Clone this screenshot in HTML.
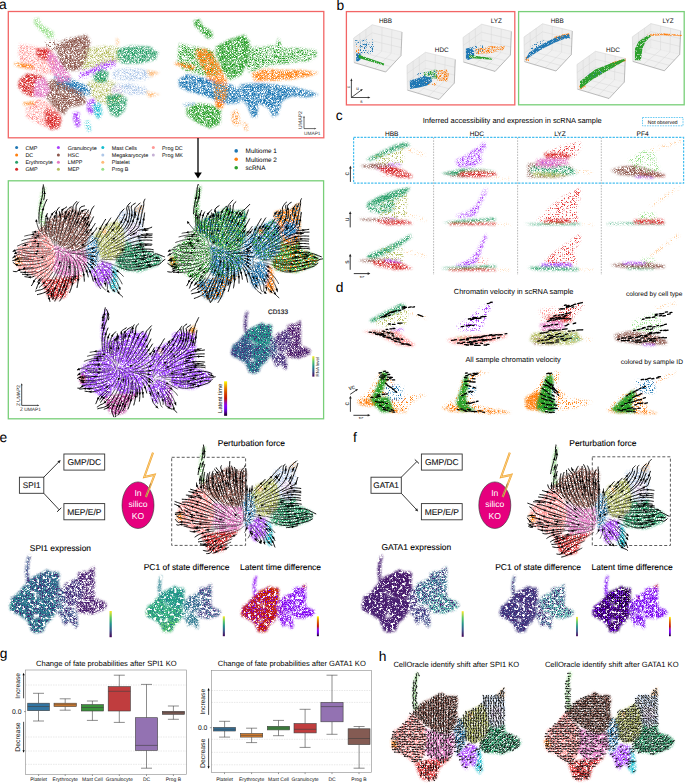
<!DOCTYPE html>
<html><head><meta charset="utf-8"><style>
html,body{margin:0;padding:0;background:#fff;width:685px;height:783px;overflow:hidden}
svg{display:block}
text{font-family:"Liberation Sans",sans-serif;text-rendering:geometricPrecision}
</style></head><body>
<svg width="685" height="783" viewBox="0 0 685 783">
<defs>
<filter id="nz" x="0" y="0" width="685" height="783" filterUnits="userSpaceOnUse">
<feTurbulence type="fractalNoise" baseFrequency="1.5" numOctaves="2" seed="4"/>
<feColorMatrix type="matrix" values="0 0 0 0 1  0 0 0 0 1  0 0 0 0 1  4 0 0 0 -1.38"/>
</filter>
<filter id="nz0" x="0" y="0" width="685" height="783" filterUnits="userSpaceOnUse">
<feTurbulence type="fractalNoise" baseFrequency="1.5" numOctaves="2" seed="21"/>
<feColorMatrix type="matrix" values="0 0 0 0 1  0 0 0 0 1  0 0 0 0 1  4 0 0 0 -0.9"/>
</filter>
<mask id="spk0" maskUnits="userSpaceOnUse" x="0" y="0" width="685" height="783">
<rect x="0" y="0" width="685" height="783" fill="#fff" filter="url(#nz0)"/>
</mask>
<filter id="nzh" x="0" y="0" width="685" height="783" filterUnits="userSpaceOnUse">
<feTurbulence type="fractalNoise" baseFrequency="0.35" numOctaves="2" seed="31"/>
<feColorMatrix type="matrix" values="0 0 0 0 1  0 0 0 0 1  0 0 0 0 1  9 0 0 0 -2.8"/>
</filter>
<mask id="holes" maskUnits="userSpaceOnUse" x="0" y="0" width="685" height="783">
<rect x="0" y="0" width="685" height="783" fill="#fff" filter="url(#nzh)"/>
</mask>
<filter id="nz2" x="0" y="0" width="685" height="783" filterUnits="userSpaceOnUse">
<feTurbulence type="fractalNoise" baseFrequency="1.5" numOctaves="2" seed="9"/>
<feColorMatrix type="matrix" values="0 0 0 0 1  0 0 0 0 1  0 0 0 0 1  4 0 0 0 -1.65"/>
</filter>
<filter id="nz3" x="0" y="0" width="685" height="783" filterUnits="userSpaceOnUse">
<feTurbulence type="fractalNoise" baseFrequency="1.5" numOctaves="2" seed="13"/>
<feColorMatrix type="matrix" values="0 0 0 0 1  0 0 0 0 1  0 0 0 0 1  6 0 0 0 -3.0"/>
</filter>
<mask id="spk2" maskUnits="userSpaceOnUse" x="0" y="0" width="685" height="783">
<rect x="0" y="0" width="685" height="783" fill="#fff" filter="url(#nz2)"/>
</mask>
<mask id="spk3" maskUnits="userSpaceOnUse" x="0" y="0" width="685" height="783">
<rect x="0" y="0" width="685" height="783" fill="#fff" filter="url(#nz3)"/>
</mask>
<filter id="bl" x="-10%" y="-10%" width="120%" height="120%"><feGaussianBlur stdDeviation="1.3"/></filter>
<mask id="spk" maskUnits="userSpaceOnUse" x="0" y="0" width="685" height="783">
<rect x="0" y="0" width="685" height="783" fill="#fff" filter="url(#nz)"/>
</mask>
</defs>
<defs><clipPath id="cpa"><rect x="9" y="184" width="314" height="234"/></clipPath></defs><g clip-path="url(#cpa)">
<g mask="url(#spk)"><g filter="url(#bl)"><path d="M18.2,246.8 L22.8,245.2 L29.8,239.6 L34.4,233.2 L39.1,229.1 L46.0,235.9 L53.4,245.0 L55.8,255.9 L53.4,269.5 L48.8,279.0 L41.4,281.3 L34.4,276.8 L27.5,272.2 L18.2,268.8 L14.7,263.2 L15.9,255.9Z" fill="#ff9896" /><path d="M14.7,257.0 L21.0,256.3 L22.4,264.5 L15.9,266.1Z" fill="#ff7f0e" /><path d="M41.4,225.3 L49.5,218.5 L57.6,215.1 L66.9,210.5 L71.5,207.8 L78.5,211.7 L87.8,211.0 L90.6,215.1 L88.9,226.4 L90.6,235.0 L85.9,246.8 L78.5,251.8 L66.9,249.5 L55.3,242.7 L46.0,235.9 L39.1,229.1Z" fill="#8c564b" /><path d="M43.7,186.7 L46.0,187.8 L43.7,199.2 L43.2,215.1 L44.9,225.3 L40.2,225.3 L38.6,210.5 L40.4,194.6Z" fill="#98df8a" /><path d="M53.4,245.0 L66.9,249.5 L78.5,251.8 L85.9,249.1 L88.2,262.7 L83.6,272.2 L74.3,276.8 L59.9,276.8 L53.0,270.0 L55.8,255.9Z" fill="#e377c2" /><path d="M48.8,279.0 L59.9,276.8 L74.3,276.8 L83.6,273.6 L78.5,279.0 L69.7,285.8 L65.7,297.2 L55.3,299.5 L48.3,297.2 L44.2,288.1 L41.4,281.3Z" fill="#d62728" /><path d="M93.6,235.9 L97.5,232.1 L98.9,227.5 L104.0,226.4 L111.0,223.0 L117.9,219.6 L123.0,226.4 L125.3,240.0 L123.0,251.8 L115.6,258.6 L106.3,260.9 L99.4,256.3 L97.0,244.6Z" fill="#b5bd61" /><path d="M134.2,210.5 L138.8,206.0 L142.7,203.3 L143.4,210.5 L140.2,214.2Z" fill="#ffbb78" /><path d="M102.2,229.1 L105.9,228.2 L106.8,233.7 L102.8,234.6Z" fill="#ffbb78" /><path d="M125.3,240.5 L134.2,245.0 L142.7,240.5 L143.9,249.1 L150.9,251.4 L159.7,255.4 L162.0,259.3 L157.8,265.4 L148.5,268.8 L139.3,272.2 L131.8,271.1 L120.2,270.0 L115.6,265.4 L116.1,258.6 L123.0,251.8Z" fill="#279e68" /><path d="M88.2,272.2 L95.2,267.7 L101.7,260.9 L111.0,263.2 L114.4,268.4 L113.3,276.3 L109.1,285.8 L104.5,281.3 L99.8,288.1 L95.9,284.7 L92.4,274.5Z" fill="#aa40fc" /><path d="M111.0,264.5 L116.1,268.4 L117.2,276.3 L118.4,288.1 L114.9,292.6 L109.1,285.8 L112.6,276.3Z" fill="#17becf" /></g></g>
<g mask="url(#spk2)"><g filter="url(#bl)"><path d="M85.9,246.8 L90.6,235.0 L93.6,235.9 L97.5,238.2 L99.8,255.9 L95.2,267.7 L88.2,272.2 L87.1,260.4Z" fill="#1f77b4" /><path d="M117.9,219.6 L117.9,212.8 L124.9,210.5 L134.2,210.5 L138.8,206.4 L142.7,204.8 L143.4,226.4 L142.7,240.5 L134.2,245.0 L125.3,240.5 L123.0,226.4Z" fill="#aec7e8" /><path d="M127.7,224.1 L138.3,222.3 L141.1,233.7 L131.8,238.2 L126.3,233.7Z" fill="#c5b0d5" /></g></g>
<path d="M53.2 249.4l0 0 0 0 0 0 0 0 0 0 0 0 0 0 0 0 0 0 0 0 0 0 .2-.1 .1-.1 0-.1 1.4 .1 1.4 0 1.3-.2 1.3-.6 1.2-.7 1.1-.9 1-1 .9-1.1 .8-1.1 .8-1.2 .7-1.1 .8-1.2 .7-1.3M100.8 261.4l1.3 .2 1.4 .3 1.4 .3 1.3 .3 1.4 .4 1.3 .4 1.4 .4 1.3 .4 1.3 .5 1.3 .5 1.3 .5 1.4 .5M52.2 246.2l-1-1-1.2-.7-1.2-.7-1.3-.6-1.3-.5-1.3-.4-1.4-.4-1.4-.2-1.3-.2-1.4-.1-1.4 0-1.4 0M98.6 261.2l0 .1-.1 .6-1-1-.7-1.2-.2-1.4 .1-1.4 .3-1.4 .5-1.3 .6-1.2 .7-1.2 .8-1.2 .8-1.1 .9-1.1 .9-1.1 .9-1.1M101.1 252l1-1 1-1 1.1-.9 1-.9 1.1-.9M58.6 250.1l1.3 .6 1.2 .6 1.2 .7 1.1 .9 .9 1 .9 1.2 .6 1.2 .5 1.3 .4 1.4 .2 1.3M97.3 263.9l.4 1.3 .6 1.3 .6 1.2 .7 1.3 .7 1.2 .7 1.2 .7 1.2 .7 1.2 .7 1.2 .7 1.2M63.3 251.1l1.3 .4 1.4 .3 1.4 .3 1.3 .3 1.4 .3 1.4 .3M65.5 249.3l1.3-.5 1.3-.6 1.2-.6 1.2-.8 1.1-.8M54.7 246.1l0-1.4-.1-1.4-.1-1.4-.1-1.4-.1-1.4-.1-1.4 0-1.4 .1-1.4 .1-1.4M67.8 251.2l1.4 0 1.4-.1 1.4-.2M67.7 255.9l.7 1.2 .6 1.2M61.5 254l.4 1.3 .3 1.4 0 1.4 0 1.4-.2 1.4-.2 1.4-.3 1.3M50.6 248.9l-1.3-.2-1.4-.2-1.4-.2-1.4-.1-1.4-.1-1.4-.1-1.4 0-1.4 0-1.4 0-1.4 0-1.4 0-1.4 0M55.5 252.2l-.4 1.3-.6 1.3-.8 1.2-.8 1.1-1 1-1.1 .9-1.1 .7-1.3 .7-1.2 .6-1.3 .5-1.4 .5-1.3 .4M96.1 250.8l.5-1.4 .5-1.3 .6-1.2 .7-1.3M58 251.9l.3 1.4 0 1.4-.1 1.4-.3 1.3-.4 1.4-.5 1.3-.6 1.2-.6 1.3-.7 1.2-.7 1.3M99.4 260.4l1.3-.4 1.4-.2 1.4-.2 1.4-.1 1.4 0 1.4 0 1.4 0 1.4 0 1.4 .1 1.4 .1 1.4 .1 1.4 0 1.4 .1M53 250.5l-1.4 .4-1.4 .1-1.4 .1-1.4 0-1.4 .1-1.4 0-1.4 0-1.4 0-1.4 .1-1.4 0-1.4 0-1.4 0-1.4 0-1.4 .1M67.7 246.4l1-.9 1.1-.9 1-1M103.7 252.8l1.1-.7 1.2-.8 1.2-.7 1.2-.7 1.2-.7M65.6 245.5l1-1 .9-1 .9-1.1 .8-1.1M101.9 258.5l1.3-.4 1.4-.4 1.3-.3 1.4-.3 1.4-.2 1.4-.2 1.4-.2 1.4-.2 1.3-.2 1.4-.1M53 261.7l-.9 1.1-1 1-1 1M113.4 257.7l1.4-.1 1.4 0M55.9 246.1l.3-1.4 .2-1.3 .2-1.4 .1-1.4 .2-1.4 .2-1.4 .2-1.4 .2-1.4 .3-1.3M101.5 266.4l.9 1 1 1.1 .9 1 1 1 .9 1.1 .9 1.1 .8 1.1 .8 1.1M58.9 246.2l.8-1.2 .7-1.2 .6-1.3 .6-1.2 .5-1.3 .6-1.3 .5-1.3 .5-1.3M101.9 263.8l1.2 .7 1.2 .7 1.2 .7 1.2 .8 1.1 .8 1.2 .8 1.1 .9 1.1 .8 1 1 1.1 .9M53.1 243.7l-.5-1.3-.5-1.3-.5-1.3-.6-1.3-.5-1.3-.5-1.3-.5-1.3-.3-1.4M49 241.7l-1.2-.8-1.2-.7-1.2-.7-1.3-.6-1.3-.4-1.4-.4-1.4-.2M63.9 256.5l.3 1.3 .2 1.4 0 1.4-.1 1.4M53 252.7l-1.1 .8-1.3 .6-1.4 .4-1.3 .3-1.4 .3-1.4 .3-1.3 .2-1.4 .2-1.4 .1-1.4 .2-1.4 .1-1.4 .1-1.4 0M48 236.6l-.7-1.2-.6-1.3M43.3 244l-1.3-.2-1.4-.1-1.4 0-1.4-.1-1.4 .1-1.4 0M50.4 252.5l-1.4 .2-1.4 .2-1.4 .2-1.4 .1-1.4 .1-1.4 .1-1.4 .1-1.4 0-1.4 .1-1.4 0-1.4 .1M96 272.8l.4 1.3 .5 1.3 .5 1.3 .5 1.3M116.1 261.1l1.3 .2M102.5 256l1.2-.6 1.3-.6 1.3-.6 1.3-.5 1.3-.5 1.3-.5 1.3-.5 1.3-.5M45.6 259.1l-1.4 .4-1.4 .3-1.3 .3-1.4 .3M111 266.9l1.2 .7 1.2 .7 1.1 .8M58 244.1l.4-1.3 .4-1.3 .4-1.4 .3-1.3 .4-1.4 .4-1.3 .3-1.4M45.6 236.5l-1.1-.9-1-1M45.1 246.6l-1.4-.2-1.4-.1-1.4-.1-1.4 0-1.4 0-1.4 0-1.4 0-1.4 .1M47.3 256.5l-1.3 .3-1.4 .3-1.4 .2-1.4 .2-1.3 .2-1.4 .2-1.4 .2M42.9 236.3l-1.3-.3M52.2 236.8l-.2-1.4-.1-1.4 0-1.4M60.2 260.4l-.3 1.3-.4 1.3-.5 1.4" fill="none" stroke="#000" stroke-width="0.45" stroke-linejoin="round"/><path d="M66.9 238.8l.6-1.2 .7-1.2 .6-1.3 .7-1.2 .6-1.3 .6-1.2 .6-1.3 .6-1.3 .6-1.2 .6-1.3 .5-1.3 .6-1.3M116.9 266.1l1.3 .5 1.2 .5 1.3 .5 1.4 .6 1.3 .4 1.3 .5 1.3 .4 1.4 .3 1.4 .2 1.4 .1 1.4 .1 1.4-.1 1.4-.1M36.6 241.4l-1.4 0-1.4 .1-1.4 .1-1.4 .2-1.4 .2-1.4 .2-1.4 .3-1.3 .4-1.4 .4-1.3 .4-1.3 .5-1.3 .6-1.2 .6-1.3 .5-.7 .3M103.1 246.2l1-1 1-1 1-1 .9-1 1-1 1-.9 1.1-1 1-1 1-.9 1-1 1-1 1-1 .9-1M106.3 247.3l1.1-.9 1.1-.9 1.1-.8 1.1-.9 1.1-.8 1.2-.8 1.1-.9 1.1-.8 1.1-.8 1.2-.9 1.1-.8 1.1-.9 1.1-.8M66.9 260.3l.1 1.4 .1 1.4-.1 1.4-.1 1.4-.2 1.4-.2 1.4-.2 1.4-.4 1.3-.3 1.4-.4 1.3-.4 1.4-.4 1.3-.4 1.3-.5 1.4M103.8 276.2l.6 1.3 .7 1.2 .6 1.3 .5 1.3 .5 1.3 .4 1.3 .3 1.4 .1 1.4-.1 1.4-.2 1.4 .4 1.3 1 1M71.5 253l1.3 .3 1.4 .2 1.4 .3 1.4 .2 1.4 .2 1.3 .3 1.4 .2 1.4 .2 1.4 .2 1.4 .2 1.4 .2 1.4 .1 1.3 .2M71.6 246l1.1-.8 1.1-.9 1.1-1 1-.9 .9-1 1-1.1 .9-1 1-1.1 .9-1 .8-1.1 .9-1.1 .8-1.1 .9-1.2 .8-1.1M54.4 233.5l.2-1.4 .1-1.3 .2-1.4 .3-1.4 .2-1.4 .3-1.4 .2-1.3 .3-1.4 .2-1.4 .2-1.4 .2-1.4M72 250.9l1.4-.2 1.4-.3 1.3-.3 1.4-.5 1.3-.4 1.3-.6 1.2-.5 1.3-.7 1.2-.6 1.3-.7 1.2-.7 1.1-.8 1.2-.8 1.1-.8M96 237.6l.6-1.3 .5-1.3 .6-1.3 .6-1.2 .6-1.3 .7-1.3M114.9 243.5l1.2-.8 1.2-.7 1.2-.8 1.2-.7 1.2-.7 1.2-.8 1.1-.7M69 258.3l.5 1.3 .4 1.4 .3 1.4 .2 1.3 .2 1.4 0 1.4 0 1.4 0 1.4-.1 1.4-.2 1.4-.2 1.4-.2 1.4-.3 1.4-.3 1.3M61.5 263.6l-.4 1.4-.4 1.3-.5 1.3-.5 1.4-.5 1.3-.5 1.2-.6 1.3-.6 1.3-.6 1.3-.6 1.2-.6 1.3-.7 1.2-.6 1.3M33.9 248l-1.4 .1-1.4 0-1.4 0-1.4 .1-1.4 .1-1.4 0-1.4 .1-1.4 .3-1.3 .4-1.4 0-1.4 .2-1.3 .3-1.4 .5M70.1 254.9l1.1 .9 1 .9 1 1.1 .9 1 .7 1.2 .7 1.2 .6 1.3 .6 1.3 .4 1.3 .4 1.4 .2 1.3 .3 1.4 .2 1.4 .1 1.4M43.2 262.4l-1.3 .4-1.4 .3-1.4 .3-1.3 .3-1.4 .3-1.4 .2-1.4 .1-1.4 .2-1.4 .1-1.4 .1-1.4 .1-1.4 0-1.4 .1-1.4 .1-1.4 .1-1.3 .1M77.6 253.2l1.4 .1 1.4 0 1.4 0 1.4 0 1.4-.1 1.4 0 1.4-.1 1.4-.2 1.4-.1M98.4 245.6l.6-1.2 .7-1.2 .8-1.2 .7-1.2 .8-1.1 .8-1.2 .8-1.1 .9-1.1 .8-1.2 .8-1.1 .9-1.1 .8-1.1M54.4 265.1l-.7 1.2-.7 1.1-.8 1.2-.9 1.1-.8 1.1-1 1.1-.9 1-1 1-1 1-1 1-1 1-1 .9-1 1M80.9 251.5l1.4-.3 1.4-.3 1.3-.3 1.4-.4 1.3-.3 1.3-.5 1.4-.4M117.5 259.9l1.4 .1 1.4 0 1.4 .1 1.4 0 1.4-.1 1.4 0 1.4-.1 1.4-.1 1.4-.1 1.4-.1 1.4-.2 1.4-.1 1.3-.2M33.4 251.4l-1.4-.1-1.4 0-1.4 0-1.4-.1-1.4-.2-1.3-.2-1.4-.3-1.3-.6-.5-.5M70.8 243.6l.9-1 1-1.1 .9-1.1 .9-1 .8-1.1 .9-1.2 .8-1.1 .8-1.1 .8-1.2 .8-1.2 .7-1.1 .8-1.2 .7-1.2M68.2 231.7l.5-1.3 .6-1.2 .5-1.3 .5-1.3 .5-1.3 .5-1.3 .5-1.4M39.2 223.8l-.1-1.4-.1-1.4-.1-1.4M76.9 256.6l1.2 .8 1.2 .7 1.1 .9 1.1 .8 1 1 1 1 1 1 .9 1.1M109.6 249.2l1.3-.7 1.2-.6 1.2-.7 1.3-.7 1.2-.6 1.3-.6 1.2-.7 1.2-.6 1.3-.7 1.2-.6 1.3-.6 1.3-.6 1.2-.6M69.2 241.3l.9-1.2 .8-1.1 .7-1.2 .8-1.1 .8-1.2 .7-1.2 .7-1.2 .7-1.2 .7-1.2 .7-1.3 .7-1.2 .6-1.2 .7-1.2M80.5 246.5l1.2-.7 1.2-.8 1.1-.8 1.2-.8 1.1-.9 0 0M115.6 256l1.4-.2 1.4-.2 1.4-.2 1.4-.2 1.4-.2 1.4-.2 1.3-.2 1.4-.2 1.4-.2 1.4-.3 1.4-.2 1.3-.2 1.4-.2 1.4-.3M72.9 261.4l.5 1.4 .3 1.3 .3 1.4 .1 1.4 .1 1.4 .1 1.4 0 1.4 0 1.4-.1 1.4-.2 1.4M50.1 264.8l-1 .9-1.1 .9-1.2 .8-1.2 .7-1.1 .8-1.3 .7-1.2 .7-1.2 .6-1.3 .6-1.2 .7-1.3 .6-1.3 .5-1.3 .5-1.3 .4-1.4 .3M116.2 257.6l1.4-.1 1.4-.1 1.4-.1 1.4-.1 1.4-.1 1.4-.2 1.4-.1 1.4-.1 1.3-.2 1.4-.2 1.4-.2 1.4-.2 1.4-.2 1.4-.2M28.2 244.3l-1.4 .3-1.4 .3-1.3 .4-1.3 .5-.7 .3M57.8 233.7l.3-1.4 .2-1.4 .3-1.4 .3-1.3 .3-1.4 .3-1.4 .2-1.3 .3-1.4 .2-1.4 .1-1.4 .1-1.4M108.7 274.9l.8 1.2 .8 1.2 .7 1.2 .7 1.2 .6 1.2 .6 1.3 .6 1.3 .6 1.2 .6 1.3 .7 1.2 .7 1.3M63.7 236.1l.5-1.3 .5-1.3 .5-1.3 .5-1.3 .5-1.3 .5-1.4 .4-1.3 .5-1.3 .4-1.3 .4-1.4 .4-1.3 .5-1.3M113.3 271.9l1 1 .9 1 1 1 .9 1.1 .9 1.1 .8 1.1 .8 1.2 .7 1.1 .7 1.3 .7 1.2 .6 1.3 0 0M49.2 233.2l-.3-1.4-.2-1.4-.1-1.4 0-1.4 0-1.4 .1-1.3 .2-1.4 .2-1.4 .3-1.4 .3-1.4 .4-1.3M40 237.9l-1.3-.1-1.4 0-1.4 0-1.4 .1-1.4 .2-1.4 .2-1.4 .2-1.4 .2-1.4 .3-1.3 .4-1.4 .3-1.3 .4-1.3 .5-.7 .2M64.3 262l-.1 1.4-.2 1.4-.3 1.4-.3 1.3-.4 1.4-.4 1.3-.4 1.4-.5 1.3-.5 1.3-.5 1.3-.5 1.3-.6 1.3-.5 1.3M35.4 256.3l-1.4 .1-1.4 0-1.4 0-1.4-.1-1.4-.1-1.4-.1-1.4-.2-1.4-.2-1.3-.3-1.4-.4-1.3-.5-1.2-.5-1.2 .6-1.2 .7M47.1 263.8l-1.2 .6-1.3 .6-1.3 .5-1.3 .5-1.3 .5-1.4 .4-1.3 .4-1.4 .4-1.3 .3-1.4 .3-1.4 .3-1.3 .2-1.4 .1-1.4 .1-1.4 .1-1.4 .1-1.4 .1M46.7 234.1l-.6-1.2-.4-1.4-.2-1.4-.2-1.3-.1-1.4-.1-1.4 0-1.4 .1-1.4 .1-1.4 .2-1.4 .2-1.4M35 243.7l-1.4 .1-1.4 .1 0 0M35 253.7l-1.4 0-1.4 0-1.4-.1-1.4 0-1.4-.2-1.3-.2-1.4-.2-1.4-.4-1.2-.6-.6-.4M97.9 278l.6 1.3 .5 1.3 .6 1.3 .7 1.2 .6 1.2 .7 1.3 .7 1.2 .9 1.1 1.1 .8 .9 1.1 .4 .6M117.4 261.3l1.4 .2 1.4 .1 1.4 .1 1.4 .1 1.4 .1 1.4 0 1.4 .1 1.4-.1 1.4 0 1.4-.1 1.4-.1 1.4-.2 1.4-.1M84.5 241.7l1.1-1 1-.9 1-1 1-1M57.6 268.7l-.6 1.2-.6 1.3-.6 1.3-.7 1.2-.6 1.2-.7 1.2-.7 1.3-.7 1.2-.7 1.2M48.8 268.5l-1.1 .9-1.1 .9-1.1 .9-1.1 .8-1.2 .8-1.1 .8-1.1 .8-1.2 .8-1.1 .9-1.1 .9-1 .9M118.4 263.5l1.4 .3 1.4 .3 1.3 .2 1.4 .2 1.4 .2 1.4 .1 1.4 0 1.4 .1 1.4-.1 1.4-.1 1.4-.1 1.4-.1M74.9 266l.2 1.4 .2 1.4 .1 1.4 0 1.4 0 1.4 0 1.4M82.9 263.7l.7 1.2 .7 1.2M112.8 251.7l1.3-.4 1.4-.5 1.3-.5 1.3-.4 1.3-.4 1.4-.5 1.3-.4 1.3-.5 1.4-.4 1.3-.4 1.4-.4 1.3-.4 1.4-.3M40.1 260.4l-1.4 .2-1.4 .2-1.4 .2-1.3 .1-1.4 .1-1.4 .1-1.4 .1-1.4 0-1.4 0-1.4 0-1.4 0-1.4 0-1.4 .1-1.4 0-1.4 0M95.9 243.8l.6-1.3 .5-1.3 .6-1.3 .6-1.2 .7-1.3 .6-1.2 .7-1.2 .7-1.3 .7-1.2 .7-1.2 .8-1.2M114.5 269.1l1.2 .7 1.2 .9 1.1 .8 1.1 .8 1.1 .9 1 1 1 .9 1 1.1 .4 .5M117 253.9l1.4-.3 1.3-.3 1.4-.3 1.4-.3 1.4-.2 1.3-.3 1.4-.3 1.4-.3 1.3-.3 1.4-.3 1.4-.2 1.4-.3M75.1 246.2l1.1-.9 1.1-.8 1.1-.9 1.1-.9 1-1 1-.9 1-1 1-1 .9-1 1-1.1 .9-1.1M60.6 234.7l.4-1.3 .4-1.4 .4-1.3 .3-1.4 .4-1.3 .3-1.4 .4-1.4 .3-1.3 .3-1.4 .2-1.4 .3-1.3M33.5 267.3l-1.4 .2-1.4 .2-1.4 .1-1.4 .1-1.4 .1-1.4 .1-1.3 .1M111.2 273.6l.9 1.1 .8 1.1 .8 1.1 .8 1.2 .7 1.2 .7 1.2 .7 1.2 .7 1.2 .6 1.3 .6 1.3 .6 1.2 .5 1.3M43.5 234.6l-1.1-.9-.3-1.3-.2-1.4-.2-1.4-.1-1.4-.2-1.4-.1-1.4 0-1.4 0-1.4 0-1.4 0-1.4M77.1 259.4l.9 1.1 .8 1.1 .8 1.2 .7 1.2 .7 1.2 .5 1.3 .5 1.3 .5 1.3M33.9 246.3l-1.4 0-1.4 .1-1.4 .1 0 0M53 271.6l-.8 1.2-.8 1.1-.8 1.2-.8 1.1-.9 1.1-.9 1.1-.9 1M115.9 248.5l1.3-.6 1.2-.5 1.3-.5 1.3-.6 1.3-.5 1.3-.5 1.3-.5 1.3-.5 1.4-.5 1.3-.5M130.4 248.7l1.4-.3M33.8 259.3l-1.4 .1-1.4 0-1.4 0-1.4-.1-1.4 0-1.4-.1-1.4 0-1.4-.1-1.4 0-1.4 0-1.3 .2-1.4 .2M37.7 258.1l-.7 0M40.9 234l-1.4-.1-1.4 0-1.4 .1-1.4 .1-1.4 .2-1.4 .1-1.4 .3-1.3 .2-1.4 .3-1.4 .3-1.3 .3-1.4 .4 0 0M123.3 266.4l1.4 .3 1.4 .2 1.4 .2 1.4 .1 1.4 .1 1.4-.1 1.4-.1 1.4-.1M96 281.4l.6 1.2 .7 1.3 .7 1.2 .8 1.2 .8 1.1 .9 1.1 .5 .5M41.6 236l-1.4-.1-1.4-.1-1.4 .1-1.4 0-1.4 .1-1.4 .2-1.4 .2 0 0M51.9 232.6l.1-1.4 .1-1.4 .1-1.3 .2-1.4 .2-1.4 .3-1.4 .3-1.4 .3-1.3 .3-1.4 .4-1.3 .3-1.4M69 261.3l.2 1.3 .1 1.4 0 1.4 0 1.4-.1 1.4-.1 1.4-.2 1.4-.2 1.4-.1 .7M65.2 222l.3-1.4 .3-1.4M82.7 256.4l1.4 .5 1.3 .4 1.3 .5 1.3 .5 1.3 .5M40.6 232l-.8-1.1-.7-1.2-.6-1.3-.5-1.3-.4-1.3-.4-1.4-.3-1.3-.3-1.4-.3-1.4M21.4 253.2l-1-.9-1.3-.4-1.4 .3-1.3 .5-1.2 .7M46.8 229.8l-.1-1.4-.1-1.4 0-1.4 .1-1.4 .1-1.4 .2-1.4 .2-1.3 .3-1.4M36.1 271l-1.3 .4-1.4 .3-1.3 .3-1.4 .2-1.4 .1-1.4 .1M59 264.4l-.5 1.3 0 0M106.4 275.6l.7 1.2 .6 1.2 .7 1.3 .5 1.3 .6 1.3 .4 1.3 .4 1.3 .3 1.4 .3 1.3 .5 1.4 1 1 1.1 .9M74.9 227.3l.6-1.3 .6-1.2M35.3 275.6l-1.2 .6M106 238.2l.9-1.1 .9-1.1 .9-1.1 .9-1 .9-1.1 .9-1.1M28.9 258.2l-1.4-.1-1.4-.1-1.4-.2-1.4-.1-1.4-.1-1.4 .1-1.3 .2-1.4 .4M43.1 276.2l-1 1-1.1 .9M67.4 275.7l-.4 1.3-.4 1.4M120.5 250.6l1.3-.4 1.4-.3 1.3-.4 1.4-.4 0 0M85 234.4l.9-1.1M104.1 280.8l.6 1.3 .4 1.3 .4 1.4 .3 1.3 0 .7M38.1 231.9l-1.4-.1-1.4 .1-1.4 .1-1.3 .1-.7 .1M111.1 241l1.1-.9 1-.9 1.1-.9 1.1-1 1-.9 1.1-.9 0 0" fill="none" stroke="#000" stroke-width="0.7" stroke-linejoin="round"/><path d="M74.2 223.7l.6-1.2 .5-1.3 .6-1.3 .5-1.3 .6-1.3 .5-1.3 .5-1.3 .5-1.3 .5-1.3 .4-1.4 .2-1.3 .3-1.4 1-1 1.3-.5 1.3-.4 1.4-.3 0 0M134.4 270l1.4-.2 1.3-.2 1.4-.2 1.4-.3 1.4-.2 1.3-.3 1.4-.4 1.4-.3 1.3-.3 1.4-.4 1.3-.3 1.4-.4 1.3-.4 1.4-.3 1.3-.4 1.4-.3 1.4-.3 1.2-.3 1.2-.8 1-.9 1-1 1-.9 1.1-1 1.2-.6 0 0M116 233.4l1-1 .9-1.1 1-1 .8-1.1 .9-1.1 .8-1.1 .8-1.2 .8-1.1 .7-1.2 .7-1.3 .6-1.2 .6-1.3 .5-1.3 .4-1.4 .3-1.3 .3-1.4 .2-1.4-.1-1.4-.2-1.4-.3-1.3 .1-1.4 .6-1.3 .8-1.1 .9-1.1 1-.9 .6-.5M120.8 236.3l1.1-.9 1.1-.9 1-.9 1.1-.9 1-1 1-1 1-1 .9-1 .8-1.2 .8-1.1 .7-1.2 .6-1.3 .6-1.3 .4-1.3 .4-1.3 .4-1.4 .3-1.4 .2-1.3 .2-1.4 .1-1.4 .1-1.4 .1-1.4 .1-1.4 .4-1.3 1-1 1-1 1-1 1.1-.9 1.1-.8 0 0M63.5 279.5l-.5 1.3-.4 1.3-.5 1.3-.6 1.3-.5 1.3-.5 1.3-.5 1.3-.5 1.3-.5 1.3-.5 1.3-.5 1.3-.5 1.4-.5 1.3-.5 1.3-.6 1.3-.8 1.1-.3 1.3 0 0M108.6 291.8l.6 .3M89.4 255.8l1.4 .2 1.4 .2 1.4 .2 1.4 .2 .7 .1M84.8 231.6l.8-1.2 .8-1.1 .7-1.2 .8-1.2 .7-1.1 .8-1.2 .7-1.2 .7-1.3 .7-1.2 .6-1.2 .6-1.3 .6-1.2 .3-.7M56.8 218.3l0-1.4-.1-1.4-.4-1.3-.2-1.4 .4-1.3 .6-1.3 .7-1.2 .9-1.1 1-1 0 0M89.7 243l1.2-.8 1.1-.9 1.1-.8 1.1-.9 1-.9 .8-1.1M99.6 229.9l.6-1.2 .7-1.2 .6-1.3 .7-1.2 .7-1.2 .7-1.2 .7-1.2 .7-1.2 .8-1.2 0 0M123.2 238.3l1.2-.8 1.2-.8 1.2-.7 1.1-.8 1.2-.7 1.2-.8 1.2-.8 1.1-.8 1.2-.7 1.1-.8 1.2-.9 1-.9 1-1 .7-1.2 .4-1.3 .4-1.4 .4-1.3 .3-1.4 .3-1.4 .3-1.3 .2-1.4 .3-1.4 .3-1.3 .3-1.4 .3-1.4 .3-1.3 .3-1.4 .4-1.4 .3-1.3 .2-1.4 0-1.4-.1-1.4 .5-1.3 .6-1.3 .3-.6M69.3 277.6l-.3 1.4-.4 1.3-.3 1.4-.5 1.3-.4 1.4-.4 1.3-.5 1.3-.5 1.3-.5 1.3-.5 1.3-.5 1.3-.6 1.3-.6 1.3-.6 1.2-.6 1.3-.7 1.2-.8 1.2-.8 1.1-.4 .6M54.4 280.4l-.6 1.2-.7 1.2-.7 1.3-.7 1.2-.7 1.2-.8 1.1-.8 1.1-1 1.1-1 1-1.1 .8-1.2 .7-1.3 .5-1.3 .5-1.4 .4-1.3 .3-1.4 .4-1.4 .3 0 0M15.9 250.1l-1.3 .5-1.3 .6-.6 .2M78.3 272l.1 1.4 0 1.4 0 1.4 0 1.4-.1 1.4-.1 1.4-.2 1.4-.2 1.4-.2 1.3-.3 1.4-.2 1.4-.2 .7M21.1 265.2l-1.4 .1-1.4 0-1.4-.3-1.2-.7-1.2-.8-1.1-.8-.6-.4M90.2 252.8l1.4-.1 1.4-.2 1.4-.2 1.3-.2 .4-1.3M107.8 231.8l.8-1.2 .9-1.1 .8-1.1 .8-1.2 .8-1.1 .8-1.1 .8-1.2 .8-1.1 .8-1.2 .8-1.2 .7-1.2 .8-1.1 .7-1.2 .8-1.2 .7-1.2 .8-1.1 .8-1.2 .9-1.1 .9-1 1.1-.9 .5-.5M118.5 234.6l1-1 1-1 1-1 .9-1 .9-1.1 .9-1.1 .8-1.1 .7-1.2 .7-1.2 .7-1.3 .5-1.2 .6-1.3 .4-1.4 .4-1.3 .2-1.4 .2-1.4 .2-1.4 0-1.4-.1-1.4-.3-1.3-.3-1.4-.2-1.4 .3-1.4 0 0M42.6 278.8l-.9 1-1 1-.9 1.1-.8 1.1-.8 1.2-.6 1.3-.5 1.3-.4 1.3-.7 1.2 0 0M90.4 249l1.3-.5 1.3-.5 1.3-.5 1.3-.5 .6-.3M135.6 259.1l1.4-.2 1.4-.2 1.4-.2 1.4-.2 1.4-.3 1.3-.2 1.4-.3 1.4-.2 1.4-.3 1.3-.3 1.4-.4 1.3-.4 1.2-.7 1-1.1 1.3-.3 1.3 .2 1.4 .4 1.3 .5 1.3 .6 1.3 .5 1.3 .5 1.3 .5 0 0M81.6 229l.8-1.2 .7-1.2 .7-1.2 .7-1.2 .7-1.2 .7-1.2 .7-1.2 .7-1.2 .7-1.3 .6-1.2 .7-1.3 .6-1.2 .5-1.3 .4-1.4 .5-1.3 .5-1.3 .8-1.2 .8-1.1 .9-1.1 0 0M137.3 230.9l1.3-.5 1.3-.4 1.4-.3 1.3-.2 1.4-.2 1.4-.2 1.4-.3 1.4-.3 1.3-.4 1.3-.5 1.3-.6 0 0M71.8 222.6l.5-1.3 .5-1.3 .5-1.3 .5-1.3 .5-1.3 .5-1.3 .4-1.3 .4-1.4 .2-1.4 .2-1.4 0-1.4 .1-1.4 .3-1.3 .7-1.3 .8-1.1 1-1 0 0M38.9 219.6l0-1.4 0-1.4 .1-1.4 0-1.4 .1-1.4 .2-1.4 .1-1.4 .2-1.3 .2-1.4 .3-1.4 .3-1.4 .3-1.3 .3-1.4 .4-1.4 .3-1.3 .3-1.4 .3-1.4 .1-1.3 .1-1.4 .1-1.4 .1-1.4 0-1.4 .1-1.4 .4-1.4 .2-1.3-.1-.7M85.4 263.9l.8 1.1 .9 1.1 .7 1.2 .7 1.2 .7 1.2 .7 1.3 .5 1.2 .6 1.3 .5 1.3 .4 1.3 .5 1.4 .3 1.3 .4 1.4 .3 1.3 0 0M125.8 240.9l1.3-.6 1.3-.6 1.3-.6 1.2-.5 1.4-.5 1.3-.5 1.3-.4 1.3-.4 1.4-.3 1.4-.3 1.4-.3 1.3-.2 1.4-.1 1.4-.1 1.4-.1 1.4-.1 1.4 0 1.4 0 1.4 .1 .7 0M78.7 225.8l.7-1.3 .6-1.2 .7-1.3 .6-1.2 .7-1.2 .7-1.2 .7-1.2 .8-1.2 .8-1.2 .8-1.1 .9-1.1 .9-1.1 .6-1.2 .6-.3M135 253l1.4-.2 1.4-.2 1.4-.2 1.4-.2 1.3-.1 1.4-.2 1.4-.1 1.4-.1 1.4-.1 1.4 0 1.4 0 1.4 .1 1.4 .2 .7 .2M74 275.3l-.2 1.3-.2 1.4-.2 1.4-.3 1.4-.3 1.4-.3 1.3-.3 1.4-.4 1.3-.4 1.4-.4 1.3-.5 1.3-.5 1.3-.5 1.4 0 0M31.7 274.5l-1.4 .2-1.4 .1-1.4 0-1.4-.1-1.4-.1-1.4-.2-1.3-.2 0 0M139.4 256.2l1.3-.2 1.4-.2 1.4-.2 1.4-.2 1.4-.2 1.4-.2 1.3-.2 0 0M135.7 255.5l1.4-.2 0 0M129.9 232.1l1.1-1 1-.9 1-1 .9-1.1 .8-1.2 .6-1.2 .6-1.2 .5-1.3 .5-1.4 .3-1.3 .4-1.4 .3-1.4 .3-1.3 .3-1.4 .2-1.4 .4-1.3 .3-1.4 .5-1.3 .5-1.3 .5-1.3 .6-1.3 .3-.6M60.4 218.5l0-1.4-.1-1.4-.3-1.4-.3-1.3-.4-1.4-.1-.7M146 265.8l1.4-.3 1.3-.4 1.4-.3 1.4-.3 0 0M116.1 288.5l.7 1.1 .8 1.2 .6 1.3 .6 1.1 1 1 1 1 1 1 1 .9 0 0M69.3 220.3l.4-1.4 .4-1.3 .5-1.3 .5-1.4 .4-1.3 .5-1.3 .4-1.3 .4-1.4 .1-1.4 0-1.4 .5-1.3 .7-1.1 .9-1.1 1-1.1 1-1 0 0M134.7 218.2l.3-1.4 .2-1.4 .2-1.4 .2-1.3 .2-1.4 0 0M116.1 229.5l.9-1.1 .8-1.1 .9-1.1 .7-1.2 .8-1.2 .7-1.2 .7-1.2 .6-1.3 .7-1.2 .6-1.3 .5-1.3 .5-1.3 .5-1.3 0 0M50.1 218l.6-1.3 .6-1.2 .7-1.2 .9-1.1 1-1 1-1 .4-.5M59.1 279.4l-.6 1.3-.5 1.2-.6 1.3-.6 1.3-.6 1.3-.5 1.3-.6 1.2-.5 1.3-.5 1.3-.4 1.4-.3 1.4-.2 1.3 .1 1.4 .2 1.4 .5 1.3 0 0M16.6 255.3l-1.2 .8-1.2 .7-1.2 .8-.6 .4M24.2 269.3l-1.4 .1-1.4 .2-1.4 .2-1.3 .5-1.2 .7-1.2 .7-1.4-.1-1.4-.2-.6-.2M45.7 219l.3-1.4 .3-1.3 .5-1.4 .5-1.3 .3-.6M43.6 200.2l.4-1.3 .3-1.4 .2-1.3 .1-1.4 0-1.4-.1-1.4-.2-1.4-.1-1.4-.3-1.4-.2-1.4 0 0M87 262.1l1.1 .9 1 1 1 1 1 1 .9 1.1 .8 1 .9 1.2 .8 1.1 .8 1.2 .7 1.2M135.6 261.4l1.4-.2 0 0M88.6 237.8l1-1 1-1 .9-1 .9-1.1 .9-1 .9-1.1 .9-1.1 .9-1.1 .5-1.3 .3-.6M51.7 279.8l-.8 1.1-.8 1.2-.8 1.1-.9 1.1-1 1-1 1-1 1-1.1 .8-1.2 .7-1.3 .6-1.3 .5-1.4 .2-1.4 .3-1.3 .4-1.3 .5 0 0M36.6 277.9l-1 1-.9 1.1-.8 1.1-.6 1.3-.6 1.3-.6 1.2-.9 1.1 0 0M142.5 227.1l.2-1.4 .2-1.4 .2-1.3 .2-1.4 .2-1.4 .2-1.4 .3-1.4 .2-1.4 .2-1.3 .2-1.4 .1-.7M135.1 264.5l1.4-.2 1.4-.2 1.3-.3 1.4-.2 1.4-.2 1.4-.3 1.3-.3 1.4-.3 1.4-.3 1.3-.3 1.4-.3 1.4-.3 1.3-.3 1.4-.2 1.4-.2 1.4 0 1.4 .1 1.4-.1 .7-.2M75.4 274.4l-.1 1.4-.2 1.4-.1 1.4-.2 1.4 0 0M84.3 266.1l.7 1.2 .6 1.3 .6 1.3 .5 1.3 .4 1.3 .4 1.4 .4 1.3 .3 1.4 .1 .7M130.2 246.2l1.3-.4 1.4-.3 1.3-.3 1.4-.3 1.4-.2 1.4-.3 1.4-.2 1.3-.1 1.4-.1 1.4-.1 1.4-.1 1.4 .1 1.4 0 1.4 .1 1.4 .1 1.4 .2 0 0M19.2 261.5l-1.4-.1 0 0M103.1 230.1l.7-1.2 .7-1.2 .8-1.1 .7-1.2 .8-1.2 .7-1.2 .8-1.2 .8-1.1 .7-1.2 .8-1.2 .4-.6M133.5 250.5l1.3-.2 1.4-.2 1.4-.2 1.4-.2 1.4-.2 1.4-.2 1.4-.1 1.4-.1 1.4 0 1.4 0 1.4 0 1.4 .1 1.3 .2 1.4 .2 .7 .2M152.6 258.6l1.3-.4 1.4-.4 1.4 .1 1.3 .3 1.4 .3 .7 .2M86.3 235.6l.9-1 .9-1.1 .8-1.1 .9-1.1 .8-1.1 .9-1.2 .8-1.1 .7-1.2 .8-1.1 .8-1.2 .7-1.2 0 0M64.3 219.8l.2-1.4 .2-1.4 .2-1.4 .3-1.4 .3-1.3 .6-1.3 .8-1.1 1-1.1 1-1 1-.9 1.3-.6 .6-.3M23.8 268.2l0 0M125.9 229.4l.9-1.1 .8-1.1 .7-1.2 .7-1.2 .6-1.3 .5-1.3 .5-1.3 .4-1.4 .3-1.3 .3-1.4 .2-1.4 .1-1.4 .1-1.4-.1-1.4-.2-1.4-.3-1.3-.2-1.4 .5-1.3 1-1 1.2-.7 1.2-.7 .6-.4M119.6 288l.4 1.4 0 0M41.3 219.8l.1-1.4 .2-1.4 .1-1.4 .3-1.4 .2-1.3 .3-1.4 .3-1.4 .4-1.3 .4-1.4 .4-1.3 .5-1.3 .6-1.3 .5-1.3 .6-1.2 .7-1.3 .3-.6M82.5 269.1l.4 1.4 .3 1.3 .3 1.4 .2 1.4 .2 1.4 .2 1.4 .1 1.4 .1 1.4 0 1.4 0 0M139.5 260l1.4-.2 1.4-.3 1.4-.2 1.3-.3 1.4-.2 0 0M79.6 215.2l.6-1.2 .7-1.3 .7-1.1 1.1-.9 1.3-.6 1.3-.4 1.4-.3 0 0M47.1 279.4l-.9 1.1-1 1-.9 1.1-1 1-1 1-1 .9-1 1-1 .9 0 0M128.9 243.3l1.3-.4 1.3-.5 1.4-.4 1.3-.3 1.4-.4 1.3-.3 1.4-.2 1.4-.3 1.4-.2 1.4-.1 1.4-.1 1.4 0 1.4-.1 1.4 .1 1.4 0 1.4 .1 1.4 .1 0 0M131.8 248.4l1.3-.3 1.4-.2 1.4-.3 1.4-.2 1.4-.2 1.4-.1 1.4-.2 1.3-.1 1.4-.1 0 0M17.1 259.5l-1.4 .3-1.3 .4-1.3 .3-.7 0M140.7 234.7l1.4-.2 1.4-.2 1.4-.1 1.4-.1 1.4 0 1.4-.1 1.4 0 1.4 0 .7 0M137.7 238.2l1.4-.3 1.4-.2 1.4-.2 1.4-.1 1.4-.1 1.4 0 1.4-.1 1.4 0 1.4 .1 1.4 .1 .7 0M50.3 290.3l-.9 1.2-.9 1-1.2 .8-1.2 .7 0 0M134.5 267l1.4-.1 1.3-.2 1.4-.3 1.4-.2 1.4-.2 1.4-.3 1.3-.3 0 0M62.4 215.1l-.2-1.4-.3-1.4-.2-1.4 .6-1.1 1.2-.8 1.2-.7 1.2-.8 1.1-.8 0 0M53.1 289l-.6 1.3-.5 1.3-.3 1.4-.2 1.4 .1 1.4 .3 1.3 .4 1.3 .6 1.3 0 0M94.2 276.1l.5 1.3 .4 1.3 .4 1.4 .5 1.3M54.5 217.5l.4-1.3 .4-1.4 0 0M65.8 219.2l.3-1.3 .3-1.4 .2-.7M89.3 258.8l1.3 .5 1.3 .6 1.3 .5 1.2 .6 1.3 .7 0 0M36.3 220.3l0 0M15.2 253.4l-.6 .3M47.5 218.7l.2-.7M27.9 272.4l-1.4 0-1.4 0-1.4 0-1.4-.1-1.4-.1-.7 0M72.3 276.2l-.3 1.4-.3 1.4-.3 1.3-.3 1.4-.2 .7M113.5 290.5l1.1 .8 .6 .4M76.1 224.8l.6-1.3 .6-1.3 .6-1.2 .6-1.3 .7-1.2 0 0M34.1 276.2l-1.3 .6-1.3 .4-1.4 .1-1.4-.1-1.4-.2-1.4-.2-1.4-.2 0 0M130 235.7l1.3-.6 1.2-.7 1.3-.6 1.2-.6 1.3-.6 .7-.2M111.4 231.7l.9-1.1 .9-1.1 .8-1.1 .9-1.1 .4-.5M17.8 258.3l-.7 .2M41 278.1l-1 1-.9 1.1-.9 1-.8 1.2 0 0M85.3 227l.8-1.2 .7-1.2 .7-1.2 .7-1.2 .7-1.2 0 0M66.6 278.4l-.4 1.3-.4 1.3-.5 1.4-.4 1.3-.5 1.3-.5 1.3-.5 1.3-.5 1.3-.5 1.3-.6 1.3-.5 1.3-.6 1.3 0 0M85.9 233.3l.8-1.1 .8-1.1 .9-1.2 0 0M90.1 261.4l1.2 .8 1.1 .8 1.1 .9 1.1 .9 1.1 .9 .5 .4M83.5 222.1l.7-1.2 .7-1.2 .7-1.3 .7-1.2 .3-.6M48.2 295l.3 1.4 .4 1.3 .4 1.4 .4 1.3 .3 1.4 0 0M139.6 245.4l1.4-.1 1.4-.1 1.4-.1 1.4-.1 1.4 0 1.4 .1 1.4 .1 1.4 .1 .7 .1M142.1 230.7l1.4-.2 1.4-.2 1.4-.1 1.4-.2 .7-.1M67.6 217.2l.4-1.3 .5-1.3 .5-1.3 .6-1.3 0 0" fill="none" stroke="#000" stroke-width="0.95" stroke-linejoin="round"/><path d="M79 212.1l.2 3.1-2.3-.9zM152.1 266.1l-2.3 2-.7-2.5zM33.1 241.5l2.7-1.4 .1 2.5zM126.3 217.7l.2 3.1-2.4-1zM133.6 219.3l.3 3-2.4-.7zM58.7 291.9l-.1-3.1 2.3 .9zM109.6 292.7l-2.9-1 1.8-1.8zM94.3 256.5l-2.9 .9 .3-2.5zM90.1 223.4l-.4 3-2.1-1.3zM56.5 210.8l.9 2.9-2.5-.3zM101.2 226.9l-.2 3-2.2-1.2zM140.4 220.6l.6 2.9-2.4-.6zM65 290.9l-.2-3 2.4 .9zM47 291.3l1-2.9 1.8 1.8zM12.7 251.4l2.1-2.2 1 2.3zM78 281.8l-1-2.9 2.5 .2zM15 264.1l3-.1-.9 2.4zM115.1 221.5l-.5 3-2.1-1.4zM128.6 219.8l.2 3-2.3-.9zM37.8 284.7l.5-2.9 2.1 1.4zM94.3 247.5l-2.1 2.2-.9-2.4zM152.1 256l-2.3 1.9-.7-2.4zM35.6 251.3l2.7-1.3 0 2.6zM89 216.3l-.2 3-2.2-1.2zM146.8 228.8l-2.6 1.7-.3-2.5zM75.9 210.8l.5 3-2.4-.7zM41.2 200.9l.5 3-2.4-.6zM91 273.5l-2.3-2 2.3-1.1zM140.3 235.9l-2.4 1.8-.5-2.5zM83.8 216.6l-.3 3-2.2-1.3zM84.6 243.8l-1.5 2.6-1.5-2.1zM145.4 251.7l-2.6 1.5-.3-2.5zM72 285.5l-.6-2.9 2.5 .6zM25.5 274.7l2.8-1.2-.1 2.5zM146.3 255.2l-2.6 1.7-.4-2.5zM137.7 255.2l-2.5 1.7-.4-2.5zM23.4 245.5l2.4-2 .6 2.5zM138.1 217.1l.6 3-2.5-.6zM59.8 213l1.7 2.5-2.5 .4zM150.8 264.7l-2.4 1.8-.6-2.4zM119.5 294.4l-2.4-1.8 2.2-1.2zM73 209l.4 3-2.4-.7zM114.8 273.3l-2.9-.9 1.7-1.9zM135.6 212.7l.9 2.9-2.5-.4zM122.3 220.2l-.3 3-2.2-1.2zM53.2 212.6l-.5 3-2.1-1.5zM33.8 238l2.7-1.4 .1 2.5zM54.3 290.3l-.1-3.1 2.4 1zM13 257.6l1.7-2.6 1.3 2.2zM17.4 270.7l2.2-2.1 .8 2.4zM46.9 214.3l.5 3-2.5-.7zM36.4 243.6l2.8-1.2-.1 2.5zM34.4 253.7l2.7-1.3 .1 2.5zM44.5 191.3l1.4 2.7-2.6 .1zM93.3 268.7l-2.7-1.4 1.9-1.6zM137.7 261.1l-2.6 1.6-.3-2.5zM93.8 232.1l-.9 3-1.9-1.7zM43.8 288.6l1.3-2.8 1.6 2zM33 283l.2-3.1 2.2 1.3zM144 217.4l.8 3-2.5-.4zM149.5 261.8l-2.4 1.8-.6-2.5zM75 278.6l-1-2.9 2.5 .2zM87.4 273.2l-2.2-2.2 2.4-.9zM142.5 243.9l-2.6 1.6-.3-2.5zM17.1 261.4l2.8-1.2-.1 2.5zM107.5 223l-.4 3-2.1-1.3zM119.1 272.3l-3-.6 1.5-2.1zM144.5 249.1l-2.6 1.5-.2-2.5zM158.7 258.3l-2.9 .8 .4-2.5zM91.9 228.5l-.6 3-2.1-1.5zM66.7 210.4l0 3-2.3-1.1zM22.4 268.4l2.6-1.5 .2 2.5zM132 213.4l1 2.8-2.5-.2zM120.3 290l-2.1-2.2 2.3-.8zM43.5 207.4l.5 3-2.4-.6zM84.1 276.6l-1.7-2.5 2.5-.4zM145 259.1l-2.5 1.7-.4-2.5zM36 246.2l2.8-1.3 0 2.6zM83.7 209.8l-1.2 2.7-1.7-1.9zM42.4 284.6l1-2.9 1.8 1.7zM141.8 240.2l-2.6 1.7-.4-2.5zM139.3 247.1l-2.5 1.7-.4-2.5zM13.7 260.3l2.4-1.9 .6 2.4zM149 234l-2.7 1.4-.1-2.5zM40.5 257.8l2.5-1.7 .4 2.5zM147.5 237.2l-2.8 1.4-.1-2.6zM31.2 234.6l2.5-1.6 .4 2.5zM46.9 293.8l1.2-2.7 1.7 1.9zM140.7 266.1l-2.5 1.7-.5-2.5zM64 208.5l-1.3 2.7-1.6-1.9zM51.4 296.4l-1.1-2.8 2.5 .1zM95.8 280.7l-2.1-2.2 2.4-.8zM36 235.9l2.7-1.3 .1 2.5zM55.3 214.8l.5 3-2.5-.6zM69.2 268.9l-1.1-2.8 2.5 .1zM66.4 216.5l.6 3-2.4-.5zM93.8 260.7l-3 0 1-2.3zM36.1 219l1.7 2.4-2.5 .5zM14 254l1.8-2.4 1.2 2.3zM48 216.7l.6 3-2.5-.7zM23 272.4l2.8-1.3-.1 2.6zM71.1 281.7l-.6-3 2.5 .6zM59.1 264.4l-.4-3 2.4 .7zM115.1 291.8l-2.9-.8 1.5-2zM78.2 220.4l0 3-2.3-1.1zM28 277.2l2.8-1.2-.1 2.5zM135.6 232.9l-1.9 2.3-1.1-2.2zM114 228.5l-.7 2.9-2-1.6zM15.8 258.9l2.3-2 .7 2.4zM38.2 281.2l.9-2.9 1.9 1.7zM88.2 222.2l-.3 3-2.2-1.2zM63.4 287.6l-.2-3 2.4 .9zM124.5 249.5l-2.3 1.9-.7-2.4zM88 230.5l-.7 3-2-1.5zM94.6 264.7l-2.9-.7 1.5-2zM86.2 217.3l-.2 3-2.2-1.3zM105.8 285.4l-2.1-2.2 2.4-.8zM33.3 232l2.6-1.4 .2 2.5zM49.7 300.4l-2-2.3 2.4-.7zM115.3 237.4l-1.2 2.7-1.7-1.9zM148 245l-2.8 1.3 0-2.5zM147.7 230l-2.6 1.6-.3-2.5zM69.3 212.7l.1 3-2.3-.9z" fill="#000"/>
<g mask="url(#spk)"><g filter="url(#bl)"><path d="M169.7,257.2 L176.0,256.5 L177.5,264.8 L170.9,266.5Z" fill="#ff7f0e" /><path d="M196.7,224.8 L205.0,217.9 L213.2,214.4 L222.6,209.8 L227.3,207.0 L234.4,210.9 L243.8,210.3 L246.6,214.4 L244.9,226.0 L246.6,234.8 L241.9,246.8 L234.4,251.9 L222.6,249.6 L210.8,242.6 L201.4,235.7 L194.4,228.8Z" fill="#2ca02c" /><path d="M199.1,185.5 L201.4,186.7 L199.1,198.2 L198.6,214.4 L200.3,224.8 L195.6,224.8 L193.9,209.8 L195.8,193.6Z" fill="#2ca02c" /><path d="M209.0,244.9 L222.6,249.6 L234.4,251.9 L241.9,249.1 L244.2,263.0 L239.5,272.7 L230.1,277.3 L215.5,277.3 L208.5,270.4 L211.3,256.1Z" fill="#1f77b4" /><path d="M204.3,279.6 L215.5,277.3 L230.1,277.3 L239.5,274.1 L234.4,279.6 L225.4,286.6 L221.4,298.1 L210.8,300.5 L203.8,298.1 L199.6,288.9 L196.7,282.0Z" fill="#1f77b4" /><path d="M249.6,235.7 L253.6,231.8 L255.0,227.1 L260.2,226.0 L267.3,222.5 L274.3,219.0 L279.5,226.0 L281.9,239.9 L279.5,251.9 L272.0,258.8 L262.6,261.1 L255.5,256.5 L253.2,244.5Z" fill="#1f77b4" /><path d="M274.3,219.0 L274.3,212.1 L281.4,209.8 L290.8,209.8 L295.5,205.6 L299.5,204.0 L300.2,226.0 L299.5,240.3 L290.8,244.9 L281.9,240.3 L279.5,226.0Z" fill="#ff7f0e" /><path d="M284.2,223.7 L295.0,221.8 L297.8,233.4 L288.4,238.0 L282.8,233.4Z" fill="#1f77b4" /><path d="M290.8,209.8 L295.5,205.2 L299.5,202.4 L300.2,209.8 L296.9,213.5Z" fill="#ff7f0e" /><path d="M258.3,228.8 L262.1,227.8 L263.0,233.4 L259.0,234.3Z" fill="#ff7f0e" /><path d="M281.9,240.3 L290.8,244.9 L299.5,240.3 L300.7,249.1 L307.7,251.4 L316.6,255.6 L319.0,259.5 L314.8,265.8 L305.4,269.2 L296.0,272.7 L288.4,271.5 L276.7,270.4 L272.0,265.8 L272.4,258.8 L279.5,251.9Z" fill="#2ca02c" /><path d="M244.2,272.7 L251.3,268.1 L257.9,261.1 L267.3,263.5 L270.8,268.8 L269.6,276.9 L265.4,286.6 L260.7,282.0 L256.0,288.9 L252.0,285.4 L248.5,275.0Z" fill="#1f77b4" /><path d="M267.3,264.8 L272.4,268.8 L273.6,276.9 L274.8,288.9 L271.3,293.5 L265.4,286.6 L268.9,276.9Z" fill="#ff7f0e" /></g></g>
<g mask="url(#spk2)"><g filter="url(#bl)"><path d="M173.2,246.8 L177.9,245.2 L185.0,239.4 L189.7,232.9 L194.4,228.8 L201.4,235.7 L209.0,244.9 L211.3,256.1 L209.0,269.9 L204.3,279.6 L196.7,282.0 L189.7,277.3 L182.6,272.7 L173.2,269.2 L169.7,263.5 L170.9,256.1Z" fill="#2ca02c" /><path d="M241.9,246.8 L246.6,234.8 L249.6,235.7 L253.6,238.0 L256.0,256.1 L251.3,268.1 L244.2,272.7 L243.1,260.7Z" fill="#1f77b4" /></g></g>
<g mask="url(#spk3)"><g filter="url(#bl)"><path d="M196.7,224.8 L205.0,217.9 L213.2,214.4 L222.6,209.8 L227.3,207.0 L234.4,210.9 L243.8,210.3 L246.6,214.4 L244.9,226.0 L246.6,234.8 L241.9,246.8 L234.4,251.9 L222.6,249.6 L210.8,242.6 L201.4,235.7 L194.4,228.8Z" fill="#1f77b4" /><path d="M209.0,244.9 L222.6,249.6 L234.4,251.9 L241.9,249.1 L244.2,263.0 L239.5,272.7 L230.1,277.3 L215.5,277.3 L208.5,270.4 L211.3,256.1Z" fill="#2ca02c" /><path d="M204.3,279.6 L215.5,277.3 L230.1,277.3 L239.5,274.1 L234.4,279.6 L225.4,286.6 L221.4,298.1 L210.8,300.5 L203.8,298.1 L199.6,288.9 L196.7,282.0Z" fill="#ff7f0e" /><path d="M249.6,235.7 L253.6,231.8 L255.0,227.1 L260.2,226.0 L267.3,222.5 L274.3,219.0 L279.5,226.0 L281.9,239.9 L279.5,251.9 L272.0,258.8 L262.6,261.1 L255.5,256.5 L253.2,244.5Z" fill="#2ca02c" /><path d="M274.3,219.0 L274.3,212.1 L281.4,209.8 L290.8,209.8 L295.5,205.6 L299.5,204.0 L300.2,226.0 L299.5,240.3 L290.8,244.9 L281.9,240.3 L279.5,226.0Z" fill="#1f77b4" /><path d="M281.9,240.3 L290.8,244.9 L299.5,240.3 L300.7,249.1 L307.7,251.4 L316.6,255.6 L319.0,259.5 L314.8,265.8 L305.4,269.2 L296.0,272.7 L288.4,271.5 L276.7,270.4 L272.0,265.8 L272.4,258.8 L279.5,251.9Z" fill="#ff7f0e" /></g></g>
<path d="M208.5 249.4l0 0 0 0 0 0 0 0 0 0 0 0 0 0 0 0 0 0 0 0 0 0 0 0 0 0 0 0 0 0 .7 .2-.6 1.2-1.2 .6-1.4 .2-1.4 .2-1.4 .1-1.4 .1-1.4 0-1.4 .1-1.4 0-1.4 .1-1.4 0-1.4 0-1.4 .1-1.4 0-1.4 0M210 252.7l-.7 1.2-.9 1.2-1 .9-1.2 .8-1.2 .6-1.3 .5-1.3 .5-1.4 .4-1.3 .3-1.4 .3-1.4 .3-1.4 .2-1.4 .2M216.7 251.2l1.2 .7 1.1 .8 1.1 .9 .9 1.1 .7 1.1 .7 1.3 .4 1.3 .4 1.4M209.4 247.3l-.2-1.4-.3-1.4-.4-1.3-.4-1.3-.5-1.3-.6-1.3-.5-1.3-.5-1.3-.4-1.4-.4-1.3-.3-1.4M219.2 255.3l.4 1.3 .3 1.4 .1 1.4 .1 1.4-.1 1.4M196 257.8l-1.4 .2-1.4 .1M211 249.2l1.3-.2 1.4-.5 1.1-.7 1.1-.9 .9-1.1 .9-1.1 .8-1.1 .7-1.2 .7-1.2 .7-1.3 .7-1.2 .6-1.2M211 247.6l.6-1.3 .3-1.3 .3-1.4 .2-1.4 .2-1.4 .2-1.4 .2-1.3 .2-1.4 .2-1.4 .3-1.4M254.2 262.1l0 0 0 0 0 0-.4-.1 0-.6-.5 1.2 .1 1.4 .4 1.3 .6 1.3 .6 1.3 .7 1.2 .6 1.2 .7 1.3 .8 1.2 .7 1.2 .7 1.2 .7 1.2 .6 1.2M255.1 259.6l1.1-.8 1.3-.7 1.2-.6 1.3-.5 1.3-.5 1.4-.4 1.3-.4 1.4-.3 1.3-.4 1.4-.3 1.4-.3 1.3-.4M261 259.6l1.4-.1 1.4 0 1.4 0 1.4 0 1.4 0 1.4 0 1.4 .1 1.4 0 1.4 .1M220.2 251.7l1.4 .4 1.3 .4 1.3 .4 1.4 .5 1.3 .4M212.4 250.7l.5 1.3 .2 1.4-.2 1.4-.3 1.4-.4 1.3-.5 1.3-.7 1.3-.6 1.2-.8 1.2-.7 1.1-.9 1.2M256.5 265.7l.9 1 1 1 1 1 .9 1 1 1.1 .9 1.1 .9 1 .8 1.1 .8 1.2M253.2 259.6l.2-1.4 .4-1.3 .7-1.3 .7-1.1 .9-1.2 .9-1 .9-1 1-1 1.1-1 1-.9 1.1-.9M252.5 252.6l.5-1.3 .5-1.3 .5-1.3 .7-1.2 .6-1.3M215.9 250l1.4 0 1.4 0 1.4-.2 1.4-.4 1.3-.4 1.3-.5 1.2-.7 1.2-.7 1.2-.8M224.1 255.5l.9 1.1M215.5 252.8l.5 1.3 .2 1.4 .1 1.3-.1 1.4-.2 1.4-.3 1.4-.4 1.3-.4 1.4-.5 1.3M205.6 240.9l-1-1-1-.9-1-1-1.1-.9-1.1-.9-1.2-.8M207.6 247.1l-1.2-.8-1.3-.6-1.3-.5-1.3-.4-1.4-.4-1.3-.3-1.4-.2-1.4-.1-1.4-.1-1.4-.1-1.4 0-1.4 0-1.4 .1M252 265.2l.2 1.4 .3 1.3 .4 1.4 .5 1.3 .5 1.3 .5 1.3 .6 1.3 .5 1.3 .6 1.2 .6 1.3M207.7 253.3l-1.3 .6-1.3 .4-1.4 .3-1.3 .3-1.4 .2-1.4 .2-1.4 .2-1.4 .1-1.4 .2-1.4 .1-1.4 .1-1.4 0M209.7 240.2l-.1-1.4-.1-1.4 0-1.4 0-1.4 .1-1.4M225.3 249.8l1.4-.4 1.3-.5M203 241.7l-1.3-.6-1.3-.6-1.3-.5-1.3-.3-1.4-.3-1.4-.2-1.4-.1M263 262.3l1.4 .3 1.4 .3 1.3 .4 1.4 .4 1.3 .4 1.4 .4 1.3 .4 1.3 .4M258.7 254l1.1-.8 1.2-.7 1.2-.8 1.2-.7 1.2-.7 1.2-.7 1.3-.6M225.3 251.7l1.4 0 1.4-.1M203.2 247l-1.4-.3-1.4-.2-1.4-.2-1.4-.1-1.4-.1-1.4 0-1.4-.1-1.4 0-1.4 .1-1.4 0M268.5 257l1.4-.2 1.4-.2 1.4-.1M215.8 242.7l.5-1.3 .5-1.3 .5-1.3 .5-1.3 .5-1.3 .4-1.3M218.1 247.6l1.1-.9 1-.9 1-1 .9-1.1 .9-1.1 .8-1.1 .8-1.1M220.4 258l.2 1.4 .1 1.4 0 1.4M255.4 262.6l1.3 .6 1.2 .7 1.2 .7 1.2 .7 1.2 .7 1.2 .8 1.2 .7 1.1 .8 1.1 .9 1.1 .8 1.1 .9 1.1 .9M210.3 256.6l-.7 1.2-.8 1.1-.9 1.1-.9 1-1.1 .9-1.2 .8-1.1 .8-1.3 .7M199.9 252.7l-1.4 .1-1.4 .1-1.4 0-1.4 .1-1.4 0-1.4 0-1.4 .1M207.6 235.7l-.1-1.3-.1-1.4M256.1 249.1l.8-1.1 .9-1.1 .9-1.1M207.7 258.3l-1.1 .9-1.1 .8-1.2 .7-1.3 .6-1.2 .6-1.4 .5-1.3 .4M214.6 255.8l-.2 1.3-.3 1.4-.4 1.4-.5 1.3-.5 1.3-.6 1.2-.6 1.3M203.1 234.6l-.5-1.3M263.4 260.5l1.4 0 1.4 .2 1.4 .1 1.4 .1 1.4 .2 1.4 .2 1.4 .1M200.7 241.8l-1.4-.3-1.4-.3-1.3-.3-1.4-.1-.7-.1M268.3 252.5l1.3-.4M207.9 249.3l-1.4-.2-1.4-.2-1.4-.1-1.4-.2-1.4-.1-1.4-.1-1.4-.1-1.4 0-1.4-.1-1.4 0-1.4 0-1.4 0-1.4 0M213 245.1l.4-1.3 .4-1.4 .3-1.3 .4-1.4 .3-1.3 0 0M252.7 256.3l.1-.7M211.3 238.1l.1-1.4 .2-1.4 .1-1.4 .2-1.4M216 235.5l.4-1.4M198.5 236.9l-1.4-.3M252.1 274.2l.4 1.3 .5 1.3 .5 1.3M264.2 264.8l1.3 .6 1.2 .6 1.3 .6 1.2 .6 1.3 .7 1.2 .7M193.4 242.7l-1.4 .1-1.4 0M225.4 244.6l1-1" fill="none" stroke="#000" stroke-width="0.45" stroke-linejoin="round"/><path d="M189.2 252.3l-1.4 0-1.4-.1-1.4 0-1.4-.1-1.4-.2-1.4-.2-1.3-.3-1.3-.5-1.2-.8-1.1-.8-1.4 0-1.4 .2-1.3 .4-1.4 .4M194.1 260.1l-1.3 .2-1.4 .1-1.4 .1-1.4 .1-1.4 .1-1.4 0-1.4 0-1.4 0-1.4 0-1.4 0-1.4 0-1.4 0-1.4 0-1.4 0-1.4 0M223.2 259.8l.2 1.3 .2 1.4 0 1.4 0 1.4-.1 1.4-.2 1.4-.2 1.4-.2 1.4-.3 1.4-.3 1.3-.4 1.4-.4 1.3-.4 1.4-.4 1.3M204.9 232.6l-.3-1.4-.1-1.4-.1-1.4 0-1.4 .1-1.4 .1-1.3 .2-1.4 .2-1.4 .3-1.4 .4-1.3 .4-1.4M220 262.2l-.2 1.4-.2 1.4-.2 1.4-.4 1.3-.3 1.4-.4 1.3-.5 1.3-.4 1.4-.5 1.3-.5 1.3-.5 1.3-.6 1.3-.5 1.3-.6 1.2M193.2 258.1l-1.4 .1-1.4 .1-1.4 0-1.4 0-1.4 0-1.4 0-1.4-.1-1.4-.1-1.4-.1-1.4-.1-1.4-.2-1.4 0-1.4 .2-1.3 .2-1.4 .3M221.9 237.5l.6-1.3 .6-1.3 .6-1.2 .6-1.3 .6-1.3 .5-1.3 .6-1.2 .5-1.3 .6-1.3 .5-1.3 .5-1.3 .6-1.3M213.7 233.9l.2-1.4 .3-1.3 .3-1.4 .3-1.4 .3-1.3 .3-1.4 .3-1.4 .2-1.4 .2-1.3 .2-1.4 .1-1.4 0-1.4M260.5 277.6l.7 1.3 .6 1.2 .6 1.3 .5 1.3 .4 1.3 .4 1.4 .2 1.4 0 1.4-.2 1.4 0 1.4 .7 1.1M270.8 254l1.4-.3 1.4-.3 1.3-.3 1.4-.3 1.3-.3 1.4-.3 1.4-.3 1.3-.3 1.4-.3 1.4-.3 1.3-.3 1.4-.3 1.4-.3 1.4-.3M273.6 259.7l1.4 0 1.4 0 1.4 0 1.4 0 1.4 0 1.4-.1 1.4 0 1.4-.1 1.4-.2 1.4-.1 1.4-.2 1.4-.2 1.4-.1M226.9 253.8l1.3 .5 1.3 .6 1.3 .5 1.2 .6 1.3 .7 1.2 .6 1.2 .8 1.2 .7 1.1 .9 1.1 .8 1.1 1 1 .9 .9 1M252.2 283.2l.6 1.3 .6 1.2 .8 1.2 .8 1.2 .8 1.1 1 1 1 .9 1.1 .9 1.1 .8M208 264.8l-.8 1.1-1 1-1 1-1 .9-1.1 .9-1.1 .9-1.1 .9-1.1 .8-1.1 .8-1.2 .8-1.1 .8-1.2 .8-1.1 .8-1.1 .9-1.1 .9M264.7 275.2l.8 1.1 .8 1.2 .7 1.2 .7 1.2 .7 1.2 .6 1.3 .6 1.3 .6 1.2 .6 1.3 .6 1.3 .7 1.2 .7 1.2M262.1 247.5l1.1-.9 1.1-.9 1.1-.8 1.1-.9 1.1-.8 1.1-.9 1.1-.8 1.1-.9 1.2-.8 1.1-.8 1.1-.9 1.1-.8 1.1-.9M274.1 267.6l1.3 .5 1.3 .6 1.3 .6 1.2 .6 1.3 .5 1.3 .6 1.3 .4 1.4 .4 1.4 .2 1.4 .1 1.4 0 1.4 0M230.2 253.1l1.4 .1 1.4 .1 1.4 .1 1.4 .1 1.4 0 1.4 0 1.4 0 1.4 0 1.4-.1 1.4 0 1.4-.1M255.3 246.2l.8-1.2 .7-1.1 .8-1.2 .8-1.2 .8-1.1 .9-1.1 .8-1.1 .9-1.1 .8-1.1 .9-1.1 .9-1.1 .9-1.1 .8-1.1M227.7 246.3l1.1-.8 1.1-.9 1.1-.9 1-.9 1-1 1-1 1-1 .9-1.1 .9-1 .9-1.1 .9-1.1 .9-1.1 .9-1.1 .8-1.1M225 256.6l.8 1.1 .6 1.3 .6 1.2 .4 1.4 .4 1.3 .3 1.4 .1 1.4 .1 1.4 .1 1.4 0 1.4-.1 1.4-.1 1.4-.1 1.4-.2 1.4-.2 1.3M214.4 265l-.5 1.3-.6 1.3-.6 1.2-.6 1.3-.6 1.3-.6 1.2-.7 1.2-.7 1.3-.7 1.2-.7 1.2-.7 1.2-.7 1.2-.8 1.2M268.6 245l1.2-.7 1.2-.8 1.1-.8 1.2-.7 1.2-.8 1.2-.7 1.2-.8 1.1-.7 1.2-.8M199.2 235.4l-1.2-.5-1.4-.3-1.4-.1-1.4 0-1.4 .1-1.4 .1-1.4 .1-1.4 .2-1.4 .2-1.4 .2-1.3 .3-1.4 .3-1.4 .3-1.3 .4-1.4 .3 0 0M190 243.7l-1.4 .1-1.4 .1-1.4 .1-1.4 .2-1.3 .3-1.4 .2-1.4 .4-1.3 .3-1.3 .5-1.3 .6-1.3 .6-1.3 .5-.6 .3M232.3 257.9l1.1 1 1 .9 .9 1.1 .9 1.1 .8 1.1 .7 1.2 .7 1.3 .6 1.2 .6 1.3M256.7 278.3l.6 1.3 .6 1.2 .6 1.3 .5 1.3 .6 1.3 .5 1.3 .4 1.3 .2 1.4 .3 1.2 .8 1.2 .9 1 0 0M191.2 256l-1.4 .1-1.4 0-1.4 0-1.4 0-1.4-.1-1.4-.1-1.4-.2-1.3-.2-1.4-.4-1.3-.4-1.3-.5-1.1-.9-1.3-.5-1.3 .2-1.3 .7M209.6 233.2l.2-1.4 .2-1.4 .2-1.3 .2-1.4 .3-1.4 .2-1.4 .3-1.3 .2-1.4 .3-1.4 .2-1.4 .2-1.4M228 248.9l1.3-.6 1.2-.7 1.2-.6 1.2-.8 1.2-.8 1.1-.8 1.1-.8 1.1-.9 1.1-.9 1-1 1.1-.9 1-1 1-1 .9-1M193.6 239.1l-1.4 0-1.4 .1-1.4 .1-1.4 .1-1.4 .2-1.3 .2-1.4 .2-1.4 .3-1.3 .4-1.4 .3-1.3 .5-1.4 .4-1.3 .5-.6 .3M273.8 265.3l1.4 .4 1.3 .4 1.4 .4 1.3 .4 1.4 .3 1.3 .3 1.4 .2 1.4 .2 1.4 .1 1.4 .1 1.4-.1 1.4 0 1.4-.2M267.1 249l1.2-.7 1.2-.6 1.3-.7 1.2-.6 1.3-.6 1.2-.7 1.3-.6 1.2-.6 1.3-.6 1.3-.6 1.2-.6 1.3-.6 1.3-.6M228.1 251.6l1.4-.1 1.3-.1 1.4-.2 1.4-.3 1.4-.3 1.3-.4 1.4-.4 1.3-.5 1.3-.5 1.3-.5 1.2-.6 1.3-.6 1.3-.6 1.2-.7M252.2 241.9l.6-1.3 .5-1.3 .6-1.2 .7-1.3 .6-1.2 .7-1.3 .6-1.2 .7-1.2 .7-1.3M212.8 277.8l-.6 1.3-.6 1.3M189.2 246.1l-1.4 .1-1.4 0-1.4 .1-1.4 .2-1.4 .1-1.3 .2-1.4 .3 0 0M272.7 256.5l1.4-.2 1.3-.1 1.4-.2 1.4-.2 1.4-.1 1.4-.2 1.4-.2 1.4-.2 1.4-.3 1.3-.2 1.4-.2 1.4-.2 1.4-.2M218.7 234.9l.5-1.4 .5-1.3 .4-1.3 .5-1.3 .4-1.4 .4-1.3 .4-1.3 .4-1.4 .4-1.3 .4-1.4 .3-1.3M224.6 240.4l.8-1.2 .8-1.2 .7-1.2 .8-1.1 .7-1.2 .7-1.3 .7-1.2 .7-1.2 .6-1.2 .7-1.3 .6-1.2 .7-1.2 .6-1.3M280.3 264.8l1.4 .2 1.4 .1 1.4 .1 1.4 0 1.4 0 1.4-.1 1.4-.1 1.4-.2M220.7 262.2l-.1 1.3-.2 1.4-.2 1.4 0 0M269.4 271.8l1 1 1 1 1 1 .9 1.1 .9 1 .9 1.1 .8 1.2 .8 1.1 .7 1.2 .7 1.2 .6 1.3 0 0M239.3 257.9l1.3 .6 1.3 .6 1.2 .7 1.2 .7M202.3 264.2l-1.2 .6-1.3 .6-1.3 .5-1.3 .5-1.3 .5-1.3 .4-1.4 .4-1.3 .3-1.4 .3-1.4 .3-1.4 .2-1.4 .2-1.3 .2-1.4 .1-1.4 .1-1.4 .1-1.4 .1M190.1 253.1l-1.4 0-1.4-.1-1.4 0-1.4-.1-1.4-.1-.7-.1M207.4 233l0-1.4 .1-1.4 .1-1.4 .2-1.4 .2-1.4 .3-1.4 .3-1.3 .3-1.4 .3-1.4 .4-1.3 .3-1.4M258.7 245.8l.9-1.1 .9-1 1-1.1 .9-1 1-1 1-1 .9-1 1-1 1-1 1-1 .9-1 1-1.1M205.6 277.6l-.9 1.1-.8 1.1-.9 1.1M271.1 249.5l1.3-.5 1.3-.6 1.3-.5 1.3-.5 1.3-.5 1.3-.5 1.3-.5 1.3-.5 1.3-.4 1.3-.5 1.4-.5M199.1 262.8l-1.3 .5-1.4 .3-1.3 .4-1.4 .3-1.4 .2-1.3 .3-1.4 .2-1.4 .1-1.4 .2-1.4 .1-1.4 .1-1.4 .1-1.4 .1-1.4 .1-1.4 0-1.4 .2M211.5 265l-.7 1.2-.7 1.2-.7 1.2-.8 1.2-.7 1.2-.8 1.1-.9 1.1-.8 1.1-.9 1.1-1 1.1-.9 1-.9 1.1-1 1M236.1 247.8l1.2-.6 1.3-.7 1.2-.7 1.1-.8 1.2-.8 1.1-.8 1.2-.8 1.1-.9M252.6 235.1l.6-1.3 .5-1.2 .6-1.3 .6-1.3M202.6 233.3l-.4-1.3-.3-1.4-.2-1.4-.2-1.4 0-1.4 0-1.4 0-1.4 .1-1.4 .2-1.4 .2-1.3 .3-1.4M273.2 261.4l1.3 .2 1.4 .1 1.4 .2 1.4 .1 1.4 0 1.4 .1 1.4 0 1.4 0 1.4-.1 1.4-.1 1.4-.1 1.4-.1 1.4-.2 1.4-.1M196 273l-1.2 .7-1.2 .7-1.2 .7-1.2 .7-1.3 .7M194.8 269.6l-1.3 .5-1.3 .5-1.3 .4-1.4 .4-1.4 .3-1.3 .2-1.4 .2-1.4 .1-1.4 .1M217.7 222.1l.2-1.3 .2-1.4 .1-1.4M200.4 233.4l-.4-1.3-.3-1.4-.3-1.4-.1-1.4-.1-1.4-.1-1.4 0-1.4 0-1.4 .1-1.4 .1-1.4 .2-1.3M273 262.7l1.4 .3 1.4 .2 1.4 .2 1.4 .2 1.4 .2 1.4 .1 1.4 .1 1.4 .1 1.4 0 1.4-.1 1.4 0 1.3-.1 1.4-.2 .7 0M230.5 240.2l.9-1.1 .9-1 .8-1.2 .9-1.1 .8-1.1 .8-1.2 .8-1.1 .8-1.2 .7-1.2 .8-1.1M198.1 233.3l-1.1-.6-.4-1.4-.2-1.4-.2-1.4-.2-1.3-.1-1.4-.1-1.4-.1-1.4-.1-1.4 0-1.4 .1-1.4M269.6 252.1l1.4-.5 1.3-.4 1.3-.4 1.4-.4 1.3-.5 1.3-.4 1.4-.4 1.3-.4 1.3-.4 1.4-.4 1.3-.4 1.4-.4 1.3-.3M178.4 267.1l-1.4 .2M189.7 248.2l-1.4 .1-1.4 0-1.4 0-1.4 .1-1.4 0-1.4 .1-1.4 0 0 0M224.3 274.4l-.3 1.3-.3 1.4-.4 1.3M265.8 285l.3 1.3 .2 1.4 .2 1.4-.1 1.4 .5 .5M226.8 262.8l.2 1.4 .2 1.4 0 1.4 .1 1.4-.1 1.4-.1 1.4-.1 1.4-.2 1.4-.2 1.3-.1 .7M197.5 225.9l-.1-1.4 0-1.4 0-1.4 .1-1.4 .1-1.3M217 265.1l-.4 1.3-.5 1.4-.5 1.3-.5 1.3-.5 1.3-.6 1.3-.5 1.2-.6 1.3-.3 .6M237.8 252.7l1.4-.2 1.4-.1 1.4-.2 1.4-.2 1.4-.3 1.4-.2M190.7 263.3l-1.4 .2-1.4 .1-1.4 .1-1.4 .1-1.4 .1-1.4 0-1.4 .1-1.4 .1-1.4 0-1.4 .1-1.4 0M227.4 256.1l1 1 1 1 .9 1.1 .7 1.1 .7 1.2 .6 1.3 .6 1.3 .4 1.3 .4 1.4 .3 1.3 .3 1.4 .1 1.4 .2 1.4M261.6 233.4l.9-1.1 .8-1.1M239.5 255.1l1.4 .2 1.3 .2 1.4 .2 1.4 .2M230.1 262.4l.4 1.3 .4 1.4 .3 1.3 .2 1.4 .1 1.4 .1 1.4 0 1.4 0 1.4-.1 1.4M211.9 232.5l.3-1.4 .2-1.4 .1-.6M216.4 234.1l.4-1.3 .3-1.4 .4-1.3 .4-1.4 .3-1.3 .4-1.4 .3-1.3 .2-.7M202.5 267.3l-1.2 .7-1.2 .8-1.2 .6-1.2 .7-1.3 .6 0 0M268.2 288.1l.6 1.2 .9 1.2M197.1 236.6l-1.4-.2-1.4-.1-1.4 0-1.4 0-1.4 .1-1.3 .1-1.4 .2-1.4 .2-1.4 .3 0 0M253.5 278.1l.6 1.3 .6 1.3 .6 1.3 .6 1.2 0 0M252.6 245.3l.5-1.3 .3-.7M265.1 242.8l1-1 1.1-.9 1.1-.9 1-.9 1.1-.9 1-.9 1.1-1 1-.9 1.1-.9M212.9 224.8l.3-1.4 .2-1.4 .2-1.4 .2-1.4 .1-1.4M244.2 250.1l1.3-.4 1.3-.4M266 274l.9 1.1 .8 1.1 .8 1.1 .8 1.2 0 0M257.1 240.4l.8-1.2 .7-1.2 .8-1.1 .8-1.2 .4-.5M263.4 278.2l.6 1.2 .6 1.3 .5 1.3 .5 1.3 0 0M271.7 268.6l.6 .3M285.3 270.7l1.4 .2 1.4 0 1.4 0 1.3-.1M219.8 272l-.4 1.4-.4 1.3-.5 1.3-.5 1.4-.2 .6M225.4 223.8l.4-1.3 .5-1.3M202.9 275l-1 1-1 1-1 1-1 1 0 0M230 236.9l.8-1.1 .7-1.2 .8-1.2 .7-1.2 .8-1.2 .7-1.2 .7-1.2 .7-1.2M234.7 243l1-.9 1-1 1-1 1-1 1-1 .9-1 .9-1.1 0 0M225.2 235.5l.7-1.3 .6-1.2 .6-1.3 .7-1.2 .6-1.3 .6-1.3 .6-1.2 .6-1.3 .6-1.3M190.6 242.8l-1.4 .1-1.4 .1-.7 .1M255.2 283.9l.7 1.2 .7 1.2 .7 1.2 .9 1.1 0 0M196.9 277l-1.1 .9-1 1M195.8 231.6l-1-1-.9-1-.9-1.1-.9-1-.9-1.1-.9-1.1-.9-1.1-.8-1.1-.9-1.1M226.4 243.6l1-1 .9-1 1-1.1 0 0M270.8 277.6l.7 1.2 .8 1.1 .7 1.3 .7 1.2 .6 1.2 .7 1.3 .6 1.2 .5 1.3M193.4 231.9l-1.4 0-1.4 .1-1.3 .1-1.4 .2-1.4 .2-1.4 .2-1.4 .2-1.4 .3-.6 .2M205.6 270.3l-1 1-1 1-1 1-1 .9 0 0" fill="none" stroke="#000" stroke-width="0.7" stroke-linejoin="round"/><path d="M170.4 250.3l-1.3 .6-1.2 .6 0 0M173.2 260.7l-1.4 .1-1.4 0-1.3-.5-1.3 .4 0 0M220.7 279l-.4 1.3-.5 1.3-.5 1.4-.5 1.3-.5 1.3-.5 1.3-.5 1.3-.5 1.3-.5 1.3-.5 1.3-.6 1.3-.5 1.3-.5 1.3-.5 1.3-.6 1.3-.7 1.2-.8 1.1-.8 1.1-.3 .7M206.1 217.4l.5-1.3 .6-1.2 .8-1.2 .9-1.1 1-.9 1-1.1 .8-1.1 0 0M214.2 280.8l-.6 1.3-.5 1.3-.6 1.3-.6 1.3-.6 1.2-.5 1.3-.6 1.3-.5 1.3-.4 1.3-.4 1.4-.2 1.4-.1 1.4 .1 1.3 .4 1.4 .5 1.3 .6 1.3 0 .7M172.3 258.4l-1.3 .5-1.3 .6-.6 .4M228.7 222.1l.5-1.3 .5-1.3 .5-1.3 .5-1.3 .5-1.3 .5-1.3 .5-1.4 .3-1.3 .3-1.4 .2-1.4 .1-1.4 .1-1.4 .3-1.3 .7-1.2 .9-1.1 1.1-.9 0 0M216.4 217.4l-.1-1.4-.2-1.4-.4-1.4-.4-1.3-.3-1.4 .2-1.3 .8-1.2 1-.9 1.2-.8 1.2-.8 0 0M264.4 292.1l1.1 .8 .7 .3M290 249.8l1.3-.2 1.4-.3 1.4-.2 1.4-.2 1.4-.2 1.4-.1 1.4-.1 1.4-.1 1.4-.1 1.4 0 1.4 .1 1.4 .1 1.3 .1 1.4 .3 .7 .1M291.8 258.7l1.4-.2 1.3-.2 1.4-.2 1.4-.3 1.4-.2 1.4-.2 1.4-.2 1.3-.3 1.4-.2 1.4-.3 1.3-.3 1.4-.4 1.3-.6 1-.9 1.2-.5 1.4 .1 1.4 .4 1.3 .5 1.3 .5 1.3 .5 1.3 .5 1.3 .5 .6 .2M242.1 263.4l1 1.1 .8 1.1 .9 1.1 .8 1.2 .7 1.1 .8 1.2 .6 1.3 .7 1.2 .6 1.3 .5 1.2 .6 1.3 .4 1.4 .5 1.3 .4 1.3 .4 1.4 .4 1.3M260 292.8l1.2 .8 .5 .5M191.9 278.1l-1 .9-1 1.1-.7 1.1-.7 1.3-.6 1.3-.6 1.2-.8 1.1 0 0M272.8 289.9l.7 1.2 .8 1.2 .4 1.3 1 1 .9 1 1 1 1 .9 .6 .5M276.5 236.4l1.1-.9 1.1-.9 1.1-.9 1-.9 1.1-.9 1-1 1-1 .9-1 .9-1.1 .8-1.1 .7-1.2 .7-1.2 .6-1.3 .5-1.3 .5-1.3 .3-1.4 .4-1.4 .2-1.3 .2-1.4 .1-.7M290.1 272.1l1.4-.2 1.3-.2 1.4-.2 1.4-.2 1.4-.3 1.4-.3 1.3-.3 1.4-.3 1.3-.4 1.4-.3 1.3-.4 1.4-.4 1.3-.4 1.4-.4 1.3-.4 1.3-.5 1.3-.4 1.3-.6 1.1-.9 1.2-.7 1.1-.9 .5-.5M245.6 253.3l1.4-.1 1.4-.1 1.4-.2 1.3-.1 1.4-.2M266.1 231.6l.9-1.1 .8-1.1 .9-1.1 .8-1.1 .9-1.2 .8-1.1 .8-1.2 .8-1.1 .7-1.2 .8-1.2 .7-1.2 .4-.6M241.2 232.2l.8-1.1 .8-1.2 .8-1.1 .8-1.2 .8-1.1 .7-1.2 .8-1.2 .7-1.2 .7-1.2 .7-1.3 .6-1.2 .3-.6M227.7 276.8l-.3 1.4-.3 1.4-.3 1.4-.3 1.3-.4 1.4-.3 1.3-.4 1.4-.5 1.3-.4 1.3-.5 1.3-.5 1.3-.5 1.3-.5 1.3-.6 1.3-.6 1.3-.6 1.2-.7 1.3-.7 1.2-.7 1.2-.8 1.1 0 0M205.9 281.1l-.8 1.1-.8 1.1-.9 1.1-.9 1.1-1 1-1.1 .9-1.1 .9-1.1 .7-1.3 .7 0 0M279.2 238.2l1.2-.7 1.2-.8 1.2-.7 1.1-.8 1.2-.8 1.2-.8 1.1-.7 1.2-.8 1.1-.8 1.2-.8 1.1-.9 1.1-.8 1.1-.9 .9-1.1 .6-1.2 .5-1.3 .4-1.4 .3-1.4 .3-1.3 .3-1.4 .3-1.4 .3-1.3 .2-1.4 .3-1.4 .3-1.4 .3-1.3 .3-1.4 .3-1.3 .3-1.4 .3-1.4 .2-1.4 0-1.4-.1-1.4 .5-1.3 .6-1.2 0 0M239.6 268.1l.5 1.3 .4 1.3 .5 1.3 .3 1.4 .3 1.4 .3 1.3 .2 1.4 .2 1.4 .1 .7M171.1 253.7l-1.2 .7-1.2 .7-1.2 .7 0 0M212.1 218l.1-1.4 0-1.4-.3-1.3-.4-1.4 0 0M243.5 237.1l1-1 .9-1 1-1.1 .9-1 .8-1.1 .9-1.1 .9-1.1 .8-1.2 .8-1.1 .8-1.1 0 0M290.7 247.9l1.4-.3 1.4-.2 1.3-.2 1.4-.2 1.4-.2 1.4-.1 1.4-.1 1.4 0 1.4-.1 1.4 .1 1.4 .1 1.4 .1 1.4 .2 .7 .1M291.7 267.8l1.4-.1 1.4-.2 1.4-.2 1.3-.3 1.4-.2 1.4-.3 1.3-.3 1.4-.3 1.4-.3 1.3-.4 1.4-.3 1.4-.3 1.3-.3 1.4-.3 1.4-.2 1.4 0 1.3 .4 .7 .3M283.4 240.9l1.3-.5 1.3-.6 1.3-.5 1.3-.5 1.3-.4 1.3-.4 1.4-.4 1.3-.4 1.4-.3 1.4-.2 1.4-.3 1.4-.1 1.3-.1 1.4-.1 1.4-.1 1.4 0 1.4 0 1.4 .1 1.4 0 0 0M246.6 245.8l1.2-.7 1.2-.7 1.2-.7 1.2-.8 .8-1M257.9 230.6l.7-1.2 .7-1.2 .7-1.2 .8-1.2 .7-1.2 .7-1.1 .8-1.2 .7-1.2 .8-1.2 .7-1.2 .8-1.1 0 0M211.6 280.4l-.6 1.2-.6 1.3-.7 1.2-.6 1.3-.7 1.2-.7 1.2-.6 1.2-.8 1.2-.7 1.2-.8 1.2-.9 1.1-1.1 .8-1.2 .7-1.2 .6-1.3 .7-1.3 .6-1.3 .5-1.3 .5-1.3 .5 0 0M290.7 254l1.4-.2 1.4-.2 1.3-.3 1.4-.1 1.4-.2 1.4-.2 1.4-.2 1.4-.1 1.4-.1 1.4-.1 1.4-.1 1.4 0 1.4 .1 1.3 .3 0 0M223.3 220.2l.4-1.4 .4-1.3 .4-1.4 .5-1.3 .5-1.3 .5-1.3 .6-1.3 .5-1.3 .4-1.3 .3-1.4 .4-1.2 .8-1.2 .9-1.1 .9-1.1 .9-1 1-1 .5-.4M233.7 224.6l.7-1.2 .6-1.3 .7-1.2 .6-1.3 .6-1.2 .7-1.2 .7-1.3 .7-1.1 .8-1.2 .9-1.1 1-1 1.1-.9 1.2-.7 1.1-.8 .9-1 1-1 1-1 1-1 1-1 0 0M291.5 264.8l1.4-.2 1.4-.2 1.4-.2 1.4-.2 1.3-.3 1.4-.2 1.4-.3 1.4-.3 1.3-.3 1.4-.3 1.3-.3 1.4-.3 1.4-.3 1.4-.3 1.4-.1 1.3-.1 1.4 .1 1.4 .1 1.4-.5 1.2-.7 1.2-.6 1.4-.2 1.4-.3 0 0M193.5 214.2l.1-1.4 .1-1.4 .1-1.4 .1-1.4 .2-1.3 .2-1.4 .2-1.4 .3-1.4 .3-1.3 .3-1.4 .3-1.4 .3-1.4 .3-1.3 .2-1.4 .2-1.4 .1-1.4 .1-1.4 .2-1.4 .1-1.4 .3-1.3 .4-1.4 .5-1.3 .1-.7M244.3 260.5l1.2 .7 1.2 .8 1.1 .8 1.2 .8 1.1 .8 1.1 .9 0 0M179.4 269.6l-1.4 .1-1.4 .2-1.4 .2-1.3 .4-1.2 .8-1.1 .8-1.4 0-1.4-.2-1.4-.3 0 0M301.9 254.8l1.4-.1 1.4-.2 1.4-.2 1.4-.2 1.4-.3 0 0M302.2 259l1.4-.3 1.3-.3 1.4-.3 1.3-.4 0 0M209.9 217.8l.3-1.3 .2-.7M270.2 233.5l.9-1 1-1 .9-1.1 .9-1.1 .8-1.1 .9-1.1 .8-1.1 .8-1.2 .8-1.1 .7-1.2 .7-1.3 .6-1.2 .6-1.3 .5-1.3 .5-1.3 .5-1.3 .3-1.4 .3-1.3 0-1.4-.2-1.4-.1-1.4 .5-1.3 .7-1.2 .8-1.1 .9-1.1 1-1 .5-.4M290.3 228.3l.8-1.1 .7-1.2 .6-1.3 .5-1.3 .4-1.3 .4-1.4 .4-1.3 .3-1.4 .2-1.4 .3-1.3 .3-1.4 .3-1.4 .3-1.3 .4-1.4 .4-1.3 .6-1.3 .5-1.3 .6-1.2 .7-1.3 .3-.6M203 280.9l-.9 1.1-1 1-.9 1.1-1 .9-1 1-1.1 .9-1.1 .9-1.1 .8-1.4 .4-1 1-1.1 .8-.6 .3M196.1 207.2l.3-1.4 .4-1.4 .3-1.3 .4-1.3 .5-1.4 .4-1.3 .4-1.4 .3-1.3 .3-1.4 .1-1.4 .1-1.4-.1-1.4-.1-1.4-.1-1.4 0 0M285.5 244l1.3-.4 1.3-.4 1.4-.4 1.3-.3 1.4-.4 1.4-.3 1.3-.2 1.4-.2 1.4-.2 1.4-.1 1.4-.1 1.4-.1 1.4 0 1.4 0 1.4 .1 1.4 .1 1.4 .1 0 0M177 266l-1.4 .1-1.4 .2-1.4 .1-1.2-.3-1.2-.8-1.2-.8-1.1-.8-.6-.4M200.7 279.6l-1 1-.4 .5M245.5 241.7l1.1-.8 1.1-.9 1-.9 1.1-.9 1-1 1-.9 .8-1.2M254.9 230l.7-1.2 .6-1.3 .6-1.2 .7-1.2 .7-1.3 .7-1.2 .7-1.2 .7-1.2 .7-1.2 .3-.6M202.3 218.1l.3-1.4 .5-1.3 .5-1.3 .6-1.3 .7-1.2 0 0M292.7 261.4l1.4-.2 1.4-.2 1.4-.3 1.3-.2 1.4-.2 1.4-.3 0 0M189.9 276.5l0 0M276.1 233l1-.9 1-1.1 .9-1 .9-1 .9-1.1 .8-1.2 .8-1.1 .7-1.2 .7-1.3 .6-1.2 .5-1.3 .5-1.3 .4-1.4 .3-1.3 .3-1.4 .1-1.4 .1-1.4-.1-1.4-.3-1.4-.3-1.3-.2-1.4 .1-1.4 .2-.7M182.6 272.3l-1.4 0-1.4 0-1.4 0-1.4 0-1.4 0-1.4 0-1.4 0 0 0M218.2 218l.1-1.4 0-1.4-.2-1.4-.2-1.4-.1-.7M292.1 257.4l1.4-.2 1.3-.2 1.4-.2 1.4-.2 1.4-.2 0 0M199.5 218.2l.3-1.4 .3-1.4 .3-1.4 .4-1.3 .5-1.3 .5-1.3 0 0M247 236l.9-1.1 .9-1 1-1.1 .9-1 .9-1.1 .7-1.2 .2-.6M238.7 228.9l.7-1.2 .8-1.2 .7-1.2 .7-1.2 .7-1.2 .7-1.2 .7-1.3 .7-1.2 .6-1.2 .6-1.3 .7-1.2 .5-1.3 .5-1.3 .5-1.3 .4-1.4 .3-.6M195.7 218.8l0-1.4 .1-1.4 .2-1.4 .1-1.4 .3-1.4 .2-1.4 .1-.7M287 246.8l1.4-.4 .7-.1M177 267.3l-1.4 .2-1.3 .5-1.3 .6-1.1 .8 0 0M239.5 217.9l.7-1.2 .8-1.2 .7-1.1 .8-1.2 .8-1.2 0 0M223.3 278.4l-.4 1.4-.4 1.3-.4 1.4-.4 1.3-.5 1.3-.5 1.3-.4 1.4 0 0M287.6 218.9l.3-1.4 .2-1.3 .1-1.4 .1-1.4 0-1.4-.1-1.4-.2-1.4-.3-1.4-.2-1.4 .3-1.3 .9-1.1 1.1-.8 1.2-.7 .6-.3M292.1 214.9l.2-1.3 .2-1.4 .3-1.4 .3-1.4 .4-1.3 .7-1.2 .8-1.2 .8-1.1 1-1 0 0M197.6 219l.1-1.4 .2-1.4 .2-1.4 0 0M276.1 230.7l.9-1 .9-1.1 .9-1.1 .8-1.1 .4-.6M235.2 216.3l.6-1.3 .7-1.2 .7-1.2 .9-1.1 1.1-.8 0 0M285.2 237.5l1.3-.6 1.2-.6 1.3-.6 1.3-.5 1.3-.5 1.3-.5 1.4-.4 1.3-.4 1.4-.3 1.4-.3 1.3-.2 1.4-.1 1.4-.1 1.4-.1 1.4-.1 1.4 0 1.4-.1 1.4 0 0 0M220.4 288.8l-.5 1.3-.5 1.3-.5 1.2-.6 1.3-.6 1.3-.6 1.3-.6 1.2-.7 1.2-.4 .6M246.2 251.5l1.3-.3 1.4-.3 1.4-.3 .6-.2M175.3 264.2l-1.4 0-1.3-.2 0 0M234.6 272.3l.1 1.4 0 1.4 .1 1.4-.1 1.4 0 1.4-.1 1.4-.2 1.4-.2 1.4-.2 1.4-.2 1.3-.3 1.4-.1 .7M241.8 234.3l.9-1.1 .9-1.1 .8-1.1 .8-1.2 .4-.5M285.5 230.7l1-1 .9-1 .9-1.1 .8-1.1 0 0M263.3 231.2l.8-1.2 .8-1.1 .8-1.2 .8-1.1 .8-1.1 .4-.6M245 255.9l1.4 .2 1.4 .2 1.4 .2 1.4 .2 1.4 .2 .7-.6M231.5 274.8l-.1 1.4-.1 1.4-.2 1.4-.2 1.4-.2 1.4-.3 1.3-.3 1.4-.3 1.4-.3 1.3-.4 1.4-.4 1.3-.4 1.4-.2 .6M311.7 256.9l1.1-.3 1.3 .5 1.4 .5 1.3 .4 1.3 .4 0 0M198.1 280.9l-1 1.1-.9 1-.9 1.1-.8 1.1-.4 .6M217.3 279.5l-.6 1.3-.5 1.3-.5 1.3-.5 1.3-.6 1.2-.5 1.3-.6 1.3-.5 1.3-.5 1.3-.5 1.4-.4 1.3-.4 1.3-.3 1.4-.2 1.4 0 0M244.3 258.1l1.4 .5 1.3 .4 1.3 .5 1.3 .6 1.3 .5 0 0M269.7 290.5l1 .9 1.1 .9 .5 .4M251.5 272.9l.6 1.3M249.1 247.4l1.3-.6 1.3-.6 .9-.9M274.6 234.5l.5-.5M213.9 217.8l-.1-1.4-.1-1.4-.4-1.3-.2-.7M246.8 249.3l1.4-.5 1.3-.4 .6-.3M244.6 262.9l1.1 1 1 .9 .9 1 1 1.1 .9 1 .9 1.1 .8 1.1 0 0M207.6 291.5l-.4 1.3-.3 1.4 0 1.4 .2 1.4 .3 1.3 .5 1.3 0 0M277.8 216.2l.7-1.2 .6-1.3 .6-1.2 .7-1.3 .6-1.2 0 0M220.1 219.3l.3-1.4 .2-1.4 .2-1.4 .3-1.4 .3-1.3 .6-1.3 .8-1.1 .9-1.1 .9-1 1.1-1 1.2-.7 0 0M273.5 216.6l.7-1.2 .8-1.1 .8-1.2 .8-1.1 .9-1.1 0 0M292.2 252.6l1.4-.2 1.4-.2 1.4-.2 1.3-.2 1.4-.1 0 0M292.6 240.1l1.4-.3 1.4-.3 1.4-.2 1.4-.2 1.3-.1 1.4-.1 1.4 0 1.4-.1 1.4 .1 1.4 0 1.4 .1 1.4 .1 0 0M237.7 269.7l.3 1.4 .3 1.4 .2 1.3 .2 1.4 .2 1.4 .1 1.4 0 1.4 0 1.4 0 1.4 0 1.4 0 0M290.8 270.8l.7 0M226.3 221.2l.5-1.3 .4-1.3 .5-1.4 .5-1.3 .5-1.3 .4-1.3 .4-1.4 .4-1.3 .2-1.4 .1-1.4 0-1.4 .1-1.4 0 0M235.9 227.4l.7-1.2 .7-1.2 .7-1.2 .7-1.3 .6-1.2 .7-1.2 .4-.6M230.8 224.1l.5-1.2 .6-1.3 .6-1.3 .6-1.3 .6-1.2 .5-1.3 0 0M289.7 245.1l1.4-.3 1.4-.3 1.4-.2 1.3-.2 1.4-.2 1.4-.2 1.4-.1 1.4 0 1.4-.1 1.4 0 1.4 .1 1.4 .1 1.4 .1 1.4 .2 0 0M297.5 234.1l1.3-.2 1.4-.2 1.4-.1 1.4-.1 .7 0M242.6 267.3l.6 1.2 .6 1.3 .6 1.3 .5 1.2 .5 1.4 .5 1.3 .4 1.3 .4 1.4 .3 1.3 .3 1.4 .3 1.4 .1 .7M296.7 231l1.4-.3 1.4-.2 1.4-.2 1.4-.1 1.4-.2 1.3-.1 1.4-.2 1.4-.2 1.4-.2 0 0M297 227.9l1.3-.3 1-.9 .2-1.4 .1-1.4 .2-1.4 .2-1.4 .2-1.4 .3-1.3 .2-1.4 .2-1.4 .2-1.4 .3-1.4 .1-.7M194.8 278.9l-.9 1.1-.9 1-.8 1.2-.8 1.2-.6 1.2-.5 1.3-.4 1.3-.6 1.3 0 0M187.7 222l0 0M205.2 286.8l-.9 1.1-.9 1-1.1 .9-1.1 .8-1.2 .8-1.3 .6-1.3 .4-1.3 .4-1.4 .3-1.4 .3-1.3 .3-.7 .2M276.1 287.4l.5 1.3 .4 1.4 .3 1.3 .2 .7M229.3 279.7l-.3 1.4-.3 1.3-.3 1.4-.4 1.4-.1 .6M233.9 271.9l.1 1.4 0 1.4 0 1.4 0 1.4-.1 1.4 0 0M261.2 229.6l.8-1.2 .7-1.2 .8-1.2 .8-1.1 .4-.6" fill="none" stroke="#000" stroke-width="0.95" stroke-linejoin="round"/><path d="M167.9 251.4l2-2.2 1 2.3zM169 260.8l2.8-1.3 0 2.5zM215.5 292.7l-.1-3 2.3 .9zM209.3 212l-.7 3-2-1.5zM209.2 292.4l-.2-3 2.4 .9zM169.1 259.7l2.1-2.2 .9 2.3zM232.9 210.2l.5 3-2.5-.6zM214.7 209.2l1.9 2.4-2.5 .5zM266.7 293.7l-3-.5 1.4-2.1zM301 248.4l-2.6 1.4-.2-2.5zM309 255.5l-2.4 1.9-.6-2.4zM249.6 275.2l-2.4-1.9 2.3-1.1zM188.1 283l.3-3 2.2 1.3zM275.9 295.2l-2.5-1.8 2.2-1.2zM287.3 225.6l-.6 2.9-2-1.5zM306.5 268.6l-2.3 2-.7-2.4zM269.5 227.2l-.6 2.9-2-1.5zM246.3 224.7l-.4 3-2.2-1.4zM223.5 291.6l-.2-3 2.4 .9zM201 287l1-2.9 1.8 1.7zM297.1 220.9l.5 3-2.4-.7zM191.7 234.6l2.7-1.4 .1 2.6zM188.6 243.7l2.7-1.4 .1 2.6zM241.7 274.7l-2-2.3 2.5-.7zM257.6 280.2l-2.3-2 2.3-1.1zM168.1 255.5l1.7-2.5 1.3 2.1zM212.1 213.9l1.4 2.7-2.6 0zM249 230.8l-.8 2.9-1.9-1.6zM302.5 246.5l-2.7 1.4-.1-2.5zM187.3 239.4l2.7-1.4 .2 2.5zM304.7 265.4l-2.4 1.9-.5-2.5zM297.3 236.5l-2.4 1.8-.5-2.5zM260.8 225.9l-.4 3-2.1-1.3zM204.5 293.2l.4-3 2.1 1.3zM189.9 246l2.8-1.2 0 2.5zM301.8 252.5l-2.6 1.6-.3-2.6zM227.8 207.7l.2 3-2.3-.9zM241.1 211.9l-.6 3-2.1-1.5zM308.7 261.5l-2.4 1.9-.6-2.5zM220.7 263.5l-1.3-2.7 2.6 0zM196.3 196.3l.7 3-2.5-.6zM269.9 272.3l-2.9-.8 1.6-2zM249 263.5l-3-.5 1.4-2.1zM172 271.4l2-2.3 1 2.4zM189.4 253.1l2.7-1.3 .1 2.5zM307.5 254.1l-2.6 1.6-.4-2.5zM307 257.9l-2.5 1.9-.5-2.5zM210.6 215.1l.5 3-2.4-.6zM281.4 216.8l.1 3.1-2.4-1.1zM295.3 213.2l.7 3-2.5-.5zM196.6 287.4l1.2-2.8 1.7 1.9zM199.4 195.7l.4 3-2.4-.6zM298.4 241.1l-2.6 1.6-.3-2.5zM170.2 265.7l3-.5-.7 2.5zM198.8 281.6l1-2.9 1.8 1.8zM256.2 227.5l-.1 3.1-2.3-1.2zM203.8 213.4l.2 3.1-2.3-.9zM298.2 260.5l-2.5 1.7-.4-2.5zM188.7 277.2l1.8-2.5 1.3 2.2zM285.9 218l.2 3-2.4-.9zM176.3 272.3l2.8-1.3-.1 2.6zM218.2 213.8l1.3 2.7-2.5 .1zM297.6 256.6l-2.6 1.7-.3-2.5zM200.8 212.7l.5 3-2.5-.6zM293.2 263.5l-2.6 1.6-.3-2.6zM251.6 230.7l-.9 2.9-1.9-1.6zM244.7 218.6l-.3 3-2.2-1.2zM196.1 213.2l1 2.9-2.5-.3zM195.9 240.8l2.9-.7-.4 2.4zM289.7 246.1l-2.3 1.9-.7-2.5zM173 268.4l2.2-2.1 .8 2.5zM192.6 248.2l2.7-1.3 0 2.6zM242.5 213.2l-.5 3-2.1-1.4zM221.5 284.4l-.4-3 2.4 .8zM266.6 289.8l-1.6-2.6 2.5-.3zM227.1 271.2l-1.1-2.9 2.5 .1zM287.5 207.2l1.8 2.4-2.5 .5zM294 206.8l.3 3-2.4-.8zM198 215.5l.9 2.9-2.5-.3zM279.6 226.4l-.7 3-2-1.6zM237.9 211.4l-.4 3-2.1-1.3zM299 232.7l-2.4 1.8-.5-2.5zM217.1 296.5l0-3.1 2.3 1.1zM214.4 272.3l-.2-3 2.4 .9zM250.2 250.6l-2.4 1.8-.5-2.4zM172.6 264.2l2.8-1.2-.1 2.5zM234.5 281.4l-1.1-2.9 2.6 .2zM245.2 229.9l-.6 2.9-2-1.5zM214.3 240.4l.5 3-2.4-.6zM288.8 227.1l-.8 2.9-2-1.6zM266.5 226.6l-.6 3-2-1.5zM249.9 256.6l-3 .8 .4-2.5zM230.2 284.5l-.8-2.9 2.5 .4zM316.8 258l-3 .3 .8-2.4zM212 231.8l.9 2.9-2.5-.3zM194.4 285.2l.8-3 2 1.6zM218.1 228.1l.5 3-2.5-.7zM212.8 290.5l-.2-3.1 2.4 1zM249.6 260l-3.1 .2 .9-2.3zM198.3 269.8l1.8-2.5 1.2 2.2zM272.3 292.8l-3-.9 1.7-1.9zM190.2 236.3l2.7-1.3 .1 2.5zM254.1 279.4l-2.2-2.1 2.3-.9zM252.3 246l-2 2.2-1-2.3zM275.6 233.5l-1.2 2.8-1.7-1.8zM213.5 213.7l1.6 2.6-2.5 .3zM249.5 248.4l-2.2 2.1-.8-2.4zM249.5 267.9l-2.8-1.2 1.9-1.7zM207.1 297.6l-1.5-2.6 2.5-.2zM280.3 211.2l-.1 3.1-2.2-1.2zM268.5 277.3l-2.6-1.4 2-1.6zM259.8 236.3l-.5 3-2.1-1.4zM222.6 209.9l0 3-2.3-1zM265.2 282l-2.3-2 2.3-1.1zM276.6 212l-.5 3-2.1-1.5zM297.7 251.8l-2.5 1.6-.4-2.5zM303 238.8l-2.7 1.4-.1-2.5zM269.8 267.5l-3-.1 1.1-2.2zM239 278.7l-1.5-2.6 2.5-.3zM292.2 270.8l-2.7 1.4-.1-2.5zM218.3 276.7l-.3-3 2.4 .8zM229.5 212l.4 3-2.4-.8zM199.9 278l1.1-2.9 1.7 1.8zM239 221.9l-.2 3.1-2.3-1.3zM239.2 238.6l-1.1 2.9-1.8-1.8zM233.1 219.1l0 3-2.3-1zM301.5 243.5l-2.7 1.4-.1-2.5zM303 233.5l-2.6 1.5-.3-2.5zM246.5 277l-2-2.3 2.4-.8zM188.5 242.9l2.7-1.4 .1 2.5zM257.3 287.5l-2.5-1.7 2.2-1.3zM305 229.9l-2.6 1.5-.2-2.5zM300.5 218.4l.8 2.9-2.5-.4zM190.7 284.6l.4-3.1 2.1 1.3zM186.9 220.9l2.6 1.4-2 1.6zM228.3 241.6l-1 2.9-1.8-1.8zM196.8 292.7l2.1-2.2 .9 2.3zM277.4 291.4l-2-2.3 2.4-.7zM185.8 232.5l2.6-1.6 .3 2.5zM228.1 285.1l-.6-2.9 2.4 .6zM234 277.5l-1.2-2.8 2.5 .1zM264.3 224.9l-.5 3-2.1-1.4zM202.7 273.3l1-2.9 1.8 1.8z" fill="#000"/>
<g mask="url(#spk)"><g filter="url(#bl)"><path d="M82.4,365.6 L86.6,364.1 L92.9,358.8 L97.1,352.9 L101.3,349.0 L107.6,355.4 L114.3,363.9 L116.4,374.1 L114.3,386.9 L110.1,395.8 L103.4,397.9 L97.1,393.7 L90.8,389.4 L82.4,386.2 L79.3,380.9 L80.3,374.1Z" fill="#9d3cff" /><path d="M79.3,375.2 L85.0,374.5 L86.2,382.2 L80.3,383.7Z" fill="#c03030" /><path d="M103.4,345.4 L110.8,339.1 L118.1,335.9 L126.5,331.6 L130.7,329.1 L137.0,332.7 L145.4,332.0 L147.9,335.9 L146.4,346.5 L147.9,354.6 L143.7,365.6 L137.0,370.3 L126.5,368.2 L116.0,361.8 L107.6,355.4 L101.3,349.0Z" fill="#9d3cff" /><path d="M105.5,309.3 L107.6,310.4 L105.5,321.0 L105.1,335.9 L106.6,345.4 L102.4,345.4 L100.9,331.6 L102.6,316.7Z" fill="#9d3cff" /><path d="M114.3,363.9 L126.5,368.2 L137.0,370.3 L143.7,367.7 L145.8,380.5 L141.6,389.4 L133.2,393.7 L120.2,393.7 L113.9,387.3 L116.4,374.1Z" fill="#9d3cff" /><path d="M110.1,395.8 L120.2,393.7 L133.2,393.7 L141.6,390.7 L137.0,395.8 L129.0,402.2 L125.4,412.8 L116.0,414.9 L109.7,412.8 L105.9,404.3 L103.4,397.9Z" fill="#b03090" /><path d="M150.6,355.4 L154.2,351.8 L155.4,347.6 L160.1,346.5 L166.4,343.3 L172.6,340.1 L177.3,346.5 L179.4,359.2 L177.3,370.3 L170.5,376.7 L162.2,378.8 L155.9,374.5 L153.8,363.5Z" fill="#9d3cff" /><path d="M172.6,340.1 L172.6,333.7 L178.9,331.6 L187.3,331.6 L191.5,327.8 L195.1,326.3 L195.7,346.5 L195.1,359.7 L187.3,363.9 L179.4,359.7 L177.3,346.5Z" fill="#9d3cff" /><path d="M181.5,344.4 L191.1,342.7 L193.6,353.3 L185.2,357.5 L180.2,353.3Z" fill="#9d3cff" /><path d="M187.3,331.6 L191.5,327.4 L195.1,324.8 L195.7,331.6 L192.8,335.0Z" fill="#e08000" /><path d="M158.4,349.0 L161.7,348.2 L162.6,353.3 L159.0,354.1Z" fill="#e08000" /><path d="M179.4,359.7 L187.3,363.9 L195.1,359.7 L196.1,367.7 L202.4,369.9 L210.4,373.7 L212.5,377.3 L208.7,383.0 L200.3,386.2 L191.9,389.4 L185.2,388.4 L174.7,387.3 L170.5,383.0 L171.0,376.7 L177.3,370.3Z" fill="#9d3cff" /><path d="M145.8,389.4 L152.1,385.2 L158.0,378.8 L166.4,380.9 L169.5,385.8 L168.4,393.2 L164.7,402.2 L160.5,397.9 L156.3,404.3 L152.7,401.1 L149.6,391.5Z" fill="#9d3cff" /><path d="M166.4,382.2 L171.0,385.8 L172.0,393.2 L173.1,404.3 L169.9,408.5 L164.7,402.2 L167.8,393.2Z" fill="#a030c0" /></g></g>
<g mask="url(#spk2)"><g filter="url(#bl)"><path d="M143.7,365.6 L147.9,354.6 L150.6,355.4 L154.2,357.5 L156.3,374.1 L152.1,385.2 L145.8,389.4 L144.7,378.4Z" fill="#9d3cff" /></g></g>
<path d="M114.1 368l0 0 0 0 0 0 0 0 0 0 0 0 0 0 0 0 0 0 .2 0 .1-.1 0-.2 1.4 .1 1.4 .3 1.4 .3 1.3 .4 1.4 .4 1.3 .5 1.2 .6 1.3 .6 1.2 .8 1.1 .8 1 .9 1 1.1M114.1 369.4l-1.2 .7-1.4 .3-1.4 .2-1.4 .1-1.3 .1-1.4 .1-1.4 .1-1.4 .1-1.4 0-1.4 .1-1.4 0-1.4 0M153.9 377l.4-1.3 .7-1.3 .8-1.1 .8-1.1 1-1 1-1 1.1-.9 1-.9 1.1-.9 1.1-.8M122.7 366.9l1.2-.7 1.1-.8 1.1-1 1-1 .9-1 .9-1.1M156.4 377.6l1.3-.5 1.4-.4 1.3-.3 1.4-.3 1.4-.2 1.4-.2 1.4-.2 1.4-.1 1.4-.1 1.4-.2 1.3-.1M116.5 366.8l.8-1.2 .5-1.3 .5-1.3 .3-1.4 .3-1.3 .3-1.4 .3-1.4 .3-1.3 .4-1.4M127.9 370.8l1.3 .3 1.4 .4M152.8 382.1l.1 1.4 .2 1.4 .3 1.3 .5 1.4 .4 1.3 .6 1.3 .5 1.3 .6 1.3 .6 1.2M116.6 369.5l0 1.4-.3 1.4-.6 1.2-.7 1.3-.8 1.1-.8 1.1-1.1 1-1.1 .8-1.2 .8-1.2 .6-1.3 .6M125.6 361.6l.8-1.2 .7-1.2M153.7 378.1l-.6-1.3-.2-1.3 .2-1.4 .3-1.4 .4-1.3 .5-1.3 .6-1.3 .7-1.2 .7-1.2 .8-1.2M114.6 366.7l-.2-1.3-.5-1.4-.6-1.2-.7-1.2-.9-1.1-.9-1.1-1-1-1-.9-1.1-.9-1.1-.9-1.1-.8M154.6 379l0 0 0 0 0 0 0 0 0 0 .3 1.3 .9 1.1 1 1 1 .9 1 1 1 1 1 1 1 1 1 1 .9 1 .9 1.1 .8 1.1M117.4 376.6l-.5 1.3-.7 1.3-.7 1.2-.7 1.2-.8 1.1M158.9 373.7l1.3-.7 1.2-.6 1.3-.7 1.2-.5 1.3-.6 1.3-.5 1.3-.6M123.4 371.7l.8 1.2 .6 1.2 .4 1.4 .3 1.3 .1 1.4M121.4 371.9l.4 1.3 .2 1.4 0 1.4-.1 1.4-.2 1.4-.3 1.4M167.7 374.1l1.4-.3 1.4-.2M114.2 371.9l-1 1-1.2 .7-1.3 .6-1.4 .4-1.3 .4-1.4 .3-1.3 .3-1.4 .2-1.4 .2-1.4 .2-1.4 .1M159.3 388.9l.8 1.1 .7 1.2 .7 1.2M161.6 377.4l1.4 0 1.4-.1 1.4 0 1.4 .1 1.4 0 1.4 0 1.4 .1M112.6 366.3l-1.3-.5-1.3-.4-1.4-.3-1.4-.3-1.3-.2-1.4-.2-1.4-.1-1.4-.1-1.4 0-1.4 0-1.4 0M111.2 356.7l-.5-1.3-.5-1.3M112.4 368.9l-1.4 0-1.4 0-1.4 0-1.4 0-1.4 0-1.4 0-1.4 0-1.4 0-1.4 0-1.4 0-1.4 0M164.4 378.9l1.4 .2 1.4 .2 1.4 .2 1.4 .3 1.3 .2 1.4 .2M110.1 361.2l-1.2-.8-1.2-.6-1.3-.5-1.3-.4-1.4-.4-1.4-.2-1.4-.1M153.6 369.6l0 0M115.8 363.8l0-1.4 0-1.4-.1-1.4 0-1.4 0-1.4 0-1.4 .1-1.4 .2-1.3M156.5 379.6l1.4 .4 1.3 .3 1.3 .5 1.4 .4 1.3 .5 1.3 .6 1.3 .5 1.2 .6 1.3 .6 1.3 .6 1.2 .6M161.2 384.6l1.1 .9 1.1 .8 1 1 1.1 .9 1 1 .9 1M110.3 376.7l-1.3 .5-1.3 .5-1.3 .5-1.4 .4-1.3 .3M109.3 371.8l-1.4 .2-1.4 .1-1.4 .1-1.3 .1-1.4 .1-1.4 .1-1.4 .1-1.4 0M120.3 362.5l.6-1.3 .5-1.3 .5-1.3 .4-1.4 .5-1.3M125 368.4l1.3-.3 1.3-.5 1.3-.5 1.3-.7 1.2-.7M168.9 381.3l1.4 .4 1.3 .4M105.4 360.8l-1.4-.2-1.4-.2-1.4-.1-1.4 0M123.5 376.8l0 1.4-.1 1.4M114.4 362l-.3-1.4-.3-1.3-.3-1.4-.2-1.4-.2-1.4-.2-1.4M103 365.2l-1.4-.1-1.4 0-1.4 0-1.4 0M118.4 369.4l.8 1.2 .4 1.3 .1 1.4 0 1.4-.2 1.4-.3 1.4-.4 1.3-.5 1.3-.5 1.3M104.9 357.1l-1.4-.3M164 369.1l1.2-.7M111.6 354.4l-.3-1.4M156.3 389.4l.6 1.3 .7 1.2 .6 1.3M163.9 383.8l1.2 .7 1.2 .8 1.2 .8 1.1 .8 1.2 .8" fill="none" stroke="#000" stroke-width="0.45" stroke-linejoin="round"/><path d="M129.4 374.5l.8 1.1 .7 1.2 .6 1.3 .4 1.3 .4 1.4 .2 1.4 .2 1.3 .1 1.4 .1 1.4 0 1.4 0 1.4-.1 1.4-.2 1.4M97.6 371.2l-1.4 0-1.4 0-1.4-.1-1.4-.1-1.4-.2-1.4-.3-1.4-.3-1.2-.6-1.1-.8-1.2-.8-1.4 0-1.4 .3-1.3 .4M162.9 366.7l1.2-.9 1.1-.8 1.2-.8 1.1-.8 1.2-.8 1.1-.8 1.2-.8 1.1-.7 1.2-.8 1.2-.8 1.1-.8 1.2-.8M128.9 361.3l.9-1.1 .8-1.1 .8-1.1 .8-1.2 .8-1.2 .7-1.2 .7-1.1 .8-1.3 .7-1.2 .7-1.2 .6-1.2 .7-1.2M171.5 375l1.4-.1 1.4-.2 1.4-.1 1.4-.2 1.4-.2 1.4-.1 1.4-.2 1.4-.2 1.3-.2 1.4-.2 1.4-.3 1.4-.2M120.2 354.8l.3-1.4 .3-1.3 .4-1.4 .3-1.3 .4-1.4 .3-1.3 .3-1.4 .3-1.4 .3-1.4 .2-1.3 .2-1.4M171.1 364.1l1.2-.7 1.3-.7 1.2-.6 1.2-.7 1.3-.6 1.2-.7 1.3-.6M130.6 371.5l1.3 .4 1.4 .4 1.3 .4 1.4 .4 1.3 .5 1.3 .4 1.3 .5 1.3 .5 1.3 .6 1.3 .5 1.3 .6 1.2 .7M156.6 394l.5 1.3 .6 1.3 .6 1.3 .6 1.2 .5 1.3 .5 1.3 .5 1.4 0 1.3 .6 1.3 .9 1.1M107.5 380.8l-1.3 .6-1.3 .5-1.3 .4-1.3 .4-1.4 .4-1.3 .3-1.4 .2-1.4 .3-1.4 .2-1.4 .1-1.4 .2-1.4 .1-1.4 .1-1.4 .1-1.3 .2M127.1 359.2l.7-1.2 .7-1.2 .7-1.2 .7-1.2 .6-1.3 .7-1.2 .6-1.3 .6-1.2 .6-1.3 .6-1.3 .6-1.2M140.4 376.7l1.2 .8 1.1 .9 1 .9 1 1M153.1 394.7l.6 1.3 .5 1.3 .6 1.2 .7 1.3 .6 1.2 .7 1.2 .8 1.2 .5 .5M157.1 365.2l.8-1.1 .8-1.1 .9-1.2 .9-1 .9-1.1 .9-1.1 .9-1 .9-1.1 1-1 .9-1.1 .9-1M132.5 374.8l1 1 .9 1.1 .9 1.1 .8 1.1 .7 1.3 .6 1.2 .5 1.3 .5 1.3 .4 1.4 .3 1.3M106.9 383.9l-1.3 .6-1.2 .6-1.3 .5-1.3 .5-1.4 .5-1.3 .4-1.3 .4-1.4 .3-1.4 .2-1.4 .2-1.4 .1-1.4 .1M105.5 354.9l-1.3-.6-1.4-.2-1.4 0-1.4 0-1.4 .1-1.4 .1-1.4 .2-1.3 .2-1.4 .2-1.4 .3-1.4 .3-1.3 .3-1.4 .4-.6 .2M165.4 391.5l.8 1.2 .8 1.1 .7 1.2 .7 1.2 .7 1.3 .6 1.2 .6 1.3 .6 1.2 .6 1.3 .6 1.3M132.6 369.4l1.4-.2 1.4-.3 1.3-.4 1.3-.4 1.4-.5 1.3-.5 1.2-.6 1.3-.6 1.2-.7 1.2-.7 1.2-.7 1.2-.8M153.4 358.7l.5-1.3 .6-1.3 .6-1.2 .7-1.3 .6-1.2 .7-1.3M132.4 361.2l1-1 .9-1.1 .8-1.1 .9-1.1 .8-1.1 .8-1.2 .8-1.1 .8-1.2 .8-1.2 .7-1.1M114 382.7l-.8 1.2-.9 1-1 1.1-1 .9-1 1-1 .9-1.1 .9-1.1 .9-1.1 .8-1.1 .9-1.1 .9-1.1 .9M167.8 369.5l1.3-.5 1.3-.5 1.3-.5 1.3-.5 1.3-.5 1.3-.5 1.4-.5 1.3-.4 1.3-.5 1.3-.4 1.4-.4 1.3-.5M125.6 378.2l.1 1.4-.1 1.4-.2 1.4-.2 1.4-.2 1.4-.4 1.3-.3 1.4-.4 1.3-.4 1.4-.5 1.3-.4 1.3-.5 1.3-.5 1.3M121.4 380.2l-.3 1.3-.5 1.4-.4 1.3-.5 1.3-.6 1.3-.6 1.2-.5 1.3-.7 1.3-.6 1.2-.6 1.3-.7 1.2-.6 1.2M127.8 376.8l.4 1.4 .2 1.4 .1 1.4 0 1.4 0 1.4-.1 1.4-.2 1.4-.2 1.3-.3 1.4-.3 1.4-.3 1.3-.3 1.4M115 389.3l-.7 1.2-.8 1.2-.7 1.2-.8 1.2-.8 1.1-.9 1.1M170.5 373.6l1.4-.2 1.4-.2 1.3-.3 1.4-.2 1.4-.2 0 0M99.7 376.3l-1.4 .1-1.4 .1-1.4 0-1.4 0-1.4 0-1.4-.1-1.4-.1-1.4-.1-1.4-.1-1.4 0-1.4 .1-1.4 .1-1.3 .4M161.5 392.4l.7 1.2 .7 1.3 .6 1.2 .5 1.3 .6 1.3 .4 1.4 .4 1.3 .2 1.4 .2 1.4 0 1.4 1.1 .8M97.7 376.5l-1.4 .1-1.4 0-1.4 0-1.4-.1-.7 0M171.4 377.5l1.4 0 1.4 0 1.4 0 1.4 0 1.4 0 1.4-.1 1.4 0 1.4-.1 1.3-.2 1.4-.1 1.4-.2 1.4-.2M97.5 364.2l-1.4 .1-1.4 .1-1.4 .1-1.4 .1-1.4 .2-1.4 .2-1.3 .3-1.4 .5-1.2 .6-.7 .3M110.2 354.1l-.3-1.4-.3-1.3-.1-1.4-.1-1.4 0-1.4 .1-1.4 .2-1.4 .2-1.4 .2-1.4 .4-1.3 .4-1.4M125.8 357.2l.6-1.3 .6-1.3 .5-1.3 .6-1.2 .6-1.3 .5-1.3 .5-1.3 .6-1.3 .5-1.3 .5-1.3 .5-1.3M97 368.9l-1.4 0-1.4 0-1.4 0-1.4-.1-1.4-.1-1.4-.2-1.3-.3-.7-.1M134.6 366.7l1.3-.7 1.2-.7 1.2-.7 1.1-.8 1.2-.8 1.1-.9 1.1-.9 1-.9 1.1-.9 1-1M172.7 380.2l1.4 .2 1.4 .2 1.4 .2 1.4 .1 1.4 .1 1.4 0 1.4 0 1.4 0 1.4-.1 1.4-.1 1.4-.1 1.4-.2M100.9 358.2l-1.4 0-1.4 0-1.4 .1-1.4 .1-1.4 .2-1.3 .3-1.4 .2-1.4 .4-1.3 .3-1.4 .4-1.3 .5-1.3 .5-.6 .2M137.8 362l1-.9 1.1-.9 1-1 .9-1 1-1.1 .9-1 .9-1.1M156.9 362l.7-1.2 .8-1.1 .8-1.2 .9-1.1 .8-1.1 .8-1.1 .9-1.2 .8-1.1 .9-1.1M110 391.4l-.9 1-1 1.1-1 1-.9 1M171.7 371.6l1.4-.3 1.4-.3 1.3-.4 1.4-.3 1.4-.3 1.3-.3 1.4-.3 1.3-.3 1.4-.3 1.4-.3 1.4-.3M107.9 353.2l-.4-1.4-.2-1.3-.2-1.4-.1-1.4 0-1.4 0-1.4 .1-1.4 .1-1.4 .2-1.4 .3-1.4M163.4 364.2l1-.9 1.1-.8 1.1-.9 1.1-.9 0 0M122 386.2l-.4 1.3-.5 1.3-.5 1.3-.6 1.3-.5 1.3-.6 1.3-.5 1.3M105.1 352.3l-.2-1.4-.2-1.4-.1-1.4-.1-1.3-.1-1.4 0-1.4 0-1.4 .1-1.4 .1-1.4M134.5 371.2l1.4 .1 1.4 .1 1.4 0 1.4 0 1.4 0 1.4-.1 1.4 0 1.4-.2 1.4-.1M116 352.7l.2-1.4 .2-1.4 .2-1.4 .3-1.4 .2-1.4 .3-1.3 .2-1.4 .2-1.4 .2-1.4 .1-1.4M170.8 385.2l1.2 .7 1.3 .6 1.2 .7 1.2 .7 1.2 .7 .6 .4M167.4 390.2l.9 1.1 .9 1.1 .9 1.1 .8 1.1 .7 1.2 .8 1.2 .7 1.2 .6 1.3 .6 1.2 .6 1.3M142.2 381.8l.7 1.2M103.7 378.9l-1.4 .3-1.4 .3-1.3 .2-1.4 .2-1.4 .2-1.4 .1-1.4 .1-1.4 .1-1.4 .1-1.4 0-1.4 0-1.4 .1-1.4 0-1.4 0M98.2 372.6l-1.4 .1-1.4-.1-1.4 0-1.4-.1-1.4-.1-1.4-.2-1.4-.3-.7-.2M122.8 355.9l.5-1.3 .4-1.3 .5-1.4 .4-1.3 .5-1.3 .4-1.3 .4-1.4 .4-1.3 .4-1.4 .4-1.3 .4-1.4M131.4 365.7l1.2-.7 1.1-.8 1.1-.9 1.1-.9 .5-.4M171.6 382.1l1.4 .3 1.3 .4 1.4 .3 1.3 .4 1.4 .2 1.4 .2 1.4 .2 1.4 .1 1.4 0 1.4-.1 1.4-.1 1.4-.1M116.2 342.7l.3-1.4 .2-1.3M159.4 354.6l.7-1.1 .8-1.2 .8-1.1M180.7 375.1l1.4-.2 1.4-.2 1.4-.1 1.4-.2 .7-.1M166.4 396.1l.6 1.3 .5 1.2 .6 1.3 .5 1.3 .6 1.3 .6 1.2 .4 .7M102.1 388.7l-1.2 .6-1.3 .6-1.3 .5-1.3 .5-1.3 .4M95.7 381.6l-1.4 .1-1.4 .2-1.4 0-1.4 .1-1.4 .1-1.3 .1-1.4 .1-1.4 0M108 391.1l-1.1 1-1 .9-1 1-1 .9M182.7 371.3l1.4-.3 1.3-.2 1.4-.3M167.5 359.4l1.1-.9 1-1 1.1-.9 1-.9 1.1-.9M135 381.9l.3 1.4 .3 1.3 .2 1.4 .1 1.4 .1 1.4M99.8 360.3l-1.4 0-1.4 0-1.4 .1-1.4 .2-1.4 .2-1.3 .3-1.4 .3-.7 .1M123.4 379.6l-.2 1.4-.3 1.4-.1 .7M117.7 351.8l.3-1.4 .3-1.4 .2-1.4 .3-1.3 .3-1.4 .2-1.4 0 0M112.9 353.7l0-1.4 0-1.4 .2-1.3 .1-1.4 .2-1.4 .2-1.4 .3-1.4 .3-1.3 .3-1.4 .4-1.4M103.2 352.2l-.3-1.4-.3-1.3-.2-1.4-.1-1.4-.1-1.4-.1-1.4 0-1.4-.1-1.4M170.7 358.9l1.1-.9 1.1-.9 1.1-.8M161.4 396.1l.5 1.3 .5 1.4 .4 1.3 .3 1.4 .1 1.4-.1 1.4-.1 .6M91.2 377.7l-1.4 0-1.4-.1-1.4 0-1.4 0-1.4 0-1.4 .1M137.2 359.6l.9-1.1 .9-1.1 .9-1 .9-1.1 .8-1.1 .9-1.2M177.8 386.8l1.3 .5 1.3 .4 1.4 .4 1.4 .1 1.4 .1 1.4 0 1.4-.1M97.4 365.1l-1.4 .1-1.4 0-.7 .1M131.1 381.8l.1 1.4 .1 1.4-.1 1.4 0 1.4-.2 1.4-.1 1.4-.2 1.4-.2 1.4M117.8 381.4l-.6 1.3-.6 1.2-.7 1.3-.7 1.2-.7 1.2-.3 .6M139.5 372.9l1.3 .2 1.4 .2 1.4 .3 1.4 .2 1.4 .2M121.1 345l.3-1.3 .2-1.4 .2-1.4 .1-1.4M153.2 402.5l.7 1.2 .9 1.1 .9 1.1 .9 1 1.1 .9M180.5 382.1l1.4 0 1.4 0 1.4-.1 1.4-.1 1.4-.1 1.4-.1M103.5 356.8l-1.3-.3-1.4-.1-1.4 0-1.4 .1-1.4 .1-1.4 .1-1.4 .2 0 0M165.2 368.4l1.2-.6 1.3-.7 1.2-.6 1.3-.6 1.2-.7 1.3-.6 0 0M111.3 353l-.2-1.4-.1-1.3 0-1.4 0-1.4 .1-1.4 .2-1.4 .2-1.4 .3-1.4 .3-1.4 0 0M86.2 373.2l-1.3-.7-1.1-.7-1.4 .4-1.2 .7-1.2 .7M141.8 369.1l1.4-.4 1.3-.4 1.4-.4 1.3-.5 1.3-.5M153.2 364.3l.5-1.3 .6-1.3 .6-1.3 .3-.6M158.2 393.2l.6 1.2 .6 1.3 .6 1.3 .3 .6M110.1 384.6l-1.1 .9-1.2 .8-1.1 .8-1.2 .7-1.2 .8-.6 .3M153 354.2l.6-1.3 .5-1.3M169.8 387.7l1.1 .8 1.1 .9 1 .9 1 1 1 1 1 1 .8 1.1 .8 1.2 0 0M100.8 351.5l-1.3-.2-1.4 0-1.4 0-1.4 .2-1.4 .1-1.4 .2-1.4 .3-1.4 .2 0 0M93 388.5l-1.3 .1M163.6 359.8l1-1 1-1 .9-1 1-1 1-1 1-1" fill="none" stroke="#000" stroke-width="0.7" stroke-linejoin="round"/><path d="M132.6 391.9l-.2 1.4-.2 1.4-.2 1.4-.3 1.3-.3 1.4-.4 1.4-.4 1.3-.4 1.4-.4 1.3-.5 1.3-.4 1.3-.5 1.3-.6 1.3 0 0M80.2 368.7l-1.3 .6-1.3 .5-.6 .3M176.8 357.1l1.1-.7 1.2-.8 1.1-.8 1.2-.9 1.1-.8 1.1-.8 1.2-.9 1-.9 1.1-.9 .9-1 .9-1.1 .7-1.2 .6-1.3 .5-1.3 .4-1.4 .3-1.3 .3-1.4 .3-1.4 .2-1.3 .3-1.4 .3-1.4 .3-1.3 .3-1.4 .4-1.3 .5-1.4 .4-1.3 .5-1.3 .4-1.4 .3-1.2 .7-1.2 .6-1.3 .6-1.2 .6-1.3 .6-1.2 0 0M137.9 347.2l.7-1.3 .7-1.2 .6-1.2 .7-1.3 .6-1.2 .7-1.2 .7-1.2 .7-1.3 .7-1.2 .7-1.2 .7-1.2 .6-1.2 .5-1.4 .9-1 1-1 .9-1 1-1.1 .9-1 .5-.5M188.2 372.8l1.4-.2 1.4-.2 1.4-.2 1.3-.2 1.4-.2 1.4-.1 1.4-.2 1.4-.1 1.4-.1 1.4-.1 1.4 0 1.4 .3 1.3 .3 1.4 .2 1.4 .4 1.3 .5 1.3 .5 .6 .2M123.5 339.8l.2-1.4 .1-1.4 .1-1.4 .1-1.4 .3-1.4 .8-1.1 1-1 1-1 1.1-.9 1.2-.7 1.2-.6 1.2-.8 0 0M176 354.5l1.1-.9 1-.9 1-1 1-1 .9-1.1 .9-1.1 .8-1.1 .7-1.2 .7-1.3 .5-1.2 .5-1.4 .4-1.3 .4-1.3 .3-1.4 .2-1.4 .1-1.4 .1-1.4 0-1.4 0-1.4-.2-1.4-.3-1.3 .8-1.1 1.2-.8 1.2-.8 1.1-.8 .5-.4M179.8 359.5l1.2-.6 1.3-.6 1.3-.6 1.3-.5 1.3-.6 1.3-.5 1.3-.4 1.3-.4 1.4-.4 1.4-.3 1.3-.2 1.4-.2 1.4-.1 1.4-.1 1.4 0 1.4-.1 1.4 0 1.4 0 .7 0M146.3 377.4l1.2 .6 1.3 .7 1.2 .7 1.1 .8 1.2 .8 .5 1.1M161.9 406.8l.4 .5M87.1 384.9l-1.4 .2-1.4 .4-1.3 .4-1.2 .7-1 1-1.3 .6-1.4 0-.7-.1M134.2 345.6l.6-1.3 .6-1.3 .6-1.2 .6-1.3 .6-1.3 .6-1.2 .6-1.3 .6-1.2 .7-1.3 .8-1.1 1.1-.9 1.2-.7 .7-.2M144.7 380.3l1 1 .9 1.1 .8 1.1 .8 1.2 .8 1.1 .7 1.2 .7 1.3 .6 1.2 .6 1.3 .5 1.3 .5 1.3 .5 1.3M166.9 353.4l.9-1.1 .9-1.1 .9-1.1 .9-1 .8-1.2 .9-1.1 .8-1.1 .7-1.2 .8-1.2 .7-1.2 .7-1.2 .6-1.3 .6-1.2 .6-1.3 .5-1.3 .2-.7M139.1 386.9l.2 1.4 .2 1.4 .2 1.4 .1 1.4 0 1.4 0 1.4 0 1.4-.1 1.4-.1 1.4-.2 1.4-.1 .7M90.8 388.3l-1.4 .1-1.4 .1-1.4 0-1.4 0-1.4 .1-1.3 .2-1.3 .2-1.4 0-.7-.1M172.1 403.8l.6 1.2 .6 1.3 .3 1.4 .2 1.4 .8 1.1 1 1.1 .9 1 .6 .4M148 363l1.2-.8 1.1-.8 1.1-.8 1.2-.8 .8-1.1M157.1 351.1l.6-1.2 .7-1.2 .7-1.2 .7-1.2 .7-1.2 .8-1.2 .7-1.2 .7-1.2 .7-1.2 .8-1.2 .4-.6M140.7 350l.8-1.2 .7-1.2 .7-1.2 .7-1.2 .7-1.2 .7-1.3 .7-1.2 .6-1.2 .7-1.3 .6-1.2 .6-1.3 .5-1.3 .5-1.3 .4-1.4 .5-1.3 .5-1.2 .7-1.3 0 0M101.7 394.1l-1 1-.9 1-.9 1.1-.8 1.2-.6 1.2-.5 1.3-.5 1.3-.6 1.3-.4 .6M183.6 363.8l1.4-.3 1.3-.4 1.4-.3 1.3-.3 1.4-.2 1.4-.2 1.4-.2 1.4-.1 1.4-.1 1.4-.1 1.4 0 1.4 0 1.4 .1 1.4 .2 1.4 .1 .7 .1M121.6 395.8l-.6 1.3-.5 1.3-.5 1.3-.6 1.3-.5 1.3-.6 1.3-.5 1.3-.5 1.3-.5 1.3-.4 1.3-.4 1.4-.2 1.4-.2 1.4 0 1.3 .2 1.4-.3 1.4 0 0M114.8 395.5l-.7 1.3-.7 1.2-.7 1.2-.8 1.2-.8 1.1-.8 1.1-.9 1.1-1 1-1.1 .9-1.2 .7-1.3 .6-1.3 .5-1.3 .3-1.4 .3-1.4 .3-1.3 .4-.7 .2M126.8 393.4l-.4 1.3-.4 1.4-.5 1.3-.4 1.3-.5 1.4-.4 1.3-.5 1.3-.6 1.3-.5 1.3-.5 1.3-.5 1.3-.6 1.3-.5 1.3-.6 1.2-.6 1.3-.7 1.2-.8 1.2 0 0M110.3 396.3l-.8 1.1-1 1.1-.9 1-.9 1.1-1 .9-1.1 1-1.1 .9-1.1 .7-1.4 .4-1.2 .7-1.1 .8-1.2 .8-.6 .3M81.6 376.7l-1.4 .4-1.2 .6-1.3 .6-.7 .1M166.9 406.4l1.2 .7 1.2 .8 1.2 .7 1.3 .5 .7 .2M125 338.8l.2-1.4 .3-1.4 .3-1.3 .5-1.3 0 0M188.1 376.6l1.4-.2 1.4-.2 1.4-.2 1.4-.2 1.3-.2 1.4-.2 1.4-.3 1.4-.3 1.3-.2 1.4-.4 1.3-.4 .7-.3M110.9 338.9l.5-1.3 .5-1.3 .8-1.2 .8-1.1 1-1 1-1 .4-.5M131.8 343l.5-1.3 .5-1.3 .5-1.3 .5-1.3 .5-1.3 .4-1.4 .5-1.3 .3-1.4 .2-1.4 0-1.4 .1-1.4 .3-1.3 .7-1.3 .9-1 1.1-.9 0 0M145.9 358.4l1-.9 1-1 1-1.1 .9-1 .9-1 .9-1.1 .9-1.1 .7-1.2 .6-1.3 .6-1.2 0 0M189.5 380.5l1.3-.2 1.4-.2 1.4-.2 1.4-.3 1.4-.3 1.3-.2 1.4-.3 1.4-.3 1.3-.3 1.4-.4 1.3-.3 1.4-.3 1.4-.2 1.4 0 1.4 .2 1.4 .1 1.4 0 1.4-.3 1.3-.3 0 0M144.6 355l.9-1 .9-1.1 .9-1.1 .8-1.2 .8-1.1 .8-1.1 .8-1.2 .8-1.2 .7-1.2 .8-1.1 0 0M164.3 351.8l.8-1.1 .8-1.1 .9-1.2 .8-1.1 .8-1.1 .8-1.2 .8-1.2 .7-1.1 .8-1.2 .7-1.2 .7-1.2 .8-1.2 .7-1.2 .7-1.2 .7-1.2 .7-1.2 .8-1.2 1-1 1.1-.9 .7-1.2 .7-1.2 .8-1.1 .4-.6M106.2 395.5l-1 1-.9 1-1 1.1-.9 1-.8 1.2-.8 1.2-.3 .6M186.8 368.2l1.3-.2 1.4-.2 1.4-.2 1.4-.2 1.4-.2 1.4-.1 1.4 0 1.4-.1 1.4 0 1.4 .1 1.4 .1 1.4 .2 1.3 .2 .7 .2M107.7 339.3l.3-1.3 .4-1.4 .5-1.3 .6-1.3 .3-.6M118.4 395.3l-.6 1.2-.6 1.3-.6 1.3-.6 1.2-.7 1.3-.6 1.2-.6 1.3-.6 1.2-.6 1.3-.6 1.3-.4 1.3-.2 1.4 .3 1.4 .4 1.3 .5 1.3 .6 1.3 .5 1.3 0 0M104.6 339.8l.2-1.4 .2-1.4 .3-1.4 .4-1.3 .4-1.4 .4-1.3 .5-1.3 .6-1.3 .6-1.3 0 0M147.1 371l1.4-.1 1.4-.2 1.4-.2 1.4-.2 .9-.7M118.1 338.8l0-1.4-.2-1.4-.4-1.3-.3-1.3 0 0M174.9 402l.5 1.3 .4 1.4 .2 .6M142.9 383l.6 1.2 .7 1.3 .5 1.2 .5 1.4 .5 1.3 .4 1.3 .4 1.4 .3 1.3 0 0M166.9 345.2l.8-1.2 .8-1.2 .7-1.2 .8-1.1 .4-.6M84.2 380.6l-1.4 0-1.4-.2-1.3-.5-1.2-.6 0 0M127.5 341.2l.3-1.3 .4-1.4 .4-1.3 .5-1.3 .5-1.3 .5-1.3 .5-1.3 .4-1.4 .3-1.3 0-.7M188.2 383.9l1.4-.2 1.3-.2 1.4-.2 1.4-.2 1.4-.3 1.4-.3 1.3-.3 1.4-.3 1.4-.3 1.3-.3 1.4-.3 1.4-.3 1.3-.1 1.4-.1 1.4 .3 1.3 .4 1.2-.8 1-1 .5-.5M116.7 340l.2-1.4 .1-1.4-.2-1.4 0 0M161.7 351.2l.8-1.2 .8-1.2 .8-1.1 .7-1.2 .8-1.1 0 0M95.7 391.3l-1.4 .3-1.4 .2-1.4 0-1.4 0-1.4-.1-1.4-.2-1.4-.2-1.3-.2 0 0M183.5 349.6l.9-1.1 .8-1.1 .7-1.2 .6-1.3 .5-1.3 .4-1.3 .4-1.4 .3-1.3 .3-1.4 .2-1.4 .2-1.4 .1-1.4 .2-1.4 .3-1.3 .4-1.4 .7-1.2 .8-1.2 .4-.5M84.6 382.3l-1.4 0-1.4-.3-1.3-.5 0 0M103.9 394.9l-1 1-1 1.1-.8 1.1-.8 1.1-.7 1.2 0 0M186.8 370.5l1.4-.2 1.4-.2 1.4-.2 1.4-.2 1.4-.2 .6 0M172.8 354.8l1-1 1-1 1-1 .9-1 1-1 .9-1.1 .8-1.1 .8-1.2 .7-1.2 .7-1.2 .6-1.3 .5-1.3 .4-1.3 .4-1.4 .2-1.3 .2-1.4 .1-1.4 0-1.4-.2-1.4-.3-1.4-.3-1.3 0-1.4 .6-1.3 1-1 1.1-.8 1.2-.7 0 0M136 388.8l0 1.4 0 1.4-.1 1.4-.1 1.4-.1 1.4-.2 1.4-.2 1.4-.3 1.4-.2 1.3-.4 1.4-.3 1.3-.4 1.4 0 0M126.9 400.8l-.5 1.3-.5 1.3-.5 1.3-.5 1.3-.5 1.3-.6 1.3-.5 1.3-.6 1.2 0 0M114.9 339.9l.3-1.3 0 0M185.4 354.3l1.3-.6 1.2-.6 1.3-.6 1.3-.4 1.4-.4 1.4-.3 1.3-.2 1.4-.2 1.4-.2 1.4-.1 1.4-.2 1.4-.1 1.4-.2 1.4-.2 .6-.2M102 341.1l.1-1.4 0-1.4 .2-1.4 .1-1.4 .2-1.4 .2-1.4 .3-1.3 .3-1.4 .4-1.4 .3-1.3 .5-1.3 .4-1.4 .5-1.3 .5-1.3 .5-1.3 .5-1.3 .3-1.4 .1-1.4-.1-1.4-.1-.7M129.6 394.1l-.3 1.4-.3 1.4-.4 1.3-.4 1.3-.5 1.4-.2 .6M176.5 347.2l.8-1.2 .7-1.2 .6-1.3 .6-1.2 .6-1.3 .5-1.3 .4-1.3 .4-1.4 .3-1.4 .1-1.4 0-1.4-.2-1.3-.4-1.4 0-1.4 0 0M174 356.3l1.1-.9 0 0M82.8 377.7l-.7 .1M142.5 353l.8-1.1 .8-1.2 .8-1.1 .7-1.2 .8-1.2 .7-1.2 .7-1.2 .7-1.2 .7-1.2 .7-1.2 .6-1.3 .6-1.2 0 0M187.4 388.2l1.4-.2 1.3-.2 1.4-.2 1.4-.3 1.4-.3 1.3-.3 1.4-.3 1.4-.4 1.3-.3 1.4-.4 1.3-.4 1.3-.4 1.4-.4 1.3-.4 1.3-.5 1.2-.7 1.3-.7 .5-.4M192.5 357.1l1.4-.2 1.4-.2 1.4-.1 1.4-.1 1.4 0 1.4 0 1.4 0 1.4 .1 .7 0M130.5 393l0 0M193.9 350l1.4-.2 1.4-.2 1.4-.2 1.3-.3 1.4-.3 .7-.2M185.4 366.8l1.4-.3 1.3-.3 1.4-.2 1.4-.2 1.4-.2 1.4-.2 1.4-.1 1.4-.1 1.4 0 1.4 0 1.4 .1 1.4 .1 1.3 .2 1.4 .2 .7 .2M149.6 391l.5 1.3 .4 1.3 .4 1.4 .3 1.3 0 0M146.4 374l1.3 .3 1.4 .2 1.4 .3 .7 .1M121.9 339.5l.1-1.4 0-1.4-.1-1.4-.3-1.4-.3-1.3 .2-1.4 1-.9 1.2-.8 1.1-.7 1.2-.8 .6-.4M152.2 398.5l.2 1.3 .3 1.4 .5 1.3M157.7 407.8l.5 .5M188.9 381.7l.7-.1M192.3 346.1l.3-1.4 .3-1.4 .3-1.3 .3-1.4 .2-1.4 .2-.7M185.2 359.2l1.3-.4 1.4-.4 1.3-.4 1.4-.3 1.4-.3 .7-.1M80 373.6l-1.2 .8-1.1 .7-.6 .4M101.8 328.5l.3-1.4 .3-1.4 .3-1.3 .4-1.4 .2-.7M137.2 389l.1 1.4 0 1.4 0 1.4-.1 1.4-.1 1.4-.2 1.4 0 0M148.5 366.9l1.3-.5 1.3-.6 1.2-.6 .9-.9M112.1 403.3l-.8 1.2-.9 1.1-1 .9-1.2 .8-1.2 .8-1.2 .5-1.3 .5-.7 .3M208.2 374.1l1.3 .5 1.3 .5 1.3 .5 1.3 .6 .7 .2M132.1 333.1l.4-1.4 .2-1.4 0-1.4 0-1.4 .5-1.3 .8-1.1 .4-.6M146.5 379.3l1.1 .8 1.1 .9 1 1 1 1 .5 .5M183.4 361.9l1.3-.4 1.4-.4 1.3-.3 1.4-.4 .7-.1M103.5 321.2l.3-1.3 .2-1.4 .2-1.4 .1-1.4 .1-1.4 .1-1.4 .1-1.4 .1-1.4 .4-1.3 .2-1.4 0 0M151.5 356.5l1-1 .5-1.3M154.1 351.6l.6-1.3 0 0M192.6 364.1l1.4-.2 1.4-.1 1.4-.1 1.4 0 1.4 0 1.4 .1 1.4 .2 1.3 .1 0 0M190.2 378.7l1.4-.2 1.4-.2 1.4-.3 1.4-.2 .6-.1M189.7 385.4l1.4-.2 1.4-.2 1.4-.3 1.3-.3 1.4-.3 0 0M121.7 400.9l-.5 1.3-.5 1.3-.5 1.3-.5 1.3-.6 1.3-.4 1.3-.5 1.3 0 0M108.2 320.3l.5-1.3 .1-1.4-.2-1.4-.3-1.4-.3-1.3-.4-1.4-.5-1.3-.6-1.2-.4-.6M141.7 387.4l.4 1.4 .3 1.4 .2 1.3 .2 1.4 .1 1.4 .1 1.4 .1 1.4 0 .7M194.6 345.8l.1-1.3 .2-1.4 .3-1.4 .2-1.4 .2-1.4 .2-1.4 .2-1.3 .2-1.4 .3-1.4 .2-1.4 .2-1.4 .1-.7M102.3 321l.3-1.3 .2-1.4 .2-1.4 .2-1.4 .1-.7M91.7 388.6l-1.4 .1-1.4 .1-1.4 0-.7 0M169.5 353.8l.9-1 1-1.1 .9-1 .9-1.1 .9-1.1 .4-.5" fill="none" stroke="#000" stroke-width="0.95" stroke-linejoin="round"/><path d="M130.5 402.2l-.5-3 2.4 .6zM77 370.1l2-2.3 1 2.4zM191.8 338.3l.6 2.9-2.4-.5zM144.7 335l-.3 3-2.2-1.3zM201.4 371.2l-2.7 1.5-.2-2.5zM125.9 330.5l-.5 3-2.1-1.4zM186.3 337.6l.6 3-2.4-.6zM192.8 354.6l-2.3 1.9-.7-2.5zM151.1 380.2l-3-.4 1.3-2.1zM80.6 387.4l1.7-2.6 1.3 2.2zM138.7 336.1l-.1 3-2.3-1.1zM150.1 387.6l-2.5-1.7 2.1-1.3zM174.5 343.3l-.5 3-2.1-1.3zM139.8 395.3l-1.3-2.7 2.5-.1zM83.2 388.7l2.7-1.4 .1 2.5zM102.2 353.9l3-.6-.6 2.5zM174 410.4l-1.6-2.5 2.5-.4zM159.8 346.3l-.3 3-2.2-1.2zM147.3 338.4l-.2 3.1-2.2-1.2zM97.1 400.2l.3-3 2.2 1.2zM195.3 361.7l-2.6 1.5-.3-2.5zM116.8 407.5l-.2-3.1 2.4 1zM106.8 406.1l1.2-2.8 1.7 1.9zM122.4 405.9l-.2-3 2.4 .9zM103.6 403.4l1.2-2.8 1.7 1.9zM173.9 373.1l-2.5 1.7-.4-2.5zM78.3 377.9l2.1-2.2 .9 2.3zM170.5 408.6l-3-.4 1.3-2.1zM125.9 334l.7 3-2.5-.6zM92.9 376.6l2.7-1.3 0 2.5zM197.8 375.1l-2.5 1.7-.5-2.5zM96.8 364.2l2.8-1.3 0 2.5zM113.4 333.9l-.4 3.1-2.1-1.3zM135.7 331.8l.5 3-2.5-.7zM97.7 368.9l2.8-1.3 0 2.6zM151.6 352.3l-.8 2.9-1.9-1.6zM203.8 377.7l-2.3 1.8-.6-2.4zM95.4 358.4l2.6-1.5 .2 2.6zM149.7 348.4l-.5 3-2.1-1.5zM173.7 337.9l-.4 3-2.2-1.3zM102.4 399.6l.9-2.9 1.9 1.7zM197.2 367l-2.7 1.4-.2-2.5zM108.8 335.3l.4 3-2.4-.7zM166.6 361.6l-1.3 2.7-1.6-2zM112.6 407.2l0-3 2.3 1.1zM106.2 332.3l.5 2.9-2.4-.6zM151.3 370.5l-2.6 1.6-.3-2.5zM117.8 334.7l1.6 2.5-2.5 .4zM168.9 384.2l-3 0 1-2.3zM176 405.3l-2.1-2.2 2.4-.8zM145.8 389.3l-2.2-2.1 2.3-.9zM170 340.5l-.5 3-2.1-1.4zM80.1 380.1l2.9-.8-.4 2.5zM96.8 372.7l2.7-1.4 .1 2.6zM129.8 333.9l.3 3-2.4-.8zM132.6 365.1l-1.8 2.4-1.2-2.2zM202.6 381.1l-2.4 1.9-.6-2.5zM117.1 336.5l1 2.9-2.6-.3zM164.4 347.1l-.5 3-2.1-1.4zM185.6 374.5l-2.6 1.6-.3-2.5zM170.8 405.6l-2.4-1.8 2.2-1.3zM88.7 391.7l2.8-1.1 0 2.5zM188.7 336.1l.8 3-2.5-.5zM81.1 382l2.9-.9-.3 2.5zM100.6 398.6l.8-3 2 1.7zM192.3 369.7l-2.5 1.7-.4-2.6zM183.5 338.8l.4 3-2.4-.8zM135.3 398.6l-.9-2.9 2.5 .3zM124.1 407.9l-.1-3 2.3 1zM95.6 360.4l2.7-1.4 .1 2.5zM123.2 381.7l-1-2.9 2.5 .2zM118.8 346.3l.7 2.9-2.5-.5zM115.4 337.9l.5 3-2.4-.6zM197.4 350.8l-2.6 1.6-.3-2.5zM104.3 326.6l.5 3-2.4-.6zM128 400.2l-.5-3 2.5 .7zM181.3 336.4l.5 3-2.5-.8zM175.6 355l-1.3 2.7-1.6-2zM163.3 402.1l-1.9-2.3 2.4-.7zM80.8 377.9l2.6-1.5 .2 2.5zM147.8 344.9l-.3 3-2.2-1.4zM200.4 385.5l-2.4 1.9-.6-2.4zM200.8 356.5l-2.7 1.3 0-2.5zM96.7 365.1l2.7-1.3 .1 2.5zM130.2 394.3l-.8-2.9 2.5 .4zM118.1 380.8l-.3-3 2.4 .8zM200.1 349l-2.5 1.7-.4-2.5zM197.8 365.2l-2.6 1.4-.2-2.6zM151.1 395.6l-2-2.3 2.4-.7zM150.5 374.8l-3 .7 .5-2.5zM120.9 331.2l1.9 2.4-2.4 .6zM158.2 408.3l-2.9-1 1.7-1.8zM190.3 381.5l-2.6 1.6-.3-2.6zM193.6 339.9l.7 3-2.5-.5zM98 356.4l2.8-1.2-.1 2.5zM169.5 366.2l-1.8 2.4-1.2-2.3zM191.3 357.5l-2.4 1.9-.6-2.4zM111.1 346.1l1.1 2.8-2.5-.1zM77.7 375.1l1.6-2.5 1.4 2.1zM103.1 323l.5 3-2.4-.6zM137.2 395.3l-1.2-2.8 2.5 .1zM151.7 365.6l-2.1 2.2-1-2.3zM106.5 408.5l1.6-2.6 1.4 2.1zM213.4 376.1l-3 .2 .9-2.3zM159.1 395l-2.3-1.9 2.2-1.1zM132.7 326.2l1.3 2.8-2.6-.1zM150.7 382.9l-2.9-.9 1.8-1.9zM188.8 360.4l-2.4 1.9-.6-2.4zM104.5 312.2l1.1 2.8-2.5-.1zM105.5 387.9l1.6-2.6 1.4 2.1zM155 349.7l0 3.1-2.3-1.1zM200.2 363.7l-2.7 1.3 0-2.5zM195.7 377.8l-2.5 1.7-.4-2.5zM195.2 384.4l-2.5 1.8-.4-2.5zM119.1 407.4l-.1-3 2.3 .9zM172.5 389.8l-2.9-.7 1.5-2zM107.6 312.1l2 2.4-2.5 .6zM143 395l-1.5-2.6 2.5-.3zM196.1 335.5l.8 2.9-2.5-.4zM103.3 315.5l.8 3-2.5-.4zM93.9 351.6l2.6-1.5 .2 2.5zM87.5 388.8l2.7-1.4 .1 2.6zM172.7 350.2l-.9 2.9-1.8-1.7z" fill="#000"/>
</g>
<g mask="url(#spk0)"><g filter="url(#bl)"><path d="M233.0,344.4 L235.5,343.5 L239.3,340.4 L241.8,336.9 L244.3,334.6 L248.1,338.4 L252.1,343.4 L253.3,349.4 L252.1,357.0 L249.6,362.2 L245.6,363.5 L241.8,361.0 L238.0,358.5 L233.0,356.6 L231.1,353.4 L231.7,349.4Z" fill="#31688e" /><path d="M231.1,350.1 L234.5,349.7 L235.2,354.2 L231.7,355.1Z" fill="#39558b" /><path d="M245.6,332.5 L250.0,328.7 L254.3,326.8 L259.4,324.3 L261.9,322.8 L265.7,324.9 L270.7,324.5 L272.2,326.8 L271.3,333.1 L272.2,337.9 L269.7,344.4 L265.7,347.2 L259.4,345.9 L253.1,342.1 L248.1,338.4 L244.3,334.6Z" fill="#22938b" /><path d="M246.8,311.1 L248.1,311.7 L246.8,318.0 L246.6,326.8 L247.4,332.5 L244.9,332.5 L244.0,324.3 L245.0,315.5Z" fill="#462e7b" /><path d="M252.1,343.4 L259.4,345.9 L265.7,347.2 L269.7,345.7 L270.9,353.2 L268.4,358.5 L263.4,361.0 L255.6,361.0 L251.8,357.2 L253.3,349.4Z" fill="#26828e" /><path d="M249.6,362.2 L255.6,361.0 L263.4,361.0 L268.4,359.2 L265.7,362.2 L260.9,366.0 L258.7,372.3 L253.1,373.6 L249.3,372.3 L247.1,367.3 L245.6,363.5Z" fill="#287e8e" /></g></g>
<g mask="url(#spk)"><g filter="url(#bl)"><path d="M269.7,344.4 L272.2,337.9 L273.8,338.4 L276.0,339.6 L277.2,349.4 L274.7,356.0 L270.9,358.5 L270.3,351.9Z" fill="#34618d" /><path d="M273.8,338.4 L276.0,336.2 L276.7,333.7 L279.5,333.1 L283.3,331.2 L287.0,329.3 L289.8,333.1 L291.0,340.6 L289.8,347.2 L285.8,350.9 L280.7,352.2 L277.0,349.7 L275.7,343.1Z" fill="#462e7b" /><path d="M287.0,329.3 L287.0,325.6 L290.8,324.3 L295.8,324.3 L298.3,322.0 L300.5,321.2 L300.8,333.1 L300.5,340.9 L295.8,343.4 L291.0,340.9 L289.8,333.1Z" fill="#461062" /><path d="M292.3,331.8 L298.1,330.8 L299.6,337.1 L294.6,339.6 L291.5,337.1Z" fill="#461062" /><path d="M295.8,324.3 L298.3,321.8 L300.5,320.3 L300.8,324.3 L299.1,326.3Z" fill="#450d5f" /><path d="M278.5,334.6 L280.5,334.1 L281.0,337.1 L278.9,337.6Z" fill="#450d5f" /><path d="M291.0,340.9 L295.8,343.4 L300.5,340.9 L301.1,345.7 L304.9,346.9 L309.6,349.2 L310.9,351.3 L308.6,354.7 L303.6,356.6 L298.6,358.5 L294.6,357.8 L288.3,357.2 L285.8,354.7 L286.0,350.9 L289.8,347.2Z" fill="#450d5f" /><path d="M270.9,358.5 L274.7,356.0 L278.2,352.2 L283.3,353.4 L285.1,356.3 L284.5,360.7 L282.2,366.0 L279.7,363.5 L277.2,367.3 L275.1,365.4 L273.2,359.7Z" fill="#44367f" /><path d="M283.3,354.2 L286.0,356.3 L286.6,360.7 L287.3,367.3 L285.4,369.8 L282.2,366.0 L284.1,360.7Z" fill="#462e7b" /></g></g>
<g mask="url(#spk3)"><g filter="url(#bl)"><path d="M233.0,344.4 L235.5,343.5 L239.3,340.4 L241.8,336.9 L244.3,334.6 L248.1,338.4 L252.1,343.4 L253.3,349.4 L252.1,357.0 L249.6,362.2 L245.6,363.5 L241.8,361.0 L238.0,358.5 L233.0,356.6 L231.1,353.4 L231.7,349.4Z" fill="#482575" /><path d="M231.1,350.1 L234.5,349.7 L235.2,354.2 L231.7,355.1Z" fill="#482575" /><path d="M245.6,332.5 L250.0,328.7 L254.3,326.8 L259.4,324.3 L261.9,322.8 L265.7,324.9 L270.7,324.5 L272.2,326.8 L271.3,333.1 L272.2,337.9 L269.7,344.4 L265.7,347.2 L259.4,345.9 L253.1,342.1 L248.1,338.4 L244.3,334.6Z" fill="#482575" /><path d="M246.8,311.1 L248.1,311.7 L246.8,318.0 L246.6,326.8 L247.4,332.5 L244.9,332.5 L244.0,324.3 L245.0,315.5Z" fill="#482575" /><path d="M252.1,343.4 L259.4,345.9 L265.7,347.2 L269.7,345.7 L270.9,353.2 L268.4,358.5 L263.4,361.0 L255.6,361.0 L251.8,357.2 L253.3,349.4Z" fill="#482575" /><path d="M249.6,362.2 L255.6,361.0 L263.4,361.0 L268.4,359.2 L265.7,362.2 L260.9,366.0 L258.7,372.3 L253.1,373.6 L249.3,372.3 L247.1,367.3 L245.6,363.5Z" fill="#482575" /><path d="M269.7,344.4 L272.2,337.9 L273.8,338.4 L276.0,339.6 L277.2,349.4 L274.7,356.0 L270.9,358.5 L270.3,351.9Z" fill="#482575" /><path d="M273.8,338.4 L276.0,336.2 L276.7,333.7 L279.5,333.1 L283.3,331.2 L287.0,329.3 L289.8,333.1 L291.0,340.6 L289.8,347.2 L285.8,350.9 L280.7,352.2 L277.0,349.7 L275.7,343.1Z" fill="#482575" /><path d="M287.0,329.3 L287.0,325.6 L290.8,324.3 L295.8,324.3 L298.3,322.0 L300.5,321.2 L300.8,333.1 L300.5,340.9 L295.8,343.4 L291.0,340.9 L289.8,333.1Z" fill="#482575" /><path d="M292.3,331.8 L298.1,330.8 L299.6,337.1 L294.6,339.6 L291.5,337.1Z" fill="#482575" /><path d="M295.8,324.3 L298.3,321.8 L300.5,320.3 L300.8,324.3 L299.1,326.3Z" fill="#482575" /><path d="M278.5,334.6 L280.5,334.1 L281.0,337.1 L278.9,337.6Z" fill="#482575" /><path d="M291.0,340.9 L295.8,343.4 L300.5,340.9 L301.1,345.7 L304.9,346.9 L309.6,349.2 L310.9,351.3 L308.6,354.7 L303.6,356.6 L298.6,358.5 L294.6,357.8 L288.3,357.2 L285.8,354.7 L286.0,350.9 L289.8,347.2Z" fill="#482575" /><path d="M270.9,358.5 L274.7,356.0 L278.2,352.2 L283.3,353.4 L285.1,356.3 L284.5,360.7 L282.2,366.0 L279.7,363.5 L277.2,367.3 L275.1,365.4 L273.2,359.7Z" fill="#482575" /><path d="M283.3,354.2 L286.0,356.3 L286.6,360.7 L287.3,367.3 L285.4,369.8 L282.2,366.0 L284.1,360.7Z" fill="#482575" /></g></g>
<g mask="url(#holes)">
<g mask="url(#spk0)"><g filter="url(#bl)"><path d="M11.9,596.7 L15.0,595.6 L19.6,591.6 L22.6,587.2 L25.7,584.4 L30.3,589.1 L35.2,595.4 L36.7,603.0 L35.2,612.4 L32.1,619.0 L27.2,620.6 L22.6,617.5 L18.0,614.3 L11.9,611.9 L9.6,608.0 L10.4,603.0Z" fill="#297c8e" /><path d="M9.6,603.7 L13.7,603.3 L14.7,608.9 L10.4,610.1Z" fill="#238d8c" /><path d="M27.2,581.7 L32.6,577.0 L37.9,574.6 L44.1,571.4 L47.1,569.6 L51.7,572.2 L57.9,571.8 L59.7,574.6 L58.6,582.5 L59.7,588.5 L56.6,596.7 L51.7,600.1 L44.1,598.5 L36.4,593.8 L30.3,589.1 L25.7,584.4Z" fill="#2d718e" /><path d="M28.8,554.9 L30.3,555.7 L28.8,563.6 L28.4,574.6 L29.5,581.7 L26.5,581.7 L25.4,571.4 L26.6,560.4Z" fill="#39558b" /><path d="M35.2,595.4 L44.1,598.5 L51.7,600.1 L56.6,598.2 L58.2,607.7 L55.1,614.3 L49.0,617.5 L39.5,617.5 L34.9,612.7 L36.7,603.0Z" fill="#2b778e" /><path d="M32.1,619.0 L39.5,617.5 L49.0,617.5 L55.1,615.3 L51.7,619.0 L45.9,623.8 L43.3,631.6 L36.4,633.2 L31.8,631.6 L29.1,625.3 L27.2,620.6Z" fill="#297c8e" /></g></g>
<g mask="url(#spk)"><g filter="url(#bl)"><path d="M56.6,596.7 L59.7,588.5 L61.7,589.1 L64.3,590.7 L65.8,603.0 L62.8,611.2 L58.2,614.3 L57.4,606.1Z" fill="#31688e" /><path d="M61.7,589.1 L64.3,586.4 L65.2,583.3 L68.6,582.5 L73.2,580.1 L77.8,577.7 L81.2,582.5 L82.7,591.9 L81.2,600.1 L76.3,604.9 L70.1,606.4 L65.5,603.3 L64.0,595.1Z" fill="#423b82" /><path d="M77.8,577.7 L77.8,573.0 L82.4,571.4 L88.5,571.4 L91.6,568.6 L94.2,567.5 L94.6,582.5 L94.2,592.2 L88.5,595.4 L82.7,592.2 L81.2,582.5Z" fill="#471f70" /><path d="M84.2,580.9 L91.3,579.6 L93.1,587.5 L87.0,590.7 L83.3,587.5Z" fill="#471f70" /><path d="M88.5,571.4 L91.6,568.3 L94.2,566.4 L94.6,571.4 L92.5,574.0Z" fill="#46196a" /><path d="M67.4,584.4 L69.8,583.7 L70.4,587.5 L67.8,588.1Z" fill="#46196a" /><path d="M82.7,592.2 L88.5,595.4 L94.2,592.2 L94.9,598.2 L99.5,599.8 L105.4,602.6 L106.9,605.3 L104.1,609.6 L98.0,611.9 L91.9,614.3 L87.0,613.5 L79.3,612.7 L76.3,609.6 L76.6,604.9 L81.2,600.1Z" fill="#46196a" /><path d="M58.2,614.3 L62.8,611.2 L67.1,606.4 L73.2,608.0 L75.5,611.6 L74.7,617.1 L72.0,623.8 L68.9,620.6 L65.8,625.3 L63.2,623.0 L60.9,615.9Z" fill="#39558b" /><path d="M73.2,608.9 L76.6,611.6 L77.3,617.1 L78.1,625.3 L75.8,628.5 L72.0,623.8 L74.3,617.1Z" fill="#39558b" /></g></g>
<g mask="url(#spk3)"><g filter="url(#bl)"><path d="M11.9,596.7 L15.0,595.6 L19.6,591.6 L22.6,587.2 L25.7,584.4 L30.3,589.1 L35.2,595.4 L36.7,603.0 L35.2,612.4 L32.1,619.0 L27.2,620.6 L22.6,617.5 L18.0,614.3 L11.9,611.9 L9.6,608.0 L10.4,603.0Z" fill="#471f70" /><path d="M9.6,603.7 L13.7,603.3 L14.7,608.9 L10.4,610.1Z" fill="#471f70" /><path d="M27.2,581.7 L32.6,577.0 L37.9,574.6 L44.1,571.4 L47.1,569.6 L51.7,572.2 L57.9,571.8 L59.7,574.6 L58.6,582.5 L59.7,588.5 L56.6,596.7 L51.7,600.1 L44.1,598.5 L36.4,593.8 L30.3,589.1 L25.7,584.4Z" fill="#471f70" /><path d="M28.8,554.9 L30.3,555.7 L28.8,563.6 L28.4,574.6 L29.5,581.7 L26.5,581.7 L25.4,571.4 L26.6,560.4Z" fill="#471f70" /><path d="M35.2,595.4 L44.1,598.5 L51.7,600.1 L56.6,598.2 L58.2,607.7 L55.1,614.3 L49.0,617.5 L39.5,617.5 L34.9,612.7 L36.7,603.0Z" fill="#471f70" /><path d="M32.1,619.0 L39.5,617.5 L49.0,617.5 L55.1,615.3 L51.7,619.0 L45.9,623.8 L43.3,631.6 L36.4,633.2 L31.8,631.6 L29.1,625.3 L27.2,620.6Z" fill="#471f70" /><path d="M56.6,596.7 L59.7,588.5 L61.7,589.1 L64.3,590.7 L65.8,603.0 L62.8,611.2 L58.2,614.3 L57.4,606.1Z" fill="#471f70" /><path d="M61.7,589.1 L64.3,586.4 L65.2,583.3 L68.6,582.5 L73.2,580.1 L77.8,577.7 L81.2,582.5 L82.7,591.9 L81.2,600.1 L76.3,604.9 L70.1,606.4 L65.5,603.3 L64.0,595.1Z" fill="#471f70" /><path d="M77.8,577.7 L77.8,573.0 L82.4,571.4 L88.5,571.4 L91.6,568.6 L94.2,567.5 L94.6,582.5 L94.2,592.2 L88.5,595.4 L82.7,592.2 L81.2,582.5Z" fill="#471f70" /><path d="M84.2,580.9 L91.3,579.6 L93.1,587.5 L87.0,590.7 L83.3,587.5Z" fill="#471f70" /><path d="M88.5,571.4 L91.6,568.3 L94.2,566.4 L94.6,571.4 L92.5,574.0Z" fill="#471f70" /><path d="M67.4,584.4 L69.8,583.7 L70.4,587.5 L67.8,588.1Z" fill="#471f70" /><path d="M82.7,592.2 L88.5,595.4 L94.2,592.2 L94.9,598.2 L99.5,599.8 L105.4,602.6 L106.9,605.3 L104.1,609.6 L98.0,611.9 L91.9,614.3 L87.0,613.5 L79.3,612.7 L76.3,609.6 L76.6,604.9 L81.2,600.1Z" fill="#471f70" /><path d="M58.2,614.3 L62.8,611.2 L67.1,606.4 L73.2,608.0 L75.5,611.6 L74.7,617.1 L72.0,623.8 L68.9,620.6 L65.8,625.3 L63.2,623.0 L60.9,615.9Z" fill="#471f70" /><path d="M73.2,608.9 L76.6,611.6 L77.3,617.1 L78.1,625.3 L75.8,628.5 L72.0,623.8 L74.3,617.1Z" fill="#471f70" /></g></g>
</g>
<g mask="url(#holes)">
<g mask="url(#spk0)"><g filter="url(#bl)"><path d="M147.8,605.9 L150.1,605.1 L153.7,602.2 L156.0,599.0 L158.4,596.9 L161.9,600.4 L165.7,605.0 L166.9,610.5 L165.7,617.4 L163.4,622.3 L159.6,623.4 L156.0,621.1 L152.5,618.8 L147.8,617.1 L146.0,614.2 L146.6,610.5Z" fill="#30b17d" /><path d="M146.0,611.1 L149.2,610.8 L149.9,614.9 L146.6,615.7Z" fill="#4bc06c" /><path d="M159.6,595.0 L163.7,591.5 L167.9,589.8 L172.6,587.5 L174.9,586.1 L178.5,588.1 L183.2,587.7 L184.6,589.8 L183.8,595.6 L184.6,599.9 L182.3,605.9 L178.5,608.4 L172.6,607.3 L166.7,603.8 L161.9,600.4 L158.4,596.9Z" fill="#21a088" /><path d="M160.8,575.4 L161.9,576.0 L160.8,581.7 L160.5,589.8 L161.4,595.0 L159.0,595.0 L158.2,587.5 L159.1,579.4Z" fill="#26828e" /><path d="M165.7,605.0 L172.6,607.3 L178.5,608.4 L182.3,607.1 L183.4,614.0 L181.1,618.8 L176.4,621.1 L169.0,621.1 L165.5,617.7 L166.9,610.5Z" fill="#30b17d" /><path d="M163.4,622.3 L169.0,621.1 L176.4,621.1 L181.1,619.5 L178.5,622.3 L174.0,625.7 L172.0,631.5 L166.7,632.6 L163.1,631.5 L161.0,626.9 L159.6,623.4Z" fill="#4bc06c" /></g></g>
<g mask="url(#spk)"><g filter="url(#bl)"><path d="M182.3,605.9 L184.6,599.9 L186.2,600.4 L188.2,601.5 L189.3,610.5 L187.0,616.5 L183.4,618.8 L182.9,612.8Z" fill="#26828e" /><path d="M186.2,600.4 L188.2,598.4 L188.9,596.1 L191.5,595.6 L195.0,593.8 L198.6,592.1 L201.2,595.6 L202.3,602.5 L201.2,608.4 L197.4,611.9 L192.7,613.1 L189.1,610.8 L187.9,604.8Z" fill="#34618d" /><path d="M198.6,592.1 L198.6,588.6 L202.1,587.5 L206.8,587.5 L209.2,585.4 L211.2,584.6 L211.6,595.6 L211.2,602.7 L206.8,605.0 L202.3,602.7 L201.2,595.6Z" fill="#423b82" /><path d="M203.5,594.4 L209.0,593.5 L210.4,599.2 L205.6,601.5 L202.8,599.2Z" fill="#423b82" /><path d="M206.8,587.5 L209.2,585.2 L211.2,583.8 L211.6,587.5 L209.9,589.3Z" fill="#462e7b" /><path d="M190.5,596.9 L192.4,596.5 L192.9,599.2 L190.9,599.7Z" fill="#462e7b" /><path d="M202.3,602.7 L206.8,605.0 L211.2,602.7 L211.8,607.1 L215.3,608.2 L219.8,610.3 L221.0,612.2 L218.9,615.4 L214.1,617.1 L209.4,618.8 L205.6,618.2 L199.7,617.7 L197.4,615.4 L197.6,611.9 L201.2,608.4Z" fill="#423b82" /><path d="M183.4,618.8 L187.0,616.5 L190.3,613.1 L195.0,614.2 L196.8,616.9 L196.2,620.9 L194.1,625.7 L191.7,623.4 L189.3,626.9 L187.3,625.1 L185.6,620.0Z" fill="#2b778e" /><path d="M195.0,614.9 L197.6,616.9 L198.2,620.9 L198.8,626.9 L197.0,629.2 L194.1,625.7 L195.8,620.9Z" fill="#2b778e" /></g></g>
<g mask="url(#spk3)"><g filter="url(#bl)"><path d="M147.8,605.9 L150.1,605.1 L153.7,602.2 L156.0,599.0 L158.4,596.9 L161.9,600.4 L165.7,605.0 L166.9,610.5 L165.7,617.4 L163.4,622.3 L159.6,623.4 L156.0,621.1 L152.5,618.8 L147.8,617.1 L146.0,614.2 L146.6,610.5Z" fill="#2b778e" /><path d="M146.0,611.1 L149.2,610.8 L149.9,614.9 L146.6,615.7Z" fill="#2b778e" /><path d="M159.6,595.0 L163.7,591.5 L167.9,589.8 L172.6,587.5 L174.9,586.1 L178.5,588.1 L183.2,587.7 L184.6,589.8 L183.8,595.6 L184.6,599.9 L182.3,605.9 L178.5,608.4 L172.6,607.3 L166.7,603.8 L161.9,600.4 L158.4,596.9Z" fill="#2b778e" /><path d="M160.8,575.4 L161.9,576.0 L160.8,581.7 L160.5,589.8 L161.4,595.0 L159.0,595.0 L158.2,587.5 L159.1,579.4Z" fill="#2b778e" /><path d="M165.7,605.0 L172.6,607.3 L178.5,608.4 L182.3,607.1 L183.4,614.0 L181.1,618.8 L176.4,621.1 L169.0,621.1 L165.5,617.7 L166.9,610.5Z" fill="#2b778e" /><path d="M163.4,622.3 L169.0,621.1 L176.4,621.1 L181.1,619.5 L178.5,622.3 L174.0,625.7 L172.0,631.5 L166.7,632.6 L163.1,631.5 L161.0,626.9 L159.6,623.4Z" fill="#2b778e" /><path d="M182.3,605.9 L184.6,599.9 L186.2,600.4 L188.2,601.5 L189.3,610.5 L187.0,616.5 L183.4,618.8 L182.9,612.8Z" fill="#2b778e" /><path d="M186.2,600.4 L188.2,598.4 L188.9,596.1 L191.5,595.6 L195.0,593.8 L198.6,592.1 L201.2,595.6 L202.3,602.5 L201.2,608.4 L197.4,611.9 L192.7,613.1 L189.1,610.8 L187.9,604.8Z" fill="#2b778e" /><path d="M198.6,592.1 L198.6,588.6 L202.1,587.5 L206.8,587.5 L209.2,585.4 L211.2,584.6 L211.6,595.6 L211.2,602.7 L206.8,605.0 L202.3,602.7 L201.2,595.6Z" fill="#2b778e" /><path d="M203.5,594.4 L209.0,593.5 L210.4,599.2 L205.6,601.5 L202.8,599.2Z" fill="#2b778e" /><path d="M206.8,587.5 L209.2,585.2 L211.2,583.8 L211.6,587.5 L209.9,589.3Z" fill="#2b778e" /><path d="M190.5,596.9 L192.4,596.5 L192.9,599.2 L190.9,599.7Z" fill="#2b778e" /><path d="M202.3,602.7 L206.8,605.0 L211.2,602.7 L211.8,607.1 L215.3,608.2 L219.8,610.3 L221.0,612.2 L218.9,615.4 L214.1,617.1 L209.4,618.8 L205.6,618.2 L199.7,617.7 L197.4,615.4 L197.6,611.9 L201.2,608.4Z" fill="#2b778e" /><path d="M183.4,618.8 L187.0,616.5 L190.3,613.1 L195.0,614.2 L196.8,616.9 L196.2,620.9 L194.1,625.7 L191.7,623.4 L189.3,626.9 L187.3,625.1 L185.6,620.0Z" fill="#2b778e" /><path d="M195.0,614.9 L197.6,616.9 L198.2,620.9 L198.8,626.9 L197.0,629.2 L194.1,625.7 L195.8,620.9Z" fill="#2b778e" /></g></g>
</g>
<g mask="url(#holes)">
<g mask="url(#spk0)"><g filter="url(#bl)"><path d="M242.8,605.9 L245.1,605.1 L248.6,602.2 L251.0,599.0 L253.3,596.9 L256.8,600.4 L260.6,605.0 L261.7,610.5 L260.6,617.4 L258.2,622.3 L254.5,623.4 L251.0,621.1 L247.4,618.8 L242.8,617.1 L241.0,614.2 L241.6,610.5Z" fill="#ba1624" /><path d="M241.0,611.1 L244.2,610.8 L244.9,614.9 L241.6,615.7Z" fill="#c01808" /><path d="M254.5,595.0 L258.6,591.5 L262.7,589.8 L267.4,587.5 L269.7,586.1 L273.2,588.1 L277.9,587.7 L279.3,589.8 L278.5,595.6 L279.3,599.9 L277.0,605.9 L273.2,608.4 L267.4,607.3 L261.5,603.8 L256.8,600.4 L253.3,596.9Z" fill="#c31d06" /><path d="M255.6,575.4 L256.8,576.0 L255.6,581.7 L255.4,589.8 L256.2,595.0 L253.9,595.0 L253.1,587.5 L254.0,579.4Z" fill="#8b06f2" /><path d="M260.6,605.0 L267.4,607.3 L273.2,608.4 L277.0,607.1 L278.1,614.0 L275.8,618.8 L271.1,621.1 L263.8,621.1 L260.3,617.7 L261.7,610.5Z" fill="#c01808" /><path d="M258.2,622.3 L263.8,621.1 L271.1,621.1 L275.8,619.5 L273.2,622.3 L268.8,625.7 L266.8,631.5 L261.5,632.6 L258.0,631.5 L255.9,626.9 L254.5,623.4Z" fill="#c01808" /></g></g>
<g mask="url(#spk)"><g filter="url(#bl)"><path d="M277.0,605.9 L279.3,599.9 L280.8,600.4 L282.8,601.5 L284.0,610.5 L281.7,616.5 L278.1,618.8 L277.6,612.8Z" fill="#960bc4" /><path d="M280.8,600.4 L282.8,598.4 L283.5,596.1 L286.1,595.6 L289.6,593.8 L293.1,592.1 L295.7,595.6 L296.9,602.5 L295.7,608.4 L292.0,611.9 L287.3,613.1 L283.8,610.8 L282.6,604.8Z" fill="#8104f2" /><path d="M293.1,592.1 L293.1,588.6 L296.7,587.5 L301.3,587.5 L303.7,585.4 L305.7,584.6 L306.0,595.6 L305.7,602.7 L301.3,605.0 L296.9,602.7 L295.7,595.6Z" fill="#7c04f2" /><path d="M298.1,594.4 L303.4,593.5 L304.9,599.2 L300.2,601.5 L297.4,599.2Z" fill="#7c04f2" /><path d="M301.3,587.5 L303.7,585.2 L305.7,583.8 L306.0,587.5 L304.4,589.3Z" fill="#c01808" /><path d="M285.2,596.9 L287.0,596.5 L287.5,599.2 L285.5,599.7Z" fill="#c01808" /><path d="M296.9,602.7 L301.3,605.0 L305.7,602.7 L306.3,607.1 L309.8,608.2 L314.2,610.3 L315.4,612.2 L313.3,615.4 L308.6,617.1 L303.9,618.8 L300.2,618.2 L294.3,617.7 L292.0,615.4 L292.2,611.9 L295.7,608.4Z" fill="#8104f2" /><path d="M278.1,618.8 L281.7,616.5 L284.9,613.1 L289.6,614.2 L291.4,616.9 L290.8,620.9 L288.7,625.7 L286.3,623.4 L284.0,626.9 L282.0,625.1 L280.3,620.0Z" fill="#8605f2" /><path d="M289.6,614.9 L292.2,616.9 L292.8,620.9 L293.4,626.9 L291.6,629.2 L288.7,625.7 L290.4,620.9Z" fill="#8605f2" /></g></g>
<g mask="url(#spk3)"><g filter="url(#bl)"><path d="M242.8,605.9 L245.1,605.1 L248.6,602.2 L251.0,599.0 L253.3,596.9 L256.8,600.4 L260.6,605.0 L261.7,610.5 L260.6,617.4 L258.2,622.3 L254.5,623.4 L251.0,621.1 L247.4,618.8 L242.8,617.1 L241.0,614.2 L241.6,610.5Z" fill="#7e04f2" /><path d="M241.0,611.1 L244.2,610.8 L244.9,614.9 L241.6,615.7Z" fill="#7e04f2" /><path d="M254.5,595.0 L258.6,591.5 L262.7,589.8 L267.4,587.5 L269.7,586.1 L273.2,588.1 L277.9,587.7 L279.3,589.8 L278.5,595.6 L279.3,599.9 L277.0,605.9 L273.2,608.4 L267.4,607.3 L261.5,603.8 L256.8,600.4 L253.3,596.9Z" fill="#7e04f2" /><path d="M255.6,575.4 L256.8,576.0 L255.6,581.7 L255.4,589.8 L256.2,595.0 L253.9,595.0 L253.1,587.5 L254.0,579.4Z" fill="#7e04f2" /><path d="M260.6,605.0 L267.4,607.3 L273.2,608.4 L277.0,607.1 L278.1,614.0 L275.8,618.8 L271.1,621.1 L263.8,621.1 L260.3,617.7 L261.7,610.5Z" fill="#7e04f2" /><path d="M258.2,622.3 L263.8,621.1 L271.1,621.1 L275.8,619.5 L273.2,622.3 L268.8,625.7 L266.8,631.5 L261.5,632.6 L258.0,631.5 L255.9,626.9 L254.5,623.4Z" fill="#7e04f2" /><path d="M277.0,605.9 L279.3,599.9 L280.8,600.4 L282.8,601.5 L284.0,610.5 L281.7,616.5 L278.1,618.8 L277.6,612.8Z" fill="#7e04f2" /><path d="M280.8,600.4 L282.8,598.4 L283.5,596.1 L286.1,595.6 L289.6,593.8 L293.1,592.1 L295.7,595.6 L296.9,602.5 L295.7,608.4 L292.0,611.9 L287.3,613.1 L283.8,610.8 L282.6,604.8Z" fill="#7e04f2" /><path d="M293.1,592.1 L293.1,588.6 L296.7,587.5 L301.3,587.5 L303.7,585.4 L305.7,584.6 L306.0,595.6 L305.7,602.7 L301.3,605.0 L296.9,602.7 L295.7,595.6Z" fill="#7e04f2" /><path d="M298.1,594.4 L303.4,593.5 L304.9,599.2 L300.2,601.5 L297.4,599.2Z" fill="#7e04f2" /><path d="M301.3,587.5 L303.7,585.2 L305.7,583.8 L306.0,587.5 L304.4,589.3Z" fill="#7e04f2" /><path d="M285.2,596.9 L287.0,596.5 L287.5,599.2 L285.5,599.7Z" fill="#7e04f2" /><path d="M296.9,602.7 L301.3,605.0 L305.7,602.7 L306.3,607.1 L309.8,608.2 L314.2,610.3 L315.4,612.2 L313.3,615.4 L308.6,617.1 L303.9,618.8 L300.2,618.2 L294.3,617.7 L292.0,615.4 L292.2,611.9 L295.7,608.4Z" fill="#7e04f2" /><path d="M278.1,618.8 L281.7,616.5 L284.9,613.1 L289.6,614.2 L291.4,616.9 L290.8,620.9 L288.7,625.7 L286.3,623.4 L284.0,626.9 L282.0,625.1 L280.3,620.0Z" fill="#7e04f2" /><path d="M289.6,614.9 L292.2,616.9 L292.8,620.9 L293.4,626.9 L291.6,629.2 L288.7,625.7 L290.4,620.9Z" fill="#7e04f2" /></g></g>
</g>
<g mask="url(#holes)">
<g mask="url(#spk0)"><g filter="url(#bl)"><path d="M364.2,596.3 L367.3,595.2 L371.9,591.3 L374.9,587.0 L378.0,584.1 L382.6,588.8 L387.5,595.1 L389.0,602.6 L387.5,612.0 L384.4,618.5 L379.5,620.1 L374.9,617.0 L370.3,613.8 L364.2,611.5 L361.9,607.6 L362.7,602.6Z" fill="#471f70" /><path d="M361.9,603.4 L366.0,602.9 L367.0,608.5 L362.7,609.6Z" fill="#471f70" /><path d="M379.5,581.5 L384.9,576.8 L390.2,574.4 L396.4,571.3 L399.4,569.4 L404.0,572.1 L410.2,571.6 L412.0,574.4 L410.9,582.3 L412.0,588.2 L408.9,596.3 L404.0,599.8 L396.4,598.2 L388.7,593.5 L382.6,588.8 L378.0,584.1Z" fill="#46196a" /><path d="M381.1,554.9 L382.6,555.7 L381.1,563.5 L380.7,574.4 L381.8,581.5 L378.8,581.5 L377.7,571.3 L378.9,560.4Z" fill="#471f70" /><path d="M387.5,595.1 L396.4,598.2 L404.0,599.8 L408.9,597.9 L410.5,607.3 L407.4,613.8 L401.3,617.0 L391.8,617.0 L387.2,612.3 L389.0,602.6Z" fill="#471f70" /><path d="M384.4,618.5 L391.8,617.0 L401.3,617.0 L407.4,614.8 L404.0,618.5 L398.2,623.2 L395.6,631.0 L388.7,632.6 L384.1,631.0 L381.4,624.8 L379.5,620.1Z" fill="#471f70" /></g></g>
<g mask="url(#spk)"><g filter="url(#bl)"><path d="M408.9,596.3 L412.0,588.2 L414.0,588.8 L416.6,590.4 L418.1,602.6 L415.1,610.7 L410.5,613.8 L409.7,605.7Z" fill="#423b82" /><path d="M414.0,588.8 L416.6,586.2 L417.5,583.0 L420.9,582.3 L425.5,579.9 L430.1,577.6 L433.5,582.3 L435.0,591.6 L433.5,599.8 L428.6,604.5 L422.4,606.0 L417.8,602.9 L416.3,594.8Z" fill="#2b778e" /><path d="M430.1,577.6 L430.1,572.9 L434.7,571.3 L440.8,571.3 L443.9,568.5 L446.5,567.4 L446.9,582.3 L446.5,592.0 L440.8,595.1 L435.0,592.0 L433.5,582.3Z" fill="#2d718e" /><path d="M436.5,580.7 L443.6,579.4 L445.4,587.3 L439.3,590.4 L435.6,587.3Z" fill="#2d718e" /><path d="M440.8,571.3 L443.9,568.2 L446.5,566.3 L446.9,571.3 L444.8,573.8Z" fill="#2f6c8e" /><path d="M419.7,584.1 L422.1,583.5 L422.7,587.3 L420.1,587.9Z" fill="#2f6c8e" /><path d="M435.0,592.0 L440.8,595.1 L446.5,592.0 L447.2,597.9 L451.8,599.5 L457.7,602.3 L459.2,604.9 L456.4,609.2 L450.3,611.5 L444.2,613.8 L439.3,613.1 L431.6,612.3 L428.6,609.2 L428.9,604.5 L433.5,599.8Z" fill="#238d8c" /><path d="M410.5,613.8 L415.1,610.7 L419.4,606.0 L425.5,607.6 L427.8,611.2 L427.0,616.7 L424.3,623.2 L421.2,620.1 L418.1,624.8 L415.5,622.4 L413.2,615.4Z" fill="#3e4989" /><path d="M425.5,608.5 L428.9,611.2 L429.6,616.7 L430.4,624.8 L428.1,627.9 L424.3,623.2 L426.6,616.7Z" fill="#39558b" /></g></g>
<g mask="url(#spk3)"><g filter="url(#bl)"><path d="M364.2,596.3 L367.3,595.2 L371.9,591.3 L374.9,587.0 L378.0,584.1 L382.6,588.8 L387.5,595.1 L389.0,602.6 L387.5,612.0 L384.4,618.5 L379.5,620.1 L374.9,617.0 L370.3,613.8 L364.2,611.5 L361.9,607.6 L362.7,602.6Z" fill="#482575" /><path d="M361.9,603.4 L366.0,602.9 L367.0,608.5 L362.7,609.6Z" fill="#482575" /><path d="M379.5,581.5 L384.9,576.8 L390.2,574.4 L396.4,571.3 L399.4,569.4 L404.0,572.1 L410.2,571.6 L412.0,574.4 L410.9,582.3 L412.0,588.2 L408.9,596.3 L404.0,599.8 L396.4,598.2 L388.7,593.5 L382.6,588.8 L378.0,584.1Z" fill="#482575" /><path d="M381.1,554.9 L382.6,555.7 L381.1,563.5 L380.7,574.4 L381.8,581.5 L378.8,581.5 L377.7,571.3 L378.9,560.4Z" fill="#482575" /><path d="M387.5,595.1 L396.4,598.2 L404.0,599.8 L408.9,597.9 L410.5,607.3 L407.4,613.8 L401.3,617.0 L391.8,617.0 L387.2,612.3 L389.0,602.6Z" fill="#482575" /><path d="M384.4,618.5 L391.8,617.0 L401.3,617.0 L407.4,614.8 L404.0,618.5 L398.2,623.2 L395.6,631.0 L388.7,632.6 L384.1,631.0 L381.4,624.8 L379.5,620.1Z" fill="#482575" /><path d="M408.9,596.3 L412.0,588.2 L414.0,588.8 L416.6,590.4 L418.1,602.6 L415.1,610.7 L410.5,613.8 L409.7,605.7Z" fill="#482575" /><path d="M414.0,588.8 L416.6,586.2 L417.5,583.0 L420.9,582.3 L425.5,579.9 L430.1,577.6 L433.5,582.3 L435.0,591.6 L433.5,599.8 L428.6,604.5 L422.4,606.0 L417.8,602.9 L416.3,594.8Z" fill="#482575" /><path d="M430.1,577.6 L430.1,572.9 L434.7,571.3 L440.8,571.3 L443.9,568.5 L446.5,567.4 L446.9,582.3 L446.5,592.0 L440.8,595.1 L435.0,592.0 L433.5,582.3Z" fill="#482575" /><path d="M436.5,580.7 L443.6,579.4 L445.4,587.3 L439.3,590.4 L435.6,587.3Z" fill="#482575" /><path d="M440.8,571.3 L443.9,568.2 L446.5,566.3 L446.9,571.3 L444.8,573.8Z" fill="#482575" /><path d="M419.7,584.1 L422.1,583.5 L422.7,587.3 L420.1,587.9Z" fill="#482575" /><path d="M435.0,592.0 L440.8,595.1 L446.5,592.0 L447.2,597.9 L451.8,599.5 L457.7,602.3 L459.2,604.9 L456.4,609.2 L450.3,611.5 L444.2,613.8 L439.3,613.1 L431.6,612.3 L428.6,609.2 L428.9,604.5 L433.5,599.8Z" fill="#482575" /><path d="M410.5,613.8 L415.1,610.7 L419.4,606.0 L425.5,607.6 L427.8,611.2 L427.0,616.7 L424.3,623.2 L421.2,620.1 L418.1,624.8 L415.5,622.4 L413.2,615.4Z" fill="#482575" /><path d="M425.5,608.5 L428.9,611.2 L429.6,616.7 L430.4,624.8 L428.1,627.9 L424.3,623.2 L426.6,616.7Z" fill="#482575" /></g></g>
</g>
<g mask="url(#holes)">
<g mask="url(#spk0)"><g filter="url(#bl)"><path d="M501.4,605.9 L503.7,605.1 L507.2,602.2 L509.6,599.0 L511.9,596.9 L515.4,600.4 L519.2,605.0 L520.3,610.5 L519.2,617.4 L516.8,622.3 L513.1,623.4 L509.6,621.1 L506.0,618.8 L501.4,617.1 L499.6,614.2 L500.2,610.5Z" fill="#404185" /><path d="M499.6,611.1 L502.8,610.8 L503.5,614.9 L500.2,615.7Z" fill="#404185" /><path d="M513.1,595.0 L517.2,591.5 L521.3,589.8 L526.0,587.5 L528.3,586.1 L531.8,588.1 L536.5,587.7 L537.9,589.8 L537.1,595.6 L537.9,599.9 L535.6,605.9 L531.8,608.4 L526.0,607.3 L520.1,603.8 L515.4,600.4 L511.9,596.9Z" fill="#423b82" /><path d="M514.2,575.4 L515.4,576.0 L514.2,581.7 L514.0,589.8 L514.8,595.0 L512.5,595.0 L511.7,587.5 L512.6,579.4Z" fill="#39558b" /><path d="M519.2,605.0 L526.0,607.3 L531.8,608.4 L535.6,607.1 L536.7,614.0 L534.4,618.8 L529.7,621.1 L522.4,621.1 L518.9,617.7 L520.3,610.5Z" fill="#423b82" /><path d="M516.8,622.3 L522.4,621.1 L529.7,621.1 L534.4,619.5 L531.8,622.3 L527.4,625.7 L525.4,631.5 L520.1,632.6 L516.6,631.5 L514.5,626.9 L513.1,623.4Z" fill="#404185" /></g></g>
<g mask="url(#spk)"><g filter="url(#bl)"><path d="M535.6,605.9 L537.9,599.9 L539.4,600.4 L541.4,601.5 L542.6,610.5 L540.3,616.5 L536.7,618.8 L536.2,612.8Z" fill="#39558b" /><path d="M539.4,600.4 L541.4,598.4 L542.1,596.1 L544.7,595.6 L548.2,593.8 L551.7,592.1 L554.3,595.6 L555.5,602.5 L554.3,608.4 L550.6,611.9 L545.9,613.1 L542.4,610.8 L541.2,604.8Z" fill="#26828e" /><path d="M551.7,592.1 L551.7,588.6 L555.3,587.5 L559.9,587.5 L562.3,585.4 L564.3,584.6 L564.6,595.6 L564.3,602.7 L559.9,605.0 L555.5,602.7 L554.3,595.6Z" fill="#2b778e" /><path d="M556.7,594.4 L562.0,593.5 L563.5,599.2 L558.8,601.5 L556.0,599.2Z" fill="#2b778e" /><path d="M559.9,587.5 L562.3,585.2 L564.3,583.8 L564.6,587.5 L563.0,589.3Z" fill="#2f6c8e" /><path d="M543.8,596.9 L545.6,596.5 L546.1,599.2 L544.1,599.7Z" fill="#2f6c8e" /><path d="M555.5,602.7 L559.9,605.0 L564.3,602.7 L564.9,607.1 L568.4,608.2 L572.8,610.3 L574.0,612.2 L571.9,615.4 L567.2,617.1 L562.5,618.8 L558.8,618.2 L552.9,617.7 L550.6,615.4 L550.8,611.9 L554.3,608.4Z" fill="#238d8c" /><path d="M536.7,618.8 L540.3,616.5 L543.5,613.1 L548.2,614.2 L550.0,616.9 L549.4,620.9 L547.3,625.7 L544.9,623.4 L542.6,626.9 L540.6,625.1 L538.9,620.0Z" fill="#34618d" /><path d="M548.2,614.9 L550.8,616.9 L551.4,620.9 L552.0,626.9 L550.2,629.2 L547.3,625.7 L549.0,620.9Z" fill="#2f6c8e" /></g></g>
<g mask="url(#spk3)"><g filter="url(#bl)"><path d="M501.4,605.9 L503.7,605.1 L507.2,602.2 L509.6,599.0 L511.9,596.9 L515.4,600.4 L519.2,605.0 L520.3,610.5 L519.2,617.4 L516.8,622.3 L513.1,623.4 L509.6,621.1 L506.0,618.8 L501.4,617.1 L499.6,614.2 L500.2,610.5Z" fill="#46196a" /><path d="M499.6,611.1 L502.8,610.8 L503.5,614.9 L500.2,615.7Z" fill="#46196a" /><path d="M513.1,595.0 L517.2,591.5 L521.3,589.8 L526.0,587.5 L528.3,586.1 L531.8,588.1 L536.5,587.7 L537.9,589.8 L537.1,595.6 L537.9,599.9 L535.6,605.9 L531.8,608.4 L526.0,607.3 L520.1,603.8 L515.4,600.4 L511.9,596.9Z" fill="#46196a" /><path d="M514.2,575.4 L515.4,576.0 L514.2,581.7 L514.0,589.8 L514.8,595.0 L512.5,595.0 L511.7,587.5 L512.6,579.4Z" fill="#46196a" /><path d="M519.2,605.0 L526.0,607.3 L531.8,608.4 L535.6,607.1 L536.7,614.0 L534.4,618.8 L529.7,621.1 L522.4,621.1 L518.9,617.7 L520.3,610.5Z" fill="#46196a" /><path d="M516.8,622.3 L522.4,621.1 L529.7,621.1 L534.4,619.5 L531.8,622.3 L527.4,625.7 L525.4,631.5 L520.1,632.6 L516.6,631.5 L514.5,626.9 L513.1,623.4Z" fill="#46196a" /><path d="M535.6,605.9 L537.9,599.9 L539.4,600.4 L541.4,601.5 L542.6,610.5 L540.3,616.5 L536.7,618.8 L536.2,612.8Z" fill="#46196a" /><path d="M539.4,600.4 L541.4,598.4 L542.1,596.1 L544.7,595.6 L548.2,593.8 L551.7,592.1 L554.3,595.6 L555.5,602.5 L554.3,608.4 L550.6,611.9 L545.9,613.1 L542.4,610.8 L541.2,604.8Z" fill="#46196a" /><path d="M551.7,592.1 L551.7,588.6 L555.3,587.5 L559.9,587.5 L562.3,585.4 L564.3,584.6 L564.6,595.6 L564.3,602.7 L559.9,605.0 L555.5,602.7 L554.3,595.6Z" fill="#46196a" /><path d="M556.7,594.4 L562.0,593.5 L563.5,599.2 L558.8,601.5 L556.0,599.2Z" fill="#46196a" /><path d="M559.9,587.5 L562.3,585.2 L564.3,583.8 L564.6,587.5 L563.0,589.3Z" fill="#46196a" /><path d="M543.8,596.9 L545.6,596.5 L546.1,599.2 L544.1,599.7Z" fill="#46196a" /><path d="M555.5,602.7 L559.9,605.0 L564.3,602.7 L564.9,607.1 L568.4,608.2 L572.8,610.3 L574.0,612.2 L571.9,615.4 L567.2,617.1 L562.5,618.8 L558.8,618.2 L552.9,617.7 L550.6,615.4 L550.8,611.9 L554.3,608.4Z" fill="#46196a" /><path d="M536.7,618.8 L540.3,616.5 L543.5,613.1 L548.2,614.2 L550.0,616.9 L549.4,620.9 L547.3,625.7 L544.9,623.4 L542.6,626.9 L540.6,625.1 L538.9,620.0Z" fill="#46196a" /><path d="M548.2,614.9 L550.8,616.9 L551.4,620.9 L552.0,626.9 L550.2,629.2 L547.3,625.7 L549.0,620.9Z" fill="#46196a" /></g></g>
</g>
<g mask="url(#holes)">
<g mask="url(#spk0)"><g filter="url(#bl)"><path d="M594.2,605.9 L596.5,605.1 L600.1,602.2 L602.5,599.0 L604.8,596.9 L608.4,600.4 L612.2,605.0 L613.3,610.5 L612.2,617.4 L609.8,622.3 L606.0,623.4 L602.5,621.1 L598.9,618.8 L594.2,617.1 L592.4,614.2 L593.0,610.5Z" fill="#360063" /><path d="M592.4,611.1 L595.6,610.8 L596.3,614.9 L593.0,615.7Z" fill="#43007c" /><path d="M606.0,595.0 L610.1,591.5 L614.3,589.8 L619.0,587.5 L621.4,586.1 L624.9,588.1 L629.7,587.7 L631.1,589.8 L630.2,595.6 L631.1,599.9 L628.7,605.9 L624.9,608.4 L619.0,607.3 L613.1,603.8 L608.4,600.4 L604.8,596.9Z" fill="#23003e" /><path d="M607.2,575.4 L608.4,576.0 L607.2,581.7 L606.9,589.8 L607.8,595.0 L605.4,595.0 L604.6,587.5 L605.5,579.4Z" fill="#7202f2" /><path d="M612.2,605.0 L619.0,607.3 L624.9,608.4 L628.7,607.1 L629.9,614.0 L627.5,618.8 L622.8,621.1 L615.5,621.1 L611.9,617.7 L613.3,610.5Z" fill="#300056" /><path d="M609.8,622.3 L615.5,621.1 L622.8,621.1 L627.5,619.5 L624.9,622.3 L620.4,625.7 L618.4,631.5 L613.1,632.6 L609.5,631.5 L607.4,626.9 L606.0,623.4Z" fill="#300056" /></g></g>
<g mask="url(#spk)"><g filter="url(#bl)"><path d="M628.7,605.9 L631.1,599.9 L632.6,600.4 L634.6,601.5 L635.8,610.5 L633.4,616.5 L629.9,618.8 L629.3,612.8Z" fill="#6101c4" /><path d="M632.6,600.4 L634.6,598.4 L635.3,596.1 L637.9,595.6 L641.5,593.8 L645.0,592.1 L647.6,595.6 L648.8,602.5 L647.6,608.4 L643.8,611.9 L639.1,613.1 L635.6,610.8 L634.4,604.8Z" fill="#7703f2" /><path d="M645.0,592.1 L645.0,588.6 L648.6,587.5 L653.3,587.5 L655.7,585.4 L657.7,584.6 L658.0,595.6 L657.7,602.7 L653.3,605.0 L648.8,602.7 L647.6,595.6Z" fill="#7e04f2" /><path d="M650.0,594.4 L655.4,593.5 L656.9,599.2 L652.1,601.5 L649.3,599.2Z" fill="#7e04f2" /><path d="M653.3,587.5 L655.7,585.2 L657.7,583.8 L658.0,587.5 L656.4,589.3Z" fill="#c01808" /><path d="M637.0,596.9 L638.9,596.5 L639.4,599.2 L637.3,599.7Z" fill="#c01808" /><path d="M648.8,602.7 L653.3,605.0 L657.7,602.7 L658.3,607.1 L661.8,608.2 L666.3,610.3 L667.5,612.2 L665.4,615.4 L660.6,617.1 L655.9,618.8 L652.1,618.2 L646.2,617.7 L643.8,615.4 L644.1,611.9 L647.6,608.4Z" fill="#7c04f2" /><path d="M629.9,618.8 L633.4,616.5 L636.8,613.1 L641.5,614.2 L643.3,616.9 L642.7,620.9 L640.5,625.7 L638.2,623.4 L635.8,626.9 L633.8,625.1 L632.0,620.0Z" fill="#7703f2" /><path d="M641.5,614.9 L644.1,616.9 L644.7,620.9 L645.3,626.9 L643.5,629.2 L640.5,625.7 L642.3,620.9Z" fill="#7703f2" /></g></g>
<g mask="url(#spk3)"><g filter="url(#bl)"><path d="M594.2,605.9 L596.5,605.1 L600.1,602.2 L602.5,599.0 L604.8,596.9 L608.4,600.4 L612.2,605.0 L613.3,610.5 L612.2,617.4 L609.8,622.3 L606.0,623.4 L602.5,621.1 L598.9,618.8 L594.2,617.1 L592.4,614.2 L593.0,610.5Z" fill="#7202f2" /><path d="M592.4,611.1 L595.6,610.8 L596.3,614.9 L593.0,615.7Z" fill="#7202f2" /><path d="M606.0,595.0 L610.1,591.5 L614.3,589.8 L619.0,587.5 L621.4,586.1 L624.9,588.1 L629.7,587.7 L631.1,589.8 L630.2,595.6 L631.1,599.9 L628.7,605.9 L624.9,608.4 L619.0,607.3 L613.1,603.8 L608.4,600.4 L604.8,596.9Z" fill="#7202f2" /><path d="M607.2,575.4 L608.4,576.0 L607.2,581.7 L606.9,589.8 L607.8,595.0 L605.4,595.0 L604.6,587.5 L605.5,579.4Z" fill="#7202f2" /><path d="M612.2,605.0 L619.0,607.3 L624.9,608.4 L628.7,607.1 L629.9,614.0 L627.5,618.8 L622.8,621.1 L615.5,621.1 L611.9,617.7 L613.3,610.5Z" fill="#7202f2" /><path d="M609.8,622.3 L615.5,621.1 L622.8,621.1 L627.5,619.5 L624.9,622.3 L620.4,625.7 L618.4,631.5 L613.1,632.6 L609.5,631.5 L607.4,626.9 L606.0,623.4Z" fill="#7202f2" /><path d="M628.7,605.9 L631.1,599.9 L632.6,600.4 L634.6,601.5 L635.8,610.5 L633.4,616.5 L629.9,618.8 L629.3,612.8Z" fill="#7202f2" /><path d="M632.6,600.4 L634.6,598.4 L635.3,596.1 L637.9,595.6 L641.5,593.8 L645.0,592.1 L647.6,595.6 L648.8,602.5 L647.6,608.4 L643.8,611.9 L639.1,613.1 L635.6,610.8 L634.4,604.8Z" fill="#7202f2" /><path d="M645.0,592.1 L645.0,588.6 L648.6,587.5 L653.3,587.5 L655.7,585.4 L657.7,584.6 L658.0,595.6 L657.7,602.7 L653.3,605.0 L648.8,602.7 L647.6,595.6Z" fill="#7202f2" /><path d="M650.0,594.4 L655.4,593.5 L656.9,599.2 L652.1,601.5 L649.3,599.2Z" fill="#7202f2" /><path d="M653.3,587.5 L655.7,585.2 L657.7,583.8 L658.0,587.5 L656.4,589.3Z" fill="#7202f2" /><path d="M637.0,596.9 L638.9,596.5 L639.4,599.2 L637.3,599.7Z" fill="#7202f2" /><path d="M648.8,602.7 L653.3,605.0 L657.7,602.7 L658.3,607.1 L661.8,608.2 L666.3,610.3 L667.5,612.2 L665.4,615.4 L660.6,617.1 L655.9,618.8 L652.1,618.2 L646.2,617.7 L643.8,615.4 L644.1,611.9 L647.6,608.4Z" fill="#7202f2" /><path d="M629.9,618.8 L633.4,616.5 L636.8,613.1 L641.5,614.2 L643.3,616.9 L642.7,620.9 L640.5,625.7 L638.2,623.4 L635.8,626.9 L633.8,625.1 L632.0,620.0Z" fill="#7202f2" /><path d="M641.5,614.9 L644.1,616.9 L644.7,620.9 L645.3,626.9 L643.5,629.2 L640.5,625.7 L642.3,620.9Z" fill="#7202f2" /></g></g>
</g>
<g mask="url(#spk)"><g filter="url(#bl)"><path d="M179.9,503.2 L184.2,501.7 L190.7,496.3 L195.0,490.3 L199.3,486.4 L205.8,492.9 L212.7,501.4 L214.9,511.7 L212.7,524.6 L208.4,533.6 L201.5,535.8 L195.0,531.5 L188.6,527.2 L179.9,524.0 L176.7,518.6 L177.8,511.7Z" fill="#ff9896" /><path d="M176.7,512.8 L182.5,512.2 L183.8,519.9 L177.8,521.4Z" fill="#ff7f0e" /><path d="M201.5,482.8 L209.0,476.3 L216.6,473.1 L225.2,468.8 L229.5,466.3 L236.0,469.9 L244.6,469.3 L247.2,473.1 L245.7,483.8 L247.2,492.0 L242.9,503.2 L236.0,507.9 L225.2,505.7 L214.4,499.3 L205.8,492.9 L199.3,486.4Z" fill="#8c564b" /><path d="M203.6,446.3 L205.8,447.4 L203.6,458.1 L203.2,473.1 L204.7,482.8 L200.4,482.8 L198.9,468.8 L200.6,453.8Z" fill="#98df8a" /><path d="M212.7,501.4 L225.2,505.7 L236.0,507.9 L242.9,505.3 L245.0,518.2 L240.7,527.2 L232.1,531.5 L218.7,531.5 L212.3,525.0 L214.9,511.7Z" fill="#e377c2" /><path d="M208.4,533.6 L218.7,531.5 L232.1,531.5 L240.7,528.5 L236.0,533.6 L227.8,540.1 L224.1,550.8 L214.4,552.9 L208.0,550.8 L204.1,542.2 L201.5,535.8Z" fill="#d62728" /><path d="M250.0,492.9 L253.7,489.2 L255.0,484.9 L259.7,483.8 L266.2,480.6 L272.6,477.4 L277.4,483.8 L279.5,496.7 L277.4,507.9 L270.5,514.3 L261.9,516.5 L255.4,512.2 L253.2,501.0Z" fill="#b5bd61" /><path d="M287.7,468.8 L292.0,464.5 L295.7,462.0 L296.4,468.8 L293.3,472.3Z" fill="#ffbb78" /><path d="M258.0,486.4 L261.4,485.6 L262.3,490.7 L258.6,491.6Z" fill="#ffbb78" /><path d="M279.5,497.1 L287.7,501.4 L295.7,497.1 L296.8,505.3 L303.3,507.4 L311.4,511.3 L313.6,515.0 L309.7,520.7 L301.1,524.0 L292.5,527.2 L285.6,526.1 L274.8,525.0 L270.5,520.7 L270.9,514.3 L277.4,507.9Z" fill="#279e68" /><path d="M245.0,527.2 L251.5,522.9 L257.5,516.5 L266.2,518.6 L269.4,523.5 L268.3,531.0 L264.4,540.1 L260.1,535.8 L255.8,542.2 L252.2,539.0 L248.9,529.3Z" fill="#aa40fc" /><path d="M266.2,519.9 L270.9,523.5 L272.0,531.0 L273.1,542.2 L269.8,546.5 L264.4,540.1 L267.7,531.0Z" fill="#17becf" /></g></g>
<g mask="url(#spk2)"><g filter="url(#bl)"><path d="M242.9,503.2 L247.2,492.0 L250.0,492.9 L253.7,495.0 L255.8,511.7 L251.5,522.9 L245.0,527.2 L244.0,516.0Z" fill="#1f77b4" /><path d="M272.6,477.4 L272.6,471.0 L279.1,468.8 L287.7,468.8 L292.0,465.0 L295.7,463.5 L296.4,483.8 L295.7,497.1 L287.7,501.4 L279.5,497.1 L277.4,483.8Z" fill="#aec7e8" /><path d="M281.7,481.7 L291.6,480.0 L294.2,490.7 L285.6,495.0 L280.4,490.7Z" fill="#c5b0d5" /></g></g>
<path d="M242.5 521.6l0 0 0 0 0 0 0 0 0 0 .1 0 0 0 .2 0 .1-.3 .6-1.2 .2-1.4 .1-1.4-.1-1.4 0-1.4-.2-1.4-.1-1.4-.2-1.4-.2-1.4-.2-1.3-.2-1.4M225.7 522.8l-1.4-.2M251.7 511.9l1.3-.5 1.4-.3 1.4-.2 1.4-.2 1.4-.2 1.4-.1 1.3-.2 1.4 0 1.4-.1 1.4-.1M256 511.8l1.4-.1 1.4-.1 1.4 0 1.4-.1 1.4 0 1.4 .1 1.4 0M252.5 504l1-.9 1.2-.8 1.1-.8M265.6 516.2l1.4 .3M241.1 519.2l-.8-1.2-.8-1.1-.8-1.2-.8-1.1-.8-1.2-.8-1.1-.8-1.2-.7-1.1-.8-1.2M238.5 510.6l-.5-1.3-.6-1.3-.6-1.3M244.5 521l1.4-.2 1.3-.3 1.4-.3 1.4-.4 1.3-.4 1.2 .3 1.1 .8 1.1 .9 1.2 .8 1.1 .9 1.1 .8 1.1 .9 1 .9M238 519.2l-1.1-.8-1.2-.8-1.1-.9-1.1-.8-1.1-.8-1.1-.9-1.1-.9-1.1-.9M242.4 523.4l-1.3 .7-1.3 .4-1.4 .3-1.4 .2-1.4 .1-1.4 .1-1.4 0-1.4 0-1.4-.1-1.3 0-1.4-.1-1.4 0M246.7 521.3l1.3 .4 1.2 .7 1.1 .9 .8 1.1 .6 1.3 .5 1.3 .8 1.2 .8 1.1M256 518.9l1.3 .6 1.2 .7 1.3 .6 1.2 .7 1.2 .7 1.2 .7M253.6 506l1.2-.7 1.2-.7 1.3-.6 1.2-.6 1.3-.6M247.4 517.9l.8-1.2 .7-1.2 .7-1.2 .6-1.3 .5-1.3 .5-1.3 .5-1.3M249.3 518l1.1-.9 .9-1 1.2-.4 1.3 .4 1.4 .4 1.3 .4 1.4 .4 1.3 .4 1.3 .5 1.3 .5 1.3 .5 1.3 .5 1.3 .6M243.8 525.9l-.9 1.1-1 .9-1.1 .8-1.2 .8-1.3 .7-1.2 .6-1.3 .5-1.3 .5-1.3 .5-1.3 .5M256.7 508.6l1.4-.4 1.3-.3 1.4-.3 1.3-.3 1.4-.3M241.2 522.4l-1.4 0-1.4-.2-1.4-.3-1.3-.3-1.4-.4-1.3-.4-1.3-.4-1.4-.4-1.3-.5-1.3-.5-1.3-.4-1.4-.5M244.2 520l.7-1.2 .4-1.3 .4-1.4 .3-1.4 .2-1.3 .2-1.4 .1-1.4 .1-1.4 .1-1.4 0-1.4M238.6 525.6l-1.4 .2-1.3 .3-1.4 .1-1.4 .2-1.4 0-1.4 .1-1.4 .1-1.4 0-1.4 0M245.9 510.7l0-1.4 .1-1.4 0-1.4M230.9 518l-1.2-.6-1.3-.6-1.2-.6-1.3-.7M236.3 529.1l-1.3 .4-1.4 .4-1.3 .3-1.4 .4-1.3 .3M227.5 527.9l-1.4 .1M253.6 524.9l.9 1 1 1.1 .9 1M250.5 525.7l.3 1.3 .2 1.4 0 1.4-.2 1.4-.3 1.4-.4 1.3-.5 1.3M238.8 518l-1-1-1-1-1-1-.9-1-1-1-.9-1-.5-.5M259.2 506.2l1.4-.4 1.3-.4M241.5 509.9l-.3-1.4-.4-1.3M252 532.1l.2 1.3M253.7 514.5l1.4 .2 1.4 .1 1.4 .3 1.3 .2 1.4 .3 1.4 .3 1.3 .3 1.4 .3 .7 .2M237.1 534.1l-1.2 .7M247 523.3l.3 1.4 0 1.4-.3 1.4-.4 1.3-.6 1.3-.7 1.2-.8 1.2-.4 .5" fill="none" stroke="#000" stroke-width="0.45" stroke-linejoin="round"/><path d="M242.6 506.2l-.2-1.4-.2-1.4-.2-1.4-.2-1.4-.2-1.4-.2-1.3-.1-1.4-.2-1.4-.2-1.4-.1-1.4M224.3 522.6l-1.4-.3-1.3-.2-1.4-.2-1.4-.2-1.4-.2-1.4-.2-1.4-.2-1.4-.2-1.3-.2-1.4-.1-1.4-.2-1.4-.2M265.5 510l1.4 0 1.4-.1 1.4 0 1.4-.1 1.4 0 1.4-.1 1.4 0 1.4-.1 1.4-.1 1.4 0 1.4-.1 1.4-.1 1.4-.1M265.8 511.6l1.4 0 1.4 .1 1.4 0 1.4 0 1.4 .1 1.4 0 1.4 0 1.4 0 1.4 0 1.4 0 1.4 0 1.4-.1 1.4 0M250 507.8l.3-1.4 .2-1.3 .3-1.4 .2-1.4 .2-1.4 .2-1.4 .2-1.4 .1-1.4 .9-1 .9-1.1 1-1 .9-1.1 1-1 1-1 1-.9 1-1 1-1M251.1 507.9l.4-1.3 .3-1.4 .7-1.2M255.8 501.5l1.2-.8 1.1-.8 1.2-.7 1.2-.7 1.2-.7 1.2-.7 1.3-.7 1.2-.7 1.2-.7 1.2-.7 1.2-.7 1.2-.7 1.2-.7M242.9 496.5l-.1-1.4-.1-1.4-.1-1.4M267 513.5l1.4 .2 1.4 .1 1.4 .1 1.4 .2 1.3 .1 1.4 .1 1.4 .1 1.4 .1 1.4 .1 1.4 0 1.4 0 1.4 0M209.9 522.7l-1.4-.1-1.4-.1M267 516.5l1.3 .4 1.4 .3 1.4 .3 1.3 .3 1.4 .3 1.4 .3 1.3 .3 1.4 .2 1.4 .2 1.4 .2 1.4 .1 1.4 0M234 508.8l-.8-1.2-.7-1.2-.7-1.2-.7-1.2-.7-1.2-.7-1.3-.6-1.2-.6-1.3-.6-1.2-.6-1.3-.5-1.3M236.8 506.7l-.5-1.2-.5-1.3-.6-1.3-.4-1.4-.5-1.3-.5-1.3-.4-1.3-.4-1.4-.4-1.3-.4-1.4M260.2 525.7l1.1 1 1 .9 1 1 .9 1 1 1.1 .8 1.1 .9 1.1 .8 1.1 .8 1.2 .7 1.2 .8 1.1M238.8 506.1l-.5-1.3-.4-1.3-.4-1.4-.4-1.3-.3-1.4-.4-1.3-.3-1.4-.3-1.3-.3-1.4-.3-1.4M232.2 538.7l-1.2 .6-1.3 .6-1.3 .6-1.2 .6-1.3 .5-1.3 .6-1.3 .6-1.2 .6-1.3 .6M229.1 512.4l-1.1-.9-1-.9-1.1-.9-1-.9-1.1-1-1-.9-1-1-1-.9-1-1-1-1-1-1.1-.9-1M214.5 530.8l-1.4 .3-1.4 .2-1.4 .2M227.3 508.7l-.9-1-1-1.1-1-1-.9-1-.9-1.1-.9-1-.9-1.1-.9-1.1-.8-1.1M225.9 525l-1.4-.1-1.4-.1-1.4 0-1.4-.1-1.4-.1-1.4 0-1.4-.1-1.4 0-1.4-.1-1.4 0-1.4-.1-1.4 0-1.4 0M253.8 529.3l.9 1.1 .8 1.2 .8 1.1 .8 1.1 .8 1.2 .8 1.1 .7 1.2 .7 1.3 .6 1.2 .3 1.4 .1 .7M265.6 497.9l1.3-.6 1.3-.6 1.2-.6 1.3-.6 1.3-.6 1.2-.6M261.4 530.6l.9 1.1 .8 1.1 .8 1.2 .7 1.2 .7 1.2 .6 1.3 .6 1.2 .6 1.3M263.4 522.9l1.2 .8 1.1 .8 1.2 .8 1.1 .8 1.1 .9 1.1 .9 1 .9 1 1 1 1 1 1 .9 1.1 0 0M228.8 505.8l-.9-1.1-.8-1.1-.8-1.2-.7-1.2-.7-1.2-.8-1.2-.6-1.2M259.2 496.3l1.2-.8 1.1-.8 1.2-.8 1.1-.8 1.2-.8 1.1-.8 1.2-.8M259.8 502.8l1.3-.6 1.3-.5 1.3-.5 1.3-.6 1.3-.5 1.3-.5 1.3-.5 1.3-.5 1.3-.5 1.3-.5 1.3-.5 1.3-.5M251.7 509.1l0 0M217.3 504.7l-1.1-.9-1-.9M265.7 520.3l1.3 .5 1.3 .6 1.2 .6 1.3 .6 1.2 .6 .7 .4M231.9 532.8l-1.4 .4-1.3 .4-1.4 .4-1.3 .4-1.3 .4-1.4 .4-1.3 .4-1.4 .4-1.3 .4-1.3 .5-1.4 .4-1.3 .4-1.3 .5M263.5 507l1.4-.2 1.4-.3 1.4-.2 1.3-.2 1.4-.2 1.4-.3 1.4-.2 1.4-.2 1.4-.2 1.3-.2 1.4-.2 1.4-.2 1.4-.1M263.7 503.5l1.3-.4 1.4-.4 1.3-.4 1.4-.4 1.3-.4 1.4-.4 1.3-.3 1.4-.4 1.3-.4 1.4-.3 1.3-.3M225 518.1l-1.3-.5-1.3-.5-1.3-.5-1.3-.4-1.3-.5-1.3-.5-1.4-.5-1.3-.5-1.3-.5-1.3-.4-1.3-.5-1.3-.5M246.7 506.4l.1-1.4 0-1.4 .1-1.4 0-1.4 0-1.4 0-1.4 0-1.4 .1-1.4 0-1.4 0-1.4M263.5 526.1l1 .9 1.1 1 1 1 .9 1 1 1 .9 1.1 .4 .5M251.5 493.9l.1-1.4M226.1 526.6l-1.4 .1-1.4 0-1.4 0-1.4 .1-1.4 0-1.4 0-1.4 .1-1.4 0-1.4 .1-1.4 .1-1.4 0-1.4 .1-1.4 .1M246 506.5l0-1.4 0-1.4 0-1.4 0-1.4-.1-1.4 0-1.4 0-1.4 0-1.4 0-1.4-.1-1.4M225.9 515.5l-1.2-.6-1.2-.7-1.3-.6-1.2-.7-1.2-.7-1.3-.6-1.2-.7-1.2-.7-1.3-.6-1.2-.7-1.2-.7-1.3-.6M229.6 530.9l-1.4 .3-1.4 .2-1.4 .3-1.3 .3-1.4 .3-1.4 .3-1.3 .3-1.4 .3-1.4 .3-1.3 .3-1.4 .3-1.4 .3-1.3 .4M231.1 542l-1.2 .6-1.3 .6-1.2 .7-1.3 .6-1.3 .6-1.2 .6M226.1 528l-1.4 .1-1.4 .1-1.4 .2-1.4 .1-1.4 .1-1.4 .1-1.4 .1-1.4 .2-1.4 .1-1.4 .2-1.4 .1-1.4 .2M217.2 512.9l-1.3-.6-1.3-.6-1.3-.6-1.2-.6-1.3-.5M273.2 522.1l1.3 .6 1.3 .5 1.3 .5 1.3 .5 1.3 .5 1.4 .3M225.3 513.1l-1.2-.7-1.2-.8-1.1-.7-1.2-.8-1.2-.8-1.1-.8-1.2-.8-1.1-.7-1.2-.8-1.2-.8M256.4 528l.9 1.1 .9 1.1 .9 1.1 .8 1.1 .8 1.1 .8 1.2 .7 1.2 .7 1.2 .5 1.3 .5 1.4 .3 1.3M278 521.7l1.3 .3 1.4 .2 1.4 .2M249.6 535.2l-.6 1.3-.7 1.2-.4 .6M261.7 491.5l1.1-.9 1.1-.9 1.1-.9M217 517.8l-1.3-.3-1.4-.4-1.3-.4-1.4-.3-1.3-.4-1.4-.3M268.4 508.2l1.4-.1 1.4-.2 1.4-.1 1.4-.1 1.4-.1 1.4-.2 1.4-.1 1.4-.1 1.4-.1 1.4-.2M261.9 505.4l1.3-.4 1.4-.4 .7-.2M253.9 491.4l.9-1.1 1-1 .9-1.1 .9-1M240.8 507.2l-.3-1.4-.3-1.4-.3-1.3-.3-1.4-.3-1.3-.3-1.4-.3-1.4-.2-1.4-.3-1.3-.2-1.4-.2-1.4M252.2 530.7l-.2 1.4M252.2 533.4l-.3 1.3-.5 1.4-.2 .6M224.2 520.4l-1.3-.3-1.4-.3-1.4-.4-1.3-.3-1.4-.3-1.3-.4 0 0M273.1 503.8l1.4-.3 1.4-.3 1.4-.2 1.3-.2 1.4-.3M253.8 534.1l.8 1.2 .8 1.1 .9 1.1 .8 1.2 .8 1.1 .9 1.1 .9 1.1 .8 .9M233 503.7l-.6-1.3-.6-1.3-.5-1.2-.6-1.3-.5-1.3-.5-1.3 0 0M235.9 534.8l-1.2 .6-1.3 .6-1.3 .6-1.3 .6-.6 .2M254.4 537.8l.9 1.1 .9 1 .9 1.1 1 .9 0 0M229.1 535.9l-1.3 .5-1.3 .4-1.3 .5-1.4 .5-1.3 .5-1.3 .5-1.3 .5-1.3 .5-1.3 .5-1.3 .6M249.1 501l.1-1.4 .1-1.4 .1-1.4 .1-1.4 0-1.4 .1-1.4M275.1 516.5l1.4 .2 1.4 .1 1.4 .1 1.4 .1 1.4 .1 1.4 0M270.6 533.7l.8 1.1 .8 1.2M254.1 498.7l1-.9 1-.9 1.1-1 1.1-.8 0 0M268.2 528.2l1 .9 1 1 .9 1 1 1.1 0 0M229.1 547l-1.3 .6" fill="none" stroke="#000" stroke-width="0.7" stroke-linejoin="round"/><path d="M240.8 492.3l-.1-1.4-.1-1.4-.1-1.4-.1-1.4-.1-1.4 0-1.4-.1-1.4 0-1.4 0-1.4 0-1.4 .1-1.4 .1-1.4 .2-1.4 .2-1.4 .4-1.3 .6-1.3 .8-1.1 1-1 1-.9 .5-1.3 .1-.7M207.7 520.2l-1.4-.2-1.4-.2-1.4-.2-1.3-.3-1.4-.2-1.4-.3-1.4-.3-1.3-.3-1.4-.3-1.4-.3-1.3-.4-1.4-.3-1.3-.4-1.3-.4-1.4-.4-1.3-.4-1.4-.4-1.3-.4-1.4-.2-1.4-.2-1.4 0-1.4 .1-1.4 .2-1.3 .2 0 0M283.7 509.2l1.4 0 1.4-.1 1.4-.1 1.4-.1 1.4 0 1.4-.1 1.4 0 1.4-.1 1.4 0 1.4 0 1.4 0 1.4 0 1.4 0 1.4 .1 1.4 .1 1.3 .5 1.4 .4 1.3 .4 1.2 .6 1.3 .7 1.2 .6 1.3 .7 1.2 .6 1.3 .6 0 0M284 511.7l1.4-.1 1.4-.1 1.4-.1 1.4 0 1.4-.1 1.4-.1 1.4-.1 0 0M260.4 487.6l1-1 1-.9 1-1 1-1 1.1-.9 1-1 .9-1 1-1 1-1 1-1 .9-1 1-1.1 .9-1 .9-1.1 1-1 .9-1.1 .9-1 1-1 1-1 1.1-.8 .9-1.1 1-1 0 0M271.4 492.2l1.2-.7 1.2-.8 1.2-.7 1.2-.8 1.1-.8 1.1-.9 1.1-.8 1.1-1 .9-1 1-1 .9-1.1 .8-1.2 .7-1.2 .7-1.2 .6-1.2 .6-1.3 .5-1.3 .4-1.3 .5-1.4 .3-1.3 .4-1.4 .4-1.3 .6-1.3 .8-1.1 1-1 1-1 1-.9 1.1-.9 1.2-.7 1-1 0 0M242.6 492.3l0-1.4-.1-1.4-.1-1.4 0-1.4-.1-1.4 0-1.4 0-1.4 0-1.4 .1-1.4 0-1.4 .1-1.4 .2-1.4 .1-1.3 .2-1.4 .3-1.4 .2-.7M283.7 514.6l1.4 0 1.4-.1 1.4 0 1.4-.1 1.4-.1 1.4-.1 1.4-.1 1.4-.2 1.4-.1 1.4-.2 1.4-.1 1.4-.2 1.4-.2 1.3-.3 1.4-.4 1.2-.6 .6-.4M207.1 522.5l-1.4-.1-1.4-.1-1.4-.1-1.4-.1-1.4-.2-1.4-.2-1.4-.2-1.4-.2-1.3-.3-1.4-.3-1.4-.2-1.4-.3-1.3-.4-1.4-.3-1.3-.3-1.4-.3-1.4-.3-1.3-.3-1.4-.4-1.3-.4-1.3-.5-1.3-.6-.6-.4M283.5 519.4l1.4 0 1.4 0 1.4-.1 1.4-.1 1.4-.1 1.4-.2 1.4-.1 1.3-.2 1.4-.2 1.4-.2 1.4-.3 1.4-.2 1.4-.2 1.3-.3 1.4-.2 1.4-.2 1.4-.1 1.4 0 1.4 .2 1.4 .2 1.1-.8 .6-.4M226.8 495.2l-.5-1.3-.4-1.3-.5-1.4-.4-1.3-.4-1.4-.4-1.3-.3-1.4-.4-1.3-.3-1.4-.3-1.3-.3-1.4-.4-1.4-.3-1.3-.4-1.4-.5-1.3-.5-1.3-.6-1.2-.8-1.2-.9-1-1-1.1-.8-1.1-.3-.7M232.2 493.5l-.3-1.3-.4-1.4-.3-1.3-.2-1.4-.3-1.4-.2-1.4-.3-1.3-.2-1.4-.2-1.4-.2-1.4-.2-1.4-.1-1.4-.2-1.4-.1-1.4-.1-1.4 0-1.4 0-1.4 .1-1.4 .1-1.4 .4-1.3 .1-1.4 .1-1.4 .1-1.4 0-.7M270 537.5l.7 1.2 .8 1.2 .7 1.2 .7 1.2 .7 1.3 .5 1.3 .4 1.3 .6 1.2 0 0M185.2 513.5l-1.4-.5-1.3-.5-1.4-.2-1.4 0-1.4 .2-1.3 .3-1.4 .2-.7 .1M235.2 492.6l-.3-1.4-.2-1.3-.2-1.4-.2-1.4-.2-1.4-.2-1.4-.2-1.4-.1-1.4-.1-1.4-.1-1.4-.1-1.4-.1-1.4-.1-1.4-.1-1.3-.1-1.4-.2-1.4-.2-1.4-.4-1.4-.5-1.3-.3-.6M220.8 544l-1.2 .6-1.3 .7-1.2 .7-1.2 .7-1.1 .8-1.1 .9-.9 1.1-.8 1.1-.7 1.3-.9 1-1.3 .5-1.4 .2-1.4 0 0 0M216.9 500.9l-.9-1-.9-1.1-.9-1.1-.8-1.1-.8-1.2-.8-1.2-.6-1.2-.6-1.3-.5-1.3-.4-1.3-.4-1.4-.2-1.4-.2-1.3-.2-1.4-.1-1.4-.1-1.4 .1-1.4 0-1.4 .1-1.4 .2-1.4 .3-1.4 .4-1.3 .2-.7M210.3 531.5l-1.3 .3-1.4 .2-1.4 .3-1.4 .3-1.3 .4-1.4 .3-1.3 .5-1.3 .5-1.3 .6-1.2 .7-1.1 .8-1.2 .8 0 0M227 478l-.2-1.4-.1-1.4-.2-1.4 0-1.4 0-1.4 .2-1.4 .3-1.4 0 0M219.1 499.2l-.8-1.2-.8-1.2-.7-1.1-.7-1.3-.7-1.2-.6-1.3-.5-1.3-.5-1.3-.4-1.3-.4-1.4-.3-1.3-.3-1.4-.2-1.4-.1-1.4-.2-1.4 0-1.4 0-1.4 0-1.4 .2-1.4 .3-1.3 .5-1.3 .2-.7M207.7 524.3l-1.4-.1-1.4 0-1.4 0-1.4-.1-1.4 0-1.4-.1-1.4-.1-1.4-.1-1.4-.2-1.4-.2-1.4-.3 0 0M273.2 494.3l1.3-.6 1.2-.7 1.3-.6 1.2-.6 1.3-.7 1.2-.7 1.2-.6 1.2-.7 1.2-.8 1.2-.7 1.1-.8 1.1-.9 1-1 .9-1.1 .8-1.1 .6-1.3 .6-1.2 .6-1.3 .5-1.3 .5-1.3 .5-1.3 .5-1.3 .5-1.4 .5-1.3 .5-1.3 .5-1.3 .5-1.3 .5-1.3 .4-1.4 .3-1.3 0 0M267.1 540.2l.7 1.2 .9 1.1 1 1 1 .9 1.1 .9 .5 .5M288.7 481.7l.6-1.2 .6-1.3 .6-1.2 .6-1.3 .5-1.3 .2-.7M223.5 497.6l-.7-1.2-.6-1.3-.6-1.2-.6-1.3-.5-1.3-.5-1.3-.4-1.4-.4-1.3-.4-1.4-.4-1.3-.3-1.4-.4-1.3-.3-1.4-.3-1.3-.3-1.4-.4-1.4-.4-1.3-.5-1.3-.3-.6M267.3 490.7l1.1-.8 1.1-.8 1.2-.8 1.1-.9 1.1-.9 1-.9 1-1 1-.9 1-1.1 .9-1 .9-1.1 .8-1.2 .7-1.2 .7-1.2 .6-1.2 .5-1.3 .5-1.4 .3-1.3 .3-1.4 0-1.4 .1-1.4 .2-1.4 .8-1.1 1.2-.7 0 0M275.4 496.6l1.3-.4 1.4-.5 1.3-.5 1.3-.4 1.3-.5 1.4-.4 1.3-.4 1.4-.4 1.3-.3 1.4-.3 1.4-.2 1.4-.1 1.4-.1 1.4 0 1.4 0 1.4 .2 1.3 .1 1.4 .2 1.4 .2 0 0M215.2 502.9l-1.1-1-1-.9-1-.9-1.1-1-1-.9-1-1-1-1-1-.9-1-1-1-1-1-1-1-1-1.2-.7-.7-1.1 0-1.4 0-1.4 0-1.4 .1-1.4 .1-1.4 .1-1.4 .1-1.4 .1-1.4 .2-1.4 .2-1.3 .2-1.4 .3-1.4 .3-1.4 .3-1.3 .3-1.4 .4-1.3 .4-1.4 .4-1.3 .2-.7M282.3 496.1l1.4-.3 1.4-.3 1.3-.3 1.4-.2 1.4-.1 1.4-.2 1.4 0 1.4-.1 1.4 .1 1.4 .1 1.4 .1 1.4 .2 1.4 .2 .7 .1M214.5 538.2l-1.3 .4-1.4 .5-1.3 .4-1.3 .4-1.4 .4-1.4 .3-1.3 .3-1.4 .2-1.4 .2-1.4 .2-1.4 .2-1.4 .2 0 0M213.8 484.3l-.2-1.3-.2-1.4-.2-1.4-.2-1.4-.1-1.4 0-1.4 0-1.4 .3-1.4 0 0M224 494.3l-.5-1.4-.5-1.3-.5-1.3-.4-1.3-.4-1.4-.4-1.3-.4-1.3-.3-1.4-.4-1.4-.1-.6M281.5 504.3l1.4-.2 1.4-.1 1.4-.2 1.4-.1 1.4-.1 1.4 0 1.4-.1 1.4 0 1.4 0 1.4 0 1.4 .1 1.4 .1 1.4 .2 1.3 .2 .7 .1M236.1 486.6l-.1-1.4-.2-1.4-.1-1.4 0-1.4-.1-1.4 0-1.4-.1-1.4 0-1.4 0-1.4 0-1.4-.1-1.4-.2-1.4-.3-1.3-.5-1.4 0 0M299.3 515.5l1.4-.3 1.4-.2 1.3-.3 1.4-.3 1.4-.4 1.3-.2 1.4 .1 1.4 .3 1.4 .3 1.3 .3 0 0M190.9 523.3l-1.4-.3-1.3-.2-1.4-.3-1.4-.2-1.4-.2-1.4-.1-1.4-.1-1.4 .2-1.3 .4-1.2-.7-.9-1.1-.9-1.1-.4-.5M278.5 499.4l1.4-.4 1.4-.3 1.3-.2 1.4-.3 1.4-.2 1.4-.2 1.4-.2 1.4-.1 1.4-.1 1.4 0 1.4 0 1.4 .1 1.4 .1 1.4 .1 1.3 .2 1.4 .2 0 0M282.3 491.5l1.3-.5 1.3-.6 1.3-.5 1.3-.5 1.3-.5 1.3-.4 1.4-.4 1.4-.2 1.4-.1 1.4 .1 1.4 .1 1.4 .2 1.4 .1 1.3 .2 0 0M209.3 512.3l-1.4-.5-1.3-.4-1.3-.5-1.3-.4-1.3-.5-1.4-.4-1.3-.5-1.3-.4-1.4-.4-1.3-.5-1.3-.4-1.4-.4-1.3-.5-1.3-.4-1.4-.4-1.3-.4-1.3-.4-1.4-.3-1.4-.1-1.4-.2-1.3-.5-1.3-.5-1.3-.5-1.3-.4-1.4-.5-1.3-.5 0 0M247 492.4l0-1.4 0-1.4 0-1.4 0-1.4 .1-1.4 0 0M217.3 543.2l-1.2 .7-1.2 .7-1.2 .8-1.1 .9-1 1-.9 1.1-.7 1.2-1 1-1.3 .5-1.4 0-1.3-.3-1.4-.3-.7-.2M251.6 492.5l.2-1.4 .1-1.4 .1-1.4 .1-1.4 .1-1.4 0 0M207.9 527.3l-1.4 .1-1.4 .1-1.4 .2-1.4 .1-1.4 .2-1.4 .1-1.4 .1-1.4 .1-1.4 0-1.4-.1-1.3-.1-1.4-.2-1.4-.3-1.4-.4-1.3-.3-1.4-.4-1.3-.3-.7-.1M245.8 492.5l0-1.4 0-1.4 0-1.4 0-1.4 0-1.4 0-1.4 0-1.4 .1-1.4 0-1.4 0-1.4 .1-1.4 0-1.4 .1-1.4 0-1.4 0-1.4-.1-1.4-.2-1.4-.2-.7M212.3 543.7l-1.3 .6-1.2 .6-1.4 .4-1.3 .3-1.4 0-1.4-.1-1.4-.1-1.4-.3-1.3-.3 0 0M211.1 507.6l-1.2-.7-1.3-.6-1.2-.6-1.3-.6-1.3-.6-1.2-.6-1.3-.5-1.3-.5-1.4-.5-1.3-.4-1.3-.5-1.4-.4-1.3-.3-1.4-.3-1.3-.3-1.4-.3-1.4-.2-1.4-.1-1.4-.2-1.4 0-1.4-.1-1.4-.1 0 0M273.6 481.9l.9-1.1 .9-1 .9-1.1 .9-1.1 .8-1.1 .7-1.2 .7-1.2 .4-.7M273.5 479.6l.9-1.1 .9-1 .8-1.2 .8-1.1 .4-.6M204.1 458.4l.4-1.4 .2-1.3 0-1.4-.1-1.4-.1-1.4-.2-1.4-.2-1.4-.2-1.4-.3-1.4-.2-1.3 0 0M211.8 534.8l-1.4 .3-1.3 .3-1.4 .4-1.3 .3-1.4 .4-1.3 .4-1.3 .5-1.4 .5-1.2 .6-1.2 .8-.6 .4M223.6 545.7l-1.3 .6-1.2 .6-1.3 .7-1.2 .6-.6 .4M195.3 515.7l-1.3-.3-1.4-.4-1.3-.4-1.4-.5-.6-.2M209.3 529.6l-1.3 .2-1.4 .2-1.4 .2 0 0M210.8 510l-1.3-.6-1.3-.5-1.3-.6-1.3-.5-1.3-.5-1.3-.5-1.3-.5-1.3-.5-1.3-.5-1.4-.4-1.3-.4-1.3-.4-1.4-.4-1.3-.4-1.4-.3-1.4-.3-1.3-.3-1.4-.2-1.4-.1-1.4 0-1.4 0-.7-.1M265.9 486.3l1-.9 1-1 1.1-.9 1-1 1-1 1-1 .4-.5M201.7 467.4l.3-1.4 .4-1.3 .4-1.4 .5-1.3 .2-.7M281.1 525l1.4 .3 1.4 .1 1.4 0 1.4 0 1.4-.1 1.4-.1 1.3-.2 1.4-.2 1.4-.2 1.4-.3 1.4-.3 1.3-.2 1.4-.3 1.4-.4 1.3-.3 1.4-.3 1.3-.4 1.4-.3 1.3-.4 1.4-.4 1.2-.6 1.3-.7 1.2-.7 .5-.4M213.6 505.4l-1.1-.8-1.2-.8-1.2-.8-1.1-.7-1.2-.7-1.2-.8-1.3-.6-1.2-.7-1.3-.6-1.3-.5-1.3-.5-1.3-.4-1.3-.4-1.4-.4-1.4-.3-1.3-.3-1.4-.2-1.4-.3-1.4-.2-1.4-.2-1.4-.1-.6-.1M264.2 541.1l.2 1.4 .2 1.4 .6 .4M284.9 474l.3-1.3 .3-1.4 .2-1.4 .1-1.4 0-1.4 .4-1.3 0 0M282.1 522.4l1.4 .2 1.4 0 1.4 0 1.4 0 1.4-.1 1.4-.1 1.4-.2 1.4-.2 1.3-.2 1.4-.2 1.4-.3 1.4-.2 0 0M280.4 500.9l1.3-.3 1.4-.2 1.4-.2 1.4-.2 1.4-.1 1.4-.1 1.4-.1 1.4 0 1.4 0 1.4 .1 1.4 0 1.4 .1 1.4 .2 1.4 .2 1.3 .2 0 0M286.2 527.7l1.4-.2 1.4-.1 1.4-.2 1.4-.3 1.3-.2 1.4-.3 1.4-.3 1.3-.3 .7-.2M265 488.8l1.1-.8 .5-.5M208.9 515.7l-1.3-.4-1.4-.4-1.4-.3-1.3-.4-1.4-.4-1.3-.3-1.3-.4-1.4-.4-1.3-.4-1.4-.4-1.3-.5-1.3-.4-1.4-.5-1.3-.4-1.3-.6-1.2-.5-1.3-.7-1.2-.7-1-1 0 0M209.7 543.4l-1.3 .4-1.4 .3-1.4 .2-1.4 0-1.4-.1-1.4-.2-1.3-.3 0 0M182.6 511l-.8-1.1-.7-1.2-.8-1.1-1-1-1.1-.8-1.3-.6-1.3-.6-1.3-.5 0 0M207.7 517.6l-1.4-.3-1.3-.3-1.4-.3-1.4-.3-1.3-.3-1.4-.4-1.3-.3-1.4-.4-.7-.2M282.4 506.9l1.3-.1 1.4-.1 1.4-.1 1.4 0 1.4-.1 1.4-.1 1.4 0 1.4 0 .7 0M201.5 460.5l.4-1.3 .4-1.4 .2-1.3 .3-1.4 .1-1.4 .1-1.4 0-1.4 0-1.4 .1-1.4 0-.7M257.6 487.2l1-1 1-1 .9-1 1-1 1-1 1-1 .9-1.1 1-1 0 0M237.8 492.1l-.2-1.4-.2-1.4-.1-1.4-.2-1.4-.1-1.4-.1-1.4-.1-1.4 0-1.4-.1-1.4 0-1.4 0-1.4 0-1.4 .1-1.4 0-1.4 .1-1.4-.1-1.4 0-.7M198 475l.2-1.4 .2-1.4 .3-1.4 .3-1.4 .3-1.3 .3-1.4 .4-1.3 .3-1.4 .4-1.3 0 0M203.7 488.9l-.1-1.4-.1-1.4-.1-1.4 0-1.4 .1-1.4 0-1.4 .1-1.4 .2-1.4 .2-1.3 .2-1.4 .2-1.4 .3-1.4 0 0M280 502.5l1.4-.2 1.4-.2 1.4-.2 0 0M201.5 496.6l-1.3-.5-1.3-.4-1.4-.4-1.3-.4 0 0M199.6 484.1l.1-1.4 .1-1.4 .1-1.4 .2-1.4 .2-1.4 .2-1.4 0 0M230.3 476.9l-.2-1.4-.1-1.4 0-1.4-.1-1.4 0-1.4-.1-1.4 0 0M219.7 477.6l-.4-1.3-.6-1.3-.6-1.2-.8-1.2-.9-1.1-1-.9-.7-1.2-.2-.7M260.5 542.9l.5 .5M229.5 489.6l-.4-1.4-.3-1.3-.3-1.4-.2-1.4-.3-1.3-.2-1.4-.3-1.4 0 0M289.9 486.8l1.3-.6 1.2-.7 1.2-.4 1.4-.3 .7-1.2 .5-1.3 .5-1.3 .4-1.3 .4-1.4 .5-1.3 0 0M297 520.4l1.4-.2 1.3-.3 1.4-.3 1.4-.2 1.4-.3 1.4-.2 1.4-.1 1.4 0 0 0M200 530.3l-1.4 .3-1.4 .4-1.3 .3-1.4 .3-1.4 .2-1.4-.1-1.3-.4-.7-.2M285.1 505.6l1.4-.1 1.4 0 1.3-.1 1.4-.1 1.4 0 1.4 0 1.4 0 1.4 0 1.4 .1 1.4 .1 0 0M202.7 493l-1.3-.6-1.3-.4-1.3-.4-1.4-.4-1.3-.4-1.4-.3-1.3-.4-1.4-.4-1.3-.4-.7-.2M190.9 513.1l-1.4-.5-1.3-.5-1.2-.6-1.3-.6-1.2-.7-.6-.4M226.9 486.9l-.3-1.4-.3-1.3-.3-1.4-.3-1.4-.3-1.3 0 0M195.7 498l-1.4-.3-1.4-.2-1.3-.3-1.4-.2-1.4-.2-.7-.1M216 540.9l-1.3 .5-1.2 .6-.7 .3M249.6 492.6l.1-1.4 .1-1.4 0-1.4 .1-.7M207.8 489.9l-.4-1.4-.2-1.3-.2-1.4-.1-1.4-.1-1.4-.1-1.4 .1-1.4 0-1.4 .1-1.4 .2-1.4 .3-1.4 .3-1.3 0 0M221 549.6l-1.2 .6-1.3 .6-1.3 .6-1.2 .6-1.3 .6-1.4 .4-.6 .3M198.1 493.7l-1.3-.4-1.4-.3-1.4-.3-1.3-.3-1.4-.3-1.4-.3-1.4-.3 0 0M283.5 517.1l1.4 0 1.4 0 1.4-.1 1.4-.1 1.4-.1 1.4-.1 1.4-.1 1.4-.2 1.4-.1 0 0M272.2 536l.8 1.1 .7 1.2 .7 1.2 .7 1.3 0 0M223.7 477.3l-.3-1.4-.4-1.3-.3-1.4-.4-1.3-.4-1.4-.7-1.2-.5-1.3 .2-1.3 .6-1.3 0 0M291.9 472.1l.5-1.3 .6-1.3 .6-1.2 .7-1.3 0 0M200.6 527.1l-1.3 .1-1.4 0-1.4 0-1.4 0-1.4-.1 0 0M187.8 525.4l-1.4-.3-1.3-.3-1.4-.2-1.4-.1-1.4 0-1.4 .3-1.3 .4-1.3-.3-.6-.4M199.4 489.4l-1-.9-.8-1.2-.6-1.2-.3-1.4-.2-1.4 0-.7M287.3 491.5l1.3-.3 1.4-.2 1.4-.2 1.4-.1 1.4 0 1.4 0 1.4 .1 1.4 .2 1.4 .2 1.4 .2 0 0M219.7 496.1l-.6-1.3-.6-1.2-.6-1.3-.5-1.3-.5-1.4-.4-1.3-.4-1.3-.3-1.4-.3-1.4-.3-1.3 0 0M227.8 547.6l-1.2 .7-1.3 .6-1.2 .6-1.3 .6 0 0" fill="none" stroke="#000" stroke-width="0.95" stroke-linejoin="round"/><path d="M240.3 476.2l1.2 2.8-2.5-.1zM189.9 516.5l3-.5-.7 2.5zM301.9 508.7l-2.8 1.2 0-2.5zM290.3 511.3l-2.7 1.4-.2-2.5zM272.3 475.7l-1 2.9-1.8-1.7zM286.8 476.6l-.1 3-2.2-1.2zM242.3 479.8l1.3 2.7-2.5 0zM297 513.7l-2.6 1.5-.3-2.5zM190.5 520.2l2.9-.7-.5 2.5zM299.5 517.8l-2.6 1.7-.4-2.5zM222.4 479.7l1.9 2.4-2.5 .6zM229.1 475.6l1.6 2.6-2.5 .3zM273.6 543.5l-2.5-1.7 2.2-1.3zM177.7 512.5l2.6-1.5 .2 2.5zM233.3 478.1l1.5 2.6-2.5 .2zM212.2 549.9l1.1-2.8 1.8 1.8zM209 486.4l1.9 2.4-2.5 .6zM200.8 533.7l2.3-1.9 .7 2.4zM226.4 471l1.4 2.7-2.5 .1zM212.5 484.6l1.9 2.4-2.4 .6zM198.6 524l2.8-1.2-.1 2.6zM261.3 543.2l-1.6-2.5 2.5-.4zM291.1 481.5l-.4 3-2.1-1.4zM270.1 544l-2.8-1.2 1.9-1.7zM267.4 525.7l-2.9-.6 1.4-2.1zM291.4 476.1l0 3-2.3-1zM218.2 483.9l2 2.4-2.5 .6zM280.3 478.2l-.6 3-2.1-1.5zM289.4 492.4l-2.4 1.8-.5-2.5zM250.5 512.4l-.1 3-2.3-1.1zM201.1 485.3l1.2 2.8-2.5 0zM294.1 494.6l-2.7 1.4-.1-2.6zM262.5 518.9l-3.1 .3 .9-2.4zM205.1 540.9l2.4-1.8 .6 2.4zM212.9 476.7l1.5 2.7-2.6 .2zM221.1 485.7l2 2.2-2.4 .8zM292.7 503.5l-2.8 1.3 0-2.5zM235.5 474.7l1.3 2.8-2.5 0zM308.2 513.6l-2.4 1.8-.6-2.4zM179.8 521.9l2.8-1.2-.1 2.5zM290.9 497.4l-2.6 1.5-.2-2.5zM293.5 487.7l-2.4 1.8-.5-2.5zM190.7 506.1l3-.3-.8 2.4zM247 487.5l1.3 2.8-2.6 0zM268 530.5l-2.8-1.1 1.8-1.8zM209.3 550.7l.4-3 2.1 1.3zM252.1 487.7l1 2.8-2.5-.2zM194.7 528.3l2.7-1.3 .1 2.5zM245.9 478.5l1.2 2.8-2.5-.1zM204.3 545.7l2.7-1.4 .1 2.6zM195.7 501.1l3-.4-.8 2.5zM278.4 475.9l-.6 3-2-1.5zM276.9 475.2l-.6 3-2-1.5zM204.2 449.4l1.6 2.6-2.5 .3zM203 537.1l2.3-2 .7 2.4zM219.2 547.9l1.9-2.4 1.2 2.3zM190 514.2l3-.4-.8 2.4zM205.9 530.1l2.6-1.7 .3 2.5zM195.1 504l3-.3-.8 2.4zM271 481.5l-1.1 2.9-1.8-1.9zM203.2 462l.4 3-2.4-.7zM299.1 523.5l-2.5 1.8-.5-2.5zM198.9 497.4l3.1-.2-.9 2.4zM264.5 544.6l-1.5-2.7 2.6-.2zM285.9 467.8l1 2.9-2.6-.2zM291.9 522.2l-2.7 1.6-.2-2.6zM292.9 499.7l-2.8 1.3 0-2.5zM294.5 526.4l-2.5 1.8-.5-2.5zM250.2 533.9l-.7-2.9 2.5 .5zM234.4 513.5l2.8 1.2-1.8 1.7zM266.6 487.5l-1.3 2.8-1.6-2zM194.8 511.7l3-.4-.7 2.4zM202.8 544.3l2.8-1.3 0 2.5zM177.7 505.3l2.9 .8-1.6 1.9zM199.5 515.8l3-.6-.6 2.4zM290 506.4l-2.7 1.5-.1-2.6zM263.9 504.8l-2.3 2-.7-2.5zM203.1 451.6l1 2.9-2.5-.2zM262.5 482.2l-1.1 2.8-1.8-1.7zM236.7 479.6l1.4 2.7-2.5 .1zM252.3 535.4l-1.7-2.5 2.5-.4zM261.3 515.7l-3 .7 .5-2.5zM199.6 466.7l.6 3-2.4-.6zM218.8 519.1l3-.6-.6 2.5zM203.7 478.5l1 2.8-2.5-.2zM283.5 502l-2.6 1.7-.4-2.5zM196.9 495.1l3-.4-.8 2.4zM200.1 477.8l1 2.9-2.5-.3zM229.9 470.6l1.4 2.7-2.6 .1zM216 470.9l2.7 1.5-2 1.5zM261.4 544l-2.7-1.3 1.9-1.7zM228 482.8l1.8 2.4-2.5 .5zM296.5 481.7l.1 3-2.3-1zM304.5 519l-2.4 1.7-.5-2.4zM192.5 532l2.4-1.8 .5 2.5zM294.1 505.3l-2.7 1.3-.1-2.6zM194.1 490.3l3-.5-.7 2.4zM230.7 498.6l2.3 2-2.3 1zM232.1 536.6l2-2.3 1.1 2.3zM185.1 510.6l3 .1-1 2.3zM225.7 481.4l1.8 2.5-2.5 .5zM189.5 496.9l2.9-.8-.4 2.5zM257.1 541l-2.8-1.3 1.9-1.6zM213.5 542l2-2.3 1 2.3zM249.8 489.1l1.1 2.8-2.5-.1zM206.7 479.5l1.3 2.8-2.5 0zM214.7 552.6l2-2.3 1 2.3zM191.3 492.1l3-.7-.6 2.5zM291.2 516.8l-2.7 1.5-.2-2.6zM246.2 530.1l-.4-3 2.4 .8zM274.5 539.5l-2.6-1.7 2.2-1.3zM257.2 495.9l-1.3 2.8-1.6-1.9zM221.5 469.2l2 2.3-2.4 .7zM293.9 467.6l0 3.1-2.3-1.1zM271.2 531.1l-2.9-1 1.8-1.8zM195.1 527.3l2.7-1.3 .1 2.5zM179.5 524.5l2.7-1.3 .1 2.5zM196.3 484.1l2.2 2.2-2.4 .8zM296.3 490.7l-2.8 1.3 0-2.6zM216.3 487.7l2 2.2-2.4 .8zM224.1 549.5l1.9-2.4 1.1 2.3z" fill="#000"/>
<g mask="url(#spk)"><g filter="url(#bl)"><path d="M532.4,504.7 L536.8,503.2 L543.2,497.7 L547.6,491.6 L551.9,487.6 L558.4,494.2 L565.3,503.0 L567.4,513.5 L565.3,526.7 L561.0,535.9 L554.0,538.1 L547.6,533.7 L541.1,529.3 L532.4,526.0 L529.2,520.5 L530.3,513.5Z" fill="#ff9896" /><path d="M529.2,514.6 L535.0,514.0 L536.3,521.9 L530.3,523.4Z" fill="#ff7f0e" /><path d="M554.0,483.9 L561.6,477.3 L569.2,474.0 L577.8,469.6 L582.1,467.0 L588.6,470.7 L597.3,470.1 L599.9,474.0 L598.3,485.0 L599.9,493.3 L595.5,504.7 L588.6,509.6 L577.8,507.4 L567.0,500.8 L558.4,494.2 L551.9,487.6Z" fill="#8c564b" /><path d="M556.2,446.6 L558.4,447.7 L556.2,458.7 L555.8,474.0 L557.3,483.9 L553.0,483.9 L551.5,469.6 L553.2,454.3Z" fill="#98df8a" /><path d="M565.3,503.0 L577.8,507.4 L588.6,509.6 L595.5,506.9 L597.7,520.1 L593.4,529.3 L584.7,533.7 L571.3,533.7 L564.9,527.1 L567.4,513.5Z" fill="#e377c2" /><path d="M561.0,535.9 L571.3,533.7 L584.7,533.7 L593.4,530.6 L588.6,535.9 L580.4,542.5 L576.7,553.4 L567.0,555.6 L560.5,553.4 L556.6,544.7 L554.0,538.1Z" fill="#d62728" /><path d="M602.7,494.2 L606.3,490.5 L607.6,486.1 L612.4,485.0 L618.9,481.7 L625.3,478.4 L630.1,485.0 L632.3,498.2 L630.1,509.6 L623.2,516.1 L614.5,518.3 L608.1,514.0 L605.9,502.5Z" fill="#b5bd61" /><path d="M640.5,469.6 L644.8,465.2 L648.5,462.6 L649.1,469.6 L646.1,473.1Z" fill="#ffbb78" /><path d="M610.7,487.6 L614.1,486.7 L615.0,492.0 L611.3,492.9Z" fill="#ffbb78" /><path d="M632.3,498.6 L640.5,503.0 L648.5,498.6 L649.5,506.9 L656.0,509.1 L664.2,513.1 L666.4,516.8 L662.5,522.7 L653.9,526.0 L645.2,529.3 L638.3,528.2 L627.5,527.1 L623.2,522.7 L623.6,516.1 L630.1,509.6Z" fill="#279e68" /><path d="M597.7,529.3 L604.2,524.9 L610.2,518.3 L618.9,520.5 L622.1,525.6 L621.0,533.3 L617.1,542.5 L612.8,538.1 L608.5,544.7 L604.8,541.4 L601.6,531.5Z" fill="#aa40fc" /><path d="M618.9,521.9 L623.6,525.6 L624.7,533.3 L625.8,544.7 L622.5,549.1 L617.1,542.5 L620.4,533.3Z" fill="#17becf" /></g></g>
<g mask="url(#spk2)"><g filter="url(#bl)"><path d="M595.5,504.7 L599.9,493.3 L602.7,494.2 L606.3,496.4 L608.5,513.5 L604.2,524.9 L597.7,529.3 L596.6,517.9Z" fill="#1f77b4" /><path d="M625.3,478.4 L625.3,471.8 L631.8,469.6 L640.5,469.6 L644.8,465.7 L648.5,464.2 L649.1,485.0 L648.5,498.6 L640.5,503.0 L632.3,498.6 L630.1,485.0Z" fill="#aec7e8" /><path d="M634.4,482.8 L644.4,481.0 L647.0,492.0 L638.3,496.4 L633.1,492.0Z" fill="#c5b0d5" /></g></g>
<path d="M595.2 523.7l.4 0-1.1 .7-1.4 .2-1.4-.1-1.4-.2-1.4-.2-1.3-.3-1.4-.3-1.3-.4-1.4-.4-1.3-.4-1.4-.4-1.3-.4-1.3-.4M600.1 520.1l.8-1.1 .8-1.2 .7-1.2 .6-1.2 .6-1.3 .5-1.3 .9-1 1.3-.5 1.3-.5 1.3-.4 1.4-.4 1.3-.4 1.4-.3 1.4-.3 1.3-.3 1.4-.2M602.8 513.3l.5-1.3 .4-1.4M605.8 505.6l1.1-.8 1.1-.8 1.2-.8M590 520.2l-1.1-.8-1.1-.9-1.1-.9-1.1-.9-1-.9-1.1-.9-1-.9-1.1-1M596.9 523l1.4-.4 1.3-.4 1.3-.5 1.3-.6 1.2-.7 1.2-.7 1.2 .7 1.2 .7 1.2 .7 1.2 .7 1.2 .7 1.2 .8 1.2 .7 1.2 .8 1.1 .8M618.4 519.1l1.3 .3M606.3 513l1.4-.3 1.4-.3 1.4-.2 1.4-.2 1.3-.2 1.4-.1 1.4-.1 1.4-.1 1.4-.1M594.3 525.8l-1.3 .5-1.3 .4-1.4 .2-1.4 .2-1.4 .1-1.4 0-1.4 0-1.4 0-1.4-.1-1.4 0-1.4-.1-1.4 0M597.4 520.4l.4-1.4 .2-1.4 .2-1.4 .2-1.3 0-1.4 .1-1.4 0-1.4 .1-1.4M584.2 525.4l-1.4-.2-1.4-.2-1.4-.2-1.3-.2-1.4-.2M609.7 514.7l1.4 .1 1.4 0 1.4 .1 1.4 .1 1.4 .1 1.4 .2 1.3 .1M595.4 520.8l-.2-1.4-.3-1.3-.4-1.4-.4-1.3-.4-1.4-.4-1.3-.4-1.3-.4-1.4-.4-1.3M599.4 523.6l1.2 .7 .9 1 .7 1.3 .4 1.3 .1 1.4 0 1.4-.1 1.4-.3 1.3-.5 1.4-.5 1.3-.6 1.2M585.2 513.7l-.9-1-1-1.1M594.5 528.4l-1.2 .8-1.2 .6-1.3 .6-1.3 .5-1.4 .5-1.3 .4-1.3 .3-1.4 .4-1.4 .3-1.3 .3M593.9 532.3l-1.2 .9-1.2 .7-1.2 .7-1.2 .7-1.3 .6-1.2 .6M596.4 512.5l-.2-1.4-.2-1.4-.1-1.4M599.2 518.6l.5-1.3 .4-1.4 .4-1.3 .3-1.4 .3-1.4 0 0M593.7 520.9l-.8-1.2-.8-1.1-.8-1.2-.8-1.1-.8-1.2-.8-1.1-.8-1.2-.8-1.1-.8-1.2M583.9 518.1l-1.2-.8-1.1-.7-1.2-.8M608.8 519l1.3 .5 1.4 .5 1.3 .5 1.3 .5 1.3 .5 1.3 .5 1.3 .6M599 511.2l0-1.4 .1-1.4M604.1 523.7l1.2 .7 1 1 .9 1 1 1 1 1 .9 1.1M588.9 528.6l-1.3 .3-1.4 .2-1.4 .1-1.4 .2-1.4 .1-1.4 .1-1.4 .1M603.7 526.7l.6 1.3 .3 1.4 .1 1.4 0 1.4 .3 1.3M606.4 528.3l.9 1 .8 1.1M599.4 526.2l0 1.4-.3 1.3-.4 1.4-.6 1.2-.7 1.2-.8 1.1-.5 .6M606.4 508.7l1.2-.7 1.3-.7 1.2-.6 1.3-.5 1.3-.6M579.4 518.2l-1.3-.6M612.8 516.2l1.4 .2 1.4 .2 1.4 .2 1.3 .3 1.4 .2M603.6 516.3l.8-1.2 1-.8 1.4-.2 1.4-.1 0 0" fill="none" stroke="#000" stroke-width="0.45" stroke-linejoin="round"/><path d="M578.2 521.1l-1.4-.5-1.3-.4-1.3-.4-1.4-.5-1.3-.4-1.3-.4-1.4-.5-1.3-.4-1.3-.4-1.4-.5-1.3-.4-1.3-.4-1.4-.4M617.1 508.5l1.4-.3 1.4-.2 1.4-.2 1.3-.3 1.4-.2 1.4-.2 1.4-.2 1.4-.2 1.4-.2 1.3-.2 1.4-.2 1.4-.2M603.7 510.6l.3-1.3 .4-1.4 .3-1.3 1.1-1M609.2 503.2l1.2-.8 1.1-.7 1.3-.7 1.2-.7 1.2-.7 1.2-.7 1.2-.6 1.3-.7 1.2-.7 1.2-.6 1.3-.7 1.2-.7M581.4 513l-1-.9-1.1-1-1-.9-1-1-1-1-1-1-.9-1-1-1-.9-1-.9-1.1-.9-1.1M571.4 516l-1.3-.5-1.3-.6-1.3-.6-1.2-.5-1.3-.6-1.3-.5-1.3-.6M615.3 526.3l1.1 .8 1.1 .9 1.1 .9 1 .9 1.1 1 1 1 .9 1 .9 1.1 .9 1 .9 1.1 .8 1.2M582.3 547.9l-1.2 .7-1.3 .6M574.8 523.1l-1.4-.2-1.3-.3-1.4-.2-1.4-.3-1.4-.3-1.4-.2-1.3-.3-1.4-.2-1.4-.3-1.4-.2-1.3-.3M619.7 519.4l1.4 .4 1.3 .4 1.3 .4 1.4 .3 1.3 .4 1.4 .4 1.4 .3 1.3 .3 1.4 .3 1.4 .2 1.4 .2 1.4 .1M618.8 511.4l1.4-.1 1.4-.1 1.4 0 1.4-.1 1.4-.1 1.4 0 1.4-.1 1.4-.1 1.4-.1 1.4-.1 1.4-.1 1.4 0M562.1 517.9l-1.3-.4M577.7 527l-1.4-.1-1.4 0-1.4-.1-1.4-.1-1.4 0-1.4-.1-1.4-.1-1.4 0-1.4-.1-1.4 0-1.4 0-1.4-.1M598.6 509.3l0-1.4-.1-1.4 0-1.4 0-1.4 0-1.4-.1-1.4 0-1.4 0-1.4 0-1.4-.1-1.4 0-1.4M577.3 524.4l-1.4-.2-1.4-.3-1.4-.2-1.4-.2 0 0M619.4 515.4l1.4 .1 1.4 .2 1.4 .1 1.4 .2 1.4 .1 1.4 .1 1.4 .1 1.4 0 1.4 .1 1.4 0 1.4 0 1.4 0M569.4 525.3l-1.4-.2-1.4-.1-1.4-.1-1.4-.1-1.3-.1-1.4-.1-1.4-.1M592.1 508.7l-.5-1.3-.4-1.4-.4-1.3-.3-1.4-.4-1.3-.4-1.4-.3-1.3-.3-1.4-.3-1.4-.3-1.3M600.7 537.3l-.7 1.3 0 0M620.7 512.8l1.4 0 1.4 0 1.4 0 1.4 0 1.4 0 1.4 0 1.4 0 1.4-.1 1.4 0 1.4-.1 1.4 0M589.2 507.1l-.6-1.3-.5-1.4-.4-1.3-.5-1.3-.5-1.3-.4-1.3-.4-1.4-.4-1.3-.3-1.4M583.3 511.6l-.9-1-.9-1.1-.9-1.1-.9-1-.8-1.1-.9-1.2-.8-1.1-.8-1.1-.8-1.2-.7-1.2-.7-1.2M581.4 533.1l-1.4 .3-1.4 .3-1.3 .3-1.4 .3-1.4 .2-1.4 .3-1.3 .3-1.4 .3-1.4 .3-1.3 .3-1.4 .4-1.3 .3-1.4 .3M604 503.6l.3-1.4 .2-1.4 .9-1 .9-1 1-1 1-1 1-1 1.1-.9 1-1 1.1-.9 1-.9 1.1-.9 1-.9M586.6 536.5l-1.3 .5-1.3 .6-1.3 .5-1.3 .5-1.3 .5-1.3 .5-1.3 .5-1.3 .5-1.3 .5-1.3 .5-1.3 .5-1.3 .6-1.3 .6M595.9 508.3l-.2-1.4-.2-1.4-.2-1.4-.1-1.4-.2-1.4-.2-1.3-.1-1.4-.2-1.4-.1-1.4-.1-1.4M586.5 510.5l-.7-1.2-.8-1.2-.7-1.2-.7-1.2-.7-1.2-.6-1.2-.7-1.3-.6-1.2-.6-1.3-.6-1.3-.5-1.3M613.2 503.8l1.3-.5 1.3-.6 1.3-.5 1.3-.5 1.3-.6 1.3-.5 1.3-.5 1.3-.5 1.3-.5 1.3-.5 1.3-.5M580.4 515.8l-1.2-.8-1.1-.8-1.2-.8-1.1-.8-1.1-.8-1.2-.8-1.1-.9-1.1-.8-1.2-.8-1.1-.9-1.1-.8-1.1-.8M604.3 496.5l.1-1.4M605 492.5l.9-1.2 .9-1.1 .8-1 .9-1.1M618 522.6l1.2 .6 1.3 .6 1.2 .6 1.3 .6 1.2 .7 1.3 .7 1.2 .7 .6 .3M599.1 508.4l0-1.4 0-1.4 0-1.4 0-1.4 0-1.4 0-1.4 0-1.4 0-1.4 0-1.4 0-1.4M614.5 528.5l1 1 1 .9 1 1.1 .9 1 .9 1.1 .9 1.1 .9 1.1 .8 1.1 .8 1.2 .7 1.1M606.4 501.1l1.1-1 1-.9 1.1-.9 1.1-.9 1.1-.9 1.1-.8 1.1-.9 1.1-.8 1.1-.9 1.2-.8 0 0M614.7 506.5l1.4-.4 1.3-.4 1.4-.4 1.3-.4 1.4-.3 1.3-.4 1.4-.3 1.4-.4 1.3-.3 1.4-.3 1.3-.3 1.4-.3 1.4-.3M610.1 529.5l1 1 .9 1 .9 1.1 .9 1.1 .8 1.2 .8 1.1 .7 1.2 .7 1.2 .6 1.3 .6 1.3 .5 1.3M630.8 523.5l1.3 .2 1.4 .3 1.4 .2M579.2 529.7l-1.4 .1-1.4 .1-1.4 .1-1.4 .1-1.4 .1-1.4 .1-1.4 .1-1.4 .1-1.4 .1-1.4 .1-1.3 .2-1.4 .1-1.4 .2M571.9 513.4l-1.2-.6-1.3-.7-1.2-.7-1.2-.7-1.2-.7-1.3-.6M581.5 536.3l-1.3 .5-1.4 .4-1.3 .4-1.3 .4-1.4 .5-1.3 .4-1.3 .5-1.3 .4-1.4 .5-1.3 .4-1.3 .5M605 533.5l.7 1.1 .8 1.2 .8 1.2 .8 1.1 .8 1.2 .8 1.1 .8 1.2 .8 1.1 .8 1.1 .8 1.2M625.4 524.2l1.3 .6 1.3 .5 1.3 .6 1.3 .5 1.3 .4 1.3 .4 1.4 .4M625.4 518.8l1.3 .3 1.4 .2 1.4 .2 1.4 .2 1.4 .2 1.4 .1 1.4 .1 1.4 0M590.8 496.6l-.2-1.4-.2-1.3M562.3 522.4l-1.4-.2-1.4-.2M618.1 526.4l1.1 .8 1.1 .8 1.1 .9 1.1 .9 1 .9 1 1 1 1 1 1 .9 1.1 .5 .5M630.1 507.7l1.4-.2 1.4-.1 1.4-.2M566.9 537.9l-1.3 .3M630.2 516l1.4 .1 1.4 0 1.4 0 1.4 0 1.4-.1M584.7 540.8l-1.2 .6-1.3 .6-1.3 .6-1.2 .6-1.3 .6-1.3 .6-1.3 .6-1.2 .6-1.3 .6M608.1 530.4l.9 1.1 .9 1.1 .9 1.1 .8 1.1 .8 1.2 .8 1.1 0 0M593.7 506.3l-.3-1.4-.2-1.4-.3-1.4-.2-1.3-.3-1.4-.2-1.4-.2-1.4-.2-1.4-.1-.7M601.7 508.9l.2-1.4 .2-1.4 .2-1.4 .1-1.4 .2-1.4 .1-1.4 .1-1.4 .1-1.4 .1-1.4 .1-1.4M608.8 494.1l1-1 1-.9 1-1 1-1 1-.9M576.4 530.6l-1.4 .1-1.4 .2-1.4 .1-1.4 .1-1.4 .2-1.3 .1 0 0M578.5 501.6l-.7-1.2-.7-1.3-.6-1.2M612.7 505.6l0 0M584.3 499.4l-.5-1.3-.4-1.3-.5-1.4M578.1 517.6l-1.2-.6-1.3-.6-1.2-.7-1.3-.6-.6-.3M618.1 536.2l.8 1.2 .7 1.2 .7 1.2 .6 1.2M565.2 529.1l-1.4 .1-1.4 .1-1.4 .1M604.8 535.8l.2 1.2-.4 1.4 .8 1.1 .8 1.1 .9 1.1 .9 1.1 .9 1 1.1 1M618.4 493.9l1.1-.8 1.2-.8M619.7 517.3l1.4 .3 1.4 .2 1.3 .3 1.4 .2 1.4 .2 0 0M571.5 506.5l-1.1-.9-1-1-1-1M569.9 534.3l-1.3 .3-1.4 .2-1.4 .3-1.4 .3 0 0M625.2 501.4l1.4-.4 1.3-.4 1.3-.4 1.4-.4M576.8 510.8l-1.1-1-1.1-.9-1-.9-1-.9 0 0" fill="none" stroke="#000" stroke-width="0.7" stroke-linejoin="round"/><path d="M560.8 515.5l-1.3-.4-1.3-.5-1.4-.4-1.3-.4-1.3-.4-1.4-.4-1.3-.5-1.3-.4-1.4-.4-1.3-.5-1.3-.4-1.4-.5-1.3-.4-1.3-.5-1.3-.5-1.3-.6-1.3-.5-1.2-.7-1.2-.7-1.3-.5-1.3-.6-1.3-.5-1.3-.5-1.3-.5-1.3-.5-.7-.2M633.7 505.9l1.4-.1 1.4-.2 1.4-.1 1.4-.1 1.4-.1 1.4-.1 1.4 0 1.4-.1 1.4 0 1.4 .1 1.4 0 1.4 .1 1.4 .2 1.4 .1 1.3 .3 0 0M623.8 494.9l1.2-.6 1.3-.7 1.2-.7 1.2-.7 1.2-.8 1.1-.7 1.2-.8 1.1-.8 1.1-.9 1.1-.9 1-1 1-1 .9-1 .8-1.2 .8-1.1 .7-1.3 .6-1.2 .5-1.3 .6-1.3 .5-1.3 .4-1.3 .5-1.4 .5-1.3 .5-1.3 .6-1.2 .6-1.3 .8-1.2 .7-1.2 .7-1.2 .6-1.2 .4-1.4 1-1 1-1 .4-.5M570.7 502l-.9-1.1-.9-1.1-.8-1.1-.8-1.2-.7-1.2-.7-1.2-.6-1.3-.5-1.3-.5-1.3-.4-1.3-.3-1.4-.3-1.3-.2-1.4-.2-1.4-.1-1.4-.1-1.4 0-1.4 0-1.4 .1-1.4 .2-1.4 .3-1.4 .4-1.3 .5-1.3 0 0M562.4 512.1l-1.3-.5-1.3-.5-1.3-.6-1.3-.5-1.3-.5-1.3-.5-1.3-.4-1.4-.5-1.3-.5-1.3-.4-1.3-.4-1.4-.4-1.3-.4-1.4-.4-1.3-.4-1.4-.3-1.4-.2-1.4-.2-1.4-.1 0 0M626.1 537.2l.8 1.1 .8 1.2 .3 .6M579.8 549.2l-1.2 .6-1.3 .7-1.2 .6-1.3 .6-1.3 .6-1.2 .6-1.3 .6-1.2 .6-1.3 .6-1.3 .6-1.3 .5-1.3 .5-1.3 .4-1.4 .3-.7 .1M559.7 520.3l-1.4-.3-1.4-.2-1.4-.3-1.3-.3-1.4-.3-1.3-.4-1.4-.3-1.4-.3-1.3-.4-1.4-.4-1.3-.4-1.3-.4-1.4-.5-1.3-.5-1.3-.5-1.3-.5-1.2-.6-1.3-.6-1.1-.9-.6-1.2-.8-1.2-.9-1.1-1-.9-1.2-.7-.6-.4M636.1 523.1l1.4 0 1.4 0 1.4 0 1.4-.1 1.4-.1 1.3-.2 1.4-.1 1.4-.2 1.4-.2 1.4-.3 1.4-.2 1.3-.3 1.4-.2 1.4-.3 1.4-.2 1.4-.2 1.4-.1 1.4 0 1.3 .3 1.3 .6 1.2-.6 1.1-.8 1.1-.9 .5-.5M635.6 510.5l1.4-.1 1.4-.1 1.4-.1 1.4-.1 1.4 0 1.4-.1 1.4-.1 1.4 0 1.4 0 1.4 0 1.4 0 1.4 0 1.4 0 0 0M560.8 517.5l-1.4-.3-1.3-.4-1.4-.3-1.3-.4-1.4-.4-1.3-.4-1.4-.4-1.3-.3-1.4-.5-.6-.2M560.9 526.3l-1.4 0-1.4 0-1.4-.1-1.4 0-1.4-.1-1.4 0-1.4-.1-1.4-.2-1.4-.1-1.3-.2-1.4-.2-1.4-.3-1.4-.2-1.4-.3-1.3-.3-1.4-.3-1.4-.2-1.4-.2-.7-.1M598.3 493.9l0-1.4 0-1.4 0-1.4 0-1.4 0-1.4 0-1.4 0-1.4 0-1.4 0-1.4 .1-1.4 0-1.4 .1-1.4 0-1.4 .1-1.4 0-1.4 0-1.4-.2-1.4-.3-1.4 0-1.4 0-.7M636.2 516.4l1.4 0 1.4-.1 1.4-.1 1.4-.1 1.4-.1 1.4-.1 1.4-.1 1.4-.1 1.4-.2 1.4-.1 1.4-.2 1.3-.2 1.4-.2 1.4-.3 1.3-.4 1.3-.5 1.2-.8 1.2-.6 1.3 .5 1.2 .6 1.3 .6 1.2 .7 1.2 .6 1.3 .7 1.4 .3 0 0M535.8 515.9l-1.4-.3-1.4-.1-1.4 0-1.4 .1-1.4 .3-1.4 .2 0 0M559.7 524.5l-1.4-.1-1.4-.1-1.4-.1-1.4-.2-1.4-.1-1.4-.2 0 0M588.5 495.2l-.2-1.4-.3-1.4-.2-1.4-.2-1.4-.2-1.3-.2-1.4-.1-1.4-.2-1.4-.1-1.4-.1-1.4-.1-1.4 0-1.4-.1-1.4-.1-1.4 0-1.4-.1-1.4-.2-1.4-.2-1.4-.3-1.3-.5-1.3-.6-1.3-.7-1.2-.3-.7M636.1 512.6l1.4-.1 1.4-.1 1.4-.1 1.4 0 1.4-.1 1.4-.1 1.4-.1 1.4 0 1.4-.1 1.4-.1 1.4 0 1.4-.1 1.4-.1 1.4 0 .7-.1M585.2 495.1l-.4-1.3-.3-1.4-.3-1.4-.3-1.3-.2-1.4-.3-1.4-.2-1.4-.2-1.4-.2-1.4-.1-1.3-.2-1.4-.2-1.4-.1-1.4-.1-1.4-.1-1.4-.1-1.4 0-1.4 0-1.4 .1-1.4 .1-1.4 .1-1.4 0 0M574.2 499.3l-.7-1.2-.7-1.2-.6-1.3-.6-1.2-.6-1.3-.5-1.3-.5-1.4-.4-1.3-.4-1.3-.3-1.4-.3-1.4-.3-1.3-.3-1.4-.2-1.4-.3-1.4-.2-1.3-.2-1.4-.2-1.4-.1-1.4-.1-1.3-.1-1.4-.1-1.4 0 0M564.9 498.1l-.8-1.2-.8-1.1-.7-1.2-.7-1.3-.5-1.3-.4-1.3-.4-1.4-.3-1.3-.2-1.4-.1-1.4-.1-1.4 0-1.4 0-1.4 .1-1.4 .1-1.4 .2-1.4 .2-1.4 .4-1.3 .1-.7M644.2 521l1.4-.2 1.4-.2 1.4-.2 1.4-.2 1.3-.2 1.4-.2 1.4-.2 0 0M563.6 537l-1.4 .3-1.3 .4-1.4 .3-1.3 .4-1.4 .4-1.3 .4-1.3 .5-1.3 .6-1.2 .7-1.2 .8-.5 .4M630.6 494.1l1.2-.6 1.3-.7 1.3-.6 1.2-.6 1.3-.6 1.2-.7 1.3-.6 1.2-.6 1.3-.7 1.2-.6 1.2-.7 1.2-.7 1.4-.1 1-.9 .4-1.3 .5-1.3 .4-1.4 .5-1.3 .4-1.3 .4-1.4 .2-.6M615.6 490.3l1.1-.9 1.1-1 1-.9 1.1-.9 1-1 1-.9 1-1 1-1 .9-1 1-1.1 .9-1 .9-1.1 .8-1.1 .9-1.2 .8-1.1 .7-1.2 .7-1.2 .6-1.2 .5-1.4 0-1.4 .8-1.1 1-1 1-1 0 0M569.7 543.3l-1.3 .5-1.3 .6-1.2 .6-1.3 .6-1.3 .6-1.2 .6-1.4 .4-1.3 .3-1.4 0-1.4 0-1.4-.1-1.4-.3-1.4-.3 0 0M594.3 494.4l-.1-1.4-.1-1.4-.1-1.4-.1-1.4-.1-1.4 0-1.4-.1-1.4 0-1.4 0-1.4 0-1.4 .1-1.4 .1-1.4 .1-1.4 .2-1.4 .2-1.4 .4-1.3 .6-1.3 .8-1.1 0 0M579.3 496.9l-.5-1.3-.5-1.3-.5-1.3-.4-1.3-.4-1.4-.4-1.3-.4-1.4-.3-1.3-.4-1.4-.3-1.3-.3-1.4-.3-1.4-.4-1.3-.3-1.4-.4-1.3-.5-1.3-.6-1.3-.7-1.2-.9-1.1-.9-1-.9-1.1-.6-1.3 0 0M627.5 498.1l1.3-.5 1.3-.5 1.3-.5 1.4-.4 1.3-.5 1.3-.4 1.4-.4 1.3-.4 1.4-.3 1.3-.3 1.4-.2 1.4-.2 1.4-.1 1.4-.1 1.4 0 1.4 .1 1.4 .2 1.4 .1 1.4 .2 .7 .1M566.8 506l-1.1-.9-1.2-.8-1.1-.8-1.1-.9-1.2-.8-1.1-.7-1.2-.8-1.2-.7-1.3-.7-1.2-.6-1.3-.5-1.3-.5-1.4-.4-1.3-.4-1.4-.4-1.3-.3-1.4-.3-1.4-.3-1.3-.2-1.4-.3-1.4-.2-.7-.1M604.4 495.1l.2-1.4 .4-1.2M608.5 488.1l.9-1.1 .9-1.1 1-1 .9-1 .9-1.1 1-1 .5-.5M618.5 491.3l1.1-.9 1.1-.8 1.1-.9 1.1-.9 1-.9 1-1 1.1-.9 .9-1 1-1.1 .9-1 .9-1.1 .8-1.1 .8-1.2 .8-1.2 .7-1.2 .6-1.2 .5-1.3 .4-1.4 .2-1.4 0 0M639.7 486.1l.9-1 .8-1.2 .7-1.2 .7-1.2 .5-1.3 .6-1.3 .5-1.3 .5-1.3 .5-1.3 .5-1.3 .2-.7M550.5 474.1l.3-1.4 .2-1.4 .3-1.3 .3-1.4 .4-1.4 .3-1.3 .4-1.4 .4-1.3 .4-1.4 .4-1.3 .4-1.3 .4-1.4 .3-1.4 .2-1.3 .2-1.4 .1-1.4 0-1.4 0-1.4 0-1.4 .2-1.4 .3-1.4-.1-.7M585.8 491.9l-.3-1.4-.2-1.3-.3-1.4-.2-1.4-.2-1.4-.2-1.4 0 0M599.1 494.4l0-1.4 0-1.4 0-1.4 0-1.4 0-1.4 0-1.4 0-1.4 0-.7M562 499l-1-1-1-1-1-.9-1-1-1-1-1-1-1.1-.8-1.3-.5-1.2-.7-1.2-.8-1.1-.9-.9-1-.7-1.2-.5-1.3-.3-1.4 0 0M623.4 539.2l.8 1.2 .7 1.2 .7 1.2 .7 1.3 .6 1.2 .5 1.3 .4 1.4 0 0M595.7 489.7l0-1.4-.1-1.4 0-1.4 0-1.4 0-1.4 0-1.4 .1-1.4 0-1.4 0 0M632.9 499.1l1.4-.3 1.3-.3 1.4-.3 1.4-.3 1.4-.2 1.3-.2 1.4-.1 1.4-.1 1.4-.1 1.4 .1 1.4 0 1.4 .1 1.4 .2 1.4 .1 1.4 .3 0 0M625.6 489.2l1.1-.9 1.1-.9 1-1 1-.9 1-1.1 .9-1 .8-1.1 .8-1.2 .8-1.2 .6-1.2 .6-1.3 .6-1.2 .5-1.4 .4-1.3 .3-1.4 .1-1.4 .1-1.4 0-1.4 .3-1.3 1-1 .6-.3M632.4 502l1.4-.3 1.3-.2 1.4-.2 1.4-.2 1.4-.2 1.4-.1 1.4-.1 1.4-.1 1.4 0 1.4 0 1.4 .1 1.4 .1 1.4 .1 1.4 .2 1.3 .2 .7 .1M618.5 542.3l.5 1.3 .5 1.3 .8 1.1 1.1 .9 1.2 .8 1.2 .7 1.2 .6 1.3 .4 1.1 .9 .6 .4M647.3 480.2l.5-1.4 .5-1.3 .4-1.3 .5-1.3 .4-1.4 .5-1.3 .4-1.3 0 0M634.9 524.2l1.4 .1 1.4 .1 1.4 0 1.4-.1 1.4-.1 1.4-.1 1.4-.2 1.4-.2 1.3-.2 .7-.1M534.5 523.3l-1.4-.1-1.3-.3-1.1-.8-1-1-.9-1.1-.9-1.1-.8-1.1 0 0M579.4 489.4l-.3-1.4-.3-1.3-.3-1.4-.3-1.4-.3-1.3-.3-1.4-.3-1.4-.2-1.4-.3-1.3-.3-1.4-.2-1.4-.3-1.4-.1-1.3 .2-1.4 .5-1.3 .7-1.3 .7-1.1 .4-.6M649.3 524.9l1.4-.3 1.3-.3 1.4-.3 1.4-.3 .6-.2M561.1 531.2l-1.4 .1-1.4 .2-1.4 .2-1.4 .3-1.4 .2-1.3 .3-1.4 .3-1.4 .3-1.3 .3-1.4 .3-1.4 .2-1.4-.1-1.3-.3-.7-.2M564.5 509.4l-1.2-.7-1.2-.6-1.3-.7-1.2-.6-1.3-.6-1.3-.6-1.3-.5-1.3-.6-1.3-.5-1.3-.5-1.3-.4-1.3-.4-1.4-.4-1.3-.4-1.4-.3-1.4-.3-1.4-.2-1.3-.2-1.4-.2-1.4-.1-1.4-.1-1.4 0-.7-.1M566.9 541.2l-1.3 .5-1.3 .4-1.4 .5-1.3 .4-1.4 .4-1.3 .3-1.4 .2-1.4 .2-1.4 .2-1.4 .1-1.4 0-.6-.2M560.2 535.8l-1.3 .3-1.4 .4-1.3 .4-1.4 .4-.6 .3M612.9 545l1 1 0 0M566.8 547.6l-1.1 .8-1.1 .9-.9 1.1-.7 1.2-.8 1.1-.9 1.1-1.3 .5-1.4 0-1.4-.2-.7-.2M582 490.2l-.3-1.4-.3-1.3-.3-1.4-.2-1.4-.2-1.4-.3-1.3-.2-1.4-.2-1.4-.2-1.4-.1-1.4-.1-1.4-.1-1.4 .1-1.4 0 0M634.6 527.6l1.4 .2 1.4 .1 1.4 0 1.4-.1 1.4-.2 1.4-.1 1.3-.2 1.4-.3 1.4-.2 1.4-.3 1.3-.3 1.4-.3 0 0M636.5 520.1l1.4 0 1.4 0 1.4-.1 .7 0M543.4 523.3l-1.4-.3-1.4-.3-1.3-.3-1.4-.3-1.4-.2 0 0M590.4 493.9l-.2-1.4-.2-1.4-.2-1.4-.1-1.4-.1-1.4-.2-1.4-.1-1.4 0-1.4-.1-1.4 0-1.4-.1-1.4 .1-1.4 0-1.4 0-1.4 0-1.4 .1-1.4-.1-1.4-.4-1.3-.5-1.3-.6-1.3-.3-.6M629.9 489.6l1.1-.9 1.1-.9 1-.9 1-1 1-1 .8-1.1 .8-1.2 .7-1.2 .7-1.2 .7-1.2 .5-1.3 .5-1.3 .5-1.4 .4-1.3 .4-1.3 .3-1.4 .4-1.3 .5-1.4 .7-1.2 .9-1 1-1 1-.9 .6-.5M559.5 522l-1.4-.2-1.4-.2-1.3-.3-1.4-.2 0 0M552.8 523.1l-1.3-.2-1.4-.2-1.4-.3-1.4-.2-1.3-.3-1.4-.3-.7-.2M634.3 507.2l1.4-.1 1.4-.1 1.4-.1 1.4-.1 1.4-.1 1.4 0 1.4-.1 .7 0M569.8 496.2l-.6-1.2-.6-1.3-.6-1.3-.5-1.3-.4-1.3-.4-1.4-.3-1.3-.3-1.4-.3-1.4-.2-1.4-.1-1.3-.1-.7M613.6 486.9l1-1 1-1 1-1 1-1 1-1 .9-1 1-1 1-1 .9-1 0 0M548 527.8l-1.4-.2-1.4-.2-1.3-.2-1.4-.3-1.4-.3-1.4-.3-1.3-.2-1.4-.2 0 0M555.7 460.7l.4-1.3 .4-1.4 .3-1.3 .1-1.4 0-1.4-.1-1.4-.1-1.4-.2-1.4 0-.7M565.6 538.2l-1.4 .4-1.3 .4-1.4 .4-.7 .1M637.2 516l1.4 0 .7 0M573.3 546.2l-1.2 .6-1.2 .7-1.2 .7-1.2 .8-1.1 .9-1.1 .9-.9 1-.8 1.2-.7 1.2 0 0M553.3 489.7l0-1.4 0-1.4 .1-1.4 .1-1.4 .1-1.4 .1-1.4 .1-1.4 .2-1.3 .2-1.4 .2-1.4 .3-1.4 .3-1.4 .3-1.3 .3-1.4 .4-1.3 .4-1.4 .4-1.3 .5-1.3 .2-.7M639.9 490.9l1.4-.4 1.3-.4 1.4-.3 1.4-.1 1.4 0 1.4 0 1.4 .1 1.4 .1 1.3 .2 1.4 .2 .7 .1M642.4 517.8l1.4-.1 1.3-.2 1.4-.1 1.4-.1 1.4-.2 1.4-.2 1.4-.2 1.4-.2 1.4-.2 0 0M636.6 504.2l1.4-.2 1.4-.1 1.4-.1 1.4-.1 1.4 0 1.4 0 1.4 0 1.4 0 1.4 .1 1.4 .1 1.4 .2 .7 .1M547.9 531.2l-1.4-.1-1.4-.1-1.4-.3-1.3-.3-1.4-.3-1.3-.4-1.4-.4-.7-.2M656.7 517.7l1.4-.2 1.4-.1 1.4 0 1.4 .1 1.3 .1 1.4-.2 .7-.2M603.1 494.9l.1-1.4 .1-1.4 .1-1.4 .1-1.4 0-.7M562.1 533.1l-1.4 .2-1.3 .3-1.4 .3-1.4 .3-1.3 .3-1.4 .4-1.3 .4-1.3 .5-1.3 .6-1.2 .7-1.2 .7-1.1 .8 0 0M613.8 489.3l1.1-1 1-.9 1-1 1-1 1-.9 1-1 0 0M576.5 497.9l-.6-1.3-.5-1.3-.6-1.3-.5-1.3-.4-1.3-.4-1.3-.4-1.4-.4-1.3-.3-1.4-.4-1.4-.3-1.3-.3-1.4-.4-1.3-.3-1.4-.4-1.3-.5-1.4-.5-1.3-.6-1.2-.5-.5M546.8 520.9l-1.4-.3-1.3-.3-1.4-.4-1.4-.3-1.3-.4-1.4-.4-1.3-.3-1.4-.4-1.3-.3-1.4-.3-1.4-.2 0 0M555.1 501l-1.3-.5-1.3-.5-1.3-.5-1.4-.4-1.3-.4-1.4-.3-1.4-.3-1.3-.3-1.4-.2-1.4-.2-1.4-.2-1.4-.2-.7-.1M536.2 526.4l-1.4-.1-1.4 0-1.3 .4-1.4 .4-1.3-.3-1.2-.7 0 0M582.9 495.4l-.4-1.3-.3-1.4 0 0M623.5 479.8l1-1 .9-1.1 .9-1 .9-1.1 .9-1.1 .9-1.1 .8-1.1 0 0M620.9 541l.7 1.3 .8 1.2 .7 1.1 .9 1.1 .8 1.1 0 0M555.7 479.2l.2-1.4 .2-1.3 .2-1.4 .3-1.4 .3-1.3 .4-1.4 0 0M561 529.4l-1.4 .1-1.4 .1-1.4 .1-1.4 .2-1.4 .1-1.4 .1-1.4 .2-1.4 .1-1.4 0-1.4 0-1.4-.1-1.4-.2 0 0M610 544.8l.5 .4M620.7 492.3l1.1-.8 1.2-.8 1.1-.8 0 0M533.6 524.6l-1.4 .2-1.3 .4-1.4-.3-1-.9-.5-.5M557.7 491.8l-.4-1.3-.2-1.4-.2-1.4-.1-1.4 0-1.4 0-1.4 0-1.4 .1-1.4 0 0M551.7 489.3l-.2-1.3 0-1.4 0-1.4 .1-1.4 .1-1.4 0 0M574.4 472.8l-.6-1.2-.9-1.1-.8-1.2-.5-1.3-.1-.6M654.4 509.1l1.4 .2 1.4 .2 1.3 .5 1.3 .6 1.2 .5 0 0M568.4 503.6l-1-.9-1-1-1-1 0 0M639.7 495.8l1.4-.2 1.4-.2 1.4-.1 1.4 0 1.4 0 1.4 0 1.4 .1 1.4 .2 1.4 .2 1.3 .2 0 0M553 493.6l-1.4-.4-1.3-.4-1.4-.4-1.3-.3-1.4-.4-1.3-.4-1.4-.4-1.3-.4 0 0M545.6 503l-1.4-.3-1.3-.2-1.4-.2-1.4-.2-1.4-.1-1.4-.1-1.4 0-1.4-.1-1.4-.1 0 0M630.6 499.8l1.3-.4 0 0M646.9 506.7l1.4 .1 1.4 0 1.4 .1 1.4 .1 1.4 .2 .7 .1M644.4 483.8l.6-1.2 .6-1.3 .5-1.3 .5-1.3 0 0M560.5 540.4l-1.3 .3-1.4 .4-1.4 .4-1.3 .3-1.3 .5 0 0M553.8 470.6l.4-1.4 .4-1.3 .4-1.4 .4-1.3 .2-.7" fill="none" stroke="#000" stroke-width="0.95" stroke-linejoin="round"/><path d="M542.9 509.6l3-.2-.8 2.3zM645.6 505.1l-2.8 1.4 0-2.6zM641.9 478.2l-.1 3.1-2.3-1.1zM563.2 486.5l1.8 2.4-2.5 .6zM548.7 507l3-.3-.8 2.4zM628.1 540.1l-2.6-1.7 2.1-1.4zM569.1 554.4l2-2.3 1.1 2.3zM542.1 515.8l3-.3-.8 2.4zM653.4 521.3l-2.5 1.8-.4-2.5zM646.1 509.9l-2.7 1.4-.1-2.5zM552.7 515.3l3-.4-.7 2.4zM546.3 525.4l2.9-.9-.3 2.5zM598.4 479.2l1.2 2.8-2.5-.1zM576.6 524.3l2.9-.9-.4 2.5zM655 514.7l-2.5 1.7-.4-2.5zM529.5 515.6l2.7-1.4 .1 2.5zM554.1 524l2.9-1-.3 2.5zM586.5 477.8l1.4 2.7-2.5 .1zM602.7 532.1l-1.3-2.8 2.5 0zM648 511.9l-2.7 1.4-.2-2.5zM582.4 479.3l1.6 2.6-2.5 .3zM568.3 483.7l1.8 2.4-2.4 .6zM559.9 483.8l1.5 2.6-2.5 .3zM651.1 520l-2.5 1.7-.4-2.5zM555.5 539.2l2.3-2 .7 2.4zM645.6 486.5l-1.9 2.4-1.2-2.2zM628 478l-.8 2.9-1.9-1.6zM560.1 547.5l2.1-2.2 1 2.4zM593.7 480.4l1.3 2.8-2.6 0zM600.7 513.9l.4 3-2.4-.7zM574.6 480.8l1.8 2.4-2.4 .6zM642.2 493.6l-2.5 1.8-.5-2.5zM553.2 497.5l3-.1-1 2.4zM611.2 484.9l-.8 2.9-1.9-1.6zM629.7 480.8l-.8 2.9-2-1.6zM619.9 523.4l-3.1 .1 1.1-2.3zM644.4 477.6l.1 3.1-2.3-1zM554.9 457.2l.4 3-2.4-.7zM584.7 485.7l1.7 2.6-2.5 .4zM599.1 487.4l1.3 2.7-2.6 0zM552.3 491.3l3-.2-.8 2.3zM626.6 544.7l-2.5-1.8 2.2-1.3zM595.6 482l1.3 2.8-2.6 0zM612.9 495.7l-1.4 2.7-1.6-2zM645.3 497.2l-2.7 1.4-.1-2.5zM635.9 476.2l0 3-2.3-1.1zM644.2 500.6l-2.7 1.4-.2-2.5zM623.7 548.4l-3-.5 1.4-2.1zM649.6 473.6l.3 3-2.4-.8zM643.3 524.1l-2.7 1.5-.2-2.5zM528.7 520.1l2.9 1.1-1.9 1.7zM576.4 475l1.8 2.5-2.5 .5zM654.7 523.7l-2.4 1.8-.5-2.4zM550.7 532.9l2.5-1.8 .5 2.5zM548.5 502.4l3-.3-.7 2.4zM558.2 543.9l2.4-1.9 .6 2.4zM554.9 537.3l2.2-2 .8 2.4zM614.3 546.6l-2.7-1.4 1.9-1.6zM561 554.4l.6-2.9 2 1.4zM580 479.2l1.7 2.5-2.5 .4zM644.3 527.3l-2.6 1.6-.3-2.5zM640 520.1l-2.8 1.3 0-2.6zM537.9 522.1l3-.6-.5 2.4zM589.1 478.5l1.4 2.8-2.6 0zM640.3 475.1l.2 3-2.3-.9zM555.4 521.3l2.9-.8-.4 2.5zM546 521.9l2.9-.7-.5 2.5zM628.7 536.4l-2.7-1.3 1.9-1.7zM641.3 506.7l-2.7 1.4-.2-2.5zM566.2 486.4l1.9 2.4-2.4 .6zM619.5 481l-1 2.8-1.8-1.8zM540.4 526.5l3-.7-.5 2.5zM556.9 452.5l1.3 2.8-2.6 0zM561.5 539.3l2.4-1.9 .6 2.4zM639.3 516l-2.7 1.3-.1-2.5zM566.8 550.2l1.5-2.6 1.5 2.1zM610.8 533.7l-2.7-1.4 1.9-1.6zM554.7 474.4l.8 3-2.5-.5zM649.5 489.7l-2.7 1.2 0-2.5zM591.5 493.2l1.6 2.5-2.5 .4zM650.7 516.9l-2.6 1.6-.3-2.5zM647.1 503.6l-2.8 1.3 0-2.5zM540.3 529.9l3-.6-.6 2.5zM663.6 517.6l-2.8 1 .2-2.5zM603.4 490.1l1.1 2.8-2.5-.2zM551.9 535.5l2.3-2 .7 2.4zM617.9 485.5l-1.1 2.8-1.8-1.9zM570.9 531.1l2.6-1.5 .2 2.5zM572 484.7l1.9 2.3-2.4 .7zM537.3 518.5l3-.5-.6 2.4zM597.9 532.2l-.1-3 2.3 .9zM544.4 497.8l3-.6-.6 2.4zM530.1 527.4l2.2-2.1 .8 2.4zM610.7 506.4l-1.9 2.4-1.1-2.3zM582.2 492.8l1.9 2.3-2.4 .7zM628.1 474.5l-.8 3-1.9-1.6zM574.4 515.8l3 .1-1.1 2.2zM623.5 545.2l-2.6-1.6 2.2-1.4zM556.7 473l.7 3-2.4-.5zM551.2 530.3l2.7-1.6 .2 2.6zM611.6 546.1l-2.9-.8 1.6-2zM623.5 490.3l-1.5 2.7-1.4-2.1zM621.1 517.6l-3 .7 .5-2.5zM528.2 524.7l2.9-.7-.5 2.5zM556.7 484.2l1.4 2.7-2.5 .1zM551.6 483.8l1.2 2.8-2.6-.1zM571.3 468.2l2.6 1.5-2 1.5zM659.8 510.4l-3 .4 .8-2.4zM606.5 513.5l-1.5 2.7-1.5-2.1zM565.9 501.2l2.8 1-1.7 1.8zM565.8 535.1l2.5-1.8 .5 2.5zM648.8 495.3l-2.8 1.3 0-2.6zM545.6 491.5l3-.5-.7 2.5zM537.3 501.9l2.9-1-.2 2.5zM632.6 499.2l-2.3 2-.7-2.4zM653.2 507.1l-2.8 1 .1-2.5zM646.4 479.4l.1 3-2.3-1zM555.1 541.8l2.4-1.9 .6 2.4zM555.3 465.2l.5 3-2.4-.7zM573.6 508l2.9 .9-1.6 1.9z" fill="#000"/>
<g mask="url(#spk)"><g filter="url(#bl)"><path d="M394.1,730.0 L398.2,728.5 L404.3,723.0 L408.5,716.9 L412.6,712.9 L418.7,719.5 L425.3,728.3 L427.3,738.8 L425.3,752.0 L421.2,761.2 L414.6,763.4 L408.5,759.0 L402.3,754.6 L394.1,751.3 L391.0,745.8 L392.0,738.8Z" fill="#ff9896" /><path d="M391.0,739.9 L396.5,739.3 L397.8,747.2 L392.0,748.7Z" fill="#ff7f0e" /><path d="M414.6,709.2 L421.8,702.6 L429.0,699.3 L437.2,694.9 L441.3,692.3 L447.5,696.0 L455.7,695.4 L458.2,699.3 L456.7,710.3 L458.2,718.6 L454.0,730.0 L447.5,734.9 L437.2,732.7 L426.9,726.1 L418.7,719.5 L412.6,712.9Z" fill="#8c564b" /><path d="M416.7,671.9 L418.7,673.0 L416.7,684.0 L416.3,699.3 L417.7,709.2 L413.6,709.2 L412.2,694.9 L413.8,679.6Z" fill="#98df8a" /><path d="M425.3,728.3 L437.2,732.7 L447.5,734.9 L454.0,732.2 L456.1,745.4 L452.0,754.6 L443.8,759.0 L431.0,759.0 L424.9,752.4 L427.3,738.8Z" fill="#e377c2" /><path d="M421.2,761.2 L431.0,759.0 L443.8,759.0 L452.0,755.9 L447.5,761.2 L439.7,767.8 L436.2,778.7 L426.9,780.9 L420.8,778.7 L417.1,770.0 L414.6,763.4Z" fill="#d62728" /><path d="M460.8,719.5 L464.3,715.8 L465.5,711.4 L470.1,710.3 L476.2,707.0 L482.4,703.7 L486.9,710.3 L489.0,723.5 L486.9,734.9 L480.3,741.4 L472.1,743.6 L466.0,739.3 L463.9,727.8Z" fill="#b5bd61" /><path d="M496.8,694.9 L500.9,690.5 L504.4,687.9 L505.0,694.9 L502.1,698.4Z" fill="#ffbb78" /><path d="M468.4,712.9 L471.7,712.0 L472.5,717.3 L469.0,718.2Z" fill="#ffbb78" /><path d="M489.0,723.9 L496.8,728.3 L504.4,723.9 L505.4,732.2 L511.5,734.4 L519.3,738.4 L521.4,742.1 L517.7,748.0 L509.5,751.3 L501.3,754.6 L494.7,753.5 L484.4,752.4 L480.3,748.0 L480.7,741.4 L486.9,734.9Z" fill="#279e68" /><path d="M456.1,754.6 L462.3,750.2 L468.0,743.6 L476.2,745.8 L479.3,750.9 L478.3,758.6 L474.6,767.8 L470.5,763.4 L466.4,770.0 L462.9,766.7 L459.8,756.8Z" fill="#aa40fc" /><path d="M476.2,747.2 L480.7,750.9 L481.8,758.6 L482.8,770.0 L479.7,774.4 L474.6,767.8 L477.7,758.6Z" fill="#17becf" /></g></g>
<g mask="url(#spk2)"><g filter="url(#bl)"><path d="M454.0,730.0 L458.2,718.6 L460.8,719.5 L464.3,721.7 L466.4,738.8 L462.3,750.2 L456.1,754.6 L455.1,743.2Z" fill="#1f77b4" /><path d="M482.4,703.7 L482.4,697.1 L488.5,694.9 L496.8,694.9 L500.9,691.0 L504.4,689.5 L505.0,710.3 L504.4,723.9 L496.8,728.3 L489.0,723.9 L486.9,710.3Z" fill="#aec7e8" /><path d="M491.0,708.1 L500.5,706.3 L502.9,717.3 L494.7,721.7 L489.8,717.3Z" fill="#c5b0d5" /></g></g>
<g mask="url(#spk)"><g filter="url(#bl)"><path d="M547.3,729.7 L551.4,728.2 L557.5,722.6 L561.6,716.5 L565.7,712.5 L571.9,719.1 L578.5,727.9 L580.5,738.5 L578.5,751.8 L574.4,761.1 L567.8,763.3 L561.6,758.9 L555.5,754.4 L547.3,751.1 L544.2,745.6 L545.2,738.5Z" fill="#ff9896" /><path d="M544.2,739.7 L549.7,739.0 L551.0,746.9 L545.2,748.5Z" fill="#ff7f0e" /><path d="M567.8,708.7 L575.0,702.1 L582.2,698.8 L590.4,694.4 L594.5,691.7 L600.6,695.5 L608.8,694.8 L611.3,698.8 L609.9,709.8 L611.3,718.2 L607.2,729.7 L600.6,734.6 L590.4,732.4 L580.1,725.7 L571.9,719.1 L565.7,712.5Z" fill="#8c564b" /><path d="M569.8,671.2 L571.9,672.3 L569.8,683.3 L569.4,698.8 L570.9,708.7 L566.8,708.7 L565.3,694.4 L567.0,678.9Z" fill="#98df8a" /><path d="M578.5,727.9 L590.4,732.4 L600.6,734.6 L607.2,731.9 L609.2,745.2 L605.1,754.4 L596.9,758.9 L584.2,758.9 L578.1,752.2 L580.5,738.5Z" fill="#e377c2" /><path d="M574.4,761.1 L584.2,758.9 L596.9,758.9 L605.1,755.8 L600.6,761.1 L592.8,767.7 L589.3,778.7 L580.1,780.9 L574.0,778.7 L570.3,769.9 L567.8,763.3Z" fill="#d62728" /><path d="M614.0,719.1 L617.5,715.4 L618.7,710.9 L623.2,709.8 L629.4,706.5 L635.5,703.2 L640.0,709.8 L642.1,723.1 L640.0,734.6 L633.5,741.2 L625.3,743.4 L619.1,739.0 L617.0,727.5Z" fill="#b5bd61" /><path d="M649.9,694.4 L654.0,690.0 L657.5,687.3 L658.1,694.4 L655.2,697.9Z" fill="#ffbb78" /><path d="M621.6,712.5 L624.8,711.6 L625.7,716.9 L622.2,717.8Z" fill="#ffbb78" /><path d="M642.1,723.5 L649.9,727.9 L657.5,723.5 L658.5,731.9 L664.7,734.1 L672.4,738.1 L674.5,741.9 L670.8,747.8 L662.6,751.1 L654.4,754.4 L647.8,753.3 L637.6,752.2 L633.5,747.8 L633.9,741.2 L640.0,734.6Z" fill="#279e68" /><path d="M609.2,754.4 L615.4,750.0 L621.1,743.4 L629.4,745.6 L632.4,750.7 L631.4,758.4 L627.7,767.7 L623.6,763.3 L619.5,769.9 L616.0,766.6 L612.9,756.7Z" fill="#aa40fc" /><path d="M629.4,746.9 L633.9,750.7 L634.9,758.4 L635.9,769.9 L632.8,774.3 L627.7,767.7 L630.8,758.4Z" fill="#17becf" /></g></g>
<g mask="url(#spk2)"><g filter="url(#bl)"><path d="M607.2,729.7 L611.3,718.2 L614.0,719.1 L617.5,721.3 L619.5,738.5 L615.4,750.0 L609.2,754.4 L608.2,743.0Z" fill="#1f77b4" /><path d="M635.5,703.2 L635.5,696.6 L641.7,694.4 L649.9,694.4 L654.0,690.4 L657.5,688.9 L658.1,709.8 L657.5,723.5 L649.9,727.9 L642.1,723.5 L640.0,709.8Z" fill="#aec7e8" /><path d="M644.1,707.6 L653.6,705.9 L656.0,716.9 L647.8,721.3 L642.9,716.9Z" fill="#c5b0d5" /></g></g>
<g mask="url(#spk3)"><g filter="url(#bl)"><path d="M45.0,42.0 L56.7,39.7 L55.5,44.4 L54.4,51.4 L47.4,49.0Z" fill="#8c564b" /><path d="M80.1,70.1 L91.8,65.4 L103.4,60.7 L115.6,58.4 L116.3,65.9 L103.4,71.2 L89.4,76.6 L78.9,79.4Z" fill="#aa40fc" /></g></g>
<g mask="url(#spk2)"><g filter="url(#bl)"><path d="M19.3,43.2 L35.7,46.7 L49.7,49.0 L56.7,60.7 L53.2,74.7 L38.0,72.4 L24.0,68.2 L18.2,56.0Z" fill="#ff9896" /><path d="M26.4,107.4 L38.0,98.6 L49.7,102.8 L61.4,112.1 L60.2,126.1 L49.7,128.9 L33.4,121.9 L25.9,116.8Z" fill="#ff9896" /><path d="M54.4,44.4 L66.1,38.5 L80.1,36.2 L80.1,42.0 L61.4,49.0 L55.5,51.4Z" fill="#8c564b" /><path d="M84.7,49.0 L103.4,45.5 L118.6,46.7 L119.8,60.7 L108.1,63.5 L91.8,67.7 L82.4,70.5 L80.1,60.7Z" fill="#b5bd61" /><path d="M87.1,82.2 L101.1,78.5 L115.1,81.7 L124.5,91.1 L119.8,102.8 L108.1,105.6 L96.4,100.9 L87.1,91.5Z" fill="#b5bd61" /><path d="M112.8,70.5 L126.8,67.7 L143.1,69.1 L152.9,72.9 L145.9,79.9 L126.8,81.0 L112.8,78.7Z" fill="#aec7e8" /><path d="M112.8,84.5 L129.1,83.1 L145.5,86.9 L148.3,93.9 L131.5,95.1 L117.4,92.7Z" fill="#aec7e8" /><path d="M110.4,89.2 L119.8,84.5 L122.6,93.9 L113.2,96.2Z" fill="#c5b0d5" /><path d="M54.4,75.2 L68.4,77.5 L80.1,82.2 L90.6,86.9 L90.6,95.3 L80.1,96.2 L68.4,91.5 L54.4,86.9Z" fill="#1f77b4" /><path d="M84.7,121.9 L89.4,120.5 L91.1,131.3 L87.3,131.3Z" fill="#17becf" /></g></g>
<g mask="url(#spk)"><g filter="url(#bl)"><path d="M33.4,19.1 L39.2,17.5 L41.5,24.5 L53.2,31.5 L54.4,37.4 L48.5,38.8 L38.0,28.5 L34.5,24.5Z" fill="#98df8a" /><path d="M57.9,49.0 L68.4,40.9 L85.9,33.9 L90.6,40.9 L85.9,60.7 L78.9,70.5 L66.1,71.2 L60.2,63.5 L56.7,53.7Z" fill="#8c564b" /><path d="M42.7,84.1 L52.0,79.4 L66.1,79.9 L80.1,88.3 L87.1,102.8 L80.1,105.6 L68.4,107.9 L64.2,114.9 L54.4,107.9 L45.0,96.2Z" fill="#8c564b" /><path d="M35.7,49.0 L47.4,47.9 L53.2,52.5 L52.0,60.7 L42.7,59.8 L36.9,56.0Z" fill="#d62728" /><path d="M18.9,79.9 L26.4,73.6 L36.2,73.8 L45.0,77.1 L47.8,84.1 L43.2,93.9 L33.4,97.2 L24.0,93.9 L17.9,86.4Z" fill="#d62728" /><path d="M45.0,107.9 L56.7,112.1 L61.9,119.1 L59.1,128.5 L50.9,129.9 L45.0,121.9Z" fill="#d62728" /><path d="M48.5,51.4 L54.4,53.7 L63.7,67.7 L71.2,77.1 L68.9,82.2 L59.1,82.2 L52.0,72.4 L47.4,60.7Z" fill="#e377c2" /><path d="M35.7,79.9 L45.0,77.5 L50.2,91.1 L43.2,98.6 L33.4,96.2Z" fill="#e377c2" /><path d="M117.4,49.0 L131.5,45.5 L150.1,46.7 L158.6,52.5 L155.3,59.8 L140.8,63.5 L122.1,63.5 L117.4,58.4Z" fill="#279e68" /><path d="M94.1,72.9 L102.3,69.1 L108.6,72.4 L106.2,82.2 L96.9,82.2 L91.8,77.5Z" fill="#279e68" /><path d="M106.2,96.2 L117.9,93.4 L127.3,98.6 L124.9,110.2 L117.9,117.2 L110.9,114.9 L107.2,105.6Z" fill="#279e68" /><path d="M80.1,73.8 L91.8,69.1 L103.4,64.0 L115.6,60.7 L115.1,64.5 L103.4,68.2 L90.6,73.3 L80.5,77.1Z" fill="#aa40fc" /><path d="M87.1,100.9 L94.1,98.1 L96.9,107.9 L90.8,114.9 L87.1,110.2Z" fill="#aa40fc" /><path d="M73.1,112.6 L79.1,112.1 L80.5,126.1 L75.9,127.5 L73.1,119.1Z" fill="#aa40fc" /><path d="M146.6,70.1 L160.0,72.4 L150.1,77.5Z" fill="#ffbb78" /><path d="M145.5,91.1 L160.0,94.6 L149.0,97.4Z" fill="#ffbb78" /><path d="M116.3,37.4 L118.8,39.2 L118.1,45.8 L116.3,44.8Z" fill="#ffbb78" /><path d="M14.7,62.6 L24.0,63.8 L33.8,65.4 L32.7,69.1 L21.7,67.7 L14.7,65.4Z" fill="#ff7f0e" /><path d="M22.8,102.8 L36.2,100.9 L35.0,104.2 L24.0,105.3Z" fill="#ff7f0e" /><path d="M63.7,80.6 L80.1,85.2 L88.2,89.2 L87.1,92.2 L80.1,91.1 L63.7,84.1Z" fill="#1f77b4" /><path d="M91.8,104.2 L100.2,102.8 L102.5,112.1 L99.2,119.6 L94.6,114.9Z" fill="#17becf" /></g></g>
<g mask="url(#spk2)"><g filter="url(#bl)"><path d="M179.3,43.2 L195.7,46.7 L207.4,49.0 L216.7,51.4 L217.9,75.2 L202.7,75.2 L184.0,70.5 L177.0,60.7Z" fill="#2ca02c" /><path d="M247.1,46.7 L263.4,46.7 L277.0,44.4 L277.9,37.4 L279.8,39.7 L282.1,47.9 L300.8,47.9 L316.0,50.2 L317.2,56.0 L310.1,60.7 L291.5,63.1 L277.4,64.5 L263.4,66.8 L249.4,72.9 L244.7,60.7Z" fill="#2ca02c" /><path d="M231.9,112.1 L237.7,109.8 L240.1,123.8 L236.6,126.1 L231.9,121.4Z" fill="#ff7f0e" /><path d="M242.4,121.4 L247.1,123.8 L248.2,130.8 L244.7,129.6Z" fill="#ff7f0e" /><path d="M182.8,104.2 L193.4,102.3 L196.2,105.1 L184.0,105.8Z" fill="#1f77b4" /></g></g>
<g mask="url(#spk)"><g filter="url(#bl)"><path d="M193.4,21.0 L199.2,18.2 L202.7,25.7 L212.0,31.5 L213.2,37.4 L207.4,38.8 L198.0,29.2 L194.5,25.7Z" fill="#2ca02c" /><path d="M215.5,46.7 L228.4,39.7 L244.7,34.6 L249.9,42.0 L248.2,60.7 L241.2,75.2 L229.6,80.3 L221.9,71.0 L217.9,58.4Z" fill="#2ca02c" /><path d="M186.4,107.9 L198.0,103.2 L209.7,104.2 L221.4,109.8 L220.2,123.8 L209.7,128.5 L195.7,121.9 L186.4,114.9Z" fill="#2ca02c" /><path d="M195.7,49.5 L205.0,48.6 L212.0,52.5 L219.1,65.4 L226.1,79.4 L228.4,91.1 L224.2,103.2 L221.9,108.6 L216.7,107.4 L214.4,95.8 L209.7,81.7 L202.7,68.2 L195.7,56.5Z" fill="#ff7f0e" /><path d="M174.7,61.9 L186.4,63.5 L195.7,66.6 L193.4,70.5 L181.7,67.0 L174.7,64.2Z" fill="#ff7f0e" /><path d="M251.8,72.9 L263.4,69.1 L282.1,70.1 L300.8,70.1 L318.6,72.4 L310.1,76.1 L291.5,79.4 L272.8,80.8 L254.1,81.0Z" fill="#ff7f0e" /><path d="M178.2,79.9 L186.4,74.3 L200.4,77.1 L216.7,81.7 L230.7,84.5 L240.1,89.2 L240.1,102.8 L228.4,104.2 L216.7,100.9 L202.7,95.1 L188.7,91.5 L179.3,86.9Z" fill="#1f77b4" /><path d="M240.1,84.5 L258.8,83.1 L275.1,84.5 L293.8,86.9 L310.1,91.1 L318.6,94.8 L307.8,97.4 L291.5,96.2 L282.1,100.9 L277.9,114.9 L272.8,117.2 L268.1,107.9 L258.8,103.2 L256.9,117.2 L251.8,117.2 L247.1,105.6 L240.1,98.6Z" fill="#1f77b4" /></g></g>
<g mask="url(#spk2)"><g filter="url(#bl)"><path d="M213.2,79.4 L224.9,80.6 L228.4,91.1 L224.2,103.2 L221.9,108.6 L216.7,107.4 L214.4,95.8Z" fill="#ff7f0e" /></g></g>
<path d="M353.7,38.0 L372.2,24.8 L372.3,49.0 L354.1,62.6Z" fill="#ececec" stroke="#e2e2e2" stroke-width="0.3"/>
<path d="M372.2,24.8 L402.0,32.0 L401.0,55.6 L372.3,49.0Z" fill="#efefef" stroke="#e2e2e2" stroke-width="0.3"/>
<path d="M354.1,62.6 L372.3,49.0 L401.0,55.6 L385.7,72.0Z" fill="#f1f1f1" stroke="#e2e2e2" stroke-width="0.3"/>
<path d="M359.8 33.6L360.1 58.1M353.8 46.1L372.2 32.8M365.9 29.3L366.1 53.6M354.0 54.2L372.3 40.8M382.0 27.2L381.8 51.2M372.2 32.8L401.7 39.8M391.9 29.6L391.2 53.4M372.3 40.8L401.3 47.6M360.1 58.1L390.7 66.6M364.5 65.7L381.8 51.2M366.1 53.6L395.8 61.2M375.0 68.8L391.2 53.4" stroke="#d4d4d4" stroke-width="0.45" fill="none"/>
<path d="M354.1 62.6L385.7 72.0L401.0 55.6L402.0 32.0" stroke="#777" stroke-width="0.45" fill="none"/>
<path d="M353.7 38.0L372.2 24.8L402.0 32.0M353.7 38.0L354.1 62.6" stroke="#d0d0d0" stroke-width="0.4" fill="none"/>
<g mask="url(#spk3)"><path d="M355.2,40.0 L373.7,39.0 L373.7,53.0 L361.7,55.0 L355.7,53.0Z" fill="#1f77b4" /><path d="M355.7,46.0 L359.7,46.0 L359.7,56.0 L355.7,56.0Z" fill="#ff7f0e" /></g>
<g mask="url(#spk0)"><path d="M356.2,53.5 L360.5,53.2 L360.9,59.0 L358.2,61.5 L356.2,61.0Z" fill="#1f77b4" /><path d="M358.7,54.8 L384.2,63.6 L383.7,65.6 L358.7,58.0Z" fill="#2ca02c" /></g>
<path d="M407.0,65.5 L425.5,52.3 L425.6,76.5 L407.4,90.1Z" fill="#ececec" stroke="#e2e2e2" stroke-width="0.3"/>
<path d="M425.5,52.3 L455.3,59.5 L454.3,83.1 L425.6,76.5Z" fill="#efefef" stroke="#e2e2e2" stroke-width="0.3"/>
<path d="M407.4,90.1 L425.6,76.5 L454.3,83.1 L439.0,99.5Z" fill="#f1f1f1" stroke="#e2e2e2" stroke-width="0.3"/>
<path d="M413.1 61.1L413.4 85.6M407.1 73.6L425.5 60.3M419.2 56.8L419.4 81.1M407.3 81.7L425.6 68.3M435.3 54.7L435.1 78.7M425.5 60.3L455.0 67.3M445.2 57.1L444.5 80.9M425.6 68.3L454.6 75.1M413.4 85.6L444.0 94.1M417.8 93.2L435.1 78.7M419.4 81.1L449.1 88.7M428.3 96.3L444.5 80.9" stroke="#d4d4d4" stroke-width="0.45" fill="none"/>
<path d="M407.4 90.1L439.0 99.5L454.3 83.1L455.3 59.5" stroke="#777" stroke-width="0.45" fill="none"/>
<path d="M407.0 65.5L425.5 52.3L455.3 59.5M407.0 65.5L407.4 90.1" stroke="#d0d0d0" stroke-width="0.4" fill="none"/>
<g mask="url(#spk3)"><path d="M417.0,73.5 L437.0,70.5 L437.0,78.5 L419.0,78.5Z" fill="#1f77b4" /><path d="M425.0,80.5 L437.0,82.5 L435.0,85.5 L425.0,84.5Z" fill="#ff7f0e" /></g>
<g mask="url(#spk2)"><path d="M423.0,72.5 L435.0,69.5 L443.0,71.5 L439.0,78.5 L427.0,79.5Z" fill="#2ca02c" /><path d="M436.0,70.5 L447.0,69.5 L449.0,74.5 L447.0,81.5 L437.0,80.5Z" fill="#ff7f0e" /></g>
<g mask="url(#spk0)"><path d="M409.8,80.5 L417.0,78.5 L425.0,76.5 L431.0,77.5 L432.0,81.5 L427.0,85.5 L419.0,87.5 L410.0,89.0Z" fill="#1f77b4" /></g>
<path d="M463.1,37.4 L481.6,24.2 L481.7,48.4 L463.5,62.0Z" fill="#ececec" stroke="#e2e2e2" stroke-width="0.3"/>
<path d="M481.6,24.2 L511.4,31.4 L510.4,55.0 L481.7,48.4Z" fill="#efefef" stroke="#e2e2e2" stroke-width="0.3"/>
<path d="M463.5,62.0 L481.7,48.4 L510.4,55.0 L495.1,71.4Z" fill="#f1f1f1" stroke="#e2e2e2" stroke-width="0.3"/>
<path d="M469.2 33.0L469.5 57.5M463.2 45.5L481.6 32.2M475.3 28.7L475.5 53.0M463.4 53.6L481.7 40.2M491.4 26.6L491.2 50.6M481.6 32.2L511.1 39.2M501.3 29.0L500.6 52.8M481.7 40.2L510.7 47.0M469.5 57.5L500.1 66.0M473.9 65.1L491.2 50.6M475.5 53.0L505.2 60.6M484.4 68.2L500.6 52.8" stroke="#d4d4d4" stroke-width="0.45" fill="none"/>
<path d="M463.5 62.0L495.1 71.4L510.4 55.0L511.4 31.4" stroke="#777" stroke-width="0.45" fill="none"/>
<path d="M463.1 37.4L481.6 24.2L511.4 31.4M463.1 37.4L463.5 62.0" stroke="#d0d0d0" stroke-width="0.4" fill="none"/>
<g mask="url(#spk3)"><path d="M469.1,46.4 L483.1,45.4 L483.1,53.4 L471.1,53.4Z" fill="#1f77b4" /></g>
<g mask="url(#spk2)"><path d="M474.1,49.4 L491.1,45.9 L505.1,46.4 L503.1,49.9 L491.1,52.9 L477.1,54.4Z" fill="#ff7f0e" /></g>
<g mask="url(#spk0)"><path d="M465.9,48.4 L471.1,47.4 L474.1,51.4 L474.1,57.4 L468.1,59.9 L465.9,58.4Z" fill="#1f77b4" /><path d="M469.1,54.9 L492.1,57.9 L492.1,59.7 L469.1,57.9Z" fill="#2ca02c" /></g>
<path d="M524.0,37.0 L542.5,23.8 L542.6,48.0 L524.4,61.6Z" fill="#ececec" stroke="#e2e2e2" stroke-width="0.3"/>
<path d="M542.5,23.8 L572.3,31.0 L571.3,54.6 L542.6,48.0Z" fill="#efefef" stroke="#e2e2e2" stroke-width="0.3"/>
<path d="M524.4,61.6 L542.6,48.0 L571.3,54.6 L556.0,71.0Z" fill="#f1f1f1" stroke="#e2e2e2" stroke-width="0.3"/>
<path d="M530.1 32.6L530.4 57.1M524.1 45.1L542.5 31.8M536.2 28.3L536.4 52.6M524.3 53.2L542.6 39.8M552.3 26.2L552.1 50.2M542.5 31.8L572.0 38.8M562.2 28.6L561.5 52.4M542.6 39.8L571.6 46.6M530.4 57.1L561.0 65.6M534.8 64.7L552.1 50.2M536.4 52.6L566.1 60.2M545.3 67.8L561.5 52.4" stroke="#d4d4d4" stroke-width="0.45" fill="none"/>
<path d="M524.4 61.6L556.0 71.0L571.3 54.6L572.3 31.0" stroke="#777" stroke-width="0.45" fill="none"/>
<path d="M524.0 37.0L542.5 23.8L572.3 31.0M524.0 37.0L524.4 61.6" stroke="#d0d0d0" stroke-width="0.4" fill="none"/>
<g mask="url(#spk3)"><path d="M529.0,47.0 L544.0,39.0 L548.0,45.0 L532.0,53.0Z" fill="#1f77b4" /></g>
<g mask="url(#spk2)"><path d="M525.0,57.0 L529.0,56.0 L529.0,61.0 L525.0,61.0Z" fill="#ff7f0e" /></g>
<g mask="url(#spk)"><path d="M554.0,37.0 L562.0,34.5 L569.0,33.0 L570.0,36.0 L562.0,38.5 L555.0,41.0Z" fill="#ff7f0e" /></g>
<g mask="url(#spk0)"><path d="M525.3,60.0 L534.0,54.0 L544.0,48.0 L554.0,43.0 L564.0,39.0 L570.0,38.3 L568.8,34.0 L560.0,36.0 L550.0,40.0 L540.0,45.5 L529.2,52.4Z" fill="#1f77b4" /></g>
<path d="M577.0,64.5 L595.5,51.3 L595.6,75.5 L577.4,89.1Z" fill="#ececec" stroke="#e2e2e2" stroke-width="0.3"/>
<path d="M595.5,51.3 L625.3,58.5 L624.3,82.1 L595.6,75.5Z" fill="#efefef" stroke="#e2e2e2" stroke-width="0.3"/>
<path d="M577.4,89.1 L595.6,75.5 L624.3,82.1 L609.0,98.5Z" fill="#f1f1f1" stroke="#e2e2e2" stroke-width="0.3"/>
<path d="M583.1 60.1L583.4 84.6M577.1 72.6L595.5 59.3M589.2 55.8L589.4 80.1M577.3 80.7L595.6 67.3M605.3 53.7L605.1 77.7M595.5 59.3L625.0 66.3M615.2 56.1L614.5 79.9M595.6 67.3L624.6 74.1M583.4 84.6L614.0 93.1M587.8 92.2L605.1 77.7M589.4 80.1L619.1 87.7M598.3 95.3L614.5 79.9" stroke="#d4d4d4" stroke-width="0.45" fill="none"/>
<path d="M577.4 89.1L609.0 98.5L624.3 82.1L625.3 58.5" stroke="#777" stroke-width="0.45" fill="none"/>
<path d="M577.0 64.5L595.5 51.3L625.3 58.5M577.0 64.5L577.4 89.1" stroke="#d0d0d0" stroke-width="0.4" fill="none"/>
<g mask="url(#spk2)"><path d="M579.0,85.5 L585.0,83.5 L586.0,87.5 L580.0,89.5Z" fill="#ff7f0e" /></g>
<g mask="url(#spk)"><path d="M587.0,74.5 L597.0,70.5 L603.0,69.5 L601.0,74.5 L591.0,78.5Z" fill="#1f77b4" /><path d="M610.0,63.5 L617.0,60.5 L625.5,58.5 L625.5,61.0 L617.0,64.5 L611.0,66.5Z" fill="#ff7f0e" /></g>
<g mask="url(#spk0)"><path d="M580.0,88.9 L591.0,80.5 L603.6,72.9 L615.0,66.5 L625.4,60.3 L623.7,59.0 L613.0,62.5 L595.2,69.6 L580.0,81.3Z" fill="#2ca02c" /></g>
<path d="M632.4,36.8 L650.9,23.6 L651.0,47.8 L632.8,61.4Z" fill="#ececec" stroke="#e2e2e2" stroke-width="0.3"/>
<path d="M650.9,23.6 L680.7,30.8 L679.7,54.4 L651.0,47.8Z" fill="#efefef" stroke="#e2e2e2" stroke-width="0.3"/>
<path d="M632.8,61.4 L651.0,47.8 L679.7,54.4 L664.4,70.8Z" fill="#f1f1f1" stroke="#e2e2e2" stroke-width="0.3"/>
<path d="M638.5 32.4L638.8 56.9M632.5 44.9L650.9 31.6M644.6 28.1L644.8 52.4M632.7 53.0L651.0 39.6M660.7 26.0L660.5 50.0M650.9 31.6L680.4 38.6M670.6 28.4L669.9 52.2M651.0 39.6L680.0 46.4M638.8 56.9L669.4 65.4M643.2 64.5L660.5 50.0M644.8 52.4L674.5 60.0M653.7 67.6L669.9 52.2" stroke="#d4d4d4" stroke-width="0.45" fill="none"/>
<path d="M632.8 61.4L664.4 70.8L679.7 54.4L680.7 30.8" stroke="#777" stroke-width="0.45" fill="none"/>
<path d="M632.4 36.8L650.9 23.6L680.7 30.8M632.4 36.8L632.8 61.4" stroke="#d0d0d0" stroke-width="0.4" fill="none"/>
<g mask="url(#spk)"><path d="M647.4,34.0 L662.4,33.2 L682.0,34.8 L682.0,36.2 L662.4,35.2 L649.4,36.4Z" fill="#ff7f0e" /></g>
<g mask="url(#spk0)"><path d="M634.9,60.3 L635.0,48.8 L638.4,41.8 L644.4,37.3 L649.4,34.8 L650.9,36.3 L645.4,41.8 L642.4,48.8 L640.9,60.3Z" fill="#2ca02c" /></g>
<defs><filter id="bl2" x="-10%" y="-10%" width="120%" height="120%"><feGaussianBlur stdDeviation="1.2"/></filter></defs>
<g mask="url(#spk3)"><g filter="url(#bl2)"><path d="M372.6,156.6 L403.0,146.8 L403.9,163.8 L379.8,165.6Z" fill="#b5bd61" /><path d="M404.8,146.8 L425.3,154.0 L424.4,156.3 L404.8,149.5Z" fill="#ffbb78" /><path d="M379.8,171.8 L411.9,175.4 L411.9,179.0 L381.6,175.4Z" fill="#ff9896" /><path d="M379.8,203.1 L406.6,190.6 L407.5,219.1 L379.8,219.1Z" fill="#b5bd61" /><path d="M406.6,212.9 L426.2,219.5 L425.3,221.3 L406.6,215.6Z" fill="#ffbb78" /><path d="M379.8,247.7 L403.0,243.8 L403.4,262.0 L383.4,260.2Z" fill="#b5bd61" /><path d="M404.8,249.5 L426.2,255.2 L425.3,257.0 L404.8,252.2Z" fill="#ffbb78" /><path d="M487.6,176.7 L510.9,178.1 L510.9,179.5 L487.6,178.5Z" fill="#ffbb78" /><path d="M493.0,223.5 L510.9,224.0 L510.9,225.3 L493.0,224.9Z" fill="#ffbb78" /><path d="M476.9,256.7 L487.6,258.5 L487.6,265.7 L476.9,265.7Z" fill="#ff9896" /><path d="M493.0,269.3 L510.9,269.6 L510.9,271.0 L493.0,270.7Z" fill="#ffbb78" /><path d="M543.8,153.1 L561.7,145.9 L579.9,141.5 L580.8,147.7 L574.6,156.7 L563.8,160.2 L545.6,158.4Z" fill="#e84040" /><path d="M576.0,169.2 L592.1,171.9 L592.1,173.6 L576.0,172.7Z" fill="#ffbb78" /><path d="M536.7,221.0 L545.6,212.1 L552.7,204.9 L563.5,196.0 L579.9,187.9 L580.8,196.0 L576.3,208.5 L578.1,222.8 L552.7,222.8Z" fill="#e84040" /><path d="M579.6,223.9 L593.9,224.2 L593.9,225.3 L579.6,225.1Z" fill="#ffbb78" /><path d="M543.8,262.1 L552.7,253.2 L565.6,244.2 L579.9,233.5 L580.8,238.9 L574.6,251.4 L576.3,263.9 L552.7,264.8Z" fill="#e84040" /><path d="M578.1,268.9 L593.9,269.4 L593.9,270.7 L578.1,270.3Z" fill="#ffbb78" /><path d="M628.6,159.3 L641.5,151.3 L654.0,149.2 L655.8,160.2 L661.1,171.0 L644.7,172.7 L630.4,167.7Z" fill="#98df8a" /><path d="M650.0,149.5 L680.4,139.7 L680.8,142.0 L650.9,151.7Z" fill="#ffbb78" /><path d="M650.0,204.9 L678.6,186.2 L679.5,188.8 L650.9,207.1Z" fill="#ffbb78" /><path d="M639.3,212.1 L655.4,213.0 L656.3,221.0 L639.3,221.0Z" fill="#98df8a" /><path d="M650.0,255.0 L678.6,233.5 L679.5,236.2 L650.9,257.1Z" fill="#ffbb78" /><path d="M640.2,258.5 L654.5,258.5 L654.5,264.3 L640.2,264.3Z" fill="#98df8a" /></g></g>
<g mask="url(#spk2)"><g filter="url(#bl2)"><path d="M370.9,165.6 L388.7,167.0 L394.1,170.9 L379.8,170.9Z" fill="#e377c2" /><path d="M365.5,204.9 L379.8,196.8 L397.6,190.2 L410.1,187.5 L406.6,194.1 L394.1,201.3 L394.1,211.1 L379.8,213.8 L369.1,211.1Z" fill="#279e68" /><path d="M383.4,217.7 L397.6,217.4 L397.6,219.5 L383.4,219.5Z" fill="#aa40fc" /><path d="M455.4,160.2 L466.2,154.9 L476.9,147.7 L484.9,141.5 L486.2,145.9 L480.8,154.9 L482.6,162.4 L469.7,167.7 L457.2,166.8Z" fill="#aa40fc" /><path d="M444.7,173.6 L462.6,172.7 L469.7,177.2 L451.9,176.7Z" fill="#8c564b" /><path d="M455.4,215.6 L469.7,210.3 L477.3,203.1 L481.5,194.2 L485.8,187.0 L487.1,190.6 L483.5,199.6 L479.0,208.5 L475.5,215.6 L460.8,218.3Z" fill="#aa40fc" /><path d="M455.4,265.3 L468.0,260.3 L475.5,253.2 L480.8,242.5 L485.8,233.5 L487.1,237.1 L482.6,247.8 L479.0,258.5 L473.7,265.7 L460.8,267.5Z" fill="#aa40fc" /><path d="M527.7,163.8 L543.8,162.0 L570.6,165.6 L576.0,172.7 L561.7,177.8 L527.7,177.4Z" fill="#8c564b" /><path d="M540.2,160.2 L556.3,159.9 L558.1,163.8 L542.0,164.7Z" fill="#aa40fc" /><path d="M531.3,166.5 L543.8,164.7 L567.4,165.6 L577.8,171.9 L574.6,174.9 L552.7,175.2 L533.1,174.2 L529.5,171.9Z" fill="#279e68" /><path d="M635.7,171.9 L664.7,174.9 L664.7,176.7 L644.7,176.7Z" fill="#d62728" /><path d="M607.1,223.0 L635.7,222.6 L664.7,223.3 L664.7,224.6 L607.1,224.6Z" fill="#279e68" /></g></g>
<g mask="url(#spk)"><g filter="url(#bl2)"><path d="M366.4,159.3 L379.8,152.2 L395.9,144.5 L406.6,142.0 L410.5,145.6 L397.6,149.5 L381.6,156.6 L369.1,161.1Z" fill="#279e68" /><path d="M360.1,165.6 L374.4,163.8 L388.7,163.8 L394.1,165.6 L388.7,169.1 L374.4,168.8 L363.7,167.4Z" fill="#8c564b" /><path d="M378.0,167.4 L392.3,166.5 L401.2,169.1 L411.9,174.9 L412.3,177.7 L397.6,177.2 L381.6,171.8Z" fill="#d62728" /><path d="M388.7,163.8 L401.2,163.8 L401.2,165.2 L388.7,165.6Z" fill="#aa40fc" /><path d="M367.3,203.1 L379.8,195.9 L397.6,189.7 L410.1,187.5 L408.4,190.6 L395.9,195.9 L381.6,201.3 L369.1,206.6Z" fill="#279e68" /><path d="M358.4,218.8 L379.8,218.2 L397.6,219.5 L388.7,221.3 L363.7,220.6Z" fill="#8c564b" /><path d="M379.8,219.5 L406.6,220.6 L413.7,224.1 L388.7,224.9 L374.4,221.6Z" fill="#d62728" /><path d="M367.3,254.9 L385.1,247.7 L399.4,240.6 L410.5,234.3 L412.3,237.0 L399.8,245.9 L388.7,253.1 L374.4,258.8 L367.3,257.9Z" fill="#279e68" /><path d="M358.4,260.2 L376.2,258.4 L388.7,259.5 L379.8,262.9 L363.7,262.0Z" fill="#8c564b" /><path d="M370.9,261.1 L394.1,260.2 L403.0,263.8 L412.8,268.8 L395.9,270.0 L376.2,265.9Z" fill="#d62728" /><path d="M385.1,259.1 L401.2,260.2 L400.9,262.0 L386.0,261.5Z" fill="#aa40fc" /><path d="M441.1,173.6 L451.9,171.0 L462.6,168.8 L480.5,169.2 L494.8,171.3 L487.6,172.7 L469.7,174.5 L451.9,174.9Z" fill="#279e68" /><path d="M460.8,171.9 L480.5,170.6 L495.7,172.4 L496.6,175.6 L478.7,177.4 L457.2,176.3Z" fill="#d62728" /><path d="M442.9,222.4 L460.8,220.1 L478.7,218.9 L494.8,217.8 L495.7,220.6 L478.7,222.1 L451.9,223.5Z" fill="#279e68" /><path d="M448.3,223.1 L478.7,222.4 L495.7,223.1 L495.7,224.9 L450.1,224.9Z" fill="#d62728" /><path d="M441.1,268.0 L460.8,266.6 L478.7,266.0 L495.7,265.3 L495.7,267.8 L469.7,268.9 L444.7,268.9Z" fill="#279e68" /><path d="M448.3,268.9 L478.7,268.2 L495.7,268.9 L495.7,270.7 L450.1,270.7Z" fill="#d62728" /><path d="M543.8,153.4 L556.3,152.4 L569.2,154.2 L571.0,157.7 L561.7,158.8 L545.6,157.9Z" fill="#d62728" /><path d="M535.8,159.3 L549.2,157.7 L567.0,158.4 L568.8,163.8 L552.7,167.7 L535.8,167.4Z" fill="#e377c2" /><path d="M533.1,171.9 L552.7,172.7 L570.6,174.5 L552.7,177.4 L533.1,176.7Z" fill="#b5bd61" /><path d="M543.8,220.6 L561.7,218.9 L571.0,219.9 L569.2,222.8 L543.8,223.7Z" fill="#d62728" /><path d="M524.1,223.7 L552.7,223.0 L579.9,223.5 L579.9,224.9 L534.9,224.9Z" fill="#279e68" /><path d="M538.4,264.3 L552.7,262.6 L571.0,263.2 L572.8,266.4 L543.8,266.9Z" fill="#aa40fc" /><path d="M527.7,267.1 L552.7,266.2 L578.1,268.0 L578.1,270.7 L534.9,270.2Z" fill="#279e68" /><path d="M610.7,170.1 L621.4,166.5 L635.7,165.6 L650.4,170.1 L664.7,174.5 L664.7,176.7 L644.7,177.2 L617.9,174.5Z" fill="#8c564b" /><path d="M635.7,176.3 L653.6,177.4 L653.6,178.6 L635.7,177.8Z" fill="#aa40fc" /><path d="M634.0,219.8 L662.9,218.9 L664.7,223.9 L634.0,223.9Z" fill="#d62728" /><path d="M610.7,264.8 L626.8,262.5 L644.7,262.5 L664.7,265.3 L664.7,268.0 L635.7,268.9 L614.3,266.6Z" fill="#8c564b" /><path d="M623.2,262.1 L644.7,262.1 L645.0,264.3 L623.2,264.3Z" fill="#aa40fc" /><path d="M626.8,267.5 L653.6,268.4 L653.6,269.6 L626.8,269.3Z" fill="#279e68" /></g></g>
<g mask="url(#spk3)"><g filter="url(#bl2)"><path d="M371.9,319.1 L403.2,304.6 L408.5,309.5 L406.1,324.4 L379.1,326.8Z" fill="#b5bd61" /><path d="M410.4,311.9 L427.3,317.2 L426.1,319.1 L410.4,314.3Z" fill="#ffbb78" /><path d="M456.2,326.3 L470.6,316.7 L480.2,307.0 L493.5,302.2 L489.9,309.5 L485.1,319.1 L480.7,331.1 L461.0,331.1Z" fill="#aa40fc" /><path d="M544.1,314.3 L563.4,307.0 L583.1,302.2 L584.1,305.8 L575.9,314.3 L568.7,321.5 L548.9,321.5Z" fill="#d62728" /><path d="M539.3,309.5 L556.1,307.0 L558.5,321.5 L541.7,323.9Z" fill="#ff9896" /><path d="M577.8,335.9 L592.3,339.6 L591.1,341.2 L577.8,338.8Z" fill="#ffbb78" /><path d="M630.8,322.7 L645.2,314.3 L654.9,313.1 L664.5,323.9 L654.9,333.5 L633.2,331.1Z" fill="#98df8a" /><path d="M654.9,307.0 L676.6,301.7 L677.0,303.7 L656.1,309.0Z" fill="#ffbb78" /><path d="M357.4,400.5 L369.5,390.9 L379.1,374.0 L383.9,371.6 L391.1,381.3 L403.2,395.7 L427.3,394.5 L417.6,398.1 L408.0,407.8 L405.6,412.6 L391.1,412.6 L374.3,406.6 L359.8,404.1Z" fill="#ff7f0e" /><path d="M383.9,383.7 L403.2,386.1 L403.2,400.5 L386.3,400.5Z" fill="#1f77b4" /><path d="M441.7,407.8 L456.2,398.1 L463.4,376.5 L480.2,371.6 L489.9,371.6 L475.4,376.5 L468.2,386.1 L475.4,405.4 L489.9,407.8 L511.6,412.6 L489.9,413.8 L451.3,411.4Z" fill="#ff7f0e" /><path d="M465.8,386.1 L475.4,386.1 L475.4,395.7 L465.8,395.7Z" fill="#1f77b4" /><path d="M524.8,402.9 L534.5,390.9 L544.1,376.5 L551.3,372.8 L560.9,371.6 L558.5,376.5 L556.1,386.1 L568.2,398.1 L592.3,401.7 L582.6,406.6 L558.5,410.2 L548.9,413.8 L534.5,410.2 L524.8,407.8Z" fill="#ff7f0e" /><path d="M546.5,383.7 L556.1,383.7 L556.1,412.6 L546.5,412.6Z" fill="#1f77b4" /><path d="M606.7,410.2 L621.2,395.7 L635.6,388.5 L650.1,383.7 L664.5,376.5 L676.6,371.6 L674.1,374.0 L659.7,381.3 L645.2,388.5 L640.4,398.1 L650.1,411.4 L657.3,413.8 L635.6,413.8 L616.3,412.6Z" fill="#ff7f0e" /><path d="M635.6,380.1 L654.9,380.1 L654.9,393.3 L635.6,393.3Z" fill="#1f77b4" /></g></g>
<g mask="url(#spk2)"><g filter="url(#bl2)"><path d="M391.1,328.7 L403.2,328.7 L403.2,331.1 L391.1,331.1Z" fill="#aa40fc" /><path d="M456.2,337.1 L470.6,335.9 L470.6,340.8 L456.2,340.8Z" fill="#b5bd61" /><path d="M556.1,333.5 L577.8,334.7 L580.2,340.8 L558.5,340.8Z" fill="#279e68" /><path d="M532.0,337.1 L553.7,335.9 L556.1,344.4 L534.5,344.4Z" fill="#8c564b" /><path d="M441.7,408.2 L456.2,404.1 L468.2,406.6 L470.6,411.4 L451.3,411.4Z" fill="#ff7f0e" /><path d="M470.6,410.2 L489.9,409.0 L511.6,412.6 L489.9,413.8Z" fill="#ff7f0e" /><path d="M391.1,409.0 L405.6,410.2 L406.8,412.6 L391.1,412.6Z" fill="#ff7f0e" /><path d="M527.2,395.7 L536.9,390.9 L541.7,398.1 L539.3,410.2 L527.2,409.0Z" fill="#ff7f0e" /><path d="M607.9,410.2 L621.2,406.6 L628.4,410.2 L626.0,412.6 L611.5,412.6Z" fill="#ff7f0e" /><path d="M635.6,411.4 L654.9,411.4 L657.3,413.8 L635.6,413.8Z" fill="#ff7f0e" /></g></g>
<g mask="url(#spk)"><g filter="url(#bl2)"><path d="M369.5,320.3 L383.9,311.9 L400.8,303.4 L406.1,304.6 L398.4,311.9 L383.9,317.9 L371.9,322.7Z" fill="#279e68" /><path d="M362.2,331.1 L379.1,329.9 L398.4,331.1 L403.2,335.9 L415.2,344.4 L412.8,346.8 L398.4,345.6 L379.1,335.9Z" fill="#ff9896" /><path d="M369.5,331.1 L391.1,331.1 L395.9,337.1 L381.5,335.9Z" fill="#8c564b" /><path d="M446.5,339.6 L463.4,335.9 L487.5,334.7 L506.7,333.5 L506.7,337.1 L487.5,343.2 L463.4,345.6 L451.3,343.2Z" fill="#ff9896" /><path d="M544.1,316.7 L568.2,315.5 L573.5,321.5 L551.3,322.7Z" fill="#d62728" /><path d="M539.3,323.9 L558.5,320.3 L565.8,326.3 L560.9,331.1 L541.7,331.1Z" fill="#e377c2" /><path d="M532.0,333.5 L551.3,329.9 L575.9,331.1 L583.1,339.6 L570.6,344.4 L539.3,344.4 L529.6,340.8Z" fill="#b5bd61" /><path d="M613.9,334.7 L628.4,331.1 L652.5,333.5 L666.9,340.8 L666.9,344.4 L640.4,344.4 L616.3,340.8Z" fill="#8c564b" /><path d="M642.8,343.9 L654.9,344.4 L654.9,346.1 L642.8,345.6Z" fill="#aa40fc" /><path d="M357.4,401.7 L369.5,398.1 L376.7,402.9 L369.5,406.6 L359.8,404.9Z" fill="#ff7f0e" /><path d="M524.8,398.1 L539.3,390.9 L544.1,410.2 L527.2,409.0Z" fill="#ff7f0e" /></g></g>
<g mask="url(#spk0)"><g filter="url(#bl2)"><path d="M371.9,398.1 L379.1,381.3 L382.7,371.6 L387.5,372.8 L386.3,381.3 L381.5,393.3 L379.1,398.1 L383.9,405.4 L391.1,411.4 L383.9,412.6 L374.3,405.4Z" fill="#2ca02c" /><path d="M369.5,398.1 L388.7,396.9 L393.5,410.2 L381.5,412.6Z" fill="#2ca02c" /><path d="M456.2,402.9 L461.0,388.5 L464.6,376.5 L468.2,375.2 L468.2,386.1 L465.8,398.1 L468.2,405.4 L475.4,410.2 L461.0,411.4Z" fill="#2ca02c" /><path d="M536.9,402.9 L541.7,388.5 L546.5,376.5 L551.3,374.0 L553.7,381.3 L551.3,393.3 L556.1,405.4 L553.7,411.4 L544.1,412.6 L536.9,409.0Z" fill="#2ca02c" /><path d="M611.5,409.0 L623.6,398.1 L633.2,389.7 L635.6,394.5 L630.8,405.4 L635.6,412.6 L616.3,412.6Z" fill="#2ca02c" /></g></g>
<path d="M384.7 315.4l2.4-.9M386.4 314.5l2.2-.9M389.4 312.8l2.5-1M392.5 312l2.4-1M392.1 312.5l1.8-.6M394.8 311.3l1.8-.6M398.5 310.8l2.2-.7M402.4 309.1l2.5-.8M402.3 307.2l2.6-.5M404 307.7l2.5-.4M408.7 307.3l2.5-.4M412.8 307.1l1.7-.3M380.8 317.3l2.7-.8M384 316.9l2.4-.7M388.7 315.7l1.6-.5M418 314.6l2.5 1M420.7 315.6l2.2 .9M388.7 324l1.7 0M392.4 324.4l2.6 0M397.8 323.2l1.7 0M400.5 323.1l1.6 0M386.1 329.3l1.7 0M390 328.9l1.8 0M393 328.5l1.8 0M369.1 332.2l2.2 .2M373.4 332.6l2.3 .2M377.6 334l1.7 .1M381.3 333.7l2.1 .2M379.6 334.8l1.6 .5M382.9 336.5l2.2 .6M388.2 337.2l2.6 .8M386.8 337.4l2.4 .6M391.2 339.2l2.1 .6M393.4 338.2l2.5 .6M397.1 339.4l2.6 .7M394.5 341l2.5 .7M398.7 341.9l2 .5M402.4 343.5l2.2 .6M405.5 343.9l2.3 .6M401.2 343.9l1.6 .3M406.7 344l2.4 .5M408.4 344.8l2.3 .5M382.9 331.1l1.8 .3M387.4 332.5l2.3 .5M391.7 333.6l1.6 .3M392.4 335.6l1.6 .5M396.3 337.9l2.7 .8M401.2 339l1.6 .5M375.5 334l2.5 .5M379.7 334.4l2.5 .5M383.3 335.2l2.2 .4M487.4 303.6l1.8-.3M490.2 302.5l2-.3M470.9 319.6l2.7-.4M474.5 317.9l1.8-.3M478.1 318.5l2.7-.5M480.8 316.9l2.3-.4M484.1 316.7l1.8-.3M461.3 326.6l2.4-.2M466.1 325.8l1.9-.2M468.3 325.5l2.4-.2M472.2 325.4l1.9-.1M468.4 319l2.4-.3M472.5 317.8l2.5-.3M474.8 318.4l2.7-.3M451.6 340.4l2.5-.2M454.3 339.9l2.1-.2M459.7 340.1l1.7-.1M461.7 339.9l2.3-.2M466.2 339.9l2.1-.1M460.2 339.8l1.9-.2M462.5 339.6l1.9-.3M466.8 338.8l1.6-.2M469.6 337.9l1.8-.2M473.1 337.8l2.2-.3M466.8 338.3l1.6-.2M469.9 337.9l2.2-.3M473.3 337.4l2.3-.3M476.7 337.1l2.3-.2M479.5 337.5l2.5-.4M481.9 336.3l2.3-.3M475.1 337.9l2.4-.3M479.1 337.3l2.2-.3M482.2 336.6l2-.3M484.6 336l2.6-.3M489.7 334.9l2.1-.2M492.7 335.9l1.7-.2M488.7 335.5l2.3-.3M492 335.5l1.8-.3M494.9 335l2.2-.3M498 335l2.5-.3M500 334.9l2.2-.2M505 333.8l1.8-.2M457.4 343.1l2-.1M460.7 343.4l1.7-.1M463 342.4l1.7-.1M467.2 342.5l2.1-.1M470.2 343.1l2.7-.2M473.8 340.9l1.7-.1M469.4 341.7l1.6-.1M471.3 341.9l2.5-.2M474.3 341.5l2.7-.3M478.2 340.4l2.4-.2M482.2 340.9l2.1-.2M484.3 340.3l2.7-.2M481.6 339.6l1.8-.2M484.1 339.9l2.4-.3M486.4 339.9l2.2-.3M489.6 339.8l1.9-.2M492.7 338.6l2.5-.3M497.4 338l2.2-.3M464.6 344.6l2.1 0M466.4 345l2.1 0M470.3 344.5l2.7 0M474.6 345.2l2.3 0M478 345.4l2.1 0M475.6 343.3l1.6 .1M480.5 343.2l1.9 .2M484.1 345l2.5 .2M486.9 344.3l2 .1M564.4 305.4l1.7-.5M566.4 306.1l2.7-.7M571.5 305.6l1.8-.5M573.7 304.6l2.1-.5M577.7 303.6l2.4-.5M579.8 303.2l2.6-.6M559.7 309.2l2.4-.5M562 309.2l2.3-.5M566.3 307.4l2.5-.6M568.8 306.7l1.8-.3M572.1 307.2l1.6-.3M550.3 318.7l2.3-.5M552.1 318.5l2.5-.4M555.5 317.8l1.6-.3M558.6 317.5l2.2-.4M563 317l2.2-.4M564.6 315.8l2.3-.4M547.4 321.4l1.7-.4M549.8 320.4l2-.4M553.3 320.2l2-.4M556.1 319.3l2.7-.6M559.4 319l2.5-.6M553.6 316.1l2.5-.7M558.3 315.3l1.7-.5M561.8 315l1.8-.5M565.2 313.8l2.1-.6M568.4 313.3l1.9-.6M562.1 318.7l2.5-.3M565.8 318.8l2.1-.2M569 318.8l1.7-.2M543.6 326.3l2.7-.5M547.7 325.9l2-.3M551.2 325l1.7-.3M555.1 324.7l2.7-.4M548.9 330.4l2.4-.3M552.7 330.9l1.7-.2M555 330.4l2.1-.2M558.3 330.1l1.9-.2M562.5 329.4l2.2-.3M564.3 329.1l2.7-.3M540.2 333.3l1.6-.4M542.3 333.1l2.6-.5M546.2 332.3l2-.5M549.2 330.5l2.3-.4M552.7 330.5l2.4-.5M544.9 337.1l1.6-.2M547.5 335.3l2.5-.3M550.8 335.9l1.6-.2M555.7 334.7l1.9-.3M558.6 333.6l1.9-.2M549.4 338l2.3-.5M553.2 336.7l2-.4M556.6 337.1l1.6-.3M559.9 336.8l2-.4M561.9 336.3l2.2-.4M565.4 334.3l2.2-.4M537.7 341.1l1.9-.3M541.5 340.5l1.8-.3M545.1 340.2l2-.3M548 339.3l1.9-.3M550.6 338.1l2.2-.3M542.5 343.3l1.8-.2M546.5 342.9l2-.1M549.5 342.8l2.1-.1M551.9 342.9l1.8-.1M555.8 342.1l2.7-.2M556.2 340.2l2.3-.3M560.8 339l2.5-.3M563.3 340.4l2.6-.3M566.1 338.9l1.9-.3M569.7 338.3l1.6-.2M568.5 331.2l1.8-.1M572.2 330.8l2.4-.2M576.8 330.2l2.7-.3M580.5 329.9l2.2-.1M565 325.9l1.9-.6M567.2 324.7l1.6-.5M573.3 323.7l2.4-.7M642.4 319.3l1.7-.3M645.7 318l1.6-.3M647.6 317.9l2.5-.4M652.2 317.4l2.7-.4M655.3 314.5l2.2-.3M659.2 313.9l1.8-.2M661.3 313.8l2.5-.4M665.3 312.2l2.2-.3M670 312.7l1.9-.3M655.4 315.5l1.6-.2M659.3 315.8l2.1-.3M662.8 316l2.6-.4M667.6 314.3l2.6-.4M633.6 330.5l1.8-.3M637.3 329.7l2.4-.4M641 328.8l2.3-.4M642.7 328l2.4-.5M647.4 326.9l1.8-.4M649.6 326.5l1.7-.3M646.5 329.3l1.7-.3M650 329.3l2.7-.5M652.4 327.1l2.7-.5M656.8 325.8l1.6-.3M660.4 325.8l2.6-.4M664.3 324.6l2.1-.4M649.7 332.7l2.2-.4M654.3 333.1l2.1-.4M656.4 332.7l2-.4M660.3 330.7l1.7-.3M663.7 330.5l1.9-.3M665.7 330.6l2.3-.5M640.3 335.7l1.8-.3M644 335.8l2.6-.5M647.8 334.1l2.3-.5M649.6 334.2l2.5-.5M653.7 333.2l2.5-.5M657.5 333.1l2.6-.5M628.6 338.7l2.5-.3M631.5 337.9l1.6-.2M635.4 337.7l2.3-.3M637.6 336.8l2.4-.3M641 338.2l2.6-.3M645.1 336.5l2.3-.3M621.5 340.7l2.3-.1M624 340.6l2.1-.2M627.4 340.6l1.9-.1M631.9 341.1l2-.2M635.7 340.3l1.8-.1M637.9 340.1l2.6-.1M635.5 342.1l2.4-.1M639.3 342.3l2.4-.2M643.2 341.2l2.4-.2M645 341.4l2.3-.2M649.7 340.6l1.9-.1M652.9 341.2l2.5-.2M647.6 339l2.1-.3M650.6 339.1l2.5-.3M654 338.7l1.7-.2M658.5 337.9l1.6-.2M661.7 337.7l2-.2M664.6 337.9l1.8-.2M617.7 339.3l2.1-.2M621.5 338.1l2.5-.2M623.5 338.1l2.5-.2M628.3 336.8l2.2-.2M379.1 373l2.3-.3M383.7 371.3l1.9-.2M386.1 372.7l1.9-.2M380.8 375.2l2.7-.3M384.4 375.8l1.8-.2M387.7 374.7l2-.2M381.5 378.9l2.2 0M386 379.7l2.5 0M389.5 378.7l1.7 .1M392.6 379.9l2 0M385.5 383.1l1.4 1.1M387.5 385.3l2.3 1.7M390.5 387.1l1.6 1.1M392.8 388.9l1.3 1M394.9 391l1.7 1.3M379.5 377l2.3 .2M382.4 376.9l2.1 .2M387.6 377.1l2.6 .3M390.2 377.2l2.1 .2M371 397.5l1.9-.1M375.8 397.2l1.6-.2M378.4 396.5l1.8-.1M375.4 401.4l2.7 .7M378.9 402.2l1.6 .4M381.4 401.9l2.1 .5M385.6 403.2l1.7 .4M379.5 405.3l2.2 .8M382.7 407.4l2.5 .8M387.1 407.6l1.8 .5M391.2 409.6l2.4 .8M383.2 409.5l1.9 .1M385.8 410.1l1.7 .1M389.1 411.1l1.9 .1M392.9 412l1.7 .1M377.3 395.2l2.1-.4M382.2 394.5l2.2-.4M385.9 394.2l1.7-.3M465.5 373.1l1.7-.1M468.5 374.4l2.6-.3M473 373.5l1.8-.2M476 373.3l2-.2M464.5 377.5l2.4 .3M468 380.8l2.6 .3M472.4 378.6l2.5 .3M465.8 385l2 .7M469.2 385.8l1.6 .5M473.1 387.2l2.6 .9M461.5 395.8l1.8-.7M464.4 394.2l2.1-.9M468.6 392l1.8-.7M471.4 392.1l1.5-.7M466.4 403.3l2.6-.7M469.1 403.6l2.2-.6M472.3 402.7l2.4-.6M476.5 401.5l1.6-.4M457.3 409.6l1.8 .1M460.7 409l2.2 .2M463.4 410.2l2.3 .2M467.6 409.4l2.6 .2M465 411.1l2.1 .3M468.7 410.9l2.2 .2M472 411.4l2.6 .3M474.5 411.4l2.4 .3M478.9 410.8l2.4 .3M482.7 412.1l1.8 .2M465.6 375.9l2.2-.4M471.8 375.7l1.8-.3M474.8 374.5l2.4-.5M464.7 381.4l2.6 0M470.3 381.8l1.9 0M472.8 382l2.3 0M546.8 373.7l2.3-.5M549.5 373.8l2.1-.6M545.3 379.9l1.3 1M546.9 382l1.5 1.1M551 384l2 1.5M543.7 384.5l2.1 1.2M546.6 385.2l1.7 1M549.2 387.4l1.8 1M554.2 389.6l1.8 1M542 388.2l2.3 1.5M545.2 390.5l1.9 1.2M547.9 393l1.9 1.2M551.9 394.9l2.2 1.3M540.4 393.8l1.8 .9M543.6 395.5l2.1 .9M547.9 396.9l2.3 1M550 397.7l1.9 .9M553 398.9l1.6 .7M541.7 398.1l2.5 1M545.2 399.4l2 .9M549.1 400.2l1.8 .7M551 401.2l2 .8M541.8 403.2l2.5 .5M546.5 404.5l2.3 .4M549.2 404.9l2.3 .3M554.1 404.8l2.5 .4M544.3 407.2l2.5 .2M548.2 408.9l2.8 .3M551.2 408.1l2.5 .2M554.9 408.3l2.5 .3M545.4 411.7l2.2 .2M549.2 412.3l2.1 .2M552.4 412.2l1.7 .2M547.9 382.1l1.6 1.6M549.3 384l1.5 1.5M552.4 386.7l1.9 1.9M555.1 389.7l1.4 1.4M556.5 391.1l1.2 1.1M548.9 386.6l1.6 1.6M552 388.3l1.6 1.6M553.9 391.5l1.3 1.2M557.4 394.1l1.2 1.2M626.2 396l1.5-.7M628.7 394.3l1.8-.9M633.1 392.4l1.9-1M635.9 390.9l2-1M639.4 388.9l1.9-.9M643.1 387.6l2.3-1.2M637.1 400.2l1.6-.4M639.8 399.9l1.7-.4M643.2 398.3l2.2-.6M634.9 405l1.6-.4M637.6 403.6l2-.5M640.3 403.7l2.5-.7M644.9 403.4l2.4-.6M617.8 409.9l1.8 .1M620.7 410.7l1.7 .1M622.6 409.7l1.6 .1M626.6 411.2l1.8 .1M629 411.1l2.5 .2M633.2 411.7l2.1 .2M641.2 379.7l2.2-.4M645.2 379.5l2.4-.4M647.9 378.6l2.6-.4M651.7 378.8l2.1-.3M656.6 378l2-.3M658.1 377l2.3-.4M629 400.6l1.9-1M632.7 397.7l1.5-.7M635 396.3l1.8-.9M636.7 395.9l2.4-1.1M639.4 394.6l2-1M621 406.1l2.1-.6M624.6 403.9l1.9-.5M627.9 402.8l1.8-.5M631.2 402.3l2.3-.6M634.5 401.3l2.2-.7M624.1 409.6l1.8-.1M627.6 408.4l2.3-.2M631 408l1.7-.2M633.6 409l2.4-.2M638 408.3l2.2-.2" stroke="#000" stroke-width="1.35" stroke-linecap="round" fill="none"/>
<path d="M416.3 673l.2 2.7M417.6 672.1l1.7 4M416.7 675.7l-1.3 2.5M416.1 677l.4 4.3M413.8 680.3l.1 2.7M416.2 679.8l-.8 4.2M413.1 682.8l1.2 3.3M414.9 682.7l2.1 3.9M413.8 685.3l-.3 3.5M415.8 685.9l.7 2.1M412.2 687.5l1.9 3.3M415.9 687.9l-.4 2.9M502.2 691.5l1.9-3.8M412.4 690.1l1.7 3.5M414.4 691l3 2.2M501.5 693.8l-.4-3.6M504.1 692.7l-1.6-1.9M413.8 692.4l-.9 3.2M416.4 692.2l-.2 4.3M438.9 692.8l-.8 3.2M441.3 693.2l-.3 2.3M443 693l.6 2.6M497.4 695.1l2.6-2.1M499.9 696.1l2.1-3.8M502.9 695.9l1.1-3.4M412.9 695.5l.5 2.9M415.7 695.4l-.1 3.4M433.3 696.1l.6 2M436 694.8l.7 3.9M438.1 695.2l1 3.1M441.4 696l-.5 2M444.1 696.1l-.7 2M446.6 694.9l-1.1 3.9M449.5 696.3l-2.4 1.8M452.8 696.5l-3.4 .4M454.8 696.1l-2.3 1.6M457.7 695.7l-3 2.2M484.5 698.9l-1.5-3.8M486.5 698.1l-.2-2.9M488 698.2l.4-3M490 699l1.7-3.8M492.6 697.8l2.1-2.3M495.8 698.6l.2-4.1M499.7 698.9l-2.1-3.6M502 698.6l-1.5-3.5M504.2 697.7l-1.5-2.1M412.8 698.1l1.5 2.1M416.2 698l-.8 3.3M432 697.2l-1.7 3.8M434 697.5l-.8 3.1M435.7 697.3l.5 3.6M438.4 697.9l-.2 2.7M440.8 698.2l1.1 2M444.4 698l-2 2.4M445.4 697.7l.6 4M447.7 697.9l.9 2.5M451.7 697.8l-.9 3.2M454.7 698.6l-2.4 1.8M457.3 698.5l-2.7 1.2M484.2 701.7l-.8-4M486 701.4l-.5-4.1M488.7 701.8l-.6-4.3M490.2 701.4l1.4-3.5M492.8 700.6l1.3-2.8M496.8 701l-.9-3.4M499 701.2l-1-3.9M501.9 701.2l-1.5-4M504.1 701l-.7-3.5M413.7 700l-1.2 3.5M415.6 700.4l1.5 3.1M424.6 700.3l2.4 3M428.7 700.4l-.2 2.8M431 701.2l.2 2M433.8 700.3l-.5 2.7M435.3 699.8l.9 3.7M438 700.5l.5 3.4M441.8 700.3l-1.3 3.5M442.6 700.1l1.1 3.1M444.9 700.3l1.6 3.6M448.5 700.2l-.3 3.5M451.5 700.7l-1.3 2M454.1 701l-1.3 1.9M457.4 700.7l-2.1 1.6M483.6 703.3l.2-2.1M486.2 703.8l-.4-3.5M489.2 703.8l-1.2-3.5M491.6 703.1l-.8-2.1M494.2 703.2l-1-3.1M495.6 703.7l1.2-3.2M499.2 703.9l-.6-4.3M501.8 703.8l-2.3-3.4M503.5 703.7l-.6-3.6M413.4 703.3l.3 2.9M415.9 702.7l-.6 2.8M420.6 703.1l.6 2.2M423 702.3l1.1 3.8M424.8 703.3l1.8 2.1M428.6 702.5l.5 3M430.4 702.2l.4 4M432 702.5l2.2 3.5M436 703l.6 2.2M438.3 703l.3 2.8M441.4 702.9l-.1 3M442.7 702.5l.9 3.4M445.6 703.4l.8 2.3M448.1 703.1l.1 2M452 703.4l-1.8 1.8M454.9 704.1l-2.2 .6M458 703.2l-3.3 2.5M481.4 705.8l-.3-2.8M483.1 706l1.6-3.5M487 705.8l-2.7-3.2M488.8 705.3l-.3-2.5M490.7 705.8l.6-3M493.7 706.5l.3-4.1M495.7 706.1l-.1-3.9M498.9 705.6l-.6-2.5M500.5 706.2l.4-4.3M503.3 705.5l.2-2.4M412.6 704.9l1.6 3.9M416.5 704.9l-.7 3.5M419.1 705.5l-1.5 3.4M420.1 705.9l1.2 2.5M422.6 705.1l1.4 3.3M426 705.8l0 2.3M428.8 705.2l-.5 3.5M430.8 705.9l1 2.8M434.1 704.8l-.8 4.3M435.6 706l.9 2.2M437.9 705.9l.6 2.3M441 705.2l.5 3.8M443.4 705.7l-.3 2.7M444.6 706.1l2 1.7M448 705.7l1.4 2.3M452.4 706.6l-3.2 .7M454.5 706l-1.7 2M457.8 706l-3.3 1.6M478.3 708.5l1.1-3.4M481 707.8l.8-2.1M483 708.6l1.6-4M486 709.3l0-4.4M487.7 709l1.2-3.5M491.2 708.8l-.7-3.4M494 708.2l-.3-2.5M496.4 708.1l-.6-3.1M497.9 708.3l.5-2.7M501.8 708.4l-1.5-3M504.2 708.6l-.9-4M416.5 707.2l-1.3 3.8M418.8 708l.1 3.1M421.2 707.6l-.9 3.2M423.8 708.2l-1 2M425.9 707.7l.1 2.7M429.5 708.7l-1.4 2.1M430.8 708.2l1.1 2.4M433.9 707.4l-.4 3.7M435.4 707.4l1 3.3M438.5 707.2l-.8 4.3M442.1 708.3l-1.9 2.5M443.5 708l0 3.5M448 709l-4.3 1.1M448.2 707.8l1.3 2.5M452.3 709l-2.1 .9M454.3 709l-2.2 1.1M457 707.5l-1.8 3.2M474.5 710.4l-1.6-2.4M476.3 710.7l-.6-2.8M478.7 710.2l-.4-2.2M481.6 711.3l-.9-3.2M483.9 710.7l-.7-3.1M486 710.6l-.5-2.5M489 711l-.8-3.1M491.4 711.1l-1-3.2M493 711.2l1.3-4M496.2 710.8l-1-2.5M498.2 711l.1-2.4M501 710.5l.4-2.5M505.1 710.3l-2.9-2M413.3 710.5l.8 2.7M416.3 711.1l-.6 2.3M419.3 711.3l-1.3 1.7M420.2 710.4l1.8 2.8M423.8 710.5l0 3M426.5 711.1l-1.5 2.1M429.3 710.3l-1 3.2M431 709.6l.1 4.3M433.2 710l.9 3.5M435.5 710.2l.8 3.9M439.4 709.7l-2.1 3.9M441.9 709.9l-2 3.6M443.5 710.3l-.4 2.9M445.9 710.3l-.4 2.7M448.7 710.9l.3 2.8M453.2 711.8l-3.8 .1M455.6 711.2l-3.9 1.8M457.1 711.2l-2.9 1.1M466.2 713.1l-.5-2.1M468.5 713.3l.7-2.4M471.2 713.9l0-4M473.6 713.6l-.7-3.9M476.1 714l-.5-4.4M477.4 714.3l1.6-4.1M480.2 713.2l1.2-3.1M482.4 713.5l2.8-3.3M486.8 713.6l-2.2-3.8M489.2 713.6l-1-3.2M490.9 713.5l-.3-3.5M493.9 713.6l0-3.2M495 713.6l2.2-3.2M499.3 713.5l-1.3-2.9M500.7 713.7l.3-4M502.4 713l2.1-2.9M412.8 715.9l-3.2-2.9M414.8 714.5l-2.2-.6M416 712.7l.1 3.1M418.4 713l-.3 2.3M420.9 713.7l-.6 2.2M423.1 712.8l.7 3.2M425.8 712.7l-.4 3M428.6 713l.5 2.5M431.8 713.1l-1.1 2.3M433.2 712.5l.6 3.5M436.6 713.3l-.4 2.5M438.1 712.8l1.1 2.8M441.6 712.7l-1.2 2.7M443.3 713.1l.3 3M445.4 713l1.3 2.5M449 712.6l-.8 3.1M452.3 713l-3.4 2.2M454.1 713.6l-.7 2.3M457.3 713.3l-3.2 2.7M465.7 716.4l.7-3.9M468.4 715.7l.7-2M470.9 716.4l.4-4M473.8 715.8l-.2-2.5M476.9 715.5l-1.2-2.2M478.4 716l.8-3.3M481.7 716.2l-1.5-4M482.7 715.4l.9-2.7M485.4 716.7l.8-4.2M488.2 715.5l.1-2.4M491.6 716.1l-1.3-3.3M494.9 716.1l-2.3-2.9M496 715.5l-.1-2.7M499.1 715.7l-1.6-3M502 716.1l-2.1-2.8M503.8 716.2l.2-3.8M412.5 716.9l-2.5-.2M414.8 716.9l-2.2-.1M417.5 716.7l-2.8 .8M419.1 715.2l-.6 3.4M421.6 715.6l-.6 2.9M423.4 714.7l-.5 4.2M426.4 714.4l-.2 4.4M428.3 715.2l-.1 3.1M431.3 715.4l-.2 2.3M433.4 715.4l.7 3.7M435.6 715l.1 4.2M438.4 715.6l-.1 3M441.5 715.2l-1.5 3.4M442.9 715.1l1 3.8M445.7 715.4l.1 2.7M448.8 715.4l-.6 2.5M452.4 715.6l-2.9 3.1M455.5 716.5l-4 .5M458.1 716.3l-3.6 1.7M463.9 718.6l-.7-4M466.3 718.4l-.4-2.8M468.5 718.2l-.3-2.5M471.5 718.6l-1.6-3.9M473.6 718.6l.3-2.9M476.8 718.3l-1-3.2M477.6 719l1.1-4.1M481.1 719.2l-.9-3.9M483.4 718.9l.1-3.8M485.9 718.3l.8-3.2M488.3 718.4l.1-2.4M491.7 717.6l-.7-2M492.9 718.3l.9-3.6M495.9 717.7l-.2-2.3M498.2 718.1l1.3-2.5M500.5 718.3l.5-2.9M502.1 718.2l2.9-3.1M412.8 719.5l-3.9-.8M415.3 719.8l-3.7-.5M417.8 719.3l-2.9 .6M420.4 718.4l-3 2.8M421 717.9l0 2.4M422.5 717.5l1.7 3.9M425.1 718.5l1.4 2.5M429 718.4l-.6 2.8M430.4 718.8l1.4 1.9M433.9 718.3l-.2 2.3M435.3 718.1l1.2 3M437.9 717.7l.4 4.2M442.2 717.8l-2.1 3M443.1 717.7l1 3.8M445.6 718l.2 2.1M448.8 717.4l0 3.5M451.9 719.2l-2.3 .5M455.4 719.7l-4.2-1.1M456.7 719l-2.1 1.3M459.6 718.1l-1.6 2M461.5 717.9l-1.6 3.2M463.1 720.6l1.2-3.2M465.9 720.8l-.1-2.2M468.1 721l.8-3.3M469.4 721.1l3-3M472.5 721l2.5-3.6M475.8 721.8l.6-4M479 721.9l-.4-4.3M480.7 720.7l0-2.5M483.9 721l-1-3.6M485.9 721.1l.5-2.6M488.2 721.3l.7-3.5M490.4 721.5l.9-3.6M492.5 721.6l1.3-3.8M496.5 720.9l-.2-3.6M499.1 720.2l-.5-2.3M501.7 721.4l-1.4-4M505.1 720.8l-2.8-3.4M407.1 721.4l-2 1M410 721.8l-3.5-.2M412.3 721.5l-2.7 .9M415.2 723l-2.7-1.6M418 722.9l-3.8-1.9M419.8 722.6l-3.2-.8M424.1 720l-.5 3.3M427 720.3l-1.9 3.5M428.8 720.4l-1.3 3.5M431.1 720.1l0 3.3M434.4 720.4l-1.3 2.5M435.7 719.5l-.2 4.3M438.5 720.5l-.2 3.2M441.9 720.6l-2.2 3.4M442.9 720.6l.5 3.4M447 721.1l-1.8 1.5M448.3 720l.4 4.1M452.5 719.8l-2.6 3.6M453.7 720.8l-.8 2.8M456.7 720.7l-1.8 1.8M459.5 720.9l-2.3 1.4M461.5 719.8l-.3 4M464.3 724.2l-.9-4M465.3 724.1l1.1-4.3M468.5 723.5l-.4-3.4M470.5 723.6l.5-4M472.7 723.8l1.6-3.9M476.2 723.3l-.2-2.5M478.9 723.7l-1-3.1M480.6 724.2l1.1-3.9M483.7 723.2l0-2.5M486.2 723l-1.2-2.9M488.3 723.8l1-3.4M490.3 723.4l.9-2.3M494.2 723l-.6-2.6M495 723.8l1.4-3.3M498.8 724l-1.1-3.4M501.1 723.1l-1-2.7M503 723.2l.2-2.3M404.3 724.6l-1.8-1.1M407.3 724.6l-2.7-.4M410.1 723.4l-2.5 2.7M411.9 723.9l-2.2 .4M414.9 724.9l-3-.8M417.6 724.9l-2.6-.4M420.4 723.8l-3.3 .8M422.8 724.5l-3.9 .2M425.9 723.3l.1 2.8M429.5 722.2l-1.8 4.1M430.3 722.5l.7 3.2M433.7 723.5l-.9 2.3M435.3 722.9l.9 2.4M438.3 723.7l1 2.1M440.3 723.6l.8 1.9M442.4 722.3l1.6 3.8M445.9 723l.6 2.6M448.7 722.4l.3 3.6M452.2 723.3l-1.7 1.5M454.9 722.7l-3.1 3.1M460.1 723.1l-2.5 2.5M462.8 723.1l-3.3 2.5M463.7 726.7l-.2-4.3M466.8 725.2l-.9-2.3M469 725.7l-.4-2.4M470.2 726l1-3.8M474 726.7l-.9-4.1M475.6 725.6l.2-2.4M477.7 726.1l1.2-3.1M481.9 725.6l-1.4-3M482.9 725.6l1-1.9M485.8 725.7l.5-3M488.6 725.6l.1-2.2M490.5 725.4l1.2-1.7M494.3 726l-2.3-2.9M496.7 725.6l-1.5-1.7M498.8 725.7l-.8-3.4M501.1 726.5l-.2-3.9M503.8 725.5l-.3-2.9M402.9 726.9l-3.2 .7M404.9 727.1l-3.2-.1M407.8 726.4l-2.9 .2M412.5 727l-3.5-.2M415.5 726.6l-3.8-.2M419.9 727.9l-3.2-1.2M423.5 726.3l-4.3 1.1M425.2 726.6l-2.6 0M430.8 725.4l.9 3.8M433.9 724.5l-1.5 4.1M436.7 725.2l-1.5 3.2M440.1 725.6l-2.5 2.9M441 725.5l-.6 3.1M443 724.5l.5 4.1M445.3 725.4l2 3.4M449.1 724.6l-.8 4M452.2 726.1l-1.7 1.5M454.1 726.5l-1.8 1.3M458.1 725.9l-3.7 1.6M459.3 725.4l-1.9 2.5M463.1 726.1l-4.1 1.3M464.3 725.4l-2.1 2.9M466.1 728.8l.5-4.4M468.8 728.2l-1.4-2.3M470.7 728.6l-.1-3.1M474.4 728.6l-1.1-3.4M477.2 728.9l-2.1-3.6M478.9 729l-.6-4.2M480.4 728.4l.7-3.2M482.9 727.8l.6-2.2M485.2 728.8l.9-3M487.1 727.7l2.1-2.2M491.7 725.7l-1.4 2M494.7 726.1l-2.7 1.1M496.7 727.9l-.8-2.7M498.6 727.9l.5-2.4M502 725.5l-1.8 2.1M505.1 725.4l-2.9 2.4M400.2 730.2l-2.6-1.2M402.2 729.8l-2.6-.3M405.4 729l-3 .6M407.5 729.6l-2.6-1.2M410.5 728.6l-3.7 1.1M413 729.8l-3.8-.4M414.7 728.7l-1.8 1.7M418.4 729l-4.1 .2M420.5 728.8l-3.6 .7M423.2 728.9l-4.2 1.2M425.1 730.3l-2.6-1.9M425.9 728.4l.1 2.3M433.7 728.4l-.4 2.8M436.5 727.8l-1.5 3.6M438.1 728.5l.3 2.5M441.6 727.5l-.4 3.1M443.7 727.7l0 4.2M445.7 727.7l.5 3.8M448.1 727.8l.5 2.5M452.5 728.1l-3 1.8M455 729l-2.6 .8M457.4 729.3l-2.6 .6M460.1 729.1l-2.8 .7M463.1 730.6l-3.5-1.8M465.9 731.7l-.1-3.9M468.4 730.6l.9-2.1M470.6 731.4l1.4-3.5M472.8 730.9l1-2.8M476.6 731l-.9-2.8M478.7 731.1l-.1-3.3M480.5 730.8l.4-2.3M483.7 731.7l-.1-4.2M486.8 730.6l-.9-2.3M489.6 728.4l-1.9 2.3M492.2 728.6l-3 1.8M494.8 728.7l-2.2 1.1M496.7 727.6l-1.7 3.3M502.9 728.7l-3.7 2.1M504.4 728.3l-2.6 1.5M394.9 731.9l-2.2-.4M397.1 731.4l-2.6 1.5M400.3 731.8l-2.9 .2M401.9 732.7l-2.5-1.3M405.2 733l-3.7-2.3M407.8 731.3l-4 .5M412.2 732l-2-.2M417.5 731.2l-3 .6M419.8 732.3l-2.4-1M421.9 731l-1.8 1M428 730.9l.8 2.1M431.2 730l-.7 3.1M434.1 730.7l-1.7 2.2M436.1 730.7l.6 2.7M437.9 731.2l1.6 2M441.5 731.1l-.5 2.4M445.2 730.5l-3.1 3.1M446.5 730l-.3 3.1M448.2 730.7l.4 2.1M452.1 731l-3 1.7M457.2 731.1l-1.7 1.7M459.3 730.4l-1.5 2.9M462.9 732.1l-3.8-.2M465 732.3l1.7-1.2M468.9 733.1l-1.2-1.7M471.7 733.1l-1.3-1.6M472.9 733.4l1.9-2.9M475.7 733.4l1.2-3.3M477.6 733.4l1.5-3.6M480.3 732.9l.7-2.5M483.8 733.1l-.4-2.9M486.2 733.2l-.2-3M489.5 730l-2.8 3.1M493.1 732.1l-4.4 0M497.1 731l-1.8 1.1M499 730l-1.6 3M501.9 731.7l-2.5 .9M504.4 731.4l-2.2 .6M394.8 734.7l-2.7 .1M397 733.7l-2.1 1.3M402.3 734.8l-3.2 0M404.7 733.5l-2.5 1M408.1 734.9l-3.5-.8M410.6 733.8l-3.8 1.6M413.1 734.8l-3.8-.4M415 735.9l-2.3-3.4M417.4 734.5l-2 .2M423 735.6l-3.7-1.7M425.1 734.2l-3.7 0M427.3 734.6l-3.3-.2M429.7 733l-1.8 2.6M430.6 733.1l1.2 2.2M433.8 733.3l-.5 2.6M436.3 732.7l-.8 3.8M439.2 733.2l-1.1 3.1M440.6 732.1l.3 4.1M443.5 732.8l.7 3.1M447.1 733l-1.4 3.1M448.6 733.3l-.3 2.9M451.5 733.2l-1.7 2M454.5 732.6l-1.8 3M460.4 732.7l-3 2.8M465.2 734.8l-3.2-.1M465.6 735.9l.2-2.5M469.2 735.8l-1-2.4M471.5 736.4l-1.2-3.8M474 736l-.3-3M475.3 735.3l1.3-2.6M477.7 736.6l1-3.6M481.3 736.1l-.2-3.8M483.6 736.1l-.1-3.3M485.3 736.3l1.3-4.2M492.4 733.5l-3.3 1.3M495.1 733.1l-2.9 2.1M497.9 733.7l-3.4 1.7M500.1 733.6l-3.3 2M504.8 733.1l-2.4 2.5M507.5 733.7l-2.2 .9M509.8 733.1l-2.3 2.6M512.2 733.8l-3 1.2M395.1 737.2l-3.2-.1M397.2 737.6l-2.5-1.1M400 736.4l-3.4 .9M402.1 737.8l-2.4-2.5M405.4 736.8l-3.6-.5M407.6 736l-3.5 1.6M409.7 736.7l-2 .5M412.4 738.5l-2.7-3.5M415.5 737.8l-3.8-1.5M416.8 736.7l-2.4 .1M419.8 737l-3.4-.5M422.9 736.8l-3.2 .6M424.6 736.5l-2.6 .5M427.9 737.7l-3.6-2.1M430.6 735.4l.2 2.9M433.7 735l-.3 4.2M438.2 735.3l.4 3.7M444.2 735.4l-2.1 3.7M445.8 735.1l.3 3.6M448.9 734.5l-1 4M452.6 735.2l-2.8 2.8M457.4 735.3l-3 2.8M463 736l-3.3 2.1M464.8 736.6l-2.5 1.4M465.9 738.5l-.2-2.7M469.1 738.2l-1.4-3.2M471.2 738.5l-.3-2.6M473.8 738.2l-.3-2.6M476.1 738.3l-.4-3M479.2 738.1l-.9-3.1M480.4 738.2l1.1-2.7M482.6 738.4l1.4-3.4M487.4 735.1l-2.6 2.8M489.6 736.5l-2.3 1.3M492.6 735.3l-2.6 2.4M497.3 735.8l-3.3 1.7M502.9 736.6l-3.1 .4M505.4 735.6l-3.1 2.8M507 735.3l-2.7 2.6M509.9 737.4l-3-.9M513 736.9l-4.2 .7M514.9 735.9l-3 1.4M516.7 735.4l-1.6 3.1M395.3 739.4l-4.2-.8M397.2 739.8l-1.8-1.2M400.2 739.7l-2.7-.8M402.6 740l-3.8-1.5M405.3 739.6l-3.2-.3M407.4 739.6l-3.2-.5M412.7 739.8l-2.8-1.2M414.8 739.6l-2-.7M417.9 739.2l-4.3 .1M419.4 739.6l-2.2-1M422.5 739.4l-3.3 .1M424.8 739.1l-2.2 .5M427.7 738.3l-3.7 1.8M428.9 738l-.5 3.1M430.9 738l-.1 3.6M436.9 737.6l-1.3 3.6M441.2 738.5l-.8 2.5M442.9 738.2l1.2 2.7M445 737.5l1.3 3.5M453.1 738.6l-4 1.5M454.7 738.8l-2.4 1.1M456.6 737.4l-1.2 3.6M459.6 738.9l-2.4 1.8M461.5 738.1l-1.6 1.8M464.6 737.9l-2.2 2.4M466.3 741.2l-.3-3.9M468.3 741.1l.6-3.2M470.8 741l-.2-3.8M474 741.1l-.3-3.2M476.2 741.1l0-4.2M479.7 740.8l-2.5-3.5M481.8 741l-.9-2.6M484.1 737.4l-1 4.1M487.4 738l-3.4 2.3M489.3 737.5l-2.1 3.4M491.6 738.6l-1.5 1.8M495 738.3l-2.5 2.1M496.4 738.9l-1.5 1.4M500.2 738.9l-3 1.2M502.7 738.6l-2.8 1.5M507.6 738l-2.6 3.3M509.3 739.7l-2.1 .1M512.2 738.5l-1.8 1.2M514.5 738.5l-2.6 2.1M519.8 738.5l-2.2 2.3M394.9 742l-2.3-.6M396.7 740.5l-2.1 2.9M400.7 741.3l-4.2 1.1M402.7 742.5l-3.4-1M405 741.7l-2.7-.3M408.1 742.2l-3.6-1.3M409.8 741l-3.3 1.1M412.7 742.6l-3-.8M414.6 741.8l-2.4-.3M422.9 741.4l-4.3 .9M428.1 741.3l-4.1 1.7M428 740.3l1.5 3.4M433 739.7l1.6 3.8M434.7 739.7l2 3.9M440.3 740.3l.9 2.9M444.6 740l-2 3.9M446 740.5l.5 2.4M451.8 741.1l-1.5 1.6M455.4 742.1l-4.1 0M457.6 741.8l-2.6 .6M460.2 741l-3.6 1.7M462.6 741.4l-3.9 .5M464.8 740.6l-2.7 2.2M472.1 743.8l-1.6-3.1M474.3 743.5l-1-3.8M475.5 743.3l1.1-2.7M481.9 740.5l-1.8 3.2M484.2 740.3l-2 3.2M487.6 740.6l-2.4 2M489 741.3l-1.7 1.5M491.4 740.5l-1.3 2.5M496.8 741.6l-2.1 1.3M499.2 740.7l-1.3 1.7M504.6 740.2l-2.7 2.9M507.2 740.8l-1.8 2.7M510 741.7l-2.3 .9M513.1 741l-3.4 2.5M514.3 740.3l-1.2 3.3M516.8 741.3l-2.3 1.4M519.9 740.5l-2.4 2.2M394.7 745l-3-.7M397.9 743.7l-3.2 1.2M399.1 743.5l-1.9 1M402.2 746l-2.4-2.8M404.9 743.5l-3 1.4M407.8 743.5l-3.9 1.1M410.6 744.5l-4.4 0M412.3 744.5l-3-.4M415.2 743.7l-2.6 1.2M417.7 745.1l-4.1-1.1M420.6 744.5l-3.5 0M423.1 744.4l-3.8 .5M424.6 745.4l-1.7-1.5M427 744l-2.4 .2M428.4 743.3l.1 2M431.5 743.2l-.4 2.2M433.7 742.4l-1 4M436.2 743.2l.3 2.2M440.6 743.3l.9 1.9M443.8 742.6l-.9 4.1M444.7 742.9l2 3M447.6 743.1l2.6 3M456.3 743.6l-1.4 1.8M462.4 743.4l-3.6 2.1M464.9 744l-2.3 .6M469.6 743.4l-2.2 1.3M482.1 742.7l-2.3 3.7M484.2 743.2l-.6 2.1M487.7 744.4l-4.1 .3M489.6 743.8l-1.9 1M494.3 744.1l-2.1 1.2M497.9 744.1l-3.3 1.1M498.9 743.8l-.6 1.9M500.7 743.3l.5 2.3M505.3 743.3l-3.7 2.2M506.8 743l-2.1 3.3M511.8 742.6l-1.8 3.2M514.9 743.3l-2.1 1.5M517.3 743.4l-2.8 1.7M520 743.9l-3.4 1.5M394.8 746.2l-3 .8M398 746.2l-3.4 2M400.1 747l-2.5-.8M402.4 747.4l-3-1.4M404.9 746.9l-2.2-.2M410.5 746.5l-3.7 .9M412.7 747.8l-2.6-1.5M415.3 747.2l-3 0M417.6 747l-3.8 .5M420 747l-2.2 .4M422.6 745.3l-2.9 2.5M424.4 747.5l-2.4-1.1M424.8 744.9l2.6 3.3M427.6 744.9l1.5 3.3M431.4 745.4l-.4 2.7M432.3 745.1l1.8 3.9M437.1 745.1l-1.6 3.5M438.3 745.3l-.2 3.1M441.2 745.3l-.3 3.1M447.3 745.1l-1.8 2.8M448 744.7l1.3 4M452.1 746.2l-2.5 1.3M454.5 745.8l-2.4 2M457.5 746.5l-3 1M459 745l-1.2 3.8M463 746.9l-3.5-.6M467.7 747.2l-2.9-.4M482.4 745.7l-2.8 2.7M485.2 746.3l-3.8 1.9M487.9 746.1l-3.5 1.3M490.6 745.7l-3.9 1.8M492 745l-1.8 3.3M495 746.3l-2.2 .9M496.7 745.8l-1.5 3M499.5 745.6l-2.6 3.4M502.4 745.7l-3 2.6M504.6 745.9l-2.2 2.5M508 746.5l-3.9 1.1M510.5 745.8l-3.4 1.7M512.5 746.6l-3.8 1.4M516.9 745.6l-2 3.4M519.7 745.6l-3.1 2.2M395.6 749.7l-3.4-.1M397.8 749.1l-3.3 .6M400.6 750l-4-1.3M402.1 750.6l-2.8-2.9M405.5 749.4l-3.8 .7M409.6 749.4l-2.7-.3M414.6 749.6l-2.4-.1M417.1 748.6l-1.9 1.1M419.4 749.1l-2.3 .6M422.2 749.5l-2.1-.5M424.9 749.4l-3.2-.5M427.4 748.1l-2.1 2.7M428.1 747.6l1.1 3.1M430.5 748.6l.9 2.1M434 748.4l-.7 2.5M436 748.3l.2 2.3M438.2 747.6l0 3.4M442.7 747.8l1.6 2.9M447.5 747.8l-2.3 3.2M452.6 749.1l-3.2 .9M460.6 748.6l-3.5 2.3M462.2 748.1l-2.9 2.2M476.9 748.1l-1.7 3.2M480.1 749.3l-3.7 0M483.8 748.6l-1.4 1.7M487.7 748.4l-2.8 2.2M489.2 749.4l-2.1 .8M492.3 748.7l-2.7 1.7M503 748.9l-4.2 1M504.6 748.5l-1.8 2M510.5 748.3l-3.6 2M511.4 747.7l-1.3 2.9M514.8 747.6l-2.2 3.4M398.5 752.3l-4.4-.2M399.6 753l-1.4-2.5M403 751.9l-4.4 .5M404.3 751.3l-2 1.7M407.9 751.9l-3.5-.5M410.6 751.4l-3.9 1.5M412.9 750.5l-3.6 2.1M414.8 751.6l-2.3 0M418.1 751.3l-4 .7M420.8 752.5l-3.9-.5M425.2 751.7l-3 .1M427.9 750.4l.5 2.2M432.6 750.6l1.3 2.1M436.2 751.1l.3 2.3M438.4 750.5l.7 2.5M446.4 750.6l-.3 2.9M448.6 749.9l.5 4.4M451.8 750.6l-1.3 1.9M458.1 751.7l-4-.2M459.9 751.6l-2.7 .5M475.2 750.6l-4 1.8M479.7 751.1l-1.8 1.1M488.4 751.1l-4.2 1.1M490.4 751.1l-3.1 1.3M498.4 751.6l-4.2-.1M502.6 750.8l-3.8 1.6M504.3 750.5l-2.4 3.5M507.3 750.8l-3.2 1.6M404.7 754.9l-1.8-.9M407 753.8l-2.5 1.3M415.2 753.8l-2.7 .4M418.1 754.4l-3.6 0M419.8 754.7l-2-.3M425.2 755.4l-3.3-2M430 753.8l-2.7 1.9M430.4 752.6l1 4.2M434 753.4l-.3 2.4M435 753l1.3 2.3M440 752.5l2.2 3.4M446.4 753.1l-.4 2.2M448.3 752.9l-.1 2.9M453 753.3l-4 1.7M460 752.9l-3.1 2.4M479.5 753.3l-1.4 1.9M407.8 756.8l-3.7-.5M410.8 757.2l-3.8-1.3M412.9 757.4l-3.6-.7M417.3 755.9l-2.5 1.7M419.9 758.2l-3.5-1.9M423.3 757.3l-4.3-.2M431.2 755.3l.2 2.8M435.5 755.3l1.6 3.4M437.6 755l1.1 3.3M440.5 755.9l1.7 2.7M443.5 755.7l-.5 2.6M445.7 755.8l0 2.1M452.3 755.5l-2.8 2.5M462.6 756.5l-3.5 0M467.1 756.2l-2 1.1M470.7 755.3l0 3.1M474.5 755.7l-1.8 2.5M415.9 759.6l-4.4-.5M417.5 760.3l-3.7-1.1M420 759.4l-3.2 .7M421.8 759.5l-2.1 .2M437.9 757.2l1.2 3.7M441.6 758l-1.4 2.6M443.4 757.2l-.1 4.4M445.8 758.2l.4 2.5M448.9 757.3l-1.3 3.5M462.5 758.7l-3.4 1.4M464.2 758l-2 2.2M470.8 759.3l-4.2 .5M415.1 761.9l-3.4-.6M418.2 761.8l-3.7-.5M421.3 760.5l.1 3M425.9 759.9l.7 3.6M433.6 760.6l-.4 3.2M441.1 760.2l-.6 2.8M443.1 760.6l.3 2.6M472.5 760.9l-2.3 1.9M423 762.9l.7 3.6M425.8 762.6l-.3 4M430.9 763.1l-.5 3M433.9 762.6l-.4 4.3M436.5 762.1l-.5 4.4M464.6 763l-2.9 2.4M479.1 763.4l-1.8 2.5M418.3 765.9l.6 2.1M420.3 765.2l2.1 2.6M424.1 765l-1.5 3.2M428.8 765.1l.1 3.2M431.2 765.4l.1 2.6M433.8 765.5l-.5 3M435.2 765.7l.9 2.3M439.1 765.6l-.6 3.2M467.9 767.2l-3.1 .2M481.6 765.3l-1.6 2.6M425.4 767.8l.7 2.9M428 767.7l1 2.8M430.2 767.1l1 4M433.9 767.6l-1.4 3M436.5 768.1l-.5 3.1M482.4 768l-2.5 3M420.8 770.5l.8 3.4M425.6 770.3l.2 3.2M428.3 771.1l-.4 2.4M421.9 772l-1.4 4.2M423.1 773l1.2 2.8M426.8 773.4l-1.3 1.8M436.2 773.4l0 2.3M425.8 776l.2 2.3M427.9 775.1l1.2 3.2M434.1 775.9l-.7 2.7M435.5 775.8l.6 2.8M428.6 778l.5 3.3M432.2 777.5l2.4 3.4" stroke="#000" stroke-width="0.65" fill="none"/><path d="M416.5 676.2l-.8-1.5 1.4-.1zM419.5 676.6l-1.3-1.2 1.3-.5zM415.2 678.7l.1-1.7 1.2 .6zM416.5 681.8l-.8-1.5 1.3-.1zM413.9 683.5l-.7-1.6 1.3 0zM415.3 684.5l-.4-1.7 1.3 .2zM414.4 686.5l-1.1-1.3 1.2-.4zM417.2 687l-1.3-1.1 1.1-.6zM413.4 689.3l-.5-1.7 1.3 .1zM416.6 688.5l-1.1-1.4 1.3-.4zM414.3 691.3l-1.3-1.1 1.1-.7zM415.4 691.3l-.4-1.7 1.3 .2zM504.3 687.3l-.1 1.7-1.2-.6zM414.3 694l-1.3-1.1 1.2-.6zM417.8 693.5l-1.7-.4 .8-1.1zM501 689.7l.8 1.6-1.3 .1zM502.2 690.4l1.5 .8-1 .8zM412.7 696.1l-.1-1.8 1.2 .4zM416.2 697l-.6-1.6 1.3 .1zM437.9 696.5l-.2-1.7 1.3 .4zM440.9 696l-.4-1.7 1.3 .2zM443.8 696.1l-1.1-1.4 1.3-.3zM500.4 692.7l-.8 1.6-.9-1.1zM502.3 691.9l-.2 1.7-1.2-.6zM504.1 692l.2 1.7-1.3-.4zM413.5 698.9l-.9-1.5 1.3-.2zM415.6 699.3l-.6-1.6 1.3 0zM434.1 698.6l-1.1-1.4 1.2-.4zM436.8 699.2l-.9-1.4 1.3-.3zM439.3 698.8l-1.1-1.3 1.2-.4zM440.8 698.5l-.3-1.7 1.3 .3zM443.2 698.6l-.1-1.7 1.3 .4zM445.3 699.3l-.2-1.7 1.3 .4zM446.7 698.4l.9-1.5 .8 1zM448.9 696.9l1.5-.8 .2 1.3zM452.1 698l1-1.5 .7 1.1zM454.3 698.1l.9-1.4 .8 1.1zM482.8 694.6l1.2 1.2-1.2 .5zM486.2 694.7l.8 1.5-1.3 .2zM488.4 694.7l.5 1.6-1.3-.1zM491.9 694.7l0 1.8-1.2-.6zM495.1 695.2l-.7 1.6-.9-.9zM496.1 694l.5 1.6-1.3-.1zM497.3 694.9l1.4 1-1.1 .7zM500.3 694.6l1.2 1.3-1.2 .5zM502.4 695.2l1.5 .9-1.1 .8zM414.6 700.6l-1.5-.9 1.1-.8zM415.3 701.8l-.2-1.8 1.2 .4zM430 701.5l.1-1.8 1.2 .6zM433.1 701l-.2-1.7 1.2 .4zM436.3 701.4l-.9-1.5 1.3-.1zM438.2 701.1l-.6-1.6 1.3 0zM442.1 700.7l-1.3-1.1 1.1-.6zM442 700.8l.6-1.7 1 .9zM446.1 702.2l-.9-1.5 1.3-.2zM448.8 700.9l-1.2-1.3 1.2-.4zM450.7 701.5l-.2-1.7 1.2 .4zM451.9 700.7l.8-1.5 .8 1.1zM454.1 699.9l1.3-1.3 .5 1.3zM483.3 697.2l.9 1.4-1.3 .3zM485.4 696.8l.9 1.5-1.3 .2zM488.1 697l.8 1.5-1.3 .2zM491.8 697.5l0 1.7-1.2-.5zM494.3 697.4l-.1 1.7-1.2-.5zM495.7 697.2l1.1 1.3-1.3 .4zM497.8 696.8l1.1 1.4-1.3 .3zM500.2 696.8l1.2 1.2-1.2 .5zM503.3 697l.9 1.5-1.3 .2zM412.3 704l-.1-1.7 1.3 .4zM417.3 703.9l-1.3-1.1 1.2-.6zM427.3 703.7l-1.5-.9 1-.8zM428.5 703.7l-.6-1.7 1.3 .1zM431.2 703.7l-.8-1.5 1.4-.1zM433.2 703.5l-.3-1.7 1.3 .3zM436.4 704l-1.1-1.4 1.3-.3zM438.6 704.4l-.9-1.5 1.3-.1zM440.4 704.3l-.1-1.7 1.2 .4zM443.9 703.7l-1.2-1.3 1.3-.4zM446.7 704.4l-1.3-1.2 1.3-.5zM448.2 704.2l-.6-1.6 1.4 .1zM450 703.2l.2-1.7 1.2 .6zM452.5 703.3l.4-1.7 1.1 .8zM454.9 702.6l.9-1.5 .8 1.1zM483.8 700.7l.6 1.6-1.3-.1zM485.7 699.8l.9 1.5-1.3 .2zM487.9 699.8l1.1 1.3-1.3 .4zM490.6 700.6l1.2 1.2-1.2 .5zM493 699.6l1.2 1.4-1.3 .4zM496.9 700.1l.1 1.7-1.2-.5zM498.5 699.1l.9 1.5-1.3 .2zM499.2 700l1.5 1-1.1 .7zM502.9 699.6l.9 1.4-1.3 .2zM413.8 706.7l-.9-1.5 1.4-.2zM415.2 705.9l-.3-1.7 1.3 .3zM421.3 705.8l-1-1.4 1.2-.3zM424.2 706.6l-1.1-1.4 1.3-.4zM426.9 705.8l-1.5-.8 1-.8zM429.2 706l-.9-1.4 1.3-.3zM430.9 706.7l-.8-1.5 1.3-.2zM434.5 706.5l-1.4-1.1 1.1-.7zM436.8 705.7l-1.1-1.4 1.3-.3zM438.6 706.3l-.8-1.5 1.3-.2zM441.3 706.4l-.6-1.6 1.3 0zM443.8 706.4l-1.1-1.4 1.3-.3zM446.6 706.1l-1.2-1.3 1.3-.4zM448.2 705.6l-.7-1.5 1.3-.1zM449.9 705.5l.7-1.6 .9 1zM452.2 704.8l1.4-1 .3 1.2zM454.3 706l.8-1.5 .8 1.1zM481.1 702.5l.8 1.5-1.3 .2zM484.9 702.1l-.1 1.7-1.2-.5zM484 702.2l1.5 .8-1 .9zM488.4 702.3l.9 1.5-1.3 .1zM491.4 702.3l.3 1.7-1.3-.2zM494.1 701.9l.5 1.7-1.3-.1zM495.6 701.7l.7 1.6-1.3 .1zM498.2 702.6l1 1.5-1.3 .2zM501 701.4l.5 1.7-1.4-.2zM503.5 702.6l.5 1.7-1.3-.1zM414.4 709.2l-1.2-1.2 1.2-.5zM415.7 708.9l-.3-1.7 1.3 .3zM417.4 709.4l0-1.8 1.2 .6zM421.5 708.9l-1.3-1.2 1.2-.5zM424.2 708.9l-1.2-1.2 1.2-.5zM426 708.6l-.7-1.6 1.3 0zM428.3 709.2l-.5-1.7 1.3 .2zM432 709.1l-1.2-1.2 1.2-.5zM433.2 709.6l-.3-1.7 1.3 .2zM436.7 708.6l-1.3-1.2 1.3-.5zM438.6 708.7l-1-1.4 1.3-.3zM441.6 709.5l-.9-1.5 1.3-.2zM443 708.9l-.4-1.7 1.3 .2zM447 708.1l-1.7-.5 .9-1zM449.6 708.5l-1.3-1.1 1.1-.6zM448.7 707.4l1.4-1 .3 1.3zM452.5 708.4l.5-1.6 1 .8zM454.1 707.9l1.1-1.3 .6 1.1zM479.5 704.6l.2 1.7-1.3-.4zM482 705.3l0 1.7-1.2-.5zM484.7 704.2l.1 1.7-1.3-.5zM486 704.4l.7 1.6-1.3 0zM489 705l.1 1.8-1.2-.5zM490.4 704.9l.9 1.4-1.3 .3zM493.6 705.2l.9 1.5-1.3 .2zM495.7 704.5l1 1.4-1.3 .3zM498.5 705.1l.4 1.7-1.3-.3zM500.1 704.9l1.3 1.2-1.2 .6zM503.2 704.1l1 1.4-1.3 .3zM415.1 711.5l-.1-1.8 1.2 .5zM419 711.6l-.8-1.6 1.4 0zM420.2 711.3l-.2-1.8 1.2 .4zM422.6 710.7l.1-1.7 1.2 .5zM426 710.9l-.7-1.6 1.3 0zM427.8 711.2l.3-1.7 1.1 .8zM432.1 711l-1.3-1.1 1.2-.6zM433.5 711.6l-.5-1.6 1.3 .1zM436.6 711.1l-1.1-1.3 1.3-.4zM437.7 712l-.4-1.7 1.3 .2zM440 711.2l.3-1.7 1.1 .8zM443.5 712l-.7-1.6 1.4 0zM443.2 710.2l1.4-1 .3 1.2zM449.8 710.7l-1.4-1.1 1.2-.6zM449.7 710.1l1.2-1.2 .6 1.2zM451.7 710.4l1.1-1.3 .6 1.1zM454.9 711.2l.2-1.7 1.2 .6zM472.7 707.5l1.4 1-1.1 .7zM475.5 707.5l1 1.4-1.2 .3zM478.2 707.6l1 1.4-1.3 .2zM480.5 707.6l1.1 1.3-1.3 .4zM483.1 707.1l1 1.4-1.3 .3zM485.4 707.6l1 1.4-1.3 .3zM488.1 707.4l1 1.4-1.3 .3zM490.3 707.4l1.1 1.3-1.3 .4zM494.4 706.7l.2 1.7-1.3-.4zM495 707.9l1.3 1.2-1.3 .5zM498.3 708.1l.6 1.6-1.3 0zM501.5 707.6l.4 1.6-1.3-.2zM501.8 708.1l1.7 .3-.7 1.1zM414.3 713.7l-1.2-1.4 1.3-.4zM415.6 713.9l-.3-1.7 1.3 .3zM417.7 713.4l.4-1.6 1.1 .8zM422.2 713.7l-1.4-1.1 1.2-.6zM423.8 714l-.7-1.6 1.3 0zM424.7 713.6l.4-1.7 1.1 .8zM428.2 714l-.2-1.8 1.3 .4zM431.1 714.4l-.7-1.6 1.3 0zM434.2 714l-1-1.4 1.3-.4zM436.5 714.6l-1-1.5 1.2-.2zM437 714l.2-1.7 1.2 .6zM439.7 713.9l.2-1.7 1.2 .6zM443 713.7l-.4-1.7 1.3 .2zM445.4 713.5l-.4-1.7 1.3 .2zM449 714.2l-.8-1.5 1.3-.2zM448.9 711.9l1.6-.7 0 1.3zM451.2 713.2l1.2-1.3 .6 1.2zM453.7 712.4l1.3-1.1 .4 1.2zM465.6 710.5l1 1.4-1.3 .3zM469.3 710.4l.2 1.7-1.2-.3zM471.2 709.4l.7 1.6-1.3 0zM472.8 709.2l.9 1.4-1.3 .3zM475.6 709.1l.8 1.5-1.3 .2zM479.2 709.7l0 1.8-1.2-.5zM481.6 709.6l0 1.7-1.2-.4zM485.5 709.9l-.5 1.6-1.1-.8zM484.4 709.3l1.3 1.1-1.1 .6zM488 709.9l1.2 1.4-1.3 .4zM490.6 709.5l.8 1.5-1.3 .1zM493.9 709.9l.6 1.6-1.3 0zM497.5 710l-.4 1.7-1.1-.8zM497.8 710.2l1.3 1.1-1.2 .6zM501 709.2l.5 1.6-1.3-.1zM504.8 709.7l-.4 1.7-1.1-.8zM409.2 712.7l1.6 .6-.8 1zM412.1 713.8l1.7-.2-.3 1.3zM416.1 716.3l-.7-1.6 1.3 0zM418.1 715.8l-.5-1.7 1.3 .2zM420.1 716.4l-.1-1.7 1.2 .3zM423.9 716.5l-1-1.4 1.3-.3zM425.4 716.2l-.5-1.6 1.3 .1zM429.2 716l-1-1.4 1.3-.3zM430.5 715.9l.1-1.8 1.2 .6zM433.9 716.5l-.9-1.5 1.3-.2zM436.1 716.3l-.4-1.7 1.3 .2zM439.4 716.1l-1.2-1.3 1.2-.5zM440.2 715.8l0-1.7 1.3 .5zM443.7 716.6l-.9-1.6 1.4-.1zM447 715.9l-1.4-1.1 1.2-.6zM448.1 716.2l-.3-1.7 1.3 .3zM448.5 715.5l1-1.5 .7 1.2zM453.2 716.4l-.1-1.7 1.2 .4zM453.7 716.3l.8-1.5 .9 1zM466.5 712l.3 1.7-1.3-.2zM469.3 713.2l.1 1.8-1.3-.5zM471.4 711.9l.5 1.6-1.4-.1zM473.6 712.8l.7 1.5-1.3 .1zM475.5 712.8l1.3 1.1-1.2 .7zM479.3 712.2l.2 1.7-1.2-.3zM480.1 711.7l1.1 1.3-1.2 .5zM483.8 712.2l.1 1.7-1.3-.4zM486.3 712l.3 1.7-1.3-.2zM488.3 712.6l.6 1.6-1.3-.1zM490.1 712.3l1.2 1.3-1.3 .4zM492.3 712.8l1.5 .8-1 .9zM495.9 712.3l.7 1.6-1.3 0zM497.2 712.2l1.4 1.1-1.2 .7zM499.6 712.9l1.5 .9-1 .8zM504 711.9l.6 1.6-1.3-.1zM409.5 716.7l1.7-.6-.1 1.4zM412.1 716.8l1.6-.6-.1 1.3zM414.3 717.6l1.3-1 .4 1.2zM418.4 719.1l-.4-1.7 1.3 .2zM420.9 719l-.3-1.7 1.3 .3zM422.8 719.4l-.4-1.7 1.3 .2zM426.2 719.3l-.6-1.6 1.3 0zM428.2 718.8l-.6-1.6 1.3 0zM431.1 718.2l-.5-1.6 1.3 .1zM434.2 719.6l-1-1.5 1.3-.2zM435.8 719.7l-.8-1.6 1.4 0zM438.3 719.1l-.6-1.6 1.3 0zM439.8 719.1l0-1.7 1.2 .5zM444 719.4l-1-1.4 1.2-.3zM445.8 718.6l-.7-1.6 1.3 0zM448.1 718.4l-.3-1.7 1.3 .3zM449.1 719.1l.7-1.7 .9 .9zM451 717.1l1.5-.9 .2 1.3zM454.1 718.2l1.2-1.3 .5 1.2zM463.1 714.2l.9 1.4-1.3 .2zM465.8 715.1l.9 1.5-1.3 .2zM468.1 715.2l.9 1.5-1.4 .2zM469.7 714.2l1.2 1.2-1.2 .5zM473.9 715.2l.5 1.7-1.3-.1zM475.7 714.6l1.1 1.3-1.3 .4zM478.9 714.5l.1 1.7-1.2-.4zM480.1 714.8l1 1.4-1.3 .3zM483.5 714.6l.6 1.6-1.3-.1zM486.8 714.6l.3 1.7-1.3-.3zM488.5 715.5l.5 1.6-1.3-.1zM490.8 715.2l1.2 1.2-1.2 .5zM494 714.2l.2 1.7-1.3-.3zM495.6 714.9l.8 1.5-1.3 .1zM499.7 715.2l-.1 1.7-1.2-.6zM501 714.9l.4 1.7-1.3-.2zM505.4 714.8l-.7 1.6-.9-.9zM408.4 718.6l1.7-.4-.3 1.3zM411.1 719.3l1.7-.5-.2 1.3zM414.4 720l1.4-.9 .3 1.3zM417 721.5l.7-1.5 .9 .9zM421.1 720.8l-.8-1.6 1.4 0zM424.4 721.9l-1.2-1.2 1.2-.5zM426.8 721.5l-1.4-1.1 1.2-.7zM428.4 721.6l-.4-1.7 1.3 .3zM432.1 721.1l-1.5-.9 1.1-.8zM433.6 721.1l-.5-1.6 1.3 .1zM436.6 721.6l-1.2-1.3 1.3-.5zM438.4 722.4l-.8-1.5 1.3-.1zM439.8 721.2l.4-1.7 1.1 .8zM444.2 722l-1.1-1.4 1.3-.3zM445.8 720.6l-.8-1.5 1.3-.1zM448.9 721.4l-.7-1.6 1.3 0zM449.1 719.8l1.4-1 .3 1.3zM450.7 718.5l1.7-.2-.3 1.2zM454.1 720.6l1-1.4 .7 1.1zM457.7 720.5l.5-1.7 1 .9zM459.7 721.5l.1-1.7 1.2 .6zM464.5 717l0 1.7-1.2-.5zM465.8 718.1l.7 1.5-1.3 .1zM469 717.3l.3 1.7-1.3-.3zM472.7 717.7l-.6 1.6-1-.9zM475.3 717l-.4 1.7-1.1-.8zM476.5 717.3l.4 1.6-1.3-.2zM478.5 717.1l.8 1.5-1.3 .2zM480.7 717.7l.6 1.6-1.3 0zM482.7 717l1.1 1.3-1.3 .4zM486.5 718l.4 1.7-1.3-.3zM489 717.3l.4 1.7-1.3-.2zM491.4 717.4l.3 1.8-1.3-.4zM493.9 717.3l.2 1.8-1.3-.5zM496.2 716.8l.8 1.5-1.3 .1zM498.5 717.4l1 1.4-1.3 .3zM500.2 717l1.1 1.2-1.2 .5zM502 717l1.5 .9-1 .8zM404.6 722.6l1.2-1.3 .6 1.2zM406 721.5l1.7-.5-.1 1.3zM409.1 722.6l1.3-1.2 .5 1.3zM412.1 721.2l1.7 .2-.6 1.2zM413.8 720.8l1.7 .1-.6 1.2zM416.2 721.6l1.7-.2-.4 1.3zM423.6 723.8l-.5-1.6 1.3 .1zM424.9 724.2l.2-1.7 1.1 .6zM427.3 724.3l0-1.7 1.2 .5zM431.1 723.9l-.6-1.6 1.3 0zM432.9 723.3l.1-1.7 1.2 .6zM435.5 724.3l-.6-1.6 1.3 .1zM438.2 724.2l-.5-1.6 1.3 .1zM439.4 724.4l.3-1.7 1.1 .7zM443.5 724.5l-.9-1.5 1.3-.2zM444.8 723l.8-1.6 .8 1zM448.8 724.6l-.8-1.5 1.3-.1zM449.6 723.8l.4-1.7 1.1 .8zM452.8 724l-.2-1.7 1.3 .4zM454.6 722.8l.6-1.6 .9 1zM456.8 722.6l1-1.4 .7 1.1zM461.2 724.3l-.6-1.6 1.4 .1zM463.3 719.7l1 1.4-1.3 .3zM466.5 719.4l.3 1.7-1.3-.4zM468 719.6l.9 1.5-1.3 .2zM471.1 719.1l.4 1.7-1.3-.2zM474.5 719.5l0 1.7-1.2-.5zM475.9 720.3l.8 1.5-1.3 .2zM477.7 720.1l1.1 1.3-1.2 .4zM481.8 719.8l.2 1.7-1.3-.3zM483.6 720.2l.8 1.6-1.4 .1zM484.9 719.6l1.2 1.3-1.3 .5zM489.4 719.9l.2 1.7-1.2-.3zM491.4 720.7l0 1.7-1.2-.5zM493.5 719.9l1 1.4-1.3 .3zM496.6 720l0 1.8-1.2-.6zM497.5 720.1l1.1 1.3-1.2 .5zM499.9 719.9l1.2 1.3-1.2 .4zM503.2 720.4l.6 1.6-1.3-.1zM402.1 723.2l1.7 .3-.7 1.1zM404.1 724.2l1.7-.5-.2 1.3zM407.3 726.5l.6-1.6 .9 .9zM409.2 724.4l1.4-.9 .3 1.3zM411.4 723.9l1.7-.2-.3 1.3zM414.5 724.4l1.7-.4-.2 1.3zM416.7 724.8l1.3-1.1 .4 1.3zM418.4 724.8l1.5-.8 .1 1.3zM426 726.6l-.7-1.6 1.3 0zM427.5 726.7l.1-1.7 1.2 .5zM431.1 726.2l-1-1.5 1.3-.2zM432.6 726.3l0-1.8 1.2 .5zM436.4 725.8l-1.2-1.3 1.2-.5zM439.5 726.2l-1.3-1.2 1.2-.5zM441.3 726l-1.2-1.2 1.2-.5zM444.2 726.5l-1.2-1.2 1.2-.5zM446.7 726.1l-1-1.4 1.2-.3zM449 726.5l-.8-1.5 1.3-.1zM450.1 725.1l.8-1.5 .9 1zM451.5 726.2l.6-1.6 1 .9zM457.2 726l.7-1.6 .9 .9zM459.1 725.9l.9-1.4 .8 1zM463.5 721.9l.7 1.6-1.3 0zM465.7 722.5l1.2 1.2-1.2 .5zM468.5 722.8l.9 1.5-1.3 .2zM471.3 721.7l.2 1.7-1.2-.3zM473 722.2l1 1.4-1.3 .3zM475.8 722.7l.6 1.7-1.4-.1zM479.1 722.5l0 1.7-1.2-.5zM480.3 722.2l1.3 1.1-1.2 .6zM484.2 723.3l-.2 1.7-1.2-.6zM486.3 722.2l.5 1.7-1.3-.2zM488.8 722.9l.5 1.7-1.3-.1zM491.9 723.3l-.3 1.7-1.1-.8zM491.7 722.7l1.5 .8-1 .8zM494.8 723.6l1.6 .7-1 .9zM497.9 721.8l1 1.4-1.3 .3zM500.9 722.1l.7 1.6-1.3 0zM503.4 722.1l.9 1.5-1.4 .2zM399.2 727.7l1.4-1 .3 1.3zM401.2 727l1.6-.6 0 1.3zM404.4 726.6l1.6-.7 0 1.3zM408.5 726.8l1.7-.6-.1 1.3zM411.2 726.4l1.6-.6-.1 1.4zM416.2 726.5l1.7 0-.5 1.2zM418.8 727.5l1.4-1 .3 1.2zM422.1 726.6l1.6-.7 0 1.4zM431.8 729.7l-1-1.4 1.3-.3zM432.2 729.1l0-1.7 1.2 .4zM435 728.9l.1-1.7 1.2 .5zM437.3 728.9l.6-1.7 1 .9zM440.3 729.1l-.3-1.8 1.3 .3zM443.5 729.1l-.8-1.5 1.3-.2zM447.6 729.2l-1.4-1 1.1-.7zM448.2 729.1l-.3-1.7 1.3 .3zM450.2 727.9l.7-1.5 .9 .9zM451.9 728.1l.9-1.4 .7 1zM453.9 727.7l1.2-1.2 .5 1.2zM457.1 728.3l.4-1.7 1.1 .8zM458.5 727.5l1.3-1.1 .4 1.3zM461.9 728.7l.4-1.7 1.1 .8zM466.6 723.9l.5 1.7-1.3-.1zM467.1 725.5l1.4 1-1.1 .7zM470.6 725l.7 1.5-1.3 .1zM473.1 724.7l1.2 1.3-1.3 .5zM474.9 724.8l1.4 1.1-1.2 .6zM478.2 724.3l.9 1.5-1.3 .2zM481.2 724.7l.3 1.7-1.3-.3zM483.6 725.1l.2 1.7-1.3-.3zM486.3 725.3l.1 1.7-1.2-.4zM489.5 725.2l-.6 1.6-1-.9zM490.1 728.1l.3-1.7 1.1 .7zM491.6 727.4l1.2-1.2 .5 1.2zM495.8 724.8l1.1 1.3-1.3 .4zM499.1 725l.4 1.7-1.3-.3zM499.9 728l.5-1.6 1 .8zM501.8 728.1l.8-1.5 .8 1zM397.1 728.7l1.7 .1-.5 1.2zM399.1 729.5l1.6-.5-.1 1.3zM401.9 729.6l1.5-.9 .2 1.3zM404.4 728.2l1.8 .1-.6 1.1zM406.3 729.9l1.3-1.1 .4 1.3zM408.7 729.4l1.6-.5-.1 1.3zM412.5 730.8l.8-1.6 .9 1zM413.8 729.2l1.5-.8 .1 1.4zM416.4 729.6l1.4-.9 .3 1.3zM418.5 730.2l1.4-1.1 .4 1.3zM422.1 728.1l1.7 .4-.8 1.1zM426 731.2l-.7-1.6 1.3 0zM433.2 731.7l-.4-1.7 1.3 .2zM434.8 731.9l0-1.8 1.2 .6zM438.5 731.5l-.9-1.5 1.3-.2zM441.1 731.1l-.4-1.7 1.3 .2zM443.7 732.4l-.6-1.6 1.3 0zM446.3 732l-.9-1.5 1.3-.2zM448.7 730.8l-1-1.5 1.3-.2zM449.1 730.2l1-1.4 .7 1.1zM451.9 729.9l1.3-1.1 .4 1.3zM454.3 730l1.4-1 .3 1.3zM456.8 729.9l1.4-1 .3 1.3zM459.2 728.6l1.7 .1-.6 1.2zM465.8 727.3l.7 1.5-1.4 .1zM469.5 728.1l0 1.7-1.2-.6zM472.2 727.4l0 1.7-1.2-.4zM474 727.6l.1 1.7-1.3-.4zM475.5 727.8l1.2 1.3-1.3 .4zM478.6 727.3l.7 1.6-1.3 0zM481 728l.4 1.7-1.3-.3zM483.6 727l.7 1.6-1.3 .1zM485.7 727.9l1.2 1.2-1.2 .5zM487.4 731.1l.5-1.7 1.1 .9zM488.8 730.7l1-1.4 .7 1.1zM492.2 730l1.1-1.3 .6 1.2zM494.8 731.3l.1-1.7 1.2 .6zM498.8 731l1.1-1.3 .6 1.1zM501.4 730.1l1-1.4 .7 1.1zM392.2 731.4l1.7-.3-.2 1.3zM394.1 733.2l1-1.4 .7 1.2zM396.9 732.1l1.5-.8 .1 1.3zM398.9 731.1l1.7 .2-.6 1.2zM401.1 730.4l1.7 .3-.7 1.1zM403.3 731.8l1.6-.8 .1 1.3zM409.7 731.7l1.7-.5-.2 1.4zM414 731.9l1.5-.9 .2 1.3zM416.9 731.1l1.8 0-.5 1.2zM419.7 732.3l1.1-1.4 .6 1.2zM429 733.4l-1.2-1.2 1.2-.5zM430.3 733.6l-.2-1.7 1.3 .3zM432.1 733.3l.5-1.7 1 .8zM436.8 733.9l-1-1.4 1.3-.3zM439.8 733.6l-1.5-.9 1-.8zM440.9 734l-.3-1.7 1.3 .2zM441.7 733.9l.7-1.6 .9 1zM446.1 733.6l-.5-1.7 1.3 .2zM448.7 733.3l-1-1.5 1.3-.2zM448.7 732.9l1.1-1.4 .6 1.2zM455.1 733.2l.7-1.6 .9 .9zM457.6 733.7l.1-1.7 1.2 .6zM458.6 731.9l1.6-.6 0 1.3zM467.1 730.9l-.9 1.4-.8-1.1zM467.4 731l1.4 .8-1 .8zM470 731.1l1.6 .8-1 .8zM475 730.1l-.3 1.7-1.1-.7zM477 729.6l.1 1.7-1.2-.4zM479.3 729.4l0 1.7-1.2-.5zM481.1 729.9l.3 1.7-1.3-.3zM483.3 729.7l.9 1.5-1.3 .2zM486 729.7l.8 1.5-1.4 .1zM486.4 733.4l.6-1.6 .9 .9zM488.2 732.1l1.6-.7 0 1.4zM494.9 732.4l1-1.4 .7 1.1zM497.1 733.5l.2-1.7 1.2 .6zM498.9 732.8l1.3-1.2 .5 1.3zM501.7 732.1l1.4-1.1 .3 1.3zM391.6 734.9l1.6-.8 0 1.3zM394.5 735.3l1-1.4 .7 1.1zM398.6 734.7l1.7-.6-.1 1.3zM401.8 734.7l1.2-1.2 .5 1.2zM404.1 734l1.7-.3-.3 1.3zM406.3 735.6l1.3-1.3 .5 1.3zM408.8 734.4l1.7-.5-.2 1.3zM412.4 732.1l1.4 1-1.1 .7zM414.9 734.7l1.5-.8 .1 1.3zM418.8 733.7l1.8 0-.6 1.2zM420.9 734.2l1.6-.7 0 1.4zM423.5 734.4l1.7-.6-.1 1.3zM427.6 736l.4-1.6 1.1 .7zM432 735.8l-1.3-1.1 1.2-.7zM433.2 736.4l-.3-1.7 1.3 .3zM435.3 736.9l-.2-1.7 1.2 .3zM437.9 736.8l-.1-1.7 1.3 .4zM440.9 736.7l-.7-1.6 1.3 0zM444.3 736.4l-1-1.4 1.3-.3zM445.5 736.6l.1-1.8 1.2 .6zM448.3 736.7l-.5-1.6 1.3 .1zM449.5 735.6l.5-1.6 1 .8zM452.5 736l.2-1.7 1.2 .7zM457 735.9l.7-1.6 .9 1zM461.5 734.7l1.6-.7 0 1.4zM465.8 732.9l.6 1.6-1.4-.1zM468 732.9l1.2 1.2-1.2 .5zM470.2 732.1l1.1 1.4-1.3 .4zM473.6 732.5l.8 1.5-1.3 .1zM476.8 732.2l-.1 1.8-1.2-.6zM478.8 732.5l.2 1.7-1.3-.3zM481 731.8l.8 1.6-1.3 .1zM483.5 732.3l.7 1.6-1.3 0zM486.7 731.6l.2 1.7-1.3-.4zM488.6 735l1.3-1.2 .5 1.2zM491.8 735.5l.9-1.5 .8 1.1zM494.1 735.6l1.1-1.3 .6 1.2zM496.4 735.8l1-1.4 .7 1.2zM502.1 736l.6-1.6 1 .9zM504.8 734.7l1.3-1.2 .5 1.3zM507.1 736l.6-1.6 1 .9zM508.7 735.1l1.3-1.1 .5 1.2zM391.4 737l1.6-.6 0 1.4zM394.3 736.3l1.7 0-.5 1.2zM396.1 737.4l1.4-1 .3 1.3zM399.3 735l1.6 .7-1 .9zM401.3 736.2l1.6-.4-.1 1.3zM403.7 737.8l1.2-1.2 .5 1.2zM407.2 737.3l1.4-1 .3 1.3zM409.4 734.6l1.5 .9-1 .8zM411.2 736.1l1.7 0-.5 1.2zM413.9 736.8l1.6-.7 0 1.3zM415.9 736.4l1.7-.4-.2 1.3zM419.2 737.5l1.5-1 .2 1.3zM421.5 737l1.5-.9 .2 1.3zM423.9 735.4l1.7 .2-.7 1.2zM430.9 738.8l-.8-1.6 1.3-.1zM433.4 739.7l-.6-1.6 1.4 .1zM438.7 739.5l-.9-1.6 1.3-.1zM441.9 739.6l.2-1.8 1.1 .7zM446.1 739.2l-.8-1.6 1.3-.1zM447.8 739l-.3-1.7 1.3 .3zM449.5 738.4l.6-1.6 .9 .9zM454.1 738.5l.7-1.6 .9 .9zM459.2 738.3l1.1-1.4 .6 1.2zM461.8 738.2l1.1-1.3 .6 1.1zM465.7 735.3l.8 1.6-1.3 .1zM467.5 734.5l1.3 1.2-1.2 .6zM470.8 735.4l.9 1.5-1.3 .2zM473.4 735.1l.9 1.5-1.4 .2zM475.6 734.8l.9 1.5-1.3 .2zM478.1 734.5l1.1 1.4-1.2 .4zM481.6 735.1l.1 1.7-1.3-.5zM484.2 734.5l0 1.7-1.2-.5zM484.4 738.3l.7-1.6 .9 .9zM486.9 738.1l1-1.4 .7 1.2zM489.6 738.1l.7-1.6 .9 1zM493.6 737.8l1-1.4 .7 1.2zM499.3 737l1.5-.8 .2 1.3zM501.9 738.7l.8-1.6 .8 1zM504 738.3l.6-1.6 1 .9zM506.4 736.4l1.7-.2-.4 1.3zM508.3 737.7l1.4-.9 .3 1.3zM511.5 737.6l1.1-1.3 .6 1.1zM514.8 738.9l.2-1.7 1.2 .6zM390.6 738.5l1.7-.3-.3 1.3zM395 738.3l1.7 .3-.8 1.1zM397 738.8l1.7-.2-.3 1.2zM398.4 738.3l1.7 0-.5 1.3zM401.6 739.3l1.7-.6-.1 1.4zM403.7 739.1l1.7-.5-.2 1.4zM409.4 738.4l1.8 0-.6 1.2zM412.3 738.7l1.7-.1-.4 1.3zM413.1 739.3l1.6-.7 0 1.4zM416.8 738.5l1.7 0-.5 1.2zM418.7 739.5l1.6-.7 0 1.3zM422.1 739.7l1.5-1 .2 1.3zM423.5 740.3l1.2-1.3 .6 1.2zM428.4 741.6l-.5-1.7 1.4 .2zM430.8 742.1l-.6-1.7 1.3 .1zM435.4 741.6l0-1.7 1.2 .5zM440.2 741.4l-.1-1.7 1.2 .4zM444.3 741.4l-1.2-1.2 1.2-.5zM446.5 741.4l-1.2-1.2 1.2-.5zM448.6 740.3l1.3-1.2 .4 1.3zM451.9 740.1l1.2-1.3 .5 1.3zM455.2 741.5l-.1-1.7 1.2 .4zM456.8 741l.9-1.5 .8 1zM459.6 740.3l.6-1.7 1 .9zM462 740.6l.6-1.6 1 .9zM466 736.8l.8 1.6-1.3 .1zM469 737.4l.4 1.7-1.3-.2zM470.5 736.7l.8 1.6-1.3 .1zM473.7 737.4l.7 1.5-1.3 .1zM476.2 736.4l.7 1.6-1.4 0zM476.9 736.8l1.4 1-1 .7zM480.8 737.9l1.1 1.3-1.3 .4zM483 742l-.3-1.7 1.3 .3zM483.6 740.6l.9-1.5 .7 1.1zM487 741.4l.2-1.8 1.1 .7zM489.8 740.8l.5-1.7 1 .9zM492.1 740.8l.8-1.6 .8 1zM494.5 740.7l.7-1.6 .9 1zM496.8 740.3l1.2-1.2 .5 1.2zM499.5 740.3l1-1.3 .7 1.1zM504.7 741.7l.4-1.7 1.1 .8zM506.7 739.8l1.5-.7 .1 1.3zM509.9 740l1-1.5 .7 1.2zM511.5 740.9l.8-1.5 .8 1zM517.2 741.2l.6-1.7 1 1zM392.2 741.2l1.7-.2-.4 1.3zM394.3 743.8l.4-1.7 1 .8zM396 742.6l1.4-1.1 .3 1.3zM398.8 741.3l1.8-.1-.4 1.3zM401.8 741.4l1.6-.5-.1 1.3zM404.1 740.7l1.7 0-.5 1.2zM406 742.2l1.4-1.1 .4 1.3zM409.2 741.7l1.7-.2-.3 1.3zM411.7 741.4l1.7-.4-.2 1.3zM418.1 742.4l1.5-1 .2 1.3zM423.6 743.2l1.2-1.2 .5 1.2zM429.7 744.2l-1.2-1.2 1.2-.6zM434.8 743.9l-1.2-1.2 1.2-.5zM436.9 744.1l-1.3-1.2 1.2-.6zM441.4 743.7l-1.2-1.4 1.3-.4zM442.3 744.3l.2-1.7 1.2 .6zM446.6 743.4l-1-1.4 1.3-.3zM449.9 743l.7-1.6 .9 .9zM450.8 742.1l1.6-.6 0 1.3zM454.5 742.6l1.4-1.1 .3 1.3zM456.1 742.9l1.2-1.3 .5 1.2zM458.2 742l1.5-.9 .1 1.3zM461.8 743.1l.8-1.5 .8 1zM470.3 740.2l1.3 1.2-1.2 .6zM473.2 739.2l1 1.4-1.2 .3zM476.8 740.2l0 1.7-1.2-.5zM479.8 744.1l.2-1.7 1.2 .7zM481.9 743.9l.3-1.7 1.1 .7zM484.8 742.9l.8-1.5 .8 1zM486.9 743.1l.8-1.6 .8 1zM489.8 743.5l.2-1.8 1.2 .7zM494.3 743.2l1-1.4 .7 1.1zM497.6 742.8l.4-1.6 1.1 .8zM501.5 743.4l.7-1.6 .9 .9zM505.1 743.9l.3-1.7 1.1 .8zM507.3 742.7l1.2-1.2 .5 1.3zM509.3 743.8l.9-1.4 .7 1zM512.9 744.1l0-1.8 1.2 .5zM514 742.9l1.1-1.4 .6 1.2zM517.2 743.1l.7-1.6 .9 1zM391.3 744.2l1.7-.3-.3 1.3zM394.2 745.1l1.3-1.2 .4 1.2zM396.8 744.8l1.1-1.4 .6 1.2zM399.5 742.8l1.5 .8-1 .9zM401.4 745.1l1.2-1.3 .6 1.2zM403.4 744.8l1.4-1.1 .3 1.3zM405.7 744.5l1.6-.7 0 1.3zM408.8 744.1l1.7-.5-.2 1.3zM412.1 745.1l1.2-1.3 .5 1.2zM413.1 743.9l1.7-.2-.3 1.2zM416.6 744.5l1.6-.7 0 1.4zM418.8 745l1.5-.9 .2 1.3zM422.5 743.6l1.7 .5-.9 1zM424.2 744.2l1.5-.8 .1 1.3zM428.6 745.8l-.8-1.6 1.3 0zM431.1 745.9l-.4-1.7 1.3 .2zM432.5 746.9l-.2-1.7 1.3 .3zM436.6 745.9l-.9-1.5 1.3-.2zM441.8 745.7l-1.3-1.2 1.2-.5zM442.8 747.2l-.3-1.7 1.3 .3zM447 746.3l-1.5-1 1.1-.7zM450.5 746.5l-1.5-.8 1-.8zM454.6 745.8l.5-1.7 1 .8zM458.4 745.8l1-1.4 .7 1.1zM462.1 744.8l1.4-1.1 .3 1.3zM467 745l1-1.4 .7 1.1zM479.5 746.8l.3-1.7 1.1 .7zM483.4 745.8l-.2-1.7 1.3 .3zM483.1 744.7l1.6-.7 .1 1.3zM487.2 745l1.1-1.3 .6 1.2zM491.7 745.5l1.1-1.3 .6 1.1zM494.1 745.3l1.3-1.1 .4 1.3zM498.2 746.2l-.2-1.7 1.3 .4zM501.4 746l-1.1-1.3 1.3-.4zM501.2 745.8l1-1.4 .7 1.1zM504.5 746.8l.2-1.7 1.2 .7zM509.8 746.2l.2-1.7 1.2 .6zM512.4 745l.9-1.4 .7 1.1zM514 745.4l1.1-1.4 .6 1.1zM516.2 745.6l1.2-1.2 .5 1.2zM391.3 747.1l1.4-1 .3 1.3zM394.2 748.5l1-1.4 .7 1.1zM397.1 746.1l1.7-.2-.4 1.3zM399 745.8l1.7 .1-.6 1.2zM402.2 746.6l1.6-.5-.1 1.3zM406.3 747.6l1.4-1.1 .3 1.3zM409.7 746l1.7 .2-.7 1.2zM411.8 747.2l1.6-.6 0 1.3zM413.3 747.6l1.5-.9 .2 1.3zM417.3 747.5l1.4-.9 .3 1.2zM419.3 748.1l.8-1.5 .8 1zM421.5 746.2l1.8 0-.6 1.3zM427.7 748.6l-1.5-.9 1-.8zM429.3 748.7l-1.3-1.2 1.2-.6zM430.9 748.6l-.4-1.7 1.3 .2zM434.3 749.4l-1.3-1.1 1.2-.6zM435.3 749l0-1.7 1.2 .5zM438 748.9l-.5-1.6 1.3 .1zM440.9 748.9l-.5-1.6 1.3 .1zM445.2 748.3l.3-1.7 1.1 .7zM449.4 749.2l-1.1-1.3 1.2-.5zM449.1 747.7l1.2-1.3 .5 1.2zM451.7 748.2l.8-1.6 .9 1zM454 747.7l1.3-1.2 .4 1.3zM457.7 749.3l-.2-1.7 1.3 .4zM459.1 746.2l1.6-.4-.2 1.3zM464.3 746.7l1.7-.4-.2 1.3zM479.2 748.8l.7-1.6 .9 .9zM481 748.5l1.1-1.4 .6 1.2zM484 747.6l1.2-1.2 .5 1.2zM486.3 747.7l1.1-1.2 .6 1.2zM490 748.7l.1-1.7 1.2 .6zM492.3 747.3l1.3-1.1 .5 1.2zM495 749.2l.1-1.7 1.2 .6zM496.6 749.4l.4-1.7 1.1 .8zM499 748.6l.8-1.5 .9 1zM502.1 748.8l.5-1.6 1 .8zM503.6 747.8l1.4-1.1 .4 1.2zM506.6 747.7l1.2-1.3 .6 1.2zM508.2 748.1l1.3-1.1 .5 1.2zM514.6 749.4l.3-1.7 1.1 .7zM516.2 748l.9-1.4 .8 1.1zM391.7 749.5l1.6-.5 0 1.3zM394 749.8l1.5-.9 .2 1.3zM396.1 748.5l1.7-.1-.4 1.3zM399 747.3l1.6 .7-1 .9zM401.2 750.2l1.4-.9 .3 1.3zM406.4 749.1l1.7-.5-.2 1.3zM411.7 749.4l1.6-.5 0 1.3zM414.7 749.9l1.1-1.3 .7 1.1zM416.6 749.8l1.4-1 .3 1.3zM419.7 748.8l1.7-.2-.4 1.3zM421.2 748.8l1.7-.4-.2 1.3zM425 751.2l.4-1.7 1.1 .8zM429.3 751.2l-1.1-1.3 1.3-.4zM431.6 751.2l-1.2-1.2 1.2-.5zM433.1 751.4l-.2-1.7 1.3 .3zM436.2 751.1l-.7-1.6 1.3-.1zM438.2 751.5l-.7-1.6 1.3 0zM444.5 751.1l-1.3-1 1.1-.7zM444.9 751.5l.4-1.7 1 .7zM449 750.2l1.3-1.1 .4 1.2zM456.7 751.2l.9-1.5 .8 1.1zM458.9 750.6l.9-1.5 .8 1zM475 751.8l.2-1.7 1.1 .6zM475.9 749.3l1.6-.7 0 1.4zM482.1 750.6l.5-1.6 1 .8zM484.5 750.9l.9-1.5 .8 1zM486.6 750.3l1.3-1.1 .4 1.2zM489.2 750.7l.9-1.4 .8 1.1zM498.3 750l1.4-1 .3 1.3zM502.4 750.9l.6-1.7 1 .9zM506.5 750.5l1.1-1.4 .6 1.2zM509.9 751.1l0-1.8 1.2 .6zM512.4 751.4l.3-1.7 1.1 .7zM393.6 752.1l1.6-.6 0 1.3zM397.9 750l1.4 1.1-1.2 .7zM398.1 752.5l1.5-.9 .2 1.3zM401.9 753.3l.8-1.5 .8 1zM403.9 751.4l1.7-.5-.2 1.3zM406.2 753l1.3-1.1 .4 1.2zM408.9 752.9l1-1.4 .7 1.1zM412 751.6l1.6-.6 0 1.3zM413.6 752.1l1.4-.9 .3 1.3zM416.4 751.9l1.7-.4-.2 1.3zM421.7 751.8l1.6-.7 0 1.4zM428.4 753.1l-.9-1.4 1.3-.3zM434.2 753.1l-1.4-1 1.1-.7zM436.6 753.9l-.9-1.5 1.3-.2zM439.3 753.5l-1.1-1.4 1.3-.4zM446 754l-.5-1.7 1.3 .2zM449.1 754.8l-.8-1.6 1.3-.1zM450.2 752.9l.4-1.7 1.1 .7zM453.6 751.5l1.6-.6 0 1.3zM456.7 752.2l1.5-.9 .2 1.3zM470.7 752.6l1.2-1.2 .6 1.2zM477.5 752.4l1-1.3 .7 1.1zM483.7 752.4l1.4-1.1 .3 1.3zM486.9 752.6l1.2-1.2 .5 1.2zM493.7 751.5l1.6-.7 0 1.4zM498.4 752.6l1.2-1.2 .5 1.2zM501.6 754.4l.4-1.7 1.1 .8zM503.7 752.7l1.1-1.4 .6 1.2zM402.4 753.7l1.8 .2-.7 1.2zM404.1 755.4l1.1-1.4 .6 1.2zM412 754.3l1.5-.9 .2 1.3zM414 754.4l1.6-.7 0 1.3zM417.3 754.3l1.7-.4-.3 1.3zM421.4 753.2l1.7 .2-.6 1.2zM426.8 756l1-1.5 .7 1.1zM431.5 757.3l-1-1.4 1.3-.3zM433.7 756.3l-.5-1.6 1.3 .1zM436.5 755.7l-1.3-1.1 1.1-.6zM442.5 756.3l-1.4-1 1.1-.7zM445.9 755.7l-.4-1.7 1.3 .3zM448.2 756.3l-.6-1.7 1.3 .1zM448.5 755.2l1.2-1.2 .5 1.2zM456.5 755.6l.9-1.5 .8 1zM477.8 755.6l.4-1.7 1.1 .8zM403.6 756.3l1.7-.5-.2 1.3zM406.5 755.8l1.7-.2-.4 1.3zM408.8 756.6l1.7-.4-.3 1.3zM414.4 757.9l.9-1.4 .8 1zM415.9 756l1.7 .2-.6 1.2zM418.5 757.1l1.6-.6 0 1.3zM431.5 758.6l-.8-1.6 1.3-.1zM437.3 759.1l-1.3-1.2 1.2-.5zM438.8 758.8l-1.1-1.3 1.3-.4zM442.4 759l-1.4-1 1.2-.7zM442.9 758.8l-.3-1.7 1.3 .2zM445.7 758.4l-.6-1.6 1.3 0zM449.2 758.3l.7-1.5 .9 1zM458.6 756.5l1.6-.6 0 1.3zM464.7 757.5l1-1.3 .7 1.1zM470.7 758.9l-.7-1.6 1.4 0zM472.4 758.6l.3-1.7 1.1 .8zM411 759.1l1.7-.5-.2 1.3zM413.3 759.1l1.7-.2-.3 1.3zM416.3 760.2l1.5-1 .2 1.3zM419.2 759.7l1.5-.8 .1 1.3zM439.3 761.4l-1.1-1.3 1.2-.5zM439.9 761l.2-1.7 1.2 .6zM443.3 762.1l-.6-1.6 1.3 .1zM446.2 761.1l-.8-1.4 1.3-.2zM447.4 761.3l-.1-1.7 1.3 .4zM458.7 760.3l1.2-1.2 .5 1.2zM461.9 760.6l.6-1.7 .9 .9zM466.1 759.9l1.5-.9 .2 1.3zM411.2 761.2l1.7-.4-.3 1.3zM414 761.2l1.7-.4-.2 1.3zM421.4 764l-.7-1.5 1.3-.1zM426.7 764l-.9-1.4 1.3-.3zM433.1 764.3l-.4-1.6 1.3 .1zM440.4 763.5l-.3-1.7 1.3 .2zM443.4 763.7l-.8-1.5 1.3-.1zM469.8 763.2l.8-1.6 .9 1zM423.8 767l-1-1.5 1.3-.2zM425.5 767.1l-.6-1.7 1.3 .1zM430.3 766.6l-.4-1.7 1.3 .2zM433.4 767.4l-.5-1.6 1.3 .1zM435.9 767l-.5-1.7 1.3 .2zM461.3 765.7l.9-1.5 .8 1zM477.1 766.3l.3-1.7 1.1 .7zM419 768.5l-1-1.4 1.2-.3zM422.7 768.2l-1.5-.8 1-.8zM422.4 768.6l.1-1.7 1.2 .6zM428.9 768.8l-.7-1.5 1.3-.1zM431.3 768.5l-.7-1.6 1.3 0zM433.3 769l-.5-1.7 1.3 .2zM436.3 768.5l-1.3-1.3 1.3-.5zM438.4 769.3l-.4-1.7 1.3 .2zM464.3 767.4l1.6-.8 0 1.3zM479.7 768.3l.3-1.7 1.1 .7zM426.3 771.2l-1.1-1.4 1.3-.3zM429.2 771l-1.2-1.3 1.3-.4zM431.3 771.5l-1-1.3 1.3-.4zM432.3 771.1l0-1.8 1.3 .6zM436 771.7l-.5-1.7 1.3 .2zM479.6 771.3l.5-1.6 1 .8zM421.7 774.4l-1-1.5 1.3-.2zM425.8 774l-.7-1.6 1.3 0zM427.9 774l-.4-1.7 1.3 .2zM420.3 776.7l-.1-1.8 1.3 .4zM424.4 776.2l-1.2-1.2 1.2-.5zM425.2 775.6l.4-1.7 1.1 .8zM436.2 776.2l-.6-1.6 1.3 0zM426 778.8l-.8-1.5 1.3-.1zM429.3 778.8l-1.2-1.3 1.2-.5zM433.3 779.1l-.2-1.7 1.2 .3zM436.3 779.1l-1.1-1.4 1.3-.3zM429.2 781.8l-.9-1.5 1.3-.2zM434.9 781.3l-1.4-.9 1.1-.8z" fill="#000"/>
<path d="M571 673.4l-3.7-.1M570.8 676.1l-2.9 .5M570.2 679.3l-2.2-.6M568.2 681.2l-2.4 0M569.9 680.7l-2.2 .2M567.9 684.3l-2.9-.6M570.4 683.1l-2.6 1.3M567.5 685.8l-1.7 1.2M570.2 686.2l-2.3 .1M568.2 688.5l-2.9 .1M571.4 689l-4.3-.4M657.2 689.7l-1.6-1.3M567.7 692.2l-1.2-1.6M570.9 690.7l-2.7 .7M655.7 692.9l-2.4-3M657.4 692.5l-2-1.9M569 693.8l-4.2 .1M570.9 694.9l-2.9-2.8M596.2 692.9l-3.4 1M597.9 693.5l-2.5 .9M651.6 695.1l.9-2.2M655.7 694.4l-2.4-1.9M658.2 695.5l-2.2-3.2M567.7 696l-2.3 .6M571.1 696.5l-3.7 .2M588.1 696l-3.4 1.1M590.3 696.9l-1.9-1.1M593.3 696.3l-3.1 .5M595.7 696.8l-2.9-.8M597.7 696.4l-2.7-.2M601.1 696.8l-3.6-.5M602.4 696.7l-1.9-.7M605.6 695.2l-2.8 1.3M608.2 695.4l-2.8 .9M610.5 695.7l-2.5 1M639.8 696.8l-1.3-1.6M642.6 697.1l-1.3-1.9M645.6 696.9l-2.5-1.4M647.2 698.2l-1.5-3.4M650.1 697.9l-2-2.7M653 697.5l-2-1.9M654.5 698.2l.1-3.6M657.6 697.4l-1.5-1.8M568.1 698.5l-2.9-.3M570.7 699.2l-3-.4M583.7 699.7l-3.4-1.6M585.2 699.4l-2.1-2.2M588.7 699l-3.5-.9M590.7 698.6l-3.5 .8M593.2 698.9l-3.3-.8M595.8 699l-3.9-.1M597.9 699.2l-2.9-.8M600.3 698l-2 .9M602.7 698.8l-2.1-.5M605.1 697l-2.4 2.7M608.1 697.1l-2.1 2.9M609.8 697.6l-1.7 1.7M639 699.1l-3.9-.7M640.2 700.4l-2.4-2.9M641.6 699.6l.2-2.2M644.9 700.4l-2.2-3.8M648.5 699.7l-3.6-2.5M650.2 699.8l-2.6-2.1M652.4 699.6l-1.4-1.9M655.6 699.2l-2.9-1.4M658.1 700l-2.5-2M568.1 701.8l-2.2-.5M570.5 701.1l-2.1 .3M578.1 701.1l-2.1 .6M580 700.1l-1.8 1.5M582.9 702.1l-1.8-1.4M585.8 700.8l-2.8 .5M588 700.8l-3 .8M591.1 701l-3.7 1.2M593.2 700.6l-2.6 1M595.8 700.9l-3.2 .4M598.4 701.3l-2.7 .1M600.4 700.9l-2.1 .9M603.6 702.1l-3-2.1M605.1 699.5l-1.3 3.1M607.8 699.4l-2.9 3.3M611.3 701.4l-3.4 .4M637.6 702.7l-2.2-2.5M640.1 703l-2.3-2.8M642.3 702.2l-1.9-1.8M644.9 702.9l-1.1-2.8M648.1 703l-2.8-3M650.2 703.2l-2.3-3.5M653 701.2l-2.7-.3M655.4 702.5l-1.6-2.1M658 701.7l-2.4-1.5M568.5 704l-3.3-1M570.8 704l-2.9-.9M575.8 704.6l-3-1.3M578.9 703.3l-4.3 .2M580.9 703.6l-4.1-.3M583.1 703.6l-3.1 .9M585.9 704.2l-3.1-.6M588.5 703.6l-4.3-.5M590.5 704l-3.3-.9M593.6 704l-3.4-.9M596.2 702.8l-3.2 1.3M598.6 702.7l-4.1 1.2M601 704.5l-3.8-1.8M603.2 703.1l-2.6 .5M605.5 702.7l-3.3 1.6M607.9 703.7l-2.9 .1M610.4 702.9l-2.4 1.8M635.6 702.4l-2.7 3M638.7 704.3l-3.3-1.6M640.6 703.8l-2.4-1M643.2 703.5l-3.4 0M645.5 704.2l-2-1.1M647.1 704.7l-1.3-2.3M650.2 704.4l-1.2-2M651.9 705.8l-.8-3.6M654.7 705l-1.3-2M658.6 704.5l-4-1.7M568.6 705.6l-4 .6M570.5 706.1l-3.1 .4M573.3 706.9l-3.6-1.7M576.4 706.2l-3.6-.2M578.2 706.3l-2.5 .5M580.5 705.7l-2.3 .3M583.5 705.9l-2.9 .6M586.4 705.6l-4 1.4M588.3 705.9l-3.6 .2M590.2 706.9l-2.2-.7M593 705.4l-1.8 1.6M595.3 705.4l-2.8 1.7M598.4 706.8l-2.8-.9M600.7 706.5l-2.9-1.1M603.5 706.7l-3.7-1.2M605.4 705.4l-2.3 1.6M608.4 705.4l-3.5 1M610.2 704.2l-2.2 3.8M633.1 706.4l-2.9 .3M636.3 705l-3.6 1.7M637.7 705.8l-2.2 1.1M639.7 708.3l-1.4-3.5M642.4 708.3l-1-3.7M645.3 707.2l-1.6-1.5M647.7 708.1l-2.5-3.5M650 706.9l-1.3-1.8M653.2 707.6l-2.6-2.7M655.1 707.4l-1.8-3.2M658.1 707.3l-3.5-2.3M568.6 708.9l-3.4-1.2M571.2 708l-4.2 .8M574.1 707.8l-4.1 1.3M576 709.5l-3.9-1.3M578 708.7l-2.1-.5M580.7 708.5l-3.2 .7M583.3 709.1l-2.4-.1M585.8 708.1l-3.3 .5M588.9 709l-4.1-.4M591 708.4l-3.5 .3M593.1 708l-3.3 1.2M595.7 709.7l-2.7-2.5M598.8 709.1l-3.5-.4M601.1 707.8l-3.1 1.3M603.2 708.5l-2.9 .2M605.2 707.5l-2.5 2.2M608 707.6l-2.9 1.8M610.2 707.4l-1.6 2.7M628.6 708.7l-3.9 .8M629.9 707.5l-2.1 2.9M633.3 708.7l-2.5 .7M635.7 707.9l-2.4 1.9M638.7 707.9l-3.8 2.2M641.1 708.6l-4.1-.2M642.9 709.7l-2.9-1.8M645.5 710l-3-2.6M648.8 709.8l-4-1.9M649.9 711l-1.7-3.9M653.9 709.5l-3.8-1.1M655.1 709.8l-1.6-2.9M657.6 710.3l-1.2-2.7M568.4 710.4l-3.1 1.4M571.3 711.6l-4.3-.3M573.5 711.1l-3.7-.3M575.9 711.5l-3.1-.3M578.1 712.4l-2.9-1.8M580.2 710.5l-2.2 .8M583.2 711.8l-3.8-.6M586.1 711.2l-3.5 .1M588.1 712.1l-3.4-1.7M590.9 710.4l-3.1 .9M592.6 711.3l-2.4 .4M595.2 710.5l-2 .7M597.9 711.2l-2.6 .1M600.7 711.5l-3.7-.1M603.8 711.7l-4.3-.3M605.5 710.6l-2.1 .9M607.7 709.9l-2.3 3.1M610.6 711.1l-2.1-.4M620.3 709.4l-2.9 3.2M623.1 710l-2.5 1.6M625.6 711.5l-3.2 0M628.4 709.8l-3.3 2.6M629.9 711.1l-2.1 .7M632.5 709.9l-2 1.9M635.5 710.4l-2.9 1.3M637.5 709.1l-2.3 3.5M640.5 710.7l-1.8 1.5M642.2 713l-1.8-3.3M645.9 712l-3.7-1.6M647.9 712.2l-1.9-1.8M649.8 712.2l-1.3-1.8M652.9 711.8l-2.6-1.9M654.3 713.1l-.4-3.2M657.3 711.7l-1.7-1.3M568.3 714l-3.3-1.4M570.8 713.3l-2.7 1M573.5 714.4l-3.2-1.3M575.6 714.2l-2.5-.6M577.9 714.3l-2.6-.9M580.9 714.5l-3.1-1.3M582.4 714.5l-1.7-1.6M585.9 714.1l-2.7-.1M587.7 713.3l-2.5 1.3M590.5 714.1l-2.8-.5M593.4 713.9l-3.5-.9M595.9 713.1l-2.7 2M598 713.4l-3.2 .4M601.1 714.4l-3-1.3M603.8 713.3l-3.6 .6M605.8 713.8l-2.6-.5M608.8 713.2l-3.6 1.7M610.1 712.2l-1.2 3.4M620.3 713.2l-2.3 1.5M623.3 712.1l-3.3 2.4M625.7 714.4l-2.5-.7M628.9 713.4l-3.8 .6M630.1 712.1l-2.2 3.1M632.9 713.2l-2.8 1.4M635.8 713.8l-2.9-.4M639 712.5l-4 1.8M640.7 714.3l-2.4-1.4M643.1 715l-2.5-3M645.6 715.1l-3.3-3M647.7 714.8l-1.7-2.1M650.5 715.1l-2.7-3.3M652.6 714.6l-2.1-1.6M655.3 714.7l-1.9-2.2M658.1 715.2l-2.1-3.2M565.2 717l-2.1-1.4M568.2 715.3l-2.3 1.5M570.7 716.1l-2.6 .1M573.4 716.1l-3.6 .3M575.1 716.5l-2.1-.2M578.5 715.2l-2.9 1.3M580.7 716.6l-3.7-1.6M583.6 715.1l-4 1.7M585.8 717.2l-2.6-1.5M588.6 716l-3.3-.4M589.9 716.6l-1.9-1.1M593.5 717.3l-2.9-2.5M595.2 716.2l-2.6 0M598.3 715.5l-2.7 .8M600.8 716.8l-3.8-1M603.4 716.4l-3-.7M606.2 715.3l-3.3 1.1M607.9 715.9l-2.8 0M610.6 715.3l-3.4 2.3M620 716l-2 1.2M622.7 715.2l-2.5 1.6M625.8 717.4l-2.8-1.7M627.1 715.4l-.6 1.9M631 715.8l-3.7 .5M633.7 715.4l-3.5 1.7M635.9 716.3l-3-.3M637.6 716.2l-2.5 .3M640.7 715.6l-3 1.8M643.9 716.7l-3.8-1.6M645.8 716.6l-3.8-1.1M647.8 717.1l-2.7-1.9M649.4 717.1l-.9-2.2M652.3 717.7l-1.2-2.4M655.3 717.1l-1.9-1.2M658.4 716.3l-3.1 .4M563.2 718.9l-3.6-.3M565.3 717.7l-1.8 1.4M567.8 718.7l-2.9 .7M570.3 718.2l-2.9 .5M573.5 718.1l-4.4 .8M576.6 719.6l-4-1.7M579.1 718.9l-4.1-.4M581 718.7l-3-.4M583 718.8l-3.2-.7M586.4 719.3l-3.6-.6M588.6 718.8l-3.1 .2M590.9 718.9l-3.3 .3M593.1 718.1l-2.5 .6M595.7 719.4l-3.1-1.4M598.2 718l-2.4 .8M601.2 719l-4.2-.6M602.7 718.8l-2.7-.5M605.9 717.3l-3.4 2.8M608 718.4l-1.9 .9M610.3 718.4l-2.7 1M613.8 717.5l-3.6 2.1M618.6 717.8l-3.3 1.6M620.4 718.3l-1.9 1M622.7 719.1l-2.3-.3M625.6 717.6l-2.9 1.8M627.7 718.9l-2.6-.6M631.1 718l-3.7 1.6M633.6 717.7l-3.7 1.4M635.8 718.1l-3.3 1.1M638.4 718.7l-3.5 .8M640.1 717.2l-2 2.7M643.1 719.4l-2.7-.9M645.9 718.4l-3.1 .2M648.5 719.3l-3-1.1M650.7 719.7l-2.6-1.7M652.6 720.8l-2.4-3.5M655.6 720.4l-2.4-2.7M658.3 719.8l-3.2-2.5M560.7 721.6l-2.2-.4M563.2 721.9l-2.8-.7M565.1 720.6l-2.4 1.2M567.3 720.9l-2 .6M570.1 720.9l-2.3 .3M573.1 721.6l-2.5-1.6M575.7 721.4l-2.5-.7M578 722l-3-2.4M581.3 721.2l-4.3 .2M583.4 722.3l-3.3-1.9M584.9 721.2l-2.2 .1M588.4 721.4l-3.8-.3M591.5 721.4l-4-.4M593 721.3l-2.5-.3M595.8 721.6l-3.6-.3M597.8 721.3l-2.2 .4M600.2 720.2l-2.7 1.4M603.4 721.1l-3.1 0M604.3 720.1l-.6 2.3M607.5 720.7l-2.1 .6M609.8 719.9l-1.7 1.8M612.8 721.2l-2.2-.7M618.3 721l-3.9 1.1M620.5 720.4l-2.2 2M622.9 720.3l-3 1.9M626.2 720.4l-3.9 2M627.5 720l-.8 2M630.4 720.5l-2.3 1.4M633.3 721.6l-3.5-.7M635.2 720l-2.7 2.7M638.3 721.6l-3-.2M641.1 720.9l-4 .3M643 722.9l-1.9-3.1M645.6 722l-2.5-2.2M648.3 721.8l-2.5-1.1M650.8 722.2l-2.6-2.6M652.2 722.6l-1.7-2.1M656.4 721.6l-3.7-1M658.3 722.8l-3.3-2.4M558.5 724.4l-4.1-.7M561.3 724.8l-3.7-1.8M563.7 724l-4.4-.3M566.3 723.3l-3.9 1.5M568.3 724.2l-3.9-1M570.8 723.6l-3.2 0M573 722.8l-1.9 1.9M576.5 724l-3.8-.8M580.9 724.3l-3.7-2M583.2 724.2l-2.7-.7M586.2 724.6l-3.5-1.2M588.7 723.1l-3.2 1.6M591.3 724.2l-3.7-1.2M593.6 725.3l-3.1-2.7M596.2 724.6l-4-1.2M597.3 724.8l-1.8-2.3M600.6 723.1l-2.7 1.5M602.9 724.4l-2.1-1.2M605.6 723.9l-3.4 .1M608.1 722.9l-3.1 1.3M610.8 723.3l-3.6 .2M612.6 723l-2.3 1.3M618.4 723.4l-4.2 1.1M620.5 721.6l-2 3.6M622.7 723.3l-1.8 1.5M625.3 723.5l-2.1 1.2M627.6 722.5l-1.4 1.9M630.4 723.1l-1.9 2M632.7 722.7l-2.2 2.3M635.6 722l-3.3 2.7M638.7 723.6l-3.6 0M640.2 723.1l-1.2 2M643 723.5l-3.4 .2M644.6 725.2l-1-3.8M647.2 724.8l-1.5-3M650.8 724.9l-3-2.4M652.6 724.6l-1-1.9M655.1 724.4l-1.8-1.7M659.1 723.9l-4-1M555.5 726.1l-2.7-.1M557.5 726.5l-2.3 0M561.3 725.9l-4.1 .3M563.4 726.7l-2.8-.8M565.6 726.8l-2.7-1.1M568.1 725.6l-2.7 .7M571.3 725.3l-3.5 1.6M573.1 726.3l-3.1-.7M576.2 725.2l-4.2 1.4M578.7 726.6l-4-1.4M583.3 726.6l-2.5-.4M585.1 725.1l-1.1 2.5M588.6 725.8l-3.4 .7M591.3 726.2l-3.4-.3M593.5 726.1l-3.6-.5M595.6 725.8l-2.7 .8M598.4 725.5l-3.4 2M601 725.9l-4 .9M603.6 725.7l-4 .8M605.4 725.7l-2.9 .2M608.5 725.6l-3.9 1.6M610.5 725.9l-3.1 1.3M615.4 726.1l-2.1 .3M618.4 725.2l-2.8 2.7M620.2 724.3l-2.8 3.1M623.2 724.6l-2.7 3.3M625.3 726.3l-2.7-.5M628.2 724.9l-2.3 2.2M631.2 726l-3.7 .9M633.2 725.5l-3 2.1M635.3 724.7l-2 3.1M637.7 723.9l-2.1 3.8M640.4 725.2l-2.4 1.5M643.8 725.2l-3.7 1.8M646.3 725.6l-3.5 1.8M647.6 726.8l-1.4-1.7M649.8 728.3l-.7-3.8M652.8 726.8l-2-1.8M655.5 726.1l-3.2 .6M658.1 725l-2.6 1.9M553.2 729.7l-3.6-1.6M555.8 728.7l-3.1 .3M557.7 728.6l-2.4-.4M561.5 727.8l-3.9 1.3M562.7 728.4l-2.3 .3M565.6 728.7l-3.4-.2M567.6 727.3l-2.3 3.2M570.7 729.1l-3.4-.2M573.7 728.2l-4.3 .3M574.9 729.1l-2.2-.5M578.1 728.7l-2.1-.6M580.6 729.7l-3.3-2M588.2 729.8l-3-2M590.1 730l-2.1-2M592.8 729.8l-2.9-1.9M594.9 729.2l-2.1-.2M597.7 729.2l-2.5-1.1M601.4 729l-3.7-.3M603.3 729l-3.9-.3M605.2 727.6l-1.7 1.4M607.3 728.1l-1.5 1.5M613.1 727l-3 3M620.6 727.5l-3.4 1.8M623.1 727.2l-3.5 2.6M626.2 727.5l-3.8 2.2M628.9 728.8l-4.1 .2M629.9 727.6l-2 2.1M632.6 727.8l-1.8 1.2M636.1 728.5l-4.1 .2M638.2 728.3l-2.6 .1M641 728.3l-3.9 1.2M644.9 728l-2.2 2.1M648.4 727.2l-3.2 2.5M650.2 728.2l-2.7 1.6M652.7 728.2l-2.3 .3M656.3 728.2l-3.6 1.6M550 731.3l-2.1 .2M553.5 730.8l-3.8 .1M556.4 731.5l-4.2-.4M557.5 731.3l-2.1 0M560.8 730.7l-3 .7M562.8 730.8l-2.4 1.1M565.6 730.5l-2.2 1M568.7 731.8l-4-.5M570.9 731.1l-3-.1M573.8 732l-4.2-1.1M575.6 730.5l-2.7 .9M578.2 732l-3-2M581 731.2l-3-.2M582.6 730.2l-2.4 1.2M587.9 731.7l-2.1-.2M590.4 730.7l-2.1 1M593.1 730.7l-2.7 .4M595.4 731.3l-2.5 0M598 731.3l-2.2 .5M600.4 731.2l-2.3 .3M602.7 731.5l-2.1-1M606.1 731.9l-4-1M612 729.8l-.7 3.2M617.8 730.3l-2.8 1.8M620.4 730.8l-1.8 1M622.5 730l-2.3 2M625.8 730.6l-3.5 .9M627.7 729.4l-1.7 3.7M630.5 730.2l-2.1 1.3M633.7 731.8l-3.9-1.8M636.1 730.7l-3.7 .8M638 730.2l-2.5 1.8M640.4 731l-1.8 .9M643.2 730.7l-2.9 .7M644.8 730.5l-1.4 1.5M648.5 730.6l-4 1.1M651 730l-3.5 2.5M653.2 731l-2.3 .9M655.3 729.9l-2.4 2M656.1 729.2l.7 3.4M548.5 734l-3.2-.3M553.1 733.8l-2.5 .2M555.6 733.7l-2.8-.7M558.5 734.3l-3.4-1.3M561 732.9l-3.9 1.1M563.5 734.3l-3-1.8M566.2 734.5l-3.8-1M567.8 733.6l-2.4-.2M570.8 734.2l-3-.7M573.2 734.8l-2.9-2.5M576.6 734l-4.2-.5M577.9 733.6l-2.6 .1M581 733.9l-3.6 .1M583.7 734.3l-4.4-.6M584.9 731.9l-1.8 2.8M588.2 733.5l-2.2-.3M591.2 734l-4.2-.1M593 734.3l-2.3-.6M595.8 734.9l-2.9-2.2M598.5 733.7l-3.7-.1M600.6 734l-3 .2M602.8 732.6l-2.9 1.7M604.2 732.4l-.2 2.2M607.5 732.3l-1.9 2.2M610.5 732.9l-3.1 1.2M613.3 733.6l-2.5 .9M615.3 731.9l-2.8 3M618.5 733.1l-3.6 .9M620.4 733.2l-2 1.8M623.2 732.4l-2.8 2.9M625.6 732.3l-2.9 2.9M628.7 732.6l-3.9 1.9M630.4 733l-2.2 .8M632.8 733l-1.5 1.3M634.5 732.2l-.8 2.9M637.7 732.2l-2.7 3.2M640.9 733.4l-3.6 .7M642 732.9l-1.2 1.7M645.1 733.6l-2.5 .2M648.6 732.6l-3.3 1.8M651.4 733.2l-4 .8M656.1 734l-4.3-.2M657.9 733.2l-2.3 1M661.1 733l-3.9 1.3M549 735.9l-4.3 .8M550.9 736.8l-2.8-.5M556.1 736.1l-3.3 .1M558.7 735.7l-4.1 1.2M560.7 735.5l-3.1 1.5M564 735.9l-3.9 .6M565.8 736.4l-2.8-.9M567.5 736.1l-2 .7M570.2 735.5l-2.5 2.1M575.8 736.9l-3.1-1.4M578 735.9l-3 0M580.6 736.8l-3.5-1.2M582.9 736.9l-2.6-.8M588.4 736.1l-3.8 .9M590.4 736l-2.7-.1M594 736l-3.9 .7M594.9 735.6l-2 .7M598.5 736.1l-3 .3M607.6 735.7l-2.1 1.1M610.2 735.9l-2.3 .2M612.9 735.5l-1.9 .9M617.8 736.1l-2.4 .5M620.2 735.9l-1.9 .7M623.1 735.3l-2.7 2M625.2 734.6l-2.8 2.5M628.9 735.8l-4.1 .6M630.5 736.2l-2.7 .2M632.5 736.1l-2.1 .1M635.3 734.7l-2.5 3.1M638.2 735.4l-3.7 2M640.1 734.8l-2.5 3M642.9 735.3l-3.1 2.1M645.6 734.6l-2.4 3.6M647.7 735.7l-2 .9M650.5 734.6l-2.2 3M652.4 735.9l-1.8 1.4M655.7 736.2l-2.9 .8M658.2 735.6l-2.8 1.7M663.3 735.7l-3.1 1.1M665.6 735.2l-3.3 2.7M668 734.5l-1.9 3.1M548.2 737.8l-2.2 1.6M550.5 737.6l-2.3 1.5M552.9 738.6l-2.2 .3M555.4 739.3l-2.7-.5M558.6 738.9l-3.5-.6M561.3 738.2l-3.8 1.6M563.2 739.5l-2.5-.8M566.1 738.1l-3.1 .7M568 738.6l-2.4-.2M571.3 739.5l-3.7-2.2M575.7 739.2l-3.7-1.6M580.4 739l-3.2-.2M583.3 739.1l-2.9-.3M585.6 738.8l-2.1-.6M588.6 739.3l-3.8-.8M593.5 738.2l-3.3 1.3M595.4 738.4l-2.4 .8M597.7 739.1l-2.4-.7M603.6 738.4l-3.5 1.3M604.9 737.3l-1.2 3M608.8 738.7l-4.2 .4M615.7 738l-3.1 .8M617.4 738.2l-1.8 1.1M621.1 737.1l-3.1 3M623.1 738.5l-2.2 .7M626 738.2l-3.3 1.2M627.9 738.9l-2.7 0M630 737.3l-1.8 3.2M632.4 737.8l-1.9 2.4M635.7 737l-2.9 2.7M638.5 738.7l-3.2 .4M640.3 738.6l-2.6 .9M645.6 737.8l-2.4 2.5M648.3 738.4l-3.7 1.4M650 737.5l-1.7 2.1M652.2 737.9l-1.5 1.4M656.1 738.2l-3.3 1.5M660.5 737.8l-3.3 1.8M663.5 739l-4.2-.6M667.9 737.6l-3 2.1M671.1 737.8l-3.4 1.6M547.8 741.4l-2 .1M551.2 740.8l-3.4 .2M552.5 740.6l-1.8 1M555.7 740.7l-3 1.4M561 741.6l-4.2-.2M568.5 741.1l-3-.4M570.6 740.5l-2.7 .8M573.7 741.5l-3.3-.3M576.2 741.6l-3.3-1.1M577.4 740.5l-1.5 1.5M581.2 740.7l-3.8 1.7M582.4 740.4l-2.1 2.3M586 741.4l-4.2-1.1M588.6 741.3l-3.3-.6M593.4 740.3l-2.9 1.8M597.7 742l-1.9-1.3M601 741.3l-4.1-1M602.7 740.8l-2.6 .4M606.2 740.5l-3.5 1.8M608.4 741l-2.7 .4M611.3 740.5l-3.6 2.2M615.1 741l-2.3 .4M626.7 740.6l-4.3 .7M628 740.5l-2.3 1.1M631.7 740.7l-4.2 .6M632.9 740.7l-2 .3M635.6 741l-2.8 .5M637.9 740.9l-2.5 1M640.9 740l-3 3.1M648.7 740.1l-3.3 2M650.8 740l-3.3 2.6M653 740.9l-2.7 .3M655.4 740l-1.8 1.8M657.7 740.1l-2.7 2.8M660.2 740.1l-1.9 1.9M663.5 740.7l-3.7 1.4M666 740.4l-3.5 1.1M668 740.4l-2.5 1M673.8 740.5l-3.9 1.3M675 740.2l-2.4 1.8M548.1 743.9l-2.5-.2M549.9 743.2l-2.1 .8M553.8 743l-3.5 .6M555.1 743.4l-2 .9M557.5 744.2l-2-.5M561.2 744.1l-3.6-1.3M562.7 743.7l-2.1-.1M566 743.6l-3.9 .4M567.7 743.4l-2 .8M570.8 744.4l-3.2-.7M573.4 743l-3.7 2.1M575.8 744.2l-3.1-1.3M578.6 743l-4 1.4M581 744.2l-3.9-.8M583.6 743.7l-4.2-.1M585.8 741.9l-3.3 2.8M588.3 744.5l-2.8-1M590.7 742.7l-3.5 1.4M592.8 745l-2.3-2.7M596.1 744.5l-3.7-1.6M601 743.2l-3.4 .6M603.5 744.6l-3.5-2.5M605.3 743.4l-1.9 1.2M607.8 743.3l-2.6 1.2M617.9 743.5l-2.7 .6M635.8 742.8l-3.9 1.6M638.2 743.9l-3.2 0M640.1 742.3l-1.8 3.1M642.7 742.1l-1.4 2.6M648.8 743.6l-3.9-.2M653 743.3l-3.3 1.2M655 743.3l-2.4 .5M658 742.9l-2 1.6M661 743.4l-4.1 1.3M662.9 742.9l-2 1.5M665.4 743.1l-2.4 1.2M668.3 742.6l-2.9 1.8M670.5 742.9l-2.9 1M672.6 742.6l-2 2.2M548.4 746.2l-3.1-.4M550.6 747.5l-3.5-2.1M553.2 746.5l-2.5-.8M555.6 745.1l-3.5 2M558.7 745.7l-3.9 1.5M560.6 746.9l-2.6-.7M563.3 746.8l-3.2-1.4M566.4 745.9l-3.9 .9M568.2 745.9l-3.7 .6M569.8 746.7l-2-.6M573.1 746l-3.6 .3M576 745.1l-3.2 1.8M578.7 745.2l-3.3 1.3M580.4 746.6l-2.3-1.1M587.9 746.5l-2.3-.8M593.4 746.1l-4.1-.2M596 746.7l-2.9-1M597.7 745.8l-2.5 1M606.1 745.9l-4.1 .5M607.5 745.3l-1.3 2M610.5 745.2l-2.1 1.3M612.3 746.1l-1.8 1M615.1 745.1l-2.3 1.6M623.4 745.2l-3.4 2M636.1 745.2l-3.9 1.8M637.9 746.1l-2.2-.3M640.7 745.2l-2.4 2.2M642 744.3l-1.4 3.2M644.8 744.6l-1.9 2.6M647.9 746.1l-2.7 .8M650.8 744.8l-2.5 2.3M653.3 745.4l-4 1.9M655.3 745.5l-2.3 .6M658.2 746l-2.6 .3M660.6 745.3l-2.3 2.4M662.8 744.6l-2.9 2.6M665.4 746.6l-2.3 0M668.4 745.4l-3.2 2.3M670.7 745.4l-3.7 1.7M548.2 748.4l-2.3 .1M550.2 748l-2.1 1.4M552.6 749l-2-.4M554.9 749.3l-2-.6M557.9 748.1l-2.6 .9M561 748.5l-4.1 .2M562.9 749.6l-3-1.3M565.8 749.2l-2.5-.4M567.4 748.5l-2.1 .5M571.1 749.2l-3.3-.8M573.4 748.3l-3.3 1.4M575 748.6l-2-.5M578.2 748.4l-3.6 1M581.6 748.5l-4.2 .4M585.9 748l-3.2 .8M587.9 749.4l-3-.6M592.5 748.7l-2.2-.5M595.1 749.4l-2.5-.8M602.9 747.8l-3 2.5M608.1 748.8l-2.8 .5M610.3 748.6l-2.1 .4M615.5 749.4l-2.9-1.1M627.2 748.2l-1.4 1.5M633.4 748.3l-4.1 .7M635.9 747.7l-2.6 2M638 748.3l-2.3 .3M640.7 748l-3.6 .7M642.6 747.4l-2.3 2.4M645.9 747.9l-3.5 1.3M648 748l-2.9 2M650.3 748.8l-3 .2M652.8 747.9l-1.7 1.6M656.4 748.6l-3.7 .6M658.3 747.5l-3.1 2.4M660.5 748.7l-2.4 .4M662.8 747.8l-2.4 1.1M665.7 747.5l-2.3 2.8M668.9 749.3l-4.3-.6M550.2 750.4l-1.8 1.6M553.7 751.4l-4.1 .3M556.1 751.7l-3.1-.2M557.8 751.2l-2.3 .6M561.2 752.2l-3.6-1.5M563.1 751.9l-2.5-1M570.7 751.8l-3.6-.9M573.8 751.2l-4.4 .3M576 752l-3.7-1.1M578.1 750.8l-2.4 .3M582.7 750.9l-2.3 1.1M585.9 750.8l-4.1 .4M588.3 750l-3.2 2.2M590.3 751.9l-1.8-1.7M593 751.4l-2.3-.2M596.4 751.1l-4.3 .6M597.9 752l-3-1.9M601 751.8l-3.7-1.2M603.8 750.9l-3.7 .8M623 749.2l-2.3 3.2M632.7 750.7l-1.9 1.4M635.3 750.7l-2.8 1.3M640.2 749.7l-2 3.7M643.2 750.3l-3.4 2.3M645.9 750.6l-3 .9M647.4 750l-1.7 2M649.8 750l-1.9 1.6M653.6 751.3l-3.9-.4M657.9 750.6l-2.1 1.4M661.2 750.8l-4.4 .5M663 751.2l-3.3 .4M558.7 753.6l-3.7-.2M560.8 753.4l-3.5 .3M570.8 752.8l-3.2 1.2M573 754.8l-2-1.5M576.7 753.4l-4.3 0M577.8 753.1l-1.9 1.7M583.7 753.7l-3.4-.1M585.4 754.1l-1.7-1.4M587.6 754.3l-1.9-.8M591.2 754.5l-4-1.4M593.2 752.5l-3.6 2.1M603.3 754.1l-2.6-.9M606.4 753.7l-4.2 .6M612.9 753.4l-2.6 .9M625.1 752.8l-2.5 1.2M631.2 753.3l-4.2 .9M653.9 753.2l-3.7 .8M655.3 753l-2.7 1.7M560.7 757.3l-3.5-1.5M563.7 757.2l-3.5-1.6M565.6 756.8l-2.7-.6M568.6 756.1l-3.9-.2M570.8 755.9l-2.6 .4M573.3 756.4l-3.4 .1M586.2 757.5l-3.3-1.9M598.2 756.6l-2.5 0M600.9 755.8l-3.7 .1M615.6 754.9l-3.5 2.1M562.4 758.8l-2.1-.9M566 758.5l-3.4 .8M569 759.4l-4.4-.6M571.3 758.3l-3.4 .3M573.1 759.5l-2.3-1M574.9 758.1l-2 1.8M588.2 759.1l-2.2-.6M593.2 758.5l-3.4 .2M595.6 758.4l-2.4 .4M598.1 758.6l-2.6 .8M603.2 759l-3-1M617.8 758.2l-1.9 .8M625.8 758.6l-2.5 .9M630.2 758.6l-2.5 .8M568.2 761.6l-3.8-1.1M570.9 762l-4-.9M573.7 761.1l-3.9-.2M577.7 761.3l-2 .4M583.7 761.3l-3.5 .6M586.1 761.3l-3.3-.1M593.4 761.2l-4-.2M617.7 760.4l-2.8 1.6M630.3 760.8l-2 .9M633.7 760.7l-3.5 1M636.4 761.1l-4 .9M570.3 764.1l-1.7-1.2M572.5 764.2l-1.8-1M575.7 763.5l-3.5-.2M583.4 762.9l-3.4 1M590.1 763.8l-2-.7M595.7 763.4l-2.4 .2M597.3 764.1l-2-.5M620.6 763.1l-2.1 1.5M628.2 763.1l-2.4 .4M631.3 763.1l-3.5 1.3M578.2 765.9l-2.8 1.3M581.2 766l-3.5 1.1M583.4 765.6l-3.1 .6M585.7 765.4l-3.8 1.2M588.2 767.4l-2.5-1.9M591.1 766.3l-4.1-.3M595.6 766.5l-3.3-.1M617.4 765.8l-1.4 1.6M620.2 765.2l-2.7 1.9M623.4 765.3l-3 1.2M630.3 766l-2.3 1.1M580.7 768.7l-3.8 .7M582.6 767.6l-2.4 2.2M589.7 768.1l-1.6 1.3M575.8 771.6l-3.9-.1M580.9 770.9l-4.1 .9M585.5 771.4l-2.5-.1M590.8 771.4l-3-.5M635.8 770.5l-2.6 1.5M583.5 774.5l-3.2-1.5M585.9 774.5l-3.6-1.5M588.6 772.7l-3.6 1.4M590.5 773.3l-3.1 1.5M576.1 776.4l-3.6 .2M578.6 776l-4.3 .9M580.3 776.2l-2-.7M582.4 777l-2-2M586.2 776.2l-4.1 0M587.9 776.6l-2.8-.1M590.1 776.6l-2.1-.9M578.1 778.6l-2.8 .7M580.4 778.7l-2.5 .3M582.5 778.5l-2 .8M588.4 779.3l-3-1.4" stroke="#000" stroke-width="0.65" fill="none"/><path d="M566.8 673.3l1.6-.6 0 1.3zM567.4 676.6l1.5-.9 .2 1.3zM567.6 678.5l1.7-.2-.4 1.3zM565.3 681.2l1.6-.7 0 1.4zM567.2 680.9l1.6-.7 .1 1.3zM564.5 683.6l1.7-.3-.3 1.3zM567.4 684.6l1.1-1.3 .6 1.2zM565.4 687.3l.9-1.5 .8 1.1zM567.4 686.3l1.6-.7 .1 1.3zM564.8 688.7l1.6-.8 0 1.3zM566.6 688.5l1.7-.5-.1 1.3zM655.2 688.1l1.6 .5-.8 1zM566.1 690.2l1.6 .8-1.1 .9zM567.7 691.5l1.5-1 .3 1.2zM652.9 689.5l1.6 .8-1 .9zM655 690.2l1.7 .7-1 .9zM564.3 694l1.6-.7 .1 1.3zM567.6 691.7l1.6 .7-.9 .9zM592.4 694.1l1.3-1.1 .4 1.2zM594.9 694.6l1.3-1.2 .4 1.3zM652.7 692.4l0 1.7-1.2-.4zM652.9 692.2l1.7 .5-.8 1zM655.7 691.9l1.4 .9-1 .8zM564.9 696.7l1.4-1 .3 1.3zM566.9 696.7l1.6-.7 0 1.3zM584.2 697.2l1.3-1.1 .4 1.3zM588 695.6l1.7 .2-.7 1.1zM589.7 696.9l1.5-.9 .2 1.3zM592.3 695.9l1.7-.2-.3 1.2zM594.5 696.2l1.6-.6-.1 1.4zM597 696.3l1.6-.5-.1 1.3zM600 695.8l1.7-.1-.4 1.3zM602.4 696.7l1.1-1.3 .6 1.2zM604.9 696.4l1.4-1.1 .3 1.3zM607.5 696.9l1.3-1.2 .5 1.3zM638.1 694.8l1.6 .8-1 .9zM641 694.8l1.5 .9-1.1 .8zM642.6 695.3l1.8 .1-.7 1.2zM645.5 694.4l1.2 1.2-1.2 .5zM647.8 694.8l1.5 .9-1.1 .7zM650.6 695.2l1.6 .7-.9 .9zM654.7 694.1l.6 1.6-1.4 0zM655.8 695.2l1.5 .8-1 .8zM564.7 698.2l1.6-.5-.1 1.3zM567.2 698.8l1.7-.5-.2 1.3zM579.8 697.9l1.8 0-.6 1.2zM582.7 696.9l1.6 .7-.9 .9zM584.8 698l1.7-.3-.4 1.3zM586.7 699.5l1.4-1 .3 1.3zM589.4 698l1.7-.3-.3 1.3zM591.4 698.8l1.6-.6 0 1.4zM594.5 698.3l1.8-.2-.4 1.3zM597.8 699.1l1.2-1.2 .6 1.2zM600.1 698.2l1.7-.3-.3 1.3zM602.4 700l.5-1.6 1 .9zM605.7 700.4l.4-1.7 1.1 .8zM607.7 699.6l.7-1.6 .9 1zM634.6 698.3l1.7-.3-.3 1.3zM637.5 697.2l1.5 .7-1 .9zM641.8 696.9l.5 1.7-1.3-.2zM642.4 696.2l1.4 1-1.1 .7zM644.5 696.9l1.7 .4-.8 1zM647.2 697.4l1.7 .5-.8 1zM650.7 697.3l1.5 .9-1.1 .8zM652.2 697.6l1.7 .1-.5 1.2zM655.2 697.7l1.7 .4-.9 1.1zM565.4 701.2l1.7-.3-.2 1.3zM567.9 701.5l1.5-.9 .2 1.3zM575.6 701.9l1.3-1.1 .4 1.2zM577.8 702l.8-1.6 .9 1zM580.7 700.4l1.6 .5-.7 1zM582.5 701.4l1.5-.9 .2 1.3zM584.5 701.7l1.4-1 .4 1.3zM586.9 702.3l1.3-1.1 .4 1.3zM590.1 701.8l1.3-1.2 .4 1.2zM592.1 701.4l1.5-.9 .2 1.3zM595.2 701.4l1.6-.7 0 1.3zM597.8 702l1.3-1.3 .5 1.3zM600.2 699.7l1.7 .4-.8 1zM603.6 703l0-1.7 1.2 .6zM604.6 703l.6-1.6 1 .9zM607.4 701.8l1.5-.8 .2 1.3zM635.1 699.8l1.6 .8-1 .9zM637.5 699.8l1.5 .8-1 .9zM640.1 700l1.6 .7-1 .9zM643.6 699.7l1.2 1.2-1.2 .5zM644.9 699.6l1.6 .7-1 .9zM647.6 699.3l1.5 1-1.1 .7zM649.8 700.9l1.7-.5-.2 1.3zM653.4 700l1.5 .9-1 .8zM655.2 700l1.7 .2-.7 1.2zM564.7 702.9l1.7-.2-.3 1.3zM567.4 703l1.7-.2-.3 1.3zM572.4 703.1l1.7 .1-.5 1.2zM574.1 703.5l1.5-.7 .1 1.3zM576.3 703.3l1.6-.6-.1 1.4zM579.5 704.7l1.3-1.1 .4 1.2zM582.4 703.5l1.6-.4-.2 1.3zM583.7 703.1l1.7-.5-.2 1.3zM586.7 703l1.8-.2-.4 1.2zM589.7 703l1.8-.2-.4 1.2zM592.5 704.3l1.3-1.2 .5 1.2zM594 704.1l1.4-1.1 .4 1.2zM596.8 702.5l1.7 .1-.5 1.2zM600.1 703.7l1.5-.9 .2 1.3zM601.8 704.5l1.1-1.2 .6 1.1zM604.5 703.9l1.6-.8 .1 1.4zM607.7 705l.8-1.5 .8 1.1zM632.6 705.8l.6-1.7 1 .9zM635 702.5l1.7 .1-.6 1.2zM637.8 702.6l1.7 0-.5 1.2zM639.3 703.5l1.6-.7 0 1.4zM643 702.8l1.8 .2-.7 1.2zM645.5 702l1.4 1-1.1 .7zM648.7 702l1.4 1-1.1 .7zM651 701.7l1 1.4-1.3 .3zM653.1 702.6l1.5 1-1.1 .7zM654.1 702.6l1.7 0-.5 1.3zM564.1 706.3l1.5-.9 .2 1.3zM566.9 706.5l1.5-.8 .2 1.3zM569.2 705l1.7 .1-.5 1.2zM572.3 706l1.6-.6-.1 1.3zM575.2 706.9l1.4-1 .3 1.3zM577.7 706.1l1.5-.9 .2 1.3zM580.1 706.6l1.4-1 .3 1.3zM581.9 707.1l1.3-1.1 .4 1.2zM584.2 706.2l1.5-.8 .1 1.3zM587.5 706l1.7-.1-.4 1.2zM590.8 707.4l.8-1.6 .9 1zM592 707.3l1.1-1.4 .6 1.2zM595.1 705.7l1.7-.1-.4 1.2zM597.3 705.2l1.8 0-.5 1.2zM599.3 705.4l1.7-.2-.4 1.3zM602.7 707.3l.9-1.5 .8 1.1zM604.5 706.6l1.3-1.1 .4 1.2zM607.8 708.4l.2-1.7 1.1 .7zM629.7 706.8l1.5-.9 .2 1.3zM632.2 706.9l1.2-1.3 .6 1.2zM635.1 707.1l1.1-1.3 .6 1.2zM638.1 704.3l1.2 1.3-1.2 .4zM641.3 704.2l1 1.3-1.2 .4zM643.4 705.3l1.6 .7-.9 .9zM644.9 704.2l1.5 .9-1.1 .8zM648.4 704.7l1.5 .9-1.1 .7zM650.2 704.5l1.6 .7-.9 .9zM653.1 703.7l1.3 1.1-1.1 .7zM654.2 704.7l1.7 .3-.8 1.1zM564.7 707.6l1.8-.1-.5 1.2zM566.5 708.8l1.4-.9 .3 1.3zM569.5 709.2l1.3-1.1 .4 1.3zM571.6 708.1l1.7-.1-.4 1.2zM575.4 708.1l1.7-.3-.3 1.3zM577 709.3l1.4-1 .3 1.3zM580.4 709l1.6-.6-.1 1.3zM582 708.7l1.5-.9 .2 1.3zM584.3 708.5l1.7-.5-.2 1.3zM587 708.8l1.5-.8 .1 1.3zM589.4 709.4l1.2-1.2 .5 1.2zM592.7 706.9l1.6 .6-.9 1zM594.8 708.7l1.7-.5-.1 1.3zM597.5 709.2l1.2-1.2 .5 1.2zM599.8 708.7l1.5-.7 .1 1.3zM602.3 710l.8-1.5 .8 1zM604.6 709.7l1.1-1.4 .6 1.1zM608.3 710.5l.3-1.7 1.1 .7zM624.2 709.6l1.4-1 .3 1.3zM627.5 710.8l.4-1.7 1.1 .8zM630.3 709.5l1.4-1.1 .3 1.3zM632.9 710.1l.8-1.5 .9 1zM634.5 710.3l1.1-1.3 .6 1.1zM636.5 708.4l1.7-.6-.1 1.4zM639.6 707.6l1.7 .3-.7 1.1zM642.1 707.1l1.7 .5-.9 1zM644.4 707.7l1.7 .1-.6 1.2zM647.9 706.7l1.3 1.2-1.2 .5zM649.6 708.2l1.7-.2-.4 1.3zM653.3 706.4l1.3 1.1-1.1 .6zM656.2 707.2l1.2 1.2-1.2 .5zM564.8 712l1.2-1.2 .6 1.2zM566.5 711.3l1.7-.6-.1 1.3zM569.3 710.8l1.6-.6-.1 1.4zM572.3 711.1l1.6-.5-.1 1.4zM574.8 710.4l1.7 .2-.7 1.2zM577.5 711.5l1.3-1.2 .4 1.3zM578.9 711.1l1.7-.4-.2 1.3zM582.1 711.3l1.6-.7 0 1.3zM584.2 710.2l1.7 .1-.5 1.2zM587.3 711.4l1.4-1 .4 1.2zM589.7 711.8l1.5-.9 .2 1.3zM592.8 711.4l1.2-1.2 .5 1.3zM594.8 711.4l1.6-.8 .1 1.3zM596.5 711.4l1.6-.6 0 1.3zM599 711.4l1.6-.6-.1 1.3zM602.9 711.7l1.2-1.2 .5 1.2zM605.1 713.4l.4-1.6 1.1 .7zM608 710.6l1.7-.3-.2 1.3zM617 713l.6-1.6 1 .9zM620.2 711.9l.9-1.4 .8 1.1zM621.9 711.5l1.6-.7 0 1.4zM624.7 712.8l.8-1.5 .8 1zM627.3 712l1.3-1.2 .4 1.3zM630.1 712.1l.7-1.5 .9 .9zM632.1 711.9l1.2-1.3 .6 1.2zM634.9 713l.4-1.7 1.1 .7zM638.3 712.6l.8-1.6 .8 1zM640.2 709.3l1.3 1-1.1 .7zM641.7 710.2l1.8 .1-.6 1.2zM645.6 710l1.6 .7-.9 .9zM648.2 710l1.4 .9-1 .8zM649.9 709.6l1.7 .4-.8 1.1zM653.8 709.4l.9 1.5-1.3 .2zM655.2 710.1l1.7 .4-.8 1.1zM564.5 712.5l1.7-.1-.5 1.3zM567.6 714.5l1.3-1.2 .4 1.2zM569.8 712.9l1.8 0-.5 1.2zM572.6 713.5l1.7-.3-.2 1.3zM574.8 713.2l1.8-.1-.5 1.3zM577.3 713l1.8 0-.6 1.2zM580.3 712.6l1.6 .6-.9 1zM582.7 713.9l1.7-.5-.1 1.3zM584.7 714.9l1.1-1.4 .7 1.2zM587.2 713.5l1.7-.4-.2 1.3zM589.4 712.9l1.7-.3-.3 1.3zM592.8 715.3l.9-1.4 .7 1.1zM594.3 713.8l1.5-.8 .2 1.3zM597.6 712.9l1.7 0-.5 1.2zM599.7 713.9l1.5-.9 .2 1.4zM602.7 713.3l1.7-.4-.3 1.3zM604.8 715.1l1.2-1.3 .5 1.2zM608.8 716.1l-.2-1.7 1.3 .4zM617.6 714.9l1-1.4 .7 1.1zM619.6 714.8l.9-1.4 .7 1zM622.8 713.5l1.7-.1-.4 1.2zM624.7 714l1.4-.9 .2 1.4zM627.6 715.6l.4-1.7 1.1 .8zM629.6 714.9l1.1-1.3 .7 1.1zM632.4 713.4l1.7-.5-.1 1.3zM634.5 714.5l1.2-1.2 .5 1.2zM637.9 712.7l1.7 .2-.6 1.1zM640.2 711.6l1.6 .8-1 .9zM642 711.7l1.6 .6-.9 1zM645.7 712.4l1.5 .8-1 .8zM647.5 711.5l1.5 .8-1 .8zM650.2 712.7l1.6 .5-.8 1zM653 712.1l1.6 .8-1 .9zM655.8 711.6l1.4 .9-1.1 .8zM562.7 715.4l1.7 .3-.7 1.1zM565.5 717.1l.9-1.5 .8 1.1zM567.6 716.2l1.6-.7 0 1.3zM569.3 716.4l1.6-.8 .1 1.3zM572.5 716.2l1.7-.4-.2 1.3zM575.1 716.7l1.2-1.3 .5 1.2zM576.5 714.8l1.7 0-.5 1.2zM579.2 717l1.2-1.2 .5 1.2zM582.7 715.5l1.8 .2-.7 1.1zM584.8 715.6l1.7-.5-.2 1.3zM587.5 715.3l1.8 .2-.7 1.2zM590.2 714.5l1.7 .5-.9 1zM592.1 716.2l1.6-.7 0 1.3zM595.1 716.5l1.4-1.2 .3 1.3zM596.5 715.7l1.7-.3-.3 1.3zM599.9 715.5l1.7-.2-.3 1.3zM602.4 716.5l1.3-1.1 .4 1.3zM604.6 716l1.5-.8 .1 1.4zM606.8 717.9l.9-1.4 .8 1.1zM617.5 717.4l1.1-1.4 .6 1.2zM619.8 717l1-1.4 .7 1.1zM622.6 715.4l1.7 .3-.7 1.1zM626.3 717.8l-.1-1.7 1.2 .4zM626.8 716.3l1.5-.8 .2 1.3zM629.7 717.3l1.2-1.3 .5 1.2zM632.4 715.9l1.7-.5-.1 1.3zM634.6 716.6l1.5-.9 .2 1.3zM637.3 717.7l1-1.4 .7 1.1zM639.6 714.9l1.8 0-.5 1.2zM641.5 715.3l1.7-.1-.3 1.2zM644.7 714.9l1.7 .4-.8 1zM648.3 714.5l1.2 1.1-1.2 .6zM650.9 714.9l1.3 1.1-1.2 .6zM653 715.6l1.7 .4-.8 1.1zM654.8 716.8l1.5-.9 .1 1.3zM559.1 718.6l1.6-.5 0 1.3zM563.1 719.4l.9-1.5 .8 1.1zM564.4 719.5l1.4-1 .3 1.3zM566.9 718.8l1.4-1 .3 1.3zM568.7 718.9l1.4-.9 .2 1.3zM572.1 717.8l1.7-.1-.5 1.3zM574.5 718.5l1.6-.5-.1 1.3zM577.5 718.3l1.6-.5-.1 1.3zM579.3 718l1.7-.3-.3 1.3zM582.3 718.7l1.6-.5-.2 1.3zM585 719l1.5-.7 .1 1.3zM587.1 719.3l1.5-.8 .1 1.3zM590.1 718.8l1.4-1 .3 1.3zM592.1 717.8l1.8 .1-.6 1.2zM595.3 719l1.3-1.2 .5 1.3zM596.5 718.3l1.7-.4-.2 1.3zM599.5 718.2l1.7-.4-.2 1.3zM602.1 720.4l.8-1.5 .9 1zM605.6 719.4l1.2-1.2 .5 1.2zM607.2 719.6l1.2-1.2 .5 1.3zM609.7 719.8l1.1-1.4 .7 1.2zM614.9 719.6l1.1-1.3 .6 1.2zM618 719.5l1.1-1.3 .6 1.2zM619.9 718.7l1.7-.4-.2 1.3zM622.3 719.7l1-1.4 .7 1.1zM624.6 718.2l1.7-.3-.3 1.3zM626.9 719.8l1.2-1.2 .5 1.2zM629.4 719.3l1.3-1.2 .4 1.2zM632 719.4l1.3-1.1 .5 1.2zM634.4 719.6l1.4-1 .3 1.3zM637.8 720.3l.5-1.7 1 .8zM639.9 718.3l1.8-.1-.5 1.3zM642.3 718.6l1.6-.7 .1 1.3zM645 718.1l1.7-.1-.4 1.2zM647.7 717.7l1.7 .3-.7 1.1zM649.9 716.9l1.5 .9-1.1 .8zM652.9 717.4l1.5 .7-1 .9zM654.7 717l1.7 .5-.8 1zM558 721.2l1.7-.4-.2 1.3zM559.9 721.1l1.8-.3-.3 1.3zM562.3 722l1.1-1.3 .6 1.2zM564.9 721.6l1.3-1 .4 1.2zM567.3 721.3l1.4-.9 .2 1.3zM570.2 719.7l1.7 .3-.8 1.1zM572.7 720.5l1.8-.2-.4 1.3zM574.6 719.3l1.6 .5-.8 1zM576.5 721.4l1.6-.7 0 1.3zM579.7 720.2l1.7 .2-.7 1.2zM582.2 721.3l1.6-.7 0 1.3zM584.1 721l1.6-.5-.1 1.3zM587 720.9l1.7-.4-.2 1.3zM590 720.9l1.7-.5-.1 1.3zM591.7 721.3l1.6-.5-.1 1.3zM595.1 721.8l1.5-.9 .2 1.3zM597.1 721.8l1.1-1.3 .6 1.2zM599.8 721.1l1.6-.6 0 1.3zM603.6 722.9l-.2-1.7 1.2 .3zM604.9 721.5l1.4-1.1 .3 1.3zM607.7 722.1l.7-1.7 .9 1zM610.1 720.4l1.7-.2-.3 1.3zM613.9 722.2l1.4-1.1 .3 1.3zM617.9 722.7l.8-1.6 .9 1zM619.5 722.5l1-1.5 .7 1.1zM621.9 722.7l1-1.4 .7 1.2zM626.5 722.5l0-1.8 1.2 .5zM627.7 722.2l1-1.4 .7 1.1zM629.3 720.8l1.7-.3-.2 1.2zM632.1 723.1l.7-1.6 .9 .9zM634.8 721.3l1.6-.5-.1 1.3zM636.6 721.3l1.6-.8 .1 1.3zM640.9 719.4l1.4 1-1.2 .7zM642.7 719.5l1.7 .6-.9 1zM645.3 720.5l1.7 0-.5 1.2zM647.9 719.2l1.6 .7-1 .9zM650.2 720.1l1.5 .9-1 .8zM652.2 720.4l1.7-.2-.3 1.3zM654.6 720.1l1.7 .4-.8 1.1zM553.9 723.7l1.7-.4-.2 1.3zM557.2 722.8l1.7 .1-.6 1.2zM558.8 723.7l1.7-.6-.1 1.4zM562 725l1.2-1.2 .5 1.2zM563.9 723.1l1.8-.3-.4 1.3zM567.1 723.6l1.6-.7 0 1.4zM570.7 725l.7-1.5 .9 .9zM572.2 723.1l1.7-.4-.3 1.3zM576.7 722l1.8 .2-.7 1.2zM580 723.4l1.7-.2-.3 1.3zM582.2 723.3l1.8-.1-.4 1.2zM585 724.9l1.2-1.3 .6 1.2zM587.1 722.9l1.7-.2-.4 1.3zM590.2 722.3l1.6 .5-.9 1zM591.7 723.3l1.8-.2-.4 1.3zM595.2 722.1l1.5 .8-1 .8zM597.5 724.9l1-1.4 .7 1.1zM600.4 722.9l1.7 .3-.7 1.1zM601.7 724l1.5-.7 .1 1.3zM604.5 724.4l1.3-1.2 .5 1.2zM606.7 723.5l1.6-.7 .1 1.3zM609.9 724.6l1-1.4 .7 1.1zM613.7 724.6l1.4-1 .3 1.3zM618.3 725.6l.2-1.7 1.1 .6zM620.6 725.1l.8-1.5 .8 1zM622.7 724.9l1.1-1.3 .7 1.1zM625.9 724.8l.4-1.7 1.1 .8zM628.2 725.4l.6-1.6 1 .9zM630.2 725.4l.6-1.7 .9 .9zM631.9 725.1l.8-1.6 .9 1zM634.6 723.6l1.6-.7 0 1.4zM638.7 725.5l.3-1.7 1.1 .7zM639.1 723.7l1.6-.7 0 1.3zM643.5 720.9l1 1.4-1.2 .4zM645.4 721.4l1.3 1.1-1.1 .6zM647.4 722.2l1.7 .5-.8 1zM651.3 722.3l1.4 1.1-1.2 .6zM653 722.3l1.5 .7-.9 .9zM654.6 722.8l1.7-.2-.3 1.2zM552.3 726l1.7-.6-.1 1.3zM554.7 726.5l1.6-.7 0 1.3zM556.7 726.2l1.5-.8 .1 1.4zM560.1 725.7l1.7-.1-.4 1.2zM562.4 725.6l1.8-.1-.5 1.2zM564.9 726.5l1.3-1.1 .4 1.3zM567.3 727.1l1.2-1.3 .5 1.2zM569.5 725.5l1.7-.3-.3 1.3zM571.5 726.8l1.3-1.1 .5 1.2zM574.2 725.1l1.7-.2-.4 1.3zM580.3 726.1l1.7-.4-.3 1.3zM583.8 728l.1-1.7 1.2 .5zM584.7 726.7l1.4-1 .3 1.3zM587.4 725.9l1.6-.6-.1 1.4zM589.4 725.5l1.7-.4-.2 1.3zM592.4 726.7l1.3-1.1 .4 1.3zM594.5 727.8l1.1-1.4 .7 1.2zM596.5 726.9l1.4-1 .3 1.3zM599.1 726.5l1.5-.9 .2 1.3zM602 726l1.5-.8 .2 1.3zM604.2 727.4l1.2-1.2 .5 1.2zM607 727.4l1.2-1.3 .5 1.3zM612.8 726.5l1.5-.9 .2 1.3zM615.3 728.2l.7-1.6 .9 1zM617.1 727.8l.6-1.6 .9 .9zM620.2 728.3l.5-1.6 1 .8zM622.1 725.7l1.7-.4-.3 1.3zM625.5 727.5l.7-1.6 .9 .9zM627 727l1.4-1 .3 1.3zM629.8 727.8l1-1.4 .7 1.1zM633.1 728.3l.3-1.8 1.1 .8zM635.4 728.1l.2-1.7 1.1 .6zM637.6 727l1-1.4 .7 1.1zM639.7 727.2l1.1-1.3 .6 1.2zM642.3 727.6l1.2-1.3 .6 1.2zM645.8 724.7l1.6 .8-1 .9zM649 724l1 1.5-1.3 .2zM650.5 724.6l1.6 .6-.9 1zM651.8 726.8l1.5-.9 .2 1.2zM655.1 727.2l.9-1.5 .8 1zM549.2 727.9l1.7 .1-.5 1.2zM552.2 729.1l1.6-.8 .1 1.3zM554.9 728.1l1.6-.4-.2 1.3zM557.2 729.2l1.3-1.1 .4 1.3zM559.9 728.8l1.5-.9 .2 1.3zM561.7 728.5l1.6-.6 0 1.3zM565 730.9l.4-1.7 1.1 .8zM566.8 728.9l1.6-.6 0 1.3zM568.9 728.6l1.6-.8 .1 1.3zM572.2 728.5l1.7-.3-.3 1.3zM575.5 727.9l1.8-.1-.4 1.2zM576.8 727.5l1.7 .2-.6 1.2zM584.7 727.5l1.7 .3-.7 1.1zM587.6 727.6l1.6 .6-.9 1zM589.5 727.6l1.7 .3-.7 1.1zM592.3 729l1.7-.6-.1 1.4zM594.7 727.9l1.7 0-.5 1.2zM597.2 728.6l1.7-.5-.2 1.3zM598.9 728.7l1.6-.6-.1 1.3zM603.1 729.3l.9-1.5 .8 1zM605.5 730l.6-1.6 1 .9zM609.8 730.3l.6-1.6 1 1zM616.7 729.5l1.1-1.3 .6 1.2zM619.2 730.1l.9-1.5 .8 1.1zM622 729.9l1.1-1.3 .6 1.1zM624.3 729.1l1.6-.8 0 1.3zM627.5 730l.7-1.6 .9 .9zM630.4 729.3l.9-1.4 .8 1zM631.5 728.8l1.5-.8 .1 1.3zM635.1 728.4l1.6-.7 0 1.3zM636.6 729.6l1.3-1.1 .4 1.3zM642.3 730.4l.7-1.6 1 1zM644.8 730l.9-1.5 .8 1zM647.1 730.1l1-1.4 .7 1.1zM649.9 728.5l1.5-.8 .2 1.3zM652.3 730l1.2-1.3 .5 1.2zM547.4 731.6l1.6-.8 .1 1.3zM549.2 730.9l1.6-.7 .1 1.3zM551.7 731l1.6-.4-.1 1.3zM554.9 731.3l1.6-.7 0 1.3zM557.3 731.5l1.4-1 .3 1.3zM559.9 732.1l1.2-1.3 .6 1.2zM562.9 731.7l1.2-1.3 .5 1.2zM564.2 731.3l1.7-.5-.2 1.3zM567.4 731l1.6-.6 0 1.3zM569.1 730.8l1.8-.2-.4 1.3zM572.5 731.5l1.3-1.1 .4 1.3zM574.8 729.8l1.7 .3-.8 1.1zM577.5 730.9l1.6-.5-.1 1.3zM579.8 731.7l1.1-1.3 .6 1.1zM585.3 731.5l1.7-.6-.2 1.4zM587.9 732l1.1-1.3 .6 1.1zM589.9 731.2l1.5-.9 .2 1.3zM592.4 731.3l1.6-.7 0 1.3zM595.3 731.9l1.5-1 .2 1.3zM597.6 731.6l1.5-.9 .2 1.3zM600.1 730.3l1.8 .1-.6 1.2zM601.6 730.7l1.8-.2-.4 1.3zM611.2 733.5l-.3-1.7 1.3 .3zM614.6 732.4l.9-1.4 .8 1zM618.2 732.1l1-1.4 .7 1.1zM619.8 732.3l.8-1.6 .9 1.1zM621.8 731.6l1.4-1 .3 1.3zM625.8 733.5l.1-1.7 1.2 .5zM628 731.8l1-1.4 .7 1.1zM629.3 729.8l1.8 .1-.6 1.2zM631.9 731.6l1.4-1 .3 1.3zM635 732.3l1-1.4 .7 1zM638.1 732.1l1.2-1.3 .5 1.2zM639.9 731.5l1.4-1 .3 1.3zM643 732.3l.7-1.6 .9 1zM644 731.8l1.4-1.1 .3 1.3zM647.1 732.8l.9-1.4 .8 1zM650.5 732.1l1.2-1.2 .5 1.2zM652.5 732.3l.8-1.6 .8 1.1zM657 733.1l-1-1.5 1.2-.2zM544.8 733.6l1.7-.5-.1 1.3zM550.1 734.1l1.5-.8 .1 1.3zM552.4 732.8l1.7-.2-.4 1.3zM554.7 732.8l1.7 0-.5 1.2zM556.6 734.1l1.3-1 .4 1.2zM560.1 732.2l1.7 .3-.7 1.1zM561.9 733.4l1.7-.3-.3 1.3zM564.9 733.4l1.6-.6-.1 1.3zM567.3 733.4l1.7-.3-.2 1.3zM569.9 732l1.7 .5-.9 1zM572 733.4l1.6-.4-.2 1.3zM574.8 733.7l1.5-.7 .1 1.3zM576.9 734.1l1.5-.8 .1 1.4zM578.8 733.7l1.7-.5-.2 1.3zM582.8 735.1l.4-1.7 1.1 .7zM585.5 733.1l1.6-.4-.2 1.3zM586.5 733.9l1.6-.6 0 1.3zM590.2 733.6l1.7-.2-.3 1.3zM592.5 732.5l1.7 .4-.8 1zM594.3 733.6l1.6-.6 0 1.3zM597.1 734.2l1.6-.7 0 1.3zM599.4 734.5l1.1-1.3 .7 1.1zM603.9 735.1l-.5-1.7 1.4 .1zM605.3 734.9l.5-1.7 1 .9zM606.9 734.3l1.3-1.2 .4 1.2zM610.3 734.7l1.3-1.2 .5 1.3zM612.2 735.2l.6-1.6 1 .9zM614.4 734.1l1.4-1 .3 1.2zM618.1 735.3l.7-1.5 .9 .9zM620.1 735.7l.6-1.6 1 .9zM622.3 735.6l.7-1.6 .9 .9zM624.4 734.7l1.1-1.3 .6 1.2zM627.8 733.9l1.2-1.1 .5 1.2zM630.9 734.7l.8-1.6 .9 1zM633.5 735.6l-.2-1.7 1.3 .3zM634.7 735.8l.5-1.7 1 .9zM636.8 734.2l1.4-.9 .3 1.2zM640.5 735l.4-1.7 1.1 .8zM642.1 733.9l1.6-.8 .1 1.3zM644.9 734.7l1-1.4 .7 1.2zM646.9 734.1l1.4-1 .3 1.3zM651.3 733.8l1.7-.6-.1 1.3zM655.1 734.4l1.2-1.3 .6 1.2zM656.7 734.5l1.4-1.1 .4 1.2zM544.2 736.8l1.5-1 .2 1.3zM547.6 736.2l1.7-.3-.2 1.3zM552.3 736.2l1.6-.7 0 1.3zM554.1 737.1l1.4-1.1 .3 1.2zM557.1 737.2l1.2-1.2 .6 1.1zM559.6 736.6l1.5-.9 .2 1.3zM562.5 735.4l1.7-.2-.4 1.3zM565.1 737l1.2-1.2 .5 1.3zM567.3 737.9l.8-1.5 .9 1zM572.2 735.3l1.7 .1-.5 1.2zM574.5 735.9l1.6-.6 0 1.3zM576.7 735.4l1.7-.1-.5 1.3zM579.9 735.9l1.7-.1-.4 1.2zM584.2 737.1l1.4-1 .3 1.3zM587.2 735.9l1.6-.6 0 1.3zM589.6 736.8l1.5-.9 .2 1.3zM592.4 736.4l1.3-1.1 .4 1.3zM595 736.5l1.5-.9 .2 1.3zM605 737l1.2-1.3 .5 1.2zM607.4 736.1l1.6-.8 .1 1.3zM610.6 736.6l1.1-1.3 .6 1.2zM614.9 736.7l1.5-1 .2 1.3zM617.8 736.8l1.3-1.2 .4 1.3zM620 737.5l.9-1.4 .7 1.1zM622.1 737.5l.7-1.6 .9 .9zM624.3 736.5l1.5-.9 .2 1.3zM627.3 736.4l1.6-.8 .1 1.4zM629.9 736.2l1.6-.7 0 1.3zM632.5 738.2l.5-1.6 1 .8zM634 737.6l1.1-1.3 .6 1.2zM637.3 738.2l.5-1.7 1 .9zM639.4 737.7l.9-1.4 .8 1zM642.9 738.6l.4-1.7 1.1 .7zM645.3 736.9l1.1-1.3 .6 1.2zM648 738.1l.4-1.7 1.1 .7zM650.2 737.6l.9-1.5 .8 1zM652.3 737.1l1.4-1 .3 1.2zM655 737.6l1-1.4 .7 1.1zM659.7 737l1.3-1.2 .4 1.3zM662 738.2l.8-1.5 .8 1zM665.8 738.1l.3-1.8 1.1 .7zM545.6 739.7l.8-1.4 .8 1zM547.8 739.4l1-1.5 .7 1.2zM550.2 739l1.5-.9 .2 1.3zM552.2 738.7l1.7-.4-.3 1.3zM554.6 738.2l1.7-.4-.2 1.3zM557 739.9l1.3-1.2 .5 1.2zM560.2 738.5l1.7-.1-.4 1.2zM562.5 738.9l1.4-1 .3 1.3zM565.1 738.4l1.6-.6-.1 1.4zM567.2 737.1l1.7 .2-.7 1.1zM571.6 737.4l1.7 .1-.5 1.2zM576.7 738.7l1.7-.5-.1 1.3zM579.9 738.7l1.7-.4-.2 1.3zM583 738l1.7-.1-.4 1.2zM584.3 738.4l1.7-.3-.2 1.3zM589.7 739.7l1.3-1.2 .5 1.2zM592.5 739.4l1.3-1.2 .5 1.3zM594.8 738.3l1.7-.2-.3 1.2zM599.6 739.8l1.3-1.1 .5 1.2zM603.5 740.8l0-1.7 1.2 .5zM604.1 739.2l1.5-.8 .1 1.3zM612.1 738.9l1.4-1 .4 1.2zM615.1 739.5l1.1-1.4 .6 1.1zM617.6 740.5l.7-1.6 .9 .9zM620.4 739.4l1.4-1.1 .3 1.2zM622.2 739.6l1.3-1.2 .5 1.3zM624.7 738.9l1.6-.6 0 1.3zM627.9 740.9l.2-1.7 1.2 .6zM630.2 740.6l.5-1.7 1 .9zM632.4 740l.8-1.6 .9 1zM634.8 739.1l1.5-.8 .2 1.3zM637.2 739.7l1.3-1.2 .5 1.3zM642.9 740.6l.6-1.6 1 .9zM644.1 740l1.3-1.2 .4 1.2zM648 740l.5-1.6 1 .8zM650.3 739.7l.7-1.6 .9 .9zM652.4 739.9l1.1-1.3 .6 1.2zM656.8 739.8l1.1-1.3 .6 1.1zM658.8 738.4l1.7-.5-.2 1.3zM664.5 740l.9-1.4 .8 1zM667.3 739.6l1.1-1.3 .6 1.2zM545.3 741.6l1.5-.8 .1 1.3zM547.3 741l1.6-.7 .1 1.3zM550.3 741.8l1.1-1.3 .6 1.1zM552.2 742.3l1.2-1.3 .5 1.2zM556.3 741.3l1.7-.5-.1 1.3zM565 740.7l1.7-.5-.2 1.3zM567.4 741.4l1.4-1 .3 1.2zM569.9 741.2l1.6-.5-.1 1.3zM572.5 740.4l1.7-.2-.4 1.3zM575.5 742.3l.7-1.6 .9 1zM577 742.7l1.1-1.3 .6 1.2zM579.9 743l.6-1.6 1 .9zM581.3 740.1l1.7-.2-.3 1.3zM584.8 740.6l1.7-.4-.3 1.3zM590 742.4l1.1-1.4 .7 1.1zM595.3 740.5l1.8 .3-.8 1.1zM596.4 740.2l1.7-.3-.3 1.3zM599.6 741.3l1.4-.9 .2 1.3zM602.2 742.6l1.1-1.4 .7 1.2zM605.2 741.4l1.5-.8 .1 1.3zM607.2 742.9l1.1-1.4 .7 1.2zM612.3 741.5l1.4-.9 .3 1.3zM621.9 741.4l1.5-.9 .2 1.3zM625.3 741.8l1.1-1.3 .6 1.2zM627 741.3l1.5-.8 .1 1.3zM630.4 741l1.5-.8 .2 1.3zM632.3 741.6l1.5-.9 .2 1.3zM635 742.1l1.2-1.2 .5 1.2zM637.6 743.5l.6-1.6 .9 .9zM645 742.4l1-1.4 .7 1.1zM647.1 742.9l.9-1.5 .8 1zM649.8 741.2l1.5-.8 .1 1.3zM653.2 742.2l.7-1.6 .9 .9zM654.6 743.2l.7-1.6 .9 1zM657.9 742.4l.7-1.6 .9 .9zM659.3 742.3l1.3-1.2 .5 1.2zM662 741.7l1.3-1.1 .4 1.2zM665.1 741.6l1.2-1.2 .5 1.2zM669.5 741.9l1.3-1.1 .4 1.3zM672.2 742.3l.9-1.5 .8 1.1zM545.1 743.7l1.6-.6 0 1.3zM547.3 744.2l1.3-1.2 .4 1.2zM549.8 743.7l1.5-.9 .2 1.3zM552.7 744.5l1.2-1.3 .5 1.2zM555 743.6l1.7-.3-.2 1.3zM557.1 742.7l1.7-.2-.4 1.3zM560.1 743.6l1.6-.6-.1 1.3zM561.6 744.1l1.5-.9 .1 1.3zM565.3 744.4l1.2-1.2 .5 1.2zM567.1 743.6l1.7-.3-.3 1.3zM569.2 745.4l1.1-1.4 .6 1.1zM572.2 742.7l1.7 0-.5 1.2zM574.2 744.6l1.3-1.2 .4 1.3zM576.7 743.3l1.7-.3-.3 1.2zM578.9 743.6l1.6-.6 0 1.3zM582.1 745.1l.8-1.6 .8 1zM585 743.3l1.8 0-.5 1.2zM586.8 744.3l1.2-1.3 .5 1.3zM590.1 741.9l1.6 .8-1 .8zM591.9 742.8l1.8-.1-.5 1.3zM597.1 743.9l1.4-.9 .3 1.3zM599.6 741.8l1.6 .4-.7 1zM603 744.9l1-1.4 .7 1.1zM604.8 744.7l1.1-1.3 .6 1.2zM614.7 744.3l1.4-1 .3 1.3zM631.5 744.6l1.2-1.2 .5 1.2zM634.5 743.9l1.6-.7 0 1.3zM638 745.8l.3-1.7 1.1 .7zM641 745.1l.2-1.7 1.2 .7zM644.4 743.3l1.6-.5-.1 1.3zM649.2 744.6l1.3-1.1 .4 1.2zM652.1 743.9l1.4-1 .3 1.3zM655.6 744.8l.9-1.5 .8 1zM656.4 744.9l1.3-1.1 .4 1.2zM660.5 744.7l.9-1.5 .8 1zM662.6 744.6l1.1-1.3 .6 1.1zM665 744.7l1-1.4 .7 1.1zM667.1 744.1l1.3-1.2 .5 1.3zM670.3 745.2l.6-1.7 1 .9zM544.8 745.7l1.7-.4-.2 1.3zM546.6 745.2l1.7 .2-.6 1.2zM550.2 745.6l1.7-.2-.3 1.3zM551.6 747.3l1.1-1.3 .6 1.1zM554.3 747.4l1.3-1.2 .5 1.2zM557.5 746.1l1.8-.2-.4 1.3zM559.6 745.2l1.8 0-.6 1.2zM562.1 747l1.4-1.1 .3 1.3zM564 746.6l1.5-.9 .2 1.3zM567.3 745.9l1.7-.1-.4 1.3zM569 746.3l1.6-.8 .1 1.4zM572.4 747.2l1-1.4 .7 1.2zM575 746.7l1.2-1.2 .5 1.2zM577.6 745.3l1.8 0-.6 1.2zM585.2 745.6l1.7-.2-.4 1.3zM588.8 745.9l1.6-.6 0 1.3zM592.7 745.5l1.7-.1-.5 1.3zM594.8 747l1.2-1.2 .5 1.2zM601.5 746.5l1.5-.8 .2 1.3zM605.9 747.7l.4-1.7 1.1 .7zM608 746.7l1-1.4 .7 1.1zM610 747.3l1.2-1.3 .5 1.2zM612.4 747l.9-1.5 .8 1.1zM619.6 747.4l1-1.3 .7 1.1zM631.8 747.2l1.2-1.3 .5 1.2zM635.2 745.7l1.7-.4-.2 1.3zM638 747.7l.7-1.6 .9 1zM640.4 748l0-1.8 1.2 .6zM642.7 747.6l.3-1.7 1.1 .7zM644.7 747l1.3-1.1 .4 1.3zM647.9 747.5l.7-1.6 1 1zM648.9 747.6l1.1-1.3 .6 1.2zM652.5 746.3l1.4-1.1 .4 1.3zM655.1 746.4l1.5-.9 .1 1.3zM657.9 748.1l.7-1.6 .9 .9zM659.6 747.5l.7-1.6 .9 1zM662.6 746.6l1.6-.7 0 1.4zM664.8 748l.9-1.5 .8 1.1zM666.6 747.3l1.2-1.3 .5 1.2zM545.4 748.5l1.6-.7 0 1.3zM547.6 749.6l1-1.4 .7 1.2zM550.2 748.5l1.7-.4-.3 1.3zM552.4 748.6l1.7-.2-.4 1.3zM554.8 749.2l1.4-1.2 .4 1.3zM556.4 748.8l1.6-.8 .1 1.3zM559.4 748.1l1.8 0-.5 1.2zM562.8 748.8l1.7-.5-.2 1.3zM564.9 749.1l1.4-1 .3 1.3zM567.3 748.2l1.7-.2-.3 1.3zM569.6 749.9l1.3-1.2 .5 1.2zM572.6 748l1.7-.3-.3 1.3zM574.1 749.6l1.4-1.1 .4 1.3zM576.9 748.9l1.5-.8 .1 1.3zM582.2 748.9l1.4-1 .3 1.3zM584.4 748.7l1.7-.4-.3 1.3zM589.8 748.1l1.7-.3-.3 1.3zM592.1 748.4l1.7-.1-.4 1.2zM599.5 750.6l.8-1.5 .9 1zM604.8 749.4l1.5-.9 .2 1.3zM607.7 749.1l1.4-.9 .3 1.2zM612.1 748.1l1.8 0-.5 1.2zM625.5 750.1l.6-1.7 .9 .9zM628.9 749.1l1.4-.9 .2 1.3zM632.9 750l.9-1.5 .7 1.1zM635.2 748.6l1.5-.8 .1 1.3zM636.6 748.8l1.5-1 .2 1.3zM639.9 750.1l.7-1.6 .9 .9zM642 749.3l1.3-1.1 .4 1.2zM644.7 750.3l1-1.5 .7 1.1zM646.8 749l1.6-.7 0 1.3zM650.7 749.8l.7-1.6 .9 1zM652.2 749.3l1.4-.9 .3 1.3zM654.8 750.2l.8-1.5 .9 1.1zM657.6 749.2l1.4-.9 .2 1.3zM659.9 749.2l1.2-1.3 .5 1.2zM663.1 750.7l.5-1.6 1 .8zM664.1 748.7l1.7-.5-.2 1.3zM548 752.3l.8-1.6 .9 1zM549.1 751.8l1.6-.8 .1 1.3zM552.5 751.4l1.7-.5-.1 1.3zM555 751.9l1.4-1 .3 1.3zM557.1 750.5l1.8 0-.5 1.2zM560.2 750.7l1.7 0-.5 1.2zM566.6 750.7l1.7-.2-.3 1.3zM568.9 751.6l1.6-.8 .1 1.3zM571.9 750.7l1.7-.1-.4 1.2zM575.2 751.2l1.5-.9 .2 1.3zM579.9 752.2l1.2-1.3 .5 1.2zM581.3 751.3l1.5-.8 .1 1.3zM584.6 752.5l1-1.4 .7 1zM588.1 749.8l1.6 .7-.9 .9zM590.2 751.1l1.7-.5-.2 1.3zM591.6 751.7l1.5-.8 .2 1.3zM594.4 749.8l1.7 .3-.6 1.1zM596.8 750.4l1.8-.1-.5 1.2zM599.6 751.8l1.4-1 .3 1.3zM620.4 752.8l.4-1.7 1.1 .8zM630.4 752.4l.9-1.5 .8 1.1zM632 752.3l1.2-1.3 .6 1.2zM637.9 753.8l.2-1.7 1.2 .6zM639.4 752.9l.9-1.4 .7 1.1zM642.4 751.6l1.4-1.1 .3 1.3zM645.4 752.4l.5-1.6 1 .8zM647.5 752l.8-1.6 .9 1zM649.2 750.9l1.7-.5-.2 1.3zM655.4 752.3l1-1.5 .7 1.1zM656.3 751.4l1.6-.9 .1 1.3zM659.2 751.7l1.5-.9 .2 1.3zM554.5 753.3l1.7-.5-.1 1.3zM556.8 753.7l1.6-.8 .1 1.3zM567.1 754.2l1.3-1.2 .4 1.2zM570.6 753l1.6 .4-.7 1.1zM571.9 753.4l1.6-.7 0 1.3zM575.5 755.2l.8-1.6 .9 1zM579.8 753.6l1.6-.6 0 1.3zM583.3 752.4l1.7 .5-.8 1zM585.2 753.3l1.7 0-.5 1.2zM586.7 753l1.7-.1-.4 1.2zM589.2 754.9l1-1.4 .7 1.1zM600.2 753.1l1.8-.1-.5 1.2zM601.7 754.3l1.5-.8 .2 1.3zM609.8 754.5l1.3-1.2 .4 1.3zM622.1 754.3l1.2-1.3 .6 1.2zM626.5 754.3l1.5-1 .2 1.3zM649.7 754.1l1.4-1 .3 1.3zM652.2 754.9l.9-1.4 .8 1.1zM556.8 755.6l1.7 0-.5 1.2zM559.8 755.4l1.7 0-.5 1.2zM562.4 756.1l1.7-.3-.3 1.3zM564.2 755.8l1.7-.5-.1 1.3zM567.7 756.4l1.5-.9 .2 1.3zM569.4 756.5l1.6-.7 0 1.3zM582.4 755.4l1.8 .2-.7 1.1zM595.2 756.6l1.6-.7 0 1.3zM596.7 756l1.6-.8 .1 1.4zM611.7 757.3l1-1.4 .7 1.1zM559.8 757.8l1.8-.1-.5 1.3zM562.1 759.4l1.4-1 .4 1.3zM564.1 758.7l1.7-.4-.2 1.3zM567.4 758.6l1.5-.8 .1 1.3zM570.4 758.3l1.7 0-.6 1.2zM572.6 760.2l.7-1.5 .9 .9zM585.5 758.4l1.7-.2-.3 1.2zM589.3 758.8l1.6-.8 .1 1.3zM592.7 758.9l1.4-.9 .2 1.3zM595 759.6l1.3-1.1 .4 1.2zM599.8 757.9l1.7-.2-.4 1.3zM615.4 759.1l1.2-1.1 .5 1.2zM622.8 759.7l1.3-1.2 .5 1.3zM627.2 759.6l1.3-1.1 .4 1.2zM563.9 760.4l1.7-.2-.4 1.3zM566.4 761l1.7-.3-.3 1.3zM569.3 760.9l1.6-.6 0 1.3zM575.2 761.8l1.4-1 .3 1.3zM579.7 762l1.4-.9 .3 1.3zM582.3 761.2l1.6-.6 0 1.3zM588.9 761l1.7-.6-.1 1.3zM614.5 762.3l1-1.4 .7 1.1zM627.8 761.9l1.2-1.3 .5 1.2zM629.7 761.8l1.4-1.1 .3 1.3zM632 762.1l1.4-1 .3 1.3zM568.2 762.6l1.6 .4-.7 1.1zM570.3 762.9l1.7 .3-.7 1.1zM571.7 763.3l1.6-.6 0 1.3zM579.5 764l1.4-1.1 .4 1.3zM587.6 762.9l1.7-.1-.4 1.3zM592.8 763.6l1.6-.7 .1 1.3zM594.8 763.5l1.8-.2-.4 1.2zM618.1 764.9l.9-1.5 .8 1.1zM625.3 763.6l1.5-.9 .2 1.3zM627.3 764.6l1.3-1.2 .4 1.3zM574.9 767.4l1.2-1.3 .6 1.2zM577.2 767.3l1.4-1.1 .4 1.2zM579.8 766.3l1.5-1 .2 1.3zM581.5 766.7l1.3-1.1 .4 1.3zM585.3 765.2l1.7 .5-.8 1zM586.5 766l1.6-.6-.1 1.3zM591.8 766.4l1.6-.6 0 1.3zM615.7 767.7l.6-1.6 .9 .9zM617.1 767.4l.9-1.5 .8 1.1zM619.9 766.7l1.3-1.2 .4 1.2zM627.6 767.3l1.1-1.2 .6 1.1zM576.4 769.4l1.5-.9 .2 1.3zM579.9 770.2l.7-1.6 .9 1zM587.7 769.7l.8-1.5 .8 1zM571.4 771.5l1.6-.6-.1 1.3zM576.3 771.9l1.4-1 .3 1.3zM582.5 771.3l1.7-.6-.1 1.3zM587.3 770.8l1.7-.4-.3 1.3zM632.7 772.3l1.1-1.4 .6 1.2zM579.9 772.8l1.7 .1-.5 1.2zM581.9 772.8l1.7 0-.5 1.2zM584.5 774.3l1.2-1.2 .5 1.2zM586.9 775l1.2-1.3 .5 1.2zM572 776.6l1.6-.7 0 1.3zM573.9 777l1.4-1 .3 1.3zM577.8 775.4l1.8-.2-.4 1.3zM580 774.6l1.6 .7-1 .9zM581.6 776.2l1.6-.7 0 1.3zM584.6 776.5l1.7-.6-.1 1.3zM587.5 775.5l1.7 0-.5 1.3zM574.8 779.4l1.4-1.1 .4 1.3zM577.4 779l1.5-.8 .1 1.3zM580 779.5l1.3-1.2 .5 1.2zM585 777.7l1.7 .1-.6 1.2z" fill="#000"/>
<text x="-1.0" y="9.3" font-size="13.8" text-anchor="start" fill="#000" >a</text>
<text x="336.5" y="9.8" font-size="13.8" text-anchor="start" fill="#000" >b</text>
<text x="335.7" y="119.7" font-size="13.8" text-anchor="start" fill="#000" >c</text>
<text x="335.8" y="291.9" font-size="13.8" text-anchor="start" fill="#000" >d</text>
<text x="-0.5" y="442.3" font-size="13.8" text-anchor="start" fill="#000" >e</text>
<text x="353.0" y="441.8" font-size="13.8" text-anchor="start" fill="#000" >f</text>
<text x="-0.3" y="657.5" font-size="13.8" text-anchor="start" fill="#000" >g</text>
<text x="378.8" y="661.0" font-size="13.8" text-anchor="start" fill="#000" >h</text>
<rect x="8.3" y="11.5" width="315.5" height="126.3" fill="none" stroke="#f26565" stroke-width="1.3"/>
<rect x="8.3" y="180.8" width="315.3" height="238.0" fill="none" stroke="#78cf78" stroke-width="1.3"/>
<rect x="346.4" y="11.6" width="168.4" height="93.3" fill="none" stroke="#f26565" stroke-width="1.3"/>
<rect x="518.6" y="11.6" width="165.6" height="93.2" fill="none" stroke="#78cf78" stroke-width="1.3"/>
<line x1="198.0" y1="138.0" x2="198.0" y2="174.0" stroke="#000" stroke-width="1.3" />
<path d="M194.2,172.5 L198,178.6 L201.8,172.5 Z" fill="#000"/>
<circle cx="16.6" cy="147.6" r="1.5" fill="#1f77b4"/>
<text x="25.4" y="149.5" font-size="5.4" text-anchor="start" fill="#000" >CMP</text>
<circle cx="16.6" cy="155.0" r="1.5" fill="#ff7f0e"/>
<text x="25.4" y="156.9" font-size="5.4" text-anchor="start" fill="#000" >DC</text>
<circle cx="16.6" cy="162.2" r="1.5" fill="#279e68"/>
<text x="25.4" y="164.1" font-size="5.4" text-anchor="start" fill="#000" >Erythrocyte</text>
<circle cx="16.6" cy="169.3" r="1.5" fill="#d62728"/>
<text x="25.4" y="171.2" font-size="5.4" text-anchor="start" fill="#000" >GMP</text>
<circle cx="58.4" cy="147.6" r="1.5" fill="#aa40fc"/>
<text x="67.7" y="149.5" font-size="5.4" text-anchor="start" fill="#000" >Granulocyte</text>
<circle cx="58.4" cy="155.0" r="1.5" fill="#8c564b"/>
<text x="67.7" y="156.9" font-size="5.4" text-anchor="start" fill="#000" >HSC</text>
<circle cx="58.4" cy="162.2" r="1.5" fill="#e377c2"/>
<text x="67.7" y="164.1" font-size="5.4" text-anchor="start" fill="#000" >LMPP</text>
<circle cx="58.4" cy="169.3" r="1.5" fill="#b5bd61"/>
<text x="67.7" y="171.2" font-size="5.4" text-anchor="start" fill="#000" >MEP</text>
<circle cx="102.8" cy="147.6" r="1.5" fill="#17becf"/>
<text x="111.8" y="149.5" font-size="5.4" text-anchor="start" fill="#000" >Mast Cells</text>
<circle cx="102.8" cy="155.0" r="1.5" fill="#aec7e8"/>
<text x="111.8" y="156.9" font-size="5.4" text-anchor="start" fill="#000" >Megakaryocyte</text>
<circle cx="102.8" cy="162.2" r="1.5" fill="#ffbb78"/>
<text x="111.8" y="164.1" font-size="5.4" text-anchor="start" fill="#000" >Platelet</text>
<circle cx="102.8" cy="169.3" r="1.5" fill="#98df8a"/>
<text x="111.8" y="171.2" font-size="5.4" text-anchor="start" fill="#000" >Prog B</text>
<circle cx="153.3" cy="147.6" r="1.5" fill="#ff9896"/>
<text x="162.0" y="149.5" font-size="5.4" text-anchor="start" fill="#000" >Prog DC</text>
<circle cx="153.3" cy="155.0" r="1.5" fill="#c5b0d5"/>
<text x="162.0" y="156.9" font-size="5.4" text-anchor="start" fill="#000" >Prog MK</text>
<circle cx="236.2" cy="150.9" r="1.8" fill="#1f77b4"/>
<text x="245.6" y="153.2" font-size="6.4" text-anchor="start" fill="#000" >Multiome 1</text>
<circle cx="236.2" cy="159.3" r="1.8" fill="#ff7f0e"/>
<text x="245.6" y="161.6" font-size="6.4" text-anchor="start" fill="#000" >Multiome 2</text>
<circle cx="236.2" cy="167.8" r="1.8" fill="#2ca02c"/>
<text x="245.6" y="170.1" font-size="6.4" text-anchor="start" fill="#000" >scRNA</text>
<line x1="304.0" y1="128.6" x2="304.0" y2="117.3" stroke="#444" stroke-width="0.8" />
<line x1="304.0" y1="128.6" x2="314.8" y2="128.6" stroke="#444" stroke-width="0.8" />
<path d="M303.1,117.69999999999999 L304,115.69999999999999 L304.9,117.69999999999999Z" fill="#444"/>
<path d="M314.4,127.69999999999999 L316.4,128.6 L314.4,129.5Z" fill="#444"/>
<text x="304.0" y="134.5" font-size="4.8" text-anchor="start" fill="#333" >UMAP1</text>
<text x="0" y="0" font-size="5.2" fill="#333" transform="translate(302,128.9) rotate(-90)">UMAP2</text>
<line x1="21.7" y1="405.4" x2="21.7" y2="384.9" stroke="#222" stroke-width="0.8" />
<line x1="21.7" y1="405.4" x2="37.7" y2="405.4" stroke="#222" stroke-width="0.8" />
<path d="M20.8,385.3 L21.7,383.3 L22.599999999999998,385.3Z" fill="#222"/>
<path d="M37.3,404.5 L39.3,405.4 L37.3,406.29999999999995Z" fill="#222"/>
<text x="19.9" y="410.7" font-size="4.85" text-anchor="start" fill="#222" >Z UMAP1</text>
<text x="0" y="0" font-size="4.85" fill="#222" transform="translate(19.6,406) rotate(-90)">Z UMAP2</text>
<defs><linearGradient id="g1" x1="0" y1="1" x2="0" y2="0"><stop offset="0.0" stop-color="#100018"/><stop offset="0.1" stop-color="#500095"/><stop offset="0.2" stop-color="#7202f2"/><stop offset="0.3" stop-color="#8b06f2"/><stop offset="0.4" stop-color="#a11095"/><stop offset="0.5" stop-color="#c01808"/><stop offset="0.6" stop-color="#d03000"/><stop offset="0.7" stop-color="#d85700"/><stop offset="0.8" stop-color="#e48200"/><stop offset="0.9" stop-color="#f1b900"/><stop offset="1.0" stop-color="#ffff00"/></linearGradient></defs>
<rect x="224.1" y="381.3" width="3.0" height="34.5" fill="url(#g1)"/>
<text x="0" y="0" font-size="5.9" fill="#111" transform="translate(222,412.9) rotate(-90)">Latent time</text>
<defs><linearGradient id="g2" x1="0" y1="1" x2="0" y2="0"><stop offset="0" stop-color="#440154"/><stop offset="0.25" stop-color="#3b528b"/><stop offset="0.5" stop-color="#21918c"/><stop offset="0.75" stop-color="#5ec962"/><stop offset="1" stop-color="#fde725"/></linearGradient></defs>
<rect x="312.3" y="356.2" width="2.099999999999966" height="20.400000000000034" fill="url(#g2)"/>
<text x="0" y="0" font-size="4.4" fill="#222" transform="translate(319,376.4) rotate(-90)">RNA level</text>
<text x="278.0" y="313.8" font-size="6.4" text-anchor="middle" fill="#222" stroke="#222" stroke-width="0.2">CD133</text>
<defs><linearGradient id="g3" x1="0" y1="1" x2="0" y2="0"><stop offset="0" stop-color="#440154"/><stop offset="0.25" stop-color="#3b528b"/><stop offset="0.5" stop-color="#21918c"/><stop offset="0.75" stop-color="#5ec962"/><stop offset="1" stop-color="#fde725"/></linearGradient></defs>
<rect x="109.5" y="611" width="2.299999999999997" height="26.200000000000045" fill="url(#g3)"/>
<defs><linearGradient id="g4" x1="0" y1="1" x2="0" y2="0"><stop offset="0" stop-color="#440154"/><stop offset="0.25" stop-color="#3b528b"/><stop offset="0.5" stop-color="#21918c"/><stop offset="0.75" stop-color="#5ec962"/><stop offset="1" stop-color="#fde725"/></linearGradient></defs>
<rect x="222.8" y="616.3" width="2.0999999999999943" height="19.90000000000009" fill="url(#g4)"/>
<defs><linearGradient id="g5" x1="0" y1="1" x2="0" y2="0"><stop offset="0.0" stop-color="#100018"/><stop offset="0.1" stop-color="#500095"/><stop offset="0.2" stop-color="#7202f2"/><stop offset="0.3" stop-color="#8b06f2"/><stop offset="0.4" stop-color="#a11095"/><stop offset="0.5" stop-color="#c01808"/><stop offset="0.6" stop-color="#d03000"/><stop offset="0.7" stop-color="#d85700"/><stop offset="0.8" stop-color="#e48200"/><stop offset="0.9" stop-color="#f1b900"/><stop offset="1.0" stop-color="#ffff00"/></linearGradient></defs>
<rect x="316.9" y="616.3" width="2.0" height="19.90000000000009" fill="url(#g5)"/>
<defs><linearGradient id="g6" x1="0" y1="1" x2="0" y2="0"><stop offset="0" stop-color="#440154"/><stop offset="0.25" stop-color="#3b528b"/><stop offset="0.5" stop-color="#21918c"/><stop offset="0.75" stop-color="#5ec962"/><stop offset="1" stop-color="#fde725"/></linearGradient></defs>
<rect x="461.7" y="611.2" width="2.0" height="25.59999999999991" fill="url(#g6)"/>
<defs><linearGradient id="g7" x1="0" y1="1" x2="0" y2="0"><stop offset="0" stop-color="#440154"/><stop offset="0.25" stop-color="#3b528b"/><stop offset="0.5" stop-color="#21918c"/><stop offset="0.75" stop-color="#5ec962"/><stop offset="1" stop-color="#fde725"/></linearGradient></defs>
<rect x="576.1" y="616.9" width="1.7999999999999545" height="19.300000000000068" fill="url(#g7)"/>
<defs><linearGradient id="g8" x1="0" y1="1" x2="0" y2="0"><stop offset="0.0" stop-color="#100018"/><stop offset="0.1" stop-color="#500095"/><stop offset="0.2" stop-color="#7202f2"/><stop offset="0.3" stop-color="#8b06f2"/><stop offset="0.4" stop-color="#a11095"/><stop offset="0.5" stop-color="#c01808"/><stop offset="0.6" stop-color="#d03000"/><stop offset="0.7" stop-color="#d85700"/><stop offset="0.8" stop-color="#e48200"/><stop offset="0.9" stop-color="#f1b900"/><stop offset="1.0" stop-color="#ffff00"/></linearGradient></defs>
<rect x="669" y="616.9" width="1.7999999999999545" height="19.300000000000068" fill="url(#g8)"/>
<text x="385.5" y="22.6" font-size="6.4" text-anchor="middle" fill="#111" >HBB</text>
<text x="441.7" y="51.6" font-size="6.4" text-anchor="middle" fill="#111" >HDC</text>
<text x="496.4" y="22.6" font-size="6.4" text-anchor="middle" fill="#111" >LYZ</text>
<text x="557.3" y="22.6" font-size="6.4" text-anchor="middle" fill="#111" >HBB</text>
<text x="613.0" y="51.6" font-size="6.4" text-anchor="middle" fill="#111" >HDC</text>
<text x="668.0" y="22.6" font-size="6.4" text-anchor="middle" fill="#111" >LYZ</text>
<line x1="351.4" y1="97.5" x2="351.4" y2="80.5" stroke="#222" stroke-width="0.8" />
<path d="M350.4,81 L351.4,78.3 L352.4,81Z" fill="#222"/>
<line x1="351.4" y1="97.5" x2="368.3" y2="97.5" stroke="#222" stroke-width="0.8" />
<path d="M367.8,96.5 L370.4,97.5 L367.8,98.5Z" fill="#222"/>
<line x1="351.4" y1="97.5" x2="361.2" y2="90.2" stroke="#222" stroke-width="0.8" />
<path d="M360.2,89.5 L362.8,89.1 L361.4,91.3Z" fill="#222"/>
<text x="0" y="0" font-size="4.6" fill="#222" text-anchor="middle" transform="translate(349.6,87) rotate(-90)">c</text>
<text x="357.6" y="89.5" font-size="4.6" text-anchor="middle" fill="#222" >u</text>
<text x="361.4" y="102.5" font-size="4.6" text-anchor="middle" fill="#222" >s</text>
<text x="422.8" y="123.4" font-size="7.46" text-anchor="start" fill="#000" >Inferred accessibility and expression in scRNA sample</text>
<rect x="642.5" y="117.5" width="40.5" height="8.3" fill="none" stroke="#46bef0" stroke-width="0.8" stroke-dasharray="1.6,1"/>
<text x="662.7" y="123.5" font-size="5.0" text-anchor="middle" fill="#000" >Not observed</text>
<text x="391.7" y="136.0" font-size="6.6" text-anchor="middle" fill="#000" >HBB</text>
<text x="476.8" y="136.0" font-size="6.6" text-anchor="middle" fill="#000" >HDC</text>
<text x="560.0" y="136.0" font-size="6.6" text-anchor="middle" fill="#000" >LYZ</text>
<text x="642.6" y="136.0" font-size="6.6" text-anchor="middle" fill="#000" >PF4</text>
<line x1="433.6" y1="137.5" x2="433.6" y2="275.0" stroke="#888" stroke-width="0.6" stroke-dasharray="1.6,1.2" />
<line x1="517.6" y1="137.5" x2="517.6" y2="275.0" stroke="#888" stroke-width="0.6" stroke-dasharray="1.6,1.2" />
<line x1="601.3" y1="137.5" x2="601.3" y2="275.0" stroke="#888" stroke-width="0.6" stroke-dasharray="1.6,1.2" />
<rect x="353.6" y="137.4" width="330.0" height="45.8" fill="none" stroke="#46bef0" stroke-width="1.2" stroke-dasharray="2.3,1.2"/>
<line x1="350.4" y1="181.9" x2="350.4" y2="167.9" stroke="#222" stroke-width="0.9" />
<path d="M349.09999999999997,168.5 L350.4,165.79999999999998 L351.7,168.5Z" fill="#222"/>
<text x="0" y="0" font-size="6.8" fill="#111" text-anchor="middle" transform="translate(349.2,173.9) rotate(-90)">c</text>
<line x1="350.2" y1="227.4" x2="350.2" y2="213.4" stroke="#222" stroke-width="0.9" />
<path d="M348.9,214.0 L350.2,211.29999999999998 L351.5,214.0Z" fill="#222"/>
<text x="0" y="0" font-size="6.8" fill="#111" text-anchor="middle" transform="translate(349,219.3) rotate(-90)">u</text>
<line x1="350.2" y1="269.8" x2="350.2" y2="255.8" stroke="#222" stroke-width="0.9" />
<path d="M348.9,256.4 L350.2,253.7 L351.5,256.4Z" fill="#222"/>
<text x="0" y="0" font-size="6.8" fill="#111" text-anchor="middle" transform="translate(349,262.1) rotate(-90)">s</text>
<line x1="353.8" y1="273.6" x2="368.3" y2="273.6" stroke="#222" stroke-width="0.9" />
<path d="M367.70000000000005,272.3 L370.40000000000003,273.6 L367.70000000000005,274.90000000000003Z" fill="#222"/>
<text x="0" y="0" font-size="6.8" fill="#111" text-anchor="middle" transform="translate(363.8,276.9) rotate(-90)">t</text>
<text x="453.8" y="293.7" font-size="7.43" text-anchor="start" fill="#000" >Chromatin velocity in scRNA sample</text>
<text x="626.0" y="295.5" font-size="6.6" text-anchor="start" fill="#000" >colored by cell type</text>
<text x="465.4" y="361.7" font-size="7.4" text-anchor="start" fill="#000" >All sample chromatin velocity</text>
<text x="620.7" y="363.9" font-size="6.63" text-anchor="start" fill="#000" >colored by sample ID</text>
<line x1="350.4" y1="411.8" x2="350.4" y2="397.9" stroke="#222" stroke-width="0.9" />
<path d="M349.09999999999997,398.5 L350.4,395.8 L351.7,398.5Z" fill="#222"/>
<text x="0" y="0" font-size="6.8" fill="#111" text-anchor="middle" transform="translate(349.2,403.9) rotate(-90)">c</text>
<line x1="353.4" y1="415.3" x2="368.3" y2="415.3" stroke="#222" stroke-width="0.9" />
<path d="M367.70000000000005,414.0 L370.40000000000003,415.3 L367.70000000000005,416.6Z" fill="#222"/>
<text x="0" y="0" font-size="6.8" fill="#111" text-anchor="middle" transform="translate(363.3,417.8) rotate(-90)">t</text>
<line x1="350.2" y1="394.3" x2="356.2" y2="390.2" stroke="#222" stroke-width="0.9" />
<path d="M355.2,389.2 L358,388.9 L356.6,391.3Z" fill="#222"/>
<text x="0" y="0" font-size="6.4" fill="#111" text-anchor="middle" transform="translate(352.3,389.5) rotate(-15)">vc</text>
<rect x="19.4" y="477.2" width="24.4" height="16.1" fill="none" stroke="#333" stroke-width="0.9"/>
<text x="31.6" y="488.3" font-size="8.2" text-anchor="middle" fill="#111" stroke="#111" stroke-width="0.1" >SPI1</text>
<rect x="63.9" y="454.0" width="40.8" height="16.1" fill="none" stroke="#333" stroke-width="0.9"/>
<text x="84.3" y="465.2" font-size="8.45" text-anchor="middle" fill="#111" stroke="#111" stroke-width="0.1" >GMP/DC</text>
<rect x="63.9" y="503.6" width="40.8" height="16.2" fill="none" stroke="#333" stroke-width="0.9"/>
<text x="84.3" y="514.8" font-size="8.45" text-anchor="middle" fill="#111" stroke="#111" stroke-width="0.1" >MEP/E/P</text>
<path d="M60.70,460.00 L59.52,463.33 L57.39,461.23Z" fill="#222"/>
<line x1="43.8" y1="477.2" x2="58.8" y2="461.9" stroke="#222" stroke-width="0.9" />
<line x1="43.8" y1="493.3" x2="59.2" y2="509.8" stroke="#222" stroke-width="0.9" />
<line x1="57.1" y1="511.8" x2="61.3" y2="507.8" stroke="#222" stroke-width="1.0" />
<rect x="371.0" y="477.2" width="30.3" height="16.1" fill="none" stroke="#333" stroke-width="0.9"/>
<text x="386.1" y="488.3" font-size="8.2" text-anchor="middle" fill="#111" stroke="#111" stroke-width="0.1" >GATA1</text>
<rect x="421.4" y="454.0" width="40.8" height="16.1" fill="none" stroke="#333" stroke-width="0.9"/>
<text x="441.8" y="465.2" font-size="8.45" text-anchor="middle" fill="#111" stroke="#111" stroke-width="0.1" >GMP/DC</text>
<rect x="421.4" y="503.6" width="40.8" height="16.2" fill="none" stroke="#333" stroke-width="0.9"/>
<text x="441.8" y="514.8" font-size="8.45" text-anchor="middle" fill="#111" stroke="#111" stroke-width="0.1" >MEP/E/P</text>
<line x1="401.3" y1="477.2" x2="416.9" y2="461.5" stroke="#222" stroke-width="0.9" />
<line x1="419.0" y1="463.5" x2="414.8" y2="459.5" stroke="#222" stroke-width="1.0" />
<path d="M418.20,511.50 L414.92,510.18 L417.12,508.13Z" fill="#222"/>
<line x1="401.3" y1="493.3" x2="416.4" y2="509.5" stroke="#222" stroke-width="0.9" />
<ellipse cx="138" cy="505.2" rx="16" ry="23.3" fill="#e6007e" stroke="#333" stroke-width="0.6"/>
<text x="138.0" y="496.0" font-size="8.6" text-anchor="middle" fill="#fff" >In</text>
<text x="138.0" y="507.4" font-size="8.6" text-anchor="middle" fill="#fff" >silico</text>
<text x="138.0" y="518.8" font-size="8.6" text-anchor="middle" fill="#fff" >KO</text>
<polyline points="153,452.6 144.3,477 154.6,474.8 145.9,497" fill="none" stroke="#f0a431" stroke-width="2.1" stroke-linejoin="miter" stroke-miterlimit="6"/>
<polyline points="153,452.6 144.3,477 154.6,474.8 145.9,497" fill="none" stroke="#fde6b0" stroke-width="0.6" stroke-linejoin="miter" stroke-miterlimit="6"/>
<line x1="150.6" y1="483.5" x2="145.9" y2="497.0" stroke="#555" stroke-width="0.6" />
<ellipse cx="494.8" cy="505.2" rx="16" ry="23.3" fill="#e6007e" stroke="#333" stroke-width="0.6"/>
<text x="494.8" y="496.0" font-size="8.6" text-anchor="middle" fill="#fff" >In</text>
<text x="494.8" y="507.4" font-size="8.6" text-anchor="middle" fill="#fff" >silico</text>
<text x="494.8" y="518.8" font-size="8.6" text-anchor="middle" fill="#fff" >KO</text>
<polyline points="509.8,452.6 501.1,477 511.4,474.8 502.70000000000005,497" fill="none" stroke="#f0a431" stroke-width="2.1" stroke-linejoin="miter" stroke-miterlimit="6"/>
<polyline points="509.8,452.6 501.1,477 511.4,474.8 502.70000000000005,497" fill="none" stroke="#fde6b0" stroke-width="0.6" stroke-linejoin="miter" stroke-miterlimit="6"/>
<line x1="507.4" y1="483.5" x2="502.7" y2="497.0" stroke="#555" stroke-width="0.6" />
<text x="217.8" y="446.1" font-size="8.45" text-anchor="start" fill="#000" stroke="#000" stroke-width="0.1" >Perturbation force</text>
<text x="569.3" y="445.8" font-size="8.45" text-anchor="start" fill="#000" stroke="#000" stroke-width="0.1" >Perturbation force</text>
<rect x="171.7" y="457.3" width="73.9" height="88.1" fill="none" stroke="#333" stroke-width="0.8" stroke-dasharray="3,2"/>
<rect x="592.3" y="456.8" width="78.1" height="88.7" fill="none" stroke="#333" stroke-width="0.8" stroke-dasharray="3,2"/>
<text x="29.8" y="550.5" font-size="8.42" text-anchor="start" fill="#000" stroke="#000" stroke-width="0.1" >SPI1 expression</text>
<text x="381.5" y="550.0" font-size="8.46" text-anchor="start" fill="#000" stroke="#000" stroke-width="0.1" >GATA1 expression</text>
<text x="143.7" y="570.2" font-size="8.46" text-anchor="start" fill="#000" stroke="#000" stroke-width="0.1" >PC1 of state difference</text>
<text x="240.0" y="570.2" font-size="8.45" text-anchor="start" fill="#000" stroke="#000" stroke-width="0.1" >Latent time difference</text>
<text x="495.2" y="570.2" font-size="8.46" text-anchor="start" fill="#000" stroke="#000" stroke-width="0.1" >PC1 of state difference</text>
<text x="591.6" y="570.2" font-size="8.45" text-anchor="start" fill="#000" stroke="#000" stroke-width="0.1" >Latent time difference</text>
<text x="36.0" y="666.4" font-size="7.56" text-anchor="start" fill="#000" >Change of fate probabilities after SPI1 KO</text>
<text x="217.7" y="666.4" font-size="7.57" text-anchor="start" fill="#000" >Change of fate probabilities after GATA1 KO</text>
<line x1="25.5" y1="685.0" x2="186.4" y2="685.0" stroke="#d0d0d0" stroke-width="0.5" stroke-dasharray="1.5,1" />
<line x1="25.5" y1="737.0" x2="186.4" y2="737.0" stroke="#d0d0d0" stroke-width="0.5" stroke-dasharray="1.5,1" />
<line x1="25.5" y1="751.0" x2="186.4" y2="751.0" stroke="#d0d0d0" stroke-width="0.5" stroke-dasharray="1.5,1" />
<line x1="25.5" y1="764.3" x2="186.4" y2="764.3" stroke="#d0d0d0" stroke-width="0.5" stroke-dasharray="1.5,1" />
<rect x="25.5" y="670.0" width="160.9" height="104.5" fill="none" stroke="#8a8a8a" stroke-width="0.6"/>
<line x1="38.5" y1="693.3" x2="38.5" y2="703.2" stroke="#3f3f3f" stroke-width="0.6" />
<line x1="38.5" y1="710.7" x2="38.5" y2="721.0" stroke="#3f3f3f" stroke-width="0.6" />
<line x1="33.0" y1="693.3" x2="44.0" y2="693.3" stroke="#3f3f3f" stroke-width="0.6" />
<line x1="33.0" y1="721.0" x2="44.0" y2="721.0" stroke="#3f3f3f" stroke-width="0.6" />
<rect x="27.7" y="703.2" width="21.7" height="7.5" fill="#3274a1" stroke="#3f3f3f" stroke-width="0.6"/>
<line x1="27.7" y1="706.5" x2="49.4" y2="706.5" stroke="#3f3f3f" stroke-width="0.6" />
<line x1="65.2" y1="698.8" x2="65.2" y2="703.2" stroke="#3f3f3f" stroke-width="0.6" />
<line x1="65.2" y1="706.6" x2="65.2" y2="710.2" stroke="#3f3f3f" stroke-width="0.6" />
<line x1="59.7" y1="698.8" x2="70.7" y2="698.8" stroke="#3f3f3f" stroke-width="0.6" />
<line x1="59.7" y1="710.2" x2="70.7" y2="710.2" stroke="#3f3f3f" stroke-width="0.6" />
<rect x="54" y="703.2" width="22.299999999999997" height="3.3999999999999773" fill="#e1812c" stroke="#3f3f3f" stroke-width="0.6"/>
<line x1="54.0" y1="704.8" x2="76.3" y2="704.8" stroke="#3f3f3f" stroke-width="0.6" />
<line x1="92.4" y1="701.0" x2="92.4" y2="704.6" stroke="#3f3f3f" stroke-width="0.6" />
<line x1="92.4" y1="711.0" x2="92.4" y2="720.4" stroke="#3f3f3f" stroke-width="0.6" />
<line x1="86.9" y1="701.0" x2="97.9" y2="701.0" stroke="#3f3f3f" stroke-width="0.6" />
<line x1="86.9" y1="720.4" x2="97.9" y2="720.4" stroke="#3f3f3f" stroke-width="0.6" />
<rect x="81.3" y="704.6" width="22.200000000000003" height="6.399999999999977" fill="#3a923a" stroke="#3f3f3f" stroke-width="0.6"/>
<line x1="81.3" y1="707.5" x2="103.5" y2="707.5" stroke="#3f3f3f" stroke-width="0.6" />
<line x1="119.3" y1="675.2" x2="119.3" y2="686.6" stroke="#3f3f3f" stroke-width="0.6" />
<line x1="119.3" y1="711.0" x2="119.3" y2="722.4" stroke="#3f3f3f" stroke-width="0.6" />
<line x1="113.8" y1="675.2" x2="124.8" y2="675.2" stroke="#3f3f3f" stroke-width="0.6" />
<line x1="113.8" y1="722.4" x2="124.8" y2="722.4" stroke="#3f3f3f" stroke-width="0.6" />
<rect x="108.2" y="686.6" width="22.200000000000003" height="24.399999999999977" fill="#c03d3e" stroke="#3f3f3f" stroke-width="0.6"/>
<line x1="108.2" y1="691.3" x2="130.4" y2="691.3" stroke="#3f3f3f" stroke-width="0.6" />
<line x1="146.5" y1="684.4" x2="146.5" y2="717.7" stroke="#3f3f3f" stroke-width="0.6" />
<line x1="146.5" y1="750.4" x2="146.5" y2="768.2" stroke="#3f3f3f" stroke-width="0.6" />
<line x1="141.0" y1="684.4" x2="152.0" y2="684.4" stroke="#3f3f3f" stroke-width="0.6" />
<line x1="141.0" y1="768.2" x2="152.0" y2="768.2" stroke="#3f3f3f" stroke-width="0.6" />
<rect x="135.4" y="717.7" width="22.19999999999999" height="32.69999999999993" fill="#9372b2" stroke="#3f3f3f" stroke-width="0.6"/>
<line x1="135.4" y1="745.4" x2="157.6" y2="745.4" stroke="#3f3f3f" stroke-width="0.6" />
<line x1="173.4" y1="706.0" x2="173.4" y2="711.3" stroke="#3f3f3f" stroke-width="0.6" />
<line x1="173.4" y1="714.3" x2="173.4" y2="719.3" stroke="#3f3f3f" stroke-width="0.6" />
<line x1="167.9" y1="706.0" x2="178.9" y2="706.0" stroke="#3f3f3f" stroke-width="0.6" />
<line x1="167.9" y1="719.3" x2="178.9" y2="719.3" stroke="#3f3f3f" stroke-width="0.6" />
<rect x="162.3" y="711.3" width="22.19999999999999" height="3.0" fill="#845b53" stroke="#3f3f3f" stroke-width="0.6"/>
<line x1="162.3" y1="712.8" x2="184.5" y2="712.8" stroke="#3f3f3f" stroke-width="0.6" />
<text x="38.6" y="781.2" font-size="5.0" text-anchor="middle" fill="#111" >Platelet</text>
<line x1="38.6" y1="774.5" x2="38.6" y2="776.0" stroke="#333" stroke-width="0.5" />
<text x="65.2" y="781.2" font-size="5.0" text-anchor="middle" fill="#111" >Erythrocyte</text>
<line x1="65.2" y1="774.5" x2="65.2" y2="776.0" stroke="#333" stroke-width="0.5" />
<text x="92.4" y="781.2" font-size="5.0" text-anchor="middle" fill="#111" >Mast Cell</text>
<line x1="92.4" y1="774.5" x2="92.4" y2="776.0" stroke="#333" stroke-width="0.5" />
<text x="119.3" y="781.2" font-size="5.0" text-anchor="middle" fill="#111" >Granulocyte</text>
<line x1="119.3" y1="774.5" x2="119.3" y2="776.0" stroke="#333" stroke-width="0.5" />
<text x="146.5" y="781.2" font-size="5.0" text-anchor="middle" fill="#111" >DC</text>
<line x1="146.5" y1="774.5" x2="146.5" y2="776.0" stroke="#333" stroke-width="0.5" />
<text x="173.4" y="781.2" font-size="5.0" text-anchor="middle" fill="#111" >Prog B</text>
<line x1="173.4" y1="774.5" x2="173.4" y2="776.0" stroke="#333" stroke-width="0.5" />
<text x="21.5" y="714.0" font-size="6.8" text-anchor="end" fill="#111" >0.0</text>
<line x1="24.0" y1="711.6" x2="25.5" y2="711.6" stroke="#333" stroke-width="0.5" />
<line x1="23.6" y1="698.3" x2="23.6" y2="674.8" stroke="#000" stroke-width="0.7" />
<path d="M22.5,675.3 L23.6,672.8 L24.700000000000003,675.3Z" fill="#000"/>
<line x1="23.6" y1="721.8" x2="23.6" y2="750.8" stroke="#000" stroke-width="0.7" />
<path d="M22.5,750.3 L23.6,752.8 L24.700000000000003,750.3Z" fill="#000"/>
<text x="0" y="0" font-size="6.7" fill="#111" text-anchor="middle" transform="translate(20.0,685.8) rotate(-90)">Increase</text>
<text x="0" y="0" font-size="6.9" fill="#111" text-anchor="middle" transform="translate(20.0,737.05) rotate(-90)">Decrease</text>
<line x1="211.4" y1="690.5" x2="371.4" y2="690.5" stroke="#d0d0d0" stroke-width="0.5" stroke-dasharray="1.5,1" />
<line x1="211.4" y1="702.4" x2="371.4" y2="702.4" stroke="#d0d0d0" stroke-width="0.5" stroke-dasharray="1.5,1" />
<line x1="211.4" y1="739.3" x2="371.4" y2="739.3" stroke="#d0d0d0" stroke-width="0.5" stroke-dasharray="1.5,1" />
<line x1="211.4" y1="752.3" x2="371.4" y2="752.3" stroke="#d0d0d0" stroke-width="0.5" stroke-dasharray="1.5,1" />
<line x1="211.4" y1="764.8" x2="371.4" y2="764.8" stroke="#d0d0d0" stroke-width="0.5" stroke-dasharray="1.5,1" />
<rect x="211.4" y="670.5" width="160.0" height="102.1" fill="none" stroke="#8a8a8a" stroke-width="0.6"/>
<line x1="224.6" y1="721.3" x2="224.6" y2="727.4" stroke="#3f3f3f" stroke-width="0.6" />
<line x1="224.6" y1="731.0" x2="224.6" y2="737.1" stroke="#3f3f3f" stroke-width="0.6" />
<line x1="219.1" y1="721.3" x2="230.1" y2="721.3" stroke="#3f3f3f" stroke-width="0.6" />
<line x1="219.1" y1="737.1" x2="230.1" y2="737.1" stroke="#3f3f3f" stroke-width="0.6" />
<rect x="213.6" y="727.4" width="21.900000000000006" height="3.6000000000000227" fill="#3274a1" stroke="#3f3f3f" stroke-width="0.6"/>
<line x1="213.6" y1="729.2" x2="235.5" y2="729.2" stroke="#3f3f3f" stroke-width="0.6" />
<line x1="251.6" y1="728.2" x2="251.6" y2="733.5" stroke="#3f3f3f" stroke-width="0.6" />
<line x1="251.6" y1="737.1" x2="251.6" y2="742.6" stroke="#3f3f3f" stroke-width="0.6" />
<line x1="246.1" y1="728.2" x2="257.1" y2="728.2" stroke="#3f3f3f" stroke-width="0.6" />
<line x1="246.1" y1="742.6" x2="257.1" y2="742.6" stroke="#3f3f3f" stroke-width="0.6" />
<rect x="240.5" y="733.5" width="22.19999999999999" height="3.6000000000000227" fill="#e1812c" stroke="#3f3f3f" stroke-width="0.6"/>
<line x1="240.5" y1="735.3" x2="262.7" y2="735.3" stroke="#3f3f3f" stroke-width="0.6" />
<line x1="278.5" y1="720.4" x2="278.5" y2="726.3" stroke="#3f3f3f" stroke-width="0.6" />
<line x1="278.5" y1="729.9" x2="278.5" y2="735.7" stroke="#3f3f3f" stroke-width="0.6" />
<line x1="273.0" y1="720.4" x2="284.0" y2="720.4" stroke="#3f3f3f" stroke-width="0.6" />
<line x1="273.0" y1="735.7" x2="284.0" y2="735.7" stroke="#3f3f3f" stroke-width="0.6" />
<rect x="267.4" y="726.3" width="22.200000000000045" height="3.6000000000000227" fill="#3a923a" stroke="#3f3f3f" stroke-width="0.6"/>
<line x1="267.4" y1="728.0" x2="289.6" y2="728.0" stroke="#3f3f3f" stroke-width="0.6" />
<line x1="305.1" y1="709.3" x2="305.1" y2="723.5" stroke="#3f3f3f" stroke-width="0.6" />
<line x1="305.1" y1="732.9" x2="305.1" y2="747.4" stroke="#3f3f3f" stroke-width="0.6" />
<line x1="299.6" y1="709.3" x2="310.6" y2="709.3" stroke="#3f3f3f" stroke-width="0.6" />
<line x1="299.6" y1="747.4" x2="310.6" y2="747.4" stroke="#3f3f3f" stroke-width="0.6" />
<rect x="294" y="723.5" width="22.19999999999999" height="9.399999999999977" fill="#c03d3e" stroke="#3f3f3f" stroke-width="0.6"/>
<line x1="294.0" y1="729.3" x2="316.2" y2="729.3" stroke="#3f3f3f" stroke-width="0.6" />
<line x1="332.0" y1="675.2" x2="332.0" y2="702.4" stroke="#3f3f3f" stroke-width="0.6" />
<line x1="332.0" y1="721.8" x2="332.0" y2="734.3" stroke="#3f3f3f" stroke-width="0.6" />
<line x1="326.5" y1="675.2" x2="337.5" y2="675.2" stroke="#3f3f3f" stroke-width="0.6" />
<line x1="326.5" y1="734.3" x2="337.5" y2="734.3" stroke="#3f3f3f" stroke-width="0.6" />
<rect x="320.9" y="702.4" width="22.200000000000045" height="19.399999999999977" fill="#9372b2" stroke="#3f3f3f" stroke-width="0.6"/>
<line x1="320.9" y1="706.6" x2="343.1" y2="706.6" stroke="#3f3f3f" stroke-width="0.6" />
<line x1="359.1" y1="726.5" x2="359.1" y2="728.8" stroke="#3f3f3f" stroke-width="0.6" />
<line x1="359.1" y1="744.6" x2="359.1" y2="768.2" stroke="#3f3f3f" stroke-width="0.6" />
<line x1="353.6" y1="726.5" x2="364.6" y2="726.5" stroke="#3f3f3f" stroke-width="0.6" />
<line x1="353.6" y1="768.2" x2="364.6" y2="768.2" stroke="#3f3f3f" stroke-width="0.6" />
<rect x="348.1" y="728.8" width="21.899999999999977" height="15.800000000000068" fill="#845b53" stroke="#3f3f3f" stroke-width="0.6"/>
<line x1="348.1" y1="738.5" x2="370.0" y2="738.5" stroke="#3f3f3f" stroke-width="0.6" />
<text x="224.5" y="781.2" font-size="5.0" text-anchor="middle" fill="#111" >Platelet</text>
<line x1="224.5" y1="772.6" x2="224.5" y2="774.1" stroke="#333" stroke-width="0.5" />
<text x="251.6" y="781.2" font-size="5.0" text-anchor="middle" fill="#111" >Erythrocyte</text>
<line x1="251.6" y1="772.6" x2="251.6" y2="774.1" stroke="#333" stroke-width="0.5" />
<text x="278.5" y="781.2" font-size="5.0" text-anchor="middle" fill="#111" >Mast Cell</text>
<line x1="278.5" y1="772.6" x2="278.5" y2="774.1" stroke="#333" stroke-width="0.5" />
<text x="305.1" y="781.2" font-size="5.0" text-anchor="middle" fill="#111" >Granulocyte</text>
<line x1="305.1" y1="772.6" x2="305.1" y2="774.1" stroke="#333" stroke-width="0.5" />
<text x="332.0" y="781.2" font-size="5.0" text-anchor="middle" fill="#111" >DC</text>
<line x1="332.0" y1="772.6" x2="332.0" y2="774.1" stroke="#333" stroke-width="0.5" />
<text x="359.0" y="781.2" font-size="5.0" text-anchor="middle" fill="#111" >Prog B</text>
<line x1="359.0" y1="772.6" x2="359.0" y2="774.1" stroke="#333" stroke-width="0.5" />
<text x="207.4" y="730.1" font-size="6.8" text-anchor="end" fill="#111" >0.0</text>
<line x1="209.9" y1="727.7" x2="211.4" y2="727.7" stroke="#333" stroke-width="0.5" />
<line x1="208.6" y1="714.9" x2="208.6" y2="690.0" stroke="#000" stroke-width="0.7" />
<path d="M207.5,690.5 L208.6,688.0 L209.7,690.5Z" fill="#000"/>
<line x1="208.6" y1="738.5" x2="208.6" y2="766.7" stroke="#000" stroke-width="0.7" />
<path d="M207.5,766.2 L208.6,768.7 L209.7,766.2Z" fill="#000"/>
<text x="0" y="0" font-size="6.7" fill="#111" text-anchor="middle" transform="translate(205.0,701.7) rotate(-90)">Increase</text>
<text x="0" y="0" font-size="6.9" fill="#111" text-anchor="middle" transform="translate(205.0,753.35) rotate(-90)">Decrease</text>
<text x="393.4" y="666.5" font-size="7.56" text-anchor="start" fill="#000" >CellOracle identify shift after SPI1 KO</text>
<text x="544.9" y="666.5" font-size="7.59" text-anchor="start" fill="#000" >CellOracle identify shift after GATA1 KO</text>
</svg></body></html>
